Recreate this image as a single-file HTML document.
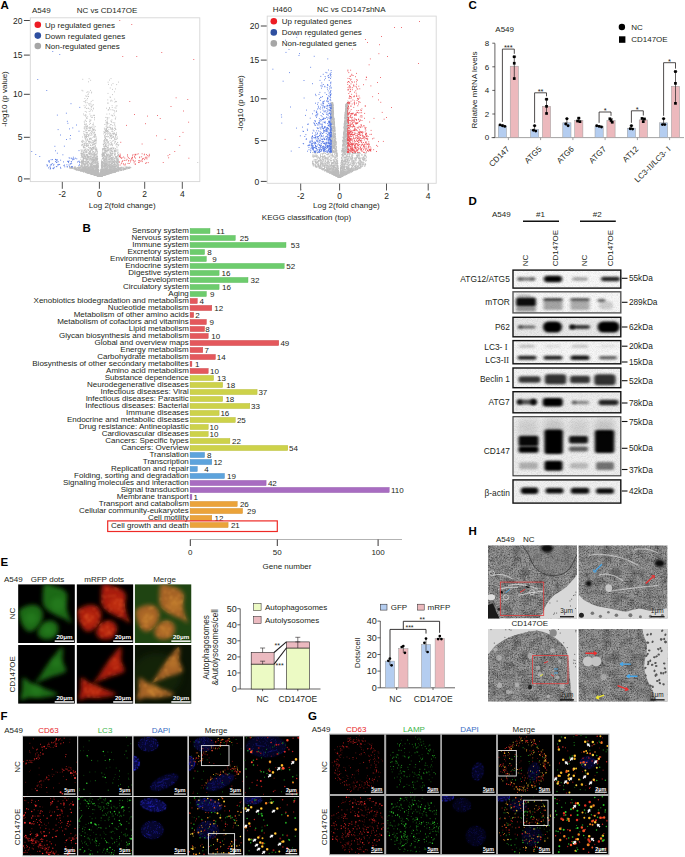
<!DOCTYPE html>
<html><head><meta charset="utf-8"><style>
html,body{margin:0;padding:0;background:#fff;}
#fig{position:relative;width:685px;height:857px;overflow:hidden;background:#fff;}
svg{display:block;}
text{font-family:"Liberation Sans", sans-serif;}
</style></head><body><div id="fig">
<svg width="685" height="857" viewBox="0 0 685 857" font-size="8" fill="#231f20">
<defs>
<filter id="b05" x="-30%" y="-30%" width="160%" height="160%"><feGaussianBlur stdDeviation="0.6"/></filter>
<filter id="b1" x="-20%" y="-20%" width="140%" height="140%"><feGaussianBlur stdDeviation="1"/></filter>
<filter id="bc" x="-30%" y="-30%" width="160%" height="160%"><feGaussianBlur stdDeviation="1.9"/></filter>
<filter id="b2" x="-30%" y="-30%" width="160%" height="160%"><feGaussianBlur stdDeviation="2"/></filter>
<filter id="b3" x="-30%" y="-30%" width="160%" height="160%"><feGaussianBlur stdDeviation="3"/></filter>
<filter id="bh" x="-30%" y="-100%" width="160%" height="300%"><feGaussianBlur stdDeviation="1.6 1.1"/></filter>
<filter id="tx" x="0" y="0" width="100%" height="100%"><feTurbulence type="fractalNoise" baseFrequency="0.75" numOctaves="2" seed="11"/><feColorMatrix type="matrix" values="0 0 0 0 0  0 0 0 0 0  0 0 0 0 0  3.2 0 0 0 -1.45"/><feComposite in2="SourceGraphic" operator="in"/></filter>
<filter id="txw" x="0" y="0" width="100%" height="100%"><feTurbulence type="fractalNoise" baseFrequency="0.7" numOctaves="2" seed="23"/><feColorMatrix type="matrix" values="0 0 0 0 1  0 0 0 0 1  0 0 0 0 1  3.0 0 0 0 -1.55"/><feComposite in2="SourceGraphic" operator="in"/></filter>
<filter id="txl" x="0" y="0" width="100%" height="100%"><feTurbulence type="fractalNoise" baseFrequency="0.12" numOctaves="3" seed="4"/><feColorMatrix type="matrix" values="0 0 0 0 0  0 0 0 0 0  0 0 0 0 0  2.4 0 0 0 -1.0"/><feComposite in2="SourceGraphic" operator="in"/></filter>
<filter id="em" x="0" y="0" width="100%" height="100%"><feTurbulence type="fractalNoise" baseFrequency="0.9" numOctaves="2" seed="3"/><feColorMatrix type="matrix" values="0 0 0 0 0  0 0 0 0 0  0 0 0 0 0  0 0 0 -1.6 1.05"/><feComposite in2="SourceGraphic" operator="in"/></filter>
<filter id="em2" x="0" y="0" width="100%" height="100%"><feTurbulence type="fractalNoise" baseFrequency="0.35" numOctaves="3" seed="8"/><feColorMatrix type="matrix" values="0 0 0 0 0  0 0 0 0 0  0 0 0 0 0  0 0 0 -2.2 1.25"/><feComposite in2="SourceGraphic" operator="in"/></filter>
<filter id="bn" x="0" y="0" width="100%" height="100%"><feTurbulence type="fractalNoise" baseFrequency="1.2" numOctaves="1" seed="5"/><feColorMatrix type="matrix" values="0 0 0 0 0  0 0 0 0 0  0 0 0 0 0  0 0 0 -0.9 0.55"/><feComposite in2="SourceGraphic" operator="in"/></filter>
</defs>
<rect x="30.3" y="17.8" width="169.5" height="163.8" fill="none" stroke="#d6d6d6" stroke-width="0.9"/>
<path d="M23.9 20.5L29.8 20.5" stroke="#444" stroke-width="1.0" fill="none"/>
<text x="22.4" y="23.6" font-size="8.5" text-anchor="end">20</text>
<path d="M23.9 55.1L29.8 55.1" stroke="#444" stroke-width="1.0" fill="none"/>
<text x="22.4" y="58.2" font-size="8.5" text-anchor="end">15</text>
<path d="M23.9 94.3L29.8 94.3" stroke="#444" stroke-width="1.0" fill="none"/>
<text x="22.4" y="97.4" font-size="8.5" text-anchor="end">10</text>
<path d="M23.9 137.3L29.8 137.3" stroke="#444" stroke-width="1.0" fill="none"/>
<text x="22.4" y="140.4" font-size="8.5" text-anchor="end">5</text>
<path d="M23.9 178.9L29.8 178.9" stroke="#444" stroke-width="1.0" fill="none"/>
<text x="22.4" y="182" font-size="8.5" text-anchor="end">0</text>
<path d="M62.3 181.9L62.3 188.8" stroke="#555" stroke-width="1.0" fill="none"/>
<text x="62.3" y="197" font-size="8.5" text-anchor="middle">-2</text>
<path d="M99.4 181.9L99.4 188.8" stroke="#555" stroke-width="1.0" fill="none"/>
<text x="99.4" y="197" font-size="8.5" text-anchor="middle">0</text>
<path d="M144.7 181.9L144.7 188.8" stroke="#555" stroke-width="1.0" fill="none"/>
<text x="144.7" y="197" font-size="8.5" text-anchor="middle">2</text>
<path d="M182.3 181.9L182.3 188.8" stroke="#555" stroke-width="1.0" fill="none"/>
<text x="182.3" y="197" font-size="8.5" text-anchor="middle">4</text>
<text x="32" y="13">A549</text>
<text x="76.8" y="13">NC vs CD147OE</text>
<text x="7" y="99" text-anchor="middle" transform="rotate(-90 7 99)">-log10 (p value)</text>
<text x="122.2" y="208.4" text-anchor="middle">Log 2(fold change)</text>
<path d="M101.9 168h0M98.6 176h0M95.7 171.6h0M125 169h0M69.9 167.9h0M96.2 174.1h0M81.2 162.5h0M90.2 159.2h0M86.9 160.1h0M118.8 162.3h0M94.3 173.3h0M120 170.7h0M96.1 173.4h0M110.9 120.9h0M106.4 172.6h0M100.9 175.6h0M81 165.6h0M110 172.1h0M84.2 169h0M103.9 163.3h0M88.1 154.1h0M107.6 171h0M106.1 168.4h0M97.6 174.1h0M103.2 173.1h0M91.7 172.4h0M82.4 164.2h0M81.7 141.7h0M107.2 172h0M100.6 175.9h0M96.6 168.2h0M103.1 173.9h0M103.4 174.4h0M103.1 170.1h0M91.3 149.2h0M86.5 170.5h0M93.4 171.4h0M95.5 174.2h0M84.3 147.5h0M84.3 170.4h0M94.1 165.6h0M115.9 129.5h0M101.6 175.5h0M127.8 167.7h0M96.7 174.3h0M90.5 173.2h0M115.6 150.2h0M115.6 150.1h0M88.6 135.2h0M107.6 173.8h0M113.5 169.2h0M90.9 130.4h0M96.2 172.5h0M107.8 152h0M102.7 175.4h0M111.1 147.8h0M98 163.9h0M85.3 170.7h0M87.4 169.9h0M98.8 175.5h0M84 164.5h0M86.6 160.4h0M84.3 166.3h0M108.5 171.7h0M105.7 138.5h0M101.8 175.3h0M93.5 167h0M105.1 137.9h0M94.5 174.8h0M88.2 96.5h0M102.6 169h0M110.6 169.2h0M93.3 169.9h0M93.6 153.9h0M90.6 173.6h0M97.8 175.3h0M111.9 169.6h0M100.6 174.9h0M95.5 175.2h0M95.3 175h0M99.2 175.3h0M102.4 171.2h0M92.6 117.3h0M105.8 172.6h0M84.3 164.6h0M92.5 171.7h0M115 107.8h0M98.5 172.7h0M72.4 167.7h0M102.2 175.7h0M102.5 156.4h0M95 171.2h0M101.3 172.8h0M106.4 172.7h0M95.3 161.2h0M92.8 173.3h0M111.6 154.8h0M102.4 159h0M104.5 148.1h0M98.8 176.1h0M98.3 171.1h0M87.7 157.1h0M95.7 175.3h0M96.7 175.3h0M106 144.7h0M86.3 167.1h0M107.2 154.8h0M96.6 159h0M78.9 167h0M98.9 175.9h0M92.2 157.4h0M103.6 165.8h0M98.3 175.7h0M77.2 169.8h0M92.3 159.5h0M85.6 172h0M105.1 174.9h0M111.5 164.8h0M101.6 160h0M107 174.3h0M92.5 170.7h0M103 158.1h0M106.7 143.8h0M80.8 170.8h0M85.9 115.6h0M113.3 148.1h0M97.5 175.6h0M107.6 174h0M104.1 153h0M102.6 173.5h0M104 174h0M102.6 167.2h0M109.4 166.2h0M106.7 163h0M98.7 175.6h0M100.8 172.7h0M105.9 164.2h0M100.7 175.9h0M113.4 170.2h0M90.3 156.1h0M117.9 170.1h0M86.5 171.5h0M116 108.1h0M106.4 122.1h0M84.5 154.8h0M101.4 163h0M84.8 153.8h0M111.2 100.2h0M86.5 169.8h0M101.4 162.4h0M98.8 176h0M105.9 174.6h0M103.3 174.2h0M100.5 176.2h0M100.7 172h0M105.8 164.5h0M93.4 161.1h0M95.9 156.7h0M109.7 137.9h0M96 173.8h0M88.5 168.3h0M86.5 171.1h0M93.6 174.7h0M110.8 166.7h0M115.6 129.3h0M91.3 163.3h0M105.6 165.5h0M112.7 172.4h0M89.3 171.7h0M100.4 176.2h0M112.3 172.8h0M90.8 165.2h0M116.8 165h0M95.8 174.1h0M106.8 168.2h0M104 174.1h0M92.5 169.7h0M113.3 161.1h0M101.4 171.7h0M95 163.1h0M109.5 80.1h0M86.3 144.6h0M94.2 170.6h0M105.6 164.4h0M97.3 174.1h0M83.7 172h0M96.8 174.7h0M83.1 170.7h0M100.8 175.8h0M75.8 168.2h0M75.7 168.6h0M114.6 151.1h0M82.5 168.3h0M98.7 172.8h0M88.9 167.6h0M100.5 176.2h0M101.4 175.5h0M98.5 174.9h0M103.1 173.5h0M90.8 169h0M84.2 171.8h0M124.9 167.1h0M120.6 168.8h0M83.9 169.3h0M110.6 167.7h0M94.3 173.5h0M82.7 170.4h0M97.3 160.2h0M118.2 168.1h0M87.2 143.5h0M97 173.1h0M103.5 173.6h0M86 145.1h0M115.2 168.3h0M105.1 170.2h0M112.5 166.4h0M90.2 138h0M110.3 150.8h0M97.3 167.8h0M102.5 174.9h0M95.7 175.2h0M102.2 164.3h0M102.7 150.4h0M91.2 101.4h0M89.5 172.6h0M72.4 167.9h0M120.3 170.2h0M93.3 160.2h0M101.2 174.7h0M105.2 138.1h0M114.7 169.7h0M113.2 110.2h0M120 168.9h0M129.1 167.9h0M110.8 171.5h0M105.8 153.1h0M114.9 166.9h0M94.5 174.2h0M92.1 169h0M108.6 167.4h0M85.8 167.7h0M126.8 167.3h0M100.6 173.7h0M115.9 161.8h0M102.6 155.5h0M98.8 174.1h0M75.7 169.3h0M85.3 169.9h0M103.4 173.2h0M112.5 89.4h0M110.7 153.3h0M109.8 171.2h0M116.5 134.1h0M105.5 145.2h0M78.9 169.8h0M124.1 168.4h0M101.4 163.6h0M86.3 154.6h0M116.6 168.1h0M99.3 176.3h0M99.1 175.1h0M97.8 167.2h0M97.3 175.3h0M111.5 148.7h0M83.7 152.5h0M101 174.4h0M86.2 135.4h0M92.1 159.5h0M82.3 162.4h0M100.9 171.5h0M102.2 175.7h0M112.3 160.8h0M100.8 176h0M102.8 174.7h0M87.2 172.4h0M91.3 170.7h0M97.3 164h0M88.2 108.1h0M94.4 174.3h0M116.9 151.4h0M106 171.9h0M90.2 158.9h0M111.9 155.7h0M107.8 99.9h0M97.6 172.9h0M104.8 153.5h0M103.9 171.4h0M106.1 139.7h0M93.2 174.6h0M94 166.8h0M88.3 157h0M80.9 162.4h0M105.3 173.9h0M107.3 174h0M116 157.8h0M88.2 159.1h0M84.8 155.3h0M101.5 165.3h0M113.6 168.1h0M95.8 169.4h0M96.1 174.7h0M81.8 164.3h0M129.5 167.5h0M90 127.7h0M83.2 160.3h0M100.8 171.9h0M117.2 159.7h0M104.4 173.2h0M90.6 90.4h0M87.8 159.4h0M93.5 173.8h0M110.9 170.6h0M96 172.3h0M109.1 166.9h0M116.6 159.3h0M104.2 173.2h0M85.6 136.3h0M85.5 169.3h0M98.8 175.8h0M94.3 143.8h0M104.6 175h0M85.2 138.4h0M115.1 165.9h0M101.1 174.4h0M102.3 175.1h0M86.8 136.4h0M91.3 173h0M108.3 145.3h0M110.6 97.3h0M102.8 174.8h0M81.9 165.1h0M109.7 166.8h0M96.4 172.7h0M82.7 170.6h0M115.9 139.1h0M103.9 144.1h0M89.9 169.2h0M99.1 175.5h0M117.8 159.7h0M86.5 166.6h0M99 174.7h0M90.4 158.4h0M92.6 162.5h0M100.3 176.2h0M108.9 133.9h0M96.4 167.5h0M100.5 175h0M97.7 175.3h0M111.9 171.8h0M79.7 168.8h0M96.4 175h0M106.5 130.7h0M99.3 176.3h0M92.8 173.1h0M121.6 170h0M110.5 173.4h0M80.9 167.2h0M110.2 150.9h0M107.8 162.3h0M102.2 154.5h0M90.7 170.2h0M82.2 166.1h0M98.8 170.8h0M104.9 175h0M95.5 175.1h0M101.5 175.7h0M98.8 176h0M98 161.5h0M104.3 174.9h0M75.1 168.7h0M105.3 161.4h0M91.9 161.7h0M103.3 169.9h0M104.7 150.2h0M98.5 169.9h0M85.7 158.1h0M88.2 162.9h0M124.8 169.5h0M100.9 176h0M117.6 144.7h0M103.3 155.7h0M109.4 159.4h0M97.4 175.7h0M103.6 175.1h0M87.6 170.5h0M89.5 168.6h0M102.6 173.4h0M90.2 138.6h0M91.3 173.6h0M82.7 142.2h0M79.4 169.4h0M104.5 172.4h0M82.8 171.1h0M107.2 171.2h0M92.2 168.9h0M97.9 175.5h0M103.7 141.9h0M95.4 145.8h0M102.8 156.1h0M112.8 167.3h0M116.4 171.4h0M94.4 174.7h0M98.3 172.8h0M82 154.2h0M78.9 168h0M98.4 172.7h0M109.9 134.3h0M112.4 171.8h0M96.3 171.2h0M116.4 165.6h0M111.4 142.1h0M97.1 175.5h0M114.7 163.6h0M97.8 175.7h0M92.3 173.9h0M82.9 153h0M116 168.3h0M94.1 174.7h0M97.6 175.3h0M103.5 175.3h0M94.4 173.8h0M115.7 161h0M82.6 151h0M118.4 160.1h0M103.4 144.5h0M87.9 91.7h0M102.1 174.6h0M99.2 176.1h0M111.2 129.5h0M92 167.3h0M102.9 148.6h0M90.1 169.9h0M92.4 173.2h0M126.3 168.5h0M101.4 175.2h0M113.7 171.1h0M114.7 160.5h0M112.9 165.3h0M108.7 165.7h0M96.1 174.6h0M111.7 172.6h0M96.4 173h0M95 163.2h0M83.3 169.2h0M119.5 169.1h0M88.9 104h0M82.3 153.4h0M118.9 167.5h0M98.2 175.5h0M90.2 120.6h0M91.4 171.1h0M108.3 172h0M105.8 173.3h0M93.5 168.5h0M115.9 171.5h0M91.3 173.8h0M112 151.3h0M101.6 175.8h0M112.8 157.3h0M85.8 170.2h0M89.9 119.8h0M103.5 153.2h0M115.7 142h0M83.1 156.3h0M97.3 173h0M88.3 130.8h0M99.3 176.3h0M96.6 167.9h0M93.4 172.8h0M110.1 138.1h0M95.9 167.5h0M97.9 164.4h0M80.6 169.8h0M100.4 175.4h0M102.3 174.1h0M96.7 175.6h0M92.8 171.1h0M87.7 172h0M93 160h0M95 168.5h0M92.4 147.7h0M88.5 171.9h0M96.8 171.8h0M104.5 172.4h0M129.6 167h0M105.9 169.1h0M89.3 169.3h0M103.7 169.4h0M91.5 173.7h0M89.9 172.6h0M107.9 161.7h0M106.6 172.1h0M106.3 168.7h0M85.4 171.1h0M104.3 165.1h0M98.9 175.7h0M96.2 166.7h0M105.3 152.3h0M108.6 173.4h0M114.8 171.9h0M95.6 173.2h0M101 176.1h0M109 159.6h0M96.2 175.4h0M99.2 175.8h0M95 152.5h0M93.1 155.1h0M92.6 151h0M81.2 161.5h0M98.8 175.9h0M103.6 175h0M111.8 169.4h0M105.6 157.3h0M87.7 172.9h0M104.3 174.9h0M98.3 171.6h0M101.9 175.6h0M121 167.3h0M94.7 173.9h0M103.1 174.4h0M89.8 173.6h0M102.1 174.4h0M102.2 175.7h0M112.6 165.6h0M89.5 171.2h0M100.4 175.8h0M108.7 170.5h0M91.8 169.9h0M103.5 175.1h0M92.6 145.4h0M104.1 169.8h0M107.7 172.4h0M101.3 171.5h0M109.3 127.2h0M81.6 171.2h0M84.2 143.6h0M100.4 175.8h0M100.4 175.4h0M96.6 173.4h0M113.8 157.4h0M105.4 173h0M111.5 170.5h0M107.7 158.8h0M96.8 166.4h0M107.8 127.7h0M96.2 167.9h0M87.2 126.8h0M97.8 171.5h0M106.7 172.1h0M88.9 135.7h0M104.3 149.1h0M89.8 121.6h0M90.5 127.3h0M97.2 163h0M98.7 176.1h0M98.4 174.3h0M88.4 141.5h0M109.3 164.2h0M96.8 174.3h0M101.6 175.7h0M92.3 172.9h0M93 157.4h0M98.5 176.1h0M100.3 176.3h0M106.9 169.2h0M106.7 161.4h0M100.4 176.3h0M97.9 165.3h0M80.5 167.8h0M92.7 169.7h0M99 175.7h0M110.6 169.7h0M105.9 172.8h0M80.3 171h0M95.2 154.4h0M105.4 170.3h0M89 134.9h0M85.7 151.2h0M91.5 173.5h0M83.4 170.3h0M108.9 159.4h0M114.7 138.3h0M106.3 174.4h0M112.1 172h0M93.1 173.9h0M106.1 174.6h0M93.5 172.6h0M114.4 133.1h0M104.7 171h0M93.3 159.8h0M96.5 171.9h0M105.4 158.7h0M84.9 107.7h0M112.4 141.1h0M90.5 172.9h0M109.5 166.3h0M96 149.5h0M116.6 101.6h0M98.7 175h0M95 172.5h0M91 160.9h0M101.7 165.5h0M106.1 169.7h0M112.9 170.7h0M111.6 167.6h0M95.8 159.8h0M88.4 173.1h0M115.5 136.9h0M81.8 169.2h0M109.6 107.6h0M101.8 162.5h0M88 167.2h0M110.1 169h0M106 159.7h0M106.8 165.4h0M117.7 163.7h0M86.6 130.3h0M93.5 170.9h0M105.2 171.6h0M101.2 176h0M111.8 163.1h0M94.1 173.3h0M103.9 174.8h0M79.7 167.3h0M108.2 110.3h0M94.8 170.2h0M102.7 154.3h0M103.4 175.4h0M92.7 173.8h0M92.3 174.3h0M96.3 171.1h0M105.4 146h0M90.9 169.2h0M98.9 176.1h0M104.8 173.1h0M93.6 172.1h0M93.3 159.4h0M96.3 175h0M97.6 175.6h0M113.5 136.4h0M81 149.9h0M114.9 168h0M117.8 162.1h0M106.2 165.5h0M89.7 163.8h0M93.5 148h0M94.5 166.7h0M87.5 172.5h0M101.4 175h0M84.5 166.7h0M102.1 174.9h0M113.7 166.4h0M93.2 173.7h0M115.4 158.1h0M109.3 171.5h0M98.8 175.5h0M104.4 171.5h0M126.4 167.4h0M92.6 147.9h0M109 155h0M91.6 170.6h0M108.5 172.1h0M92.7 171.2h0M113.7 137.1h0M75.1 169h0M118 170.7h0M103.3 175.2h0M90.2 153.6h0M93.2 170.6h0M101.7 174.4h0M99.1 176.2h0M97.4 175.5h0M102.2 175.5h0M103.5 173.9h0M96.6 173.8h0M87.5 169.5h0M91.7 173.9h0M102 167.2h0M106.2 172.2h0M101 175.2h0M117.7 158.3h0M94 161.9h0M99.3 176.4h0M103.3 174.3h0M86.9 148.9h0M105.7 164.8h0M88.5 171.4h0M112.8 153.5h0M83.1 157.5h0M104.6 163.5h0M93.9 165.8h0M79.9 167.4h0M112.1 166.6h0M98.1 174.1h0M104.7 174.1h0M107.6 154.9h0M104.4 159.9h0M99.1 176.2h0M102.5 169.4h0M102.1 174.7h0M103.8 160.6h0M105.7 135h0M114 161h0M84.5 170.8h0M87.8 170.4h0M106.4 170.6h0M108 162.6h0M87.6 161.1h0M89 168.7h0M96.7 160.2h0M96.7 166.7h0M89.8 141.4h0M98.6 175.5h0M95.9 163.4h0M101.6 168.9h0M102.7 174.5h0M88.7 150.7h0M88.2 172.1h0M106.3 169.9h0M93.7 168.7h0M98 175.2h0M79.1 167.8h0M112.1 161.5h0M90.2 151.1h0M104.4 162.5h0M97.7 172.7h0M82.5 156.8h0M87.6 98.5h0M94.1 159.3h0M96 150.2h0M110.7 148.9h0M83.4 146.1h0M83.6 146.9h0M117.2 161.2h0M84.6 168.5h0M114.7 130.5h0M102.8 167.6h0M108.7 136.6h0M101 170.5h0M88.1 165.5h0M104.9 169.6h0M101.1 170.9h0M106.8 173.7h0M105.5 169.5h0M97.6 175.8h0M97.6 172.9h0M84.9 156.6h0M110.5 173h0M94.5 117.9h0M107 163.9h0M112.9 167.7h0M118.6 166.8h0M103.3 148.4h0M102.1 156.5h0M97 152.9h0M115.5 168.5h0M89.1 128.2h0M112.5 171.8h0M85.2 111.5h0M108.1 149.7h0M97.1 161.7h0M103.3 173.3h0M90.5 116h0M105.4 150.6h0M120.4 167.7h0M114.8 172.1h0M114.1 153.1h0M107.5 150.9h0M84.1 169.6h0M106.5 171h0M112.3 170.7h0M100.4 176.3h0M106.6 151.2h0M95.4 141.1h0M87 118.4h0M118 150h0M109.2 161.8h0M93 173.9h0M104.8 137.1h0M104.4 132.6h0M85.4 157.8h0M86 137.6h0M105.7 174.1h0M101.6 171h0M107.1 136.7h0M109.3 113.9h0M93.9 148.8h0M102.4 174h0M93.5 108.2h0M104.9 174.2h0M112.1 105.7h0M111.5 148.4h0M94.9 174.8h0M102.4 175.4h0M84.8 167.8h0M105.8 117.4h0M95.4 174.9h0M87.6 164.2h0M82 153.4h0M82.9 154.7h0M85.5 171.6h0M114.3 159.7h0M96.4 166.2h0M75.8 168.8h0M113 83.6h0M92.7 163.7h0M100.6 173.9h0M84.2 127.1h0M104.7 154.5h0M97.8 163.6h0M97.4 175.7h0M86.4 169.5h0M105.6 159.2h0M87.5 172.6h0M97.9 174.2h0M112.2 133.5h0M126.3 167h0M91.8 170.3h0M96.3 139.1h0M97 153.5h0M99 172.7h0M108 174h0M98.1 175.7h0M100.5 175h0M95.4 140.1h0M94.4 173.5h0M88.9 147.2h0M84.4 158.1h0M112.1 101h0M83 144.3h0M96.6 173.6h0M129.1 168.1h0M99.1 175.8h0M88.1 166.2h0M81.2 154.1h0M97.2 155.1h0M94.6 170.6h0M95.8 173.3h0M101.1 174.9h0M103.6 173.9h0M91.3 169.4h0M106.5 163.2h0M103.4 163.6h0M101.9 169.5h0M89.8 128.8h0M71.2 167.6h0M88.8 172.3h0M96 166.9h0M94.8 160.3h0M104.1 171.6h0M83.7 158.4h0M81.4 161h0M114.9 164.7h0M98.8 175.1h0M101.1 175.6h0M111.2 173.3h0M90.5 166h0M93.5 160.6h0M92.5 157.6h0M98.9 175.2h0M101.8 173.1h0M98.6 175.5h0M98.3 172.2h0M104.1 165h0M103.7 174.9h0M91.6 173.4h0M98.1 174.6h0M114.6 171.8h0M102 175.6h0M100.5 176.2h0M87.7 169.2h0M103.4 170.6h0M98.7 175.4h0M118.7 170.8h0M93.8 174.2h0M111.6 150.6h0M90.9 164.4h0M90.7 173.7h0M106.7 174.1h0M108 173.5h0M89.9 139.2h0M97.3 156.8h0M95.4 157.9h0M74.9 168.7h0M99.1 176.2h0M92.8 144.2h0M93.3 170.3h0M79.4 167.8h0M97.9 170.5h0M115.2 126.1h0M93.8 170.8h0M114.7 143.3h0M91 172.7h0M93.5 151.5h0M83.7 161.5h0M104.2 155.4h0M92.1 171.1h0M92.3 130h0M98 171.6h0M109.5 171.5h0M84.7 123h0M105 163.9h0M84.8 164.7h0M105.6 120.7h0M107.2 165.9h0M93.2 148.3h0M97.3 175.5h0M97 149.2h0M76.8 169.8h0M111.2 144.6h0M101.8 174.2h0M96.1 174.5h0M111.7 158.8h0M109.4 161.9h0M118.3 161.5h0M97.2 175.4h0M115.9 159h0M83.2 159.4h0M101.6 171.1h0M98.2 175h0M92.9 173.7h0M96.1 175.4h0M93.2 172.8h0M100.6 175.7h0M98.1 176h0M91.3 154.3h0M129.3 168.1h0M90.5 145.5h0M112.2 172.1h0M105 168.6h0M106 149.9h0M87.4 165.6h0M96.6 168.6h0M103.8 173.8h0M101.3 176h0M89.7 172.5h0M105.7 137h0M108.4 84.4h0M106.7 169.8h0M100.8 176h0M92.6 167.6h0M97.6 175.4h0M108.7 165.5h0M98.6 175.8h0M113.5 161.9h0M114.2 170.7h0M115.8 150.8h0M102.9 174.6h0M97.9 166.1h0M91 158.1h0M84 154.8h0M81.3 170h0M104.5 174.8h0M123.9 168.8h0M106.6 129.7h0M107.7 123.2h0M97.9 174.1h0M108.9 161.4h0M81.3 170h0M85.7 107h0M99.2 175.5h0M99.2 176.3h0M85.8 124.9h0M112.7 170.4h0M101 175.4h0M112.6 151.5h0M97.1 158.9h0M93.3 148h0M104.1 160h0M102.9 175.5h0M94.8 140.6h0M97.6 168.9h0M99 176.3h0M85.4 167.9h0M92.2 170.9h0M113.5 170.2h0M111.1 172.7h0M103.8 174.6h0M72.5 167.3h0M94.7 172.5h0M87.4 162.2h0M104.3 175.2h0M83.4 147.3h0M116.1 162.3h0M102.6 167.4h0M103.6 173.3h0M97.3 152.8h0M76.3 168.4h0M86.7 154.8h0M74.8 168.9h0M84.4 137.1h0M89.3 130.6h0M98.6 171.3h0M95 171.4h0M102.1 167.6h0M94.3 136.8h0M86.8 172h0M93.9 136.6h0M82.9 155.3h0M114.9 167.1h0M102.9 166.6h0M88.6 162.6h0M89.7 171.7h0M113 167.4h0M93.8 173.1h0M109.6 171h0M101.6 173.8h0M98.3 172.1h0M93.8 171.5h0M86.9 162.7h0M104.5 160.1h0M96.3 173.8h0M117.8 161.3h0M105.4 173.6h0M95.5 175.2h0M89.9 148.6h0M108.6 156.2h0M109.3 165.5h0M94.3 172.1h0M89.3 172.9h0M97.2 168.4h0M95.3 161.8h0M97.3 171.3h0M91.7 173.8h0M91.2 143.2h0M94.6 155.5h0M95.5 134.7h0M91.1 172.9h0M98.5 174.9h0M115.8 117.1h0M108.6 171.2h0M111.1 158.4h0M88 140.3h0M104.3 164.3h0M95.4 162.5h0M93.3 173.6h0M81.2 168.9h0M89.9 154.3h0M107.2 163.7h0M112.2 159h0M98.3 173.6h0M106.5 154.5h0M102.9 174.8h0M107.9 166.9h0M110.6 170.1h0M115.5 156.4h0M108.6 142.6h0M114.4 133.8h0M110.4 136.5h0M101 175.9h0M105.1 152.2h0M85.1 152.4h0M105.1 174.9h0M103.7 172.2h0M85.2 155.2h0M107.6 171.7h0M106 153.3h0M105.5 163.7h0M115.9 166.1h0M115.5 134.6h0M106.4 171.2h0M104.7 161.4h0M93.5 170.9h0M99.2 176.2h0M85.8 114.6h0M105.8 131.4h0M91.4 168.1h0M88.6 161.5h0M92.9 172.6h0M97.7 171.9h0M92.8 132.3h0M81.8 169.2h0M98.2 174.5h0M92.9 152.3h0M129 168.3h0M89.5 138.6h0M91.9 106.6h0M93.1 155.8h0M98.8 175h0M87.5 170.2h0M101.1 169.4h0M95.3 175.1h0M93.1 160.9h0M88.4 161.4h0M109.7 172.2h0M92.4 173.8h0M97.7 175.8h0M93.2 129.6h0M83 171.4h0M94.8 167h0M84.9 98.5h0M99.2 176.1h0M92.5 173.4h0M104.3 171.1h0M103.1 174.2h0M93.1 169.6h0M106.4 173.7h0M85.4 171.7h0M98.4 175.8h0M103 174.7h0M102.9 175.6h0M118.1 152.1h0M101 175.9h0M96.2 149.9h0M107.4 174.3h0M110.3 165.8h0M103.2 171.3h0M97.4 171.4h0M101.3 174.3h0M106.6 173.2h0M91 169.5h0M95.6 158.2h0M94.2 166.7h0M115.8 171.6h0M117 170.6h0M85.8 142.8h0M101.5 171.1h0M110.6 171.3h0M104.9 172.1h0M94.5 153.8h0M95 173.7h0M82.6 144.4h0M101 175h0M97.7 169.1h0M107.6 173.7h0M94.7 173.6h0M113.9 113.8h0M83.7 169.6h0M84.6 168.7h0M93.7 174.5h0M84.3 168.6h0M113.1 168.9h0M97.9 174.3h0M106.4 159h0M98.7 176.2h0M112.9 163h0M96.3 172.2h0M88.3 145.1h0M107.2 140.7h0M96 175.3h0M91 171.4h0M108.8 169.2h0M96.9 169.7h0M112.2 172.5h0M114.5 160.8h0M102.5 175.7h0M127 168.8h0M103.5 166.4h0M91.4 148.2h0M112.1 162.5h0M101.4 175.5h0M112.1 157.4h0M102.6 163.2h0M88.5 171.4h0M85.1 151.5h0M116.9 169.6h0M91.9 173.2h0M91.9 153.4h0M88.2 168.8h0M96.1 158.5h0M87.3 156.7h0M94.6 159.7h0M88.9 156.6h0M105.6 142.8h0M103 174.1h0M97.5 165.1h0M115.3 170.4h0M93.7 154.1h0M87.7 158.1h0M90.9 169.5h0M106.2 128.8h0M106.2 146.3h0M101.8 174.2h0M111.7 169.2h0M102.6 174.9h0M111.5 163.5h0M90.3 171.6h0M97.8 172.6h0M105.5 168.7h0M107 141.5h0M83.3 160.9h0M92.4 173.3h0M110.4 155.3h0M94.4 174.8h0M109.7 158.4h0M87.7 163.4h0M100.8 176.2h0M87.4 139h0M88.4 172.3h0M87 168.6h0M92.4 128.9h0M103.6 154h0M97.7 174.4h0M99.2 174.7h0M107.6 174h0M100.5 174.2h0M114 166.3h0M87 126.5h0M110.2 171.6h0M113.9 161.6h0M100.5 176h0M86.6 112.1h0M111.6 135.7h0M95.7 165.7h0M83.3 158.3h0M85.1 165h0M96.8 175.3h0M108.6 173.4h0M97.1 164.7h0M110.2 164.9h0M80.8 159.3h0M90.5 170.9h0M103.9 171.4h0M74.2 167.1h0M82.8 171.3h0M92.8 152h0M97.9 173.3h0M108.7 171.9h0M119.3 167.9h0M97.5 174.5h0M78.3 168.8h0M98.4 175h0M83.3 162.8h0M88.8 161h0M121.7 170.1h0M91.8 158.3h0M98.9 174.7h0M92.6 154.8h0M101.2 168.8h0M105.4 170.5h0M92.3 170h0M110.7 170.1h0M114.9 171.7h0M106.5 161h0M114.2 171.4h0M96.4 169.4h0M94.7 158.6h0M108.3 131.4h0M95.8 174.8h0M84.1 167.3h0M106.3 174.6h0M108.4 172.8h0M113 168.9h0M97.2 175.1h0M108.3 109.5h0M93.1 140.6h0M107.7 170.1h0M94.8 157.7h0M86.6 163.7h0M94.7 173.9h0M107.1 119.8h0M108.2 170.8h0M105.5 174.8h0M100.3 176.3h0M106.8 164.6h0M101.1 176h0M93 174.2h0M104.7 148h0M103 171.9h0M114 133.2h0M110.6 170.2h0M113 129.4h0M116.2 165.8h0M98.1 173.2h0M94.8 174.4h0M82.8 79.3h0M98 175.5h0M99 176.2h0M101.3 175h0M93.2 161.5h0M102.2 167.4h0M69.9 168.1h0M96 137.6h0M89.5 143.2h0M129.9 167.5h0M113.1 168.5h0M111.9 164.8h0M74.6 168.3h0M116.3 157.5h0M109.4 171.7h0M118 167.6h0M76.6 169.5h0M87.4 140.1h0M81.5 165.4h0M95.2 126.6h0M118.2 156h0M75.3 167.1h0M84.6 145.6h0M107.2 173.9h0M91.3 170h0M115.7 171.1h0M100.5 176.2h0M103.3 175.3h0M76.3 169.4h0M98.6 175.8h0M102 175.8h0M107.4 173.9h0M81.8 151.2h0M96.7 175.6h0M105.8 129h0M111.6 144.4h0M105.1 160.7h0M111.2 171.8h0M99 173.2h0M107.9 173.5h0M111.9 163.3h0M94.9 157.4h0M105.8 173.9h0M102.8 174.4h0M104 156.1h0M104.7 171.6h0M96.2 173h0M102.9 167.7h0M106.4 168h0M99 172.9h0M111.9 119.9h0M91.8 158.2h0M91.3 171.2h0M104.9 160h0M108.7 141.5h0M88.2 169.6h0M98.6 176.2h0M96.3 157h0M97 174.5h0M103 168.8h0M96.8 175.4h0M116.9 162.1h0M85.4 161.3h0M115.4 172.1h0M110.6 170.3h0M98.5 175.5h0M87.3 171.9h0M102.6 167.5h0M98.7 174.4h0M92.5 147.4h0M94.6 173h0M98.4 170.5h0M108.2 170.9h0M96.5 170.8h0M113.8 137.2h0M89.8 158.5h0M86.3 143.7h0M97.5 174.7h0M98.7 170h0M107.5 154.9h0M96.6 172.3h0M109.9 165.5h0M114.3 158.5h0M84.5 156.5h0M98 175.9h0M114.2 151.9h0M91.3 117.4h0M91.5 173.3h0M72.4 168.5h0M105.8 170h0M114.6 170.8h0M93.3 174.2h0M109.4 172.7h0M121.8 170h0M98.1 175.4h0M96.7 167h0M113.4 168.8h0M81.4 154h0M96.5 169.7h0M105.6 174.7h0M92.9 165.6h0M114 170.3h0M91.9 172h0M101.9 165.3h0M110.2 170.5h0M86.5 159.5h0M97.8 174.2h0M107.5 130.8h0M101.7 163.1h0M107 172.7h0M93.7 174.7h0M83.6 169.1h0M122.8 167.5h0M74.9 167.7h0M107.2 148.1h0M98.3 174.7h0M130.1 167.1h0M87.2 132.5h0M98.9 176.2h0M106.6 158.1h0M86.4 169h0M112.5 129.1h0M99 176.2h0M115.9 171.7h0M87.5 156.2h0M96.2 175.2h0M81.7 170h0M92.8 131h0M87.4 171h0M85.5 164.3h0M98.8 175.6h0M98.6 171.6h0M113.3 140.6h0M84.3 170.4h0M86.4 166.2h0M110.8 172.7h0M106.1 129.6h0M90.5 164.1h0M83.2 158.7h0M86.7 152.5h0M97.2 167.6h0M89.8 168.9h0M106.5 173.3h0M110.9 165h0M100.5 175.4h0M98.5 176h0M115.8 135.6h0M95.6 171.8h0M101.5 174.4h0M128.3 168.4h0M107.4 117.9h0M88.5 168.5h0M86.6 172.3h0M94.5 148h0M119 167.7h0M109.1 166.4h0M92.7 173.2h0M107.1 168.6h0M93.6 165.6h0M108 161.1h0M107.8 127.5h0M93.2 133.3h0M107.2 168.3h0M104.1 161h0M114.5 91.8h0M97.6 173.8h0M105.5 169.8h0M114.6 150.2h0M87.2 139.7h0M98.8 176.1h0M88.4 161.5h0M106.4 140.4h0M101.1 173.6h0M91.2 172.2h0M106 173.7h0M103.6 157.8h0M92.5 172.4h0M101.5 172.3h0M100.4 176.1h0M90.4 173.4h0M90.6 173.6h0M96.1 170.6h0M102.1 171.9h0M102.9 173h0M101.8 174.9h0M113.3 133.4h0M95.2 160.5h0M108.5 171.8h0M90 151.6h0M103.7 175.1h0M97.5 172.7h0M107.8 148.1h0M102 174.7h0M88.3 165.9h0M109.7 162.7h0M101.9 175.8h0M88.9 158.3h0M84.5 163.7h0M97.1 169.2h0M96.5 175.2h0M99.2 175.6h0M91.6 131.7h0M78.3 169.8h0M113.5 164.7h0M82.9 157.3h0M118.5 168.3h0M115.7 136.1h0M101.5 162.9h0M108.4 147h0M99 175.7h0M96 171.9h0M115.6 166.5h0M114.7 163.7h0M86.8 155.3h0M83.9 171.6h0M115.3 170.4h0M91.6 165.9h0M92 150h0M89.1 147.7h0M91 172.4h0M74.4 168.6h0M105.9 174.5h0M87.4 146.1h0M91.3 107.2h0M83.3 169.6h0M117.7 169.2h0M114.3 171.5h0M99.2 176.3h0M93.5 168.7h0M103.1 153.8h0M100.6 175.1h0M102.8 171.9h0M120.1 169.4h0M108.9 145h0M88.8 141.5h0M89.4 153.5h0M91.9 159.6h0M97.5 175.6h0M89.1 171.2h0M90.5 171.9h0M101.6 175.8h0M97.7 175.6h0M94.2 173.1h0M95 165.7h0M101.4 173h0M94.9 134h0M96.1 168.6h0M106.9 131.4h0M115.1 164.9h0M86.4 172.7h0M98.7 175.4h0M111.8 131.3h0M86 168.7h0M85.2 169.8h0M92 169.3h0M83.8 167.8h0M103.5 144.8h0M84.9 168.1h0M121.8 169h0M83.5 153.9h0M91.2 173.6h0M109 173.7h0M104.3 172.8h0M97.6 175.2h0M84.2 143.5h0M117 150h0M86 172.1h0M94.3 174.2h0M95.6 173h0M85.2 166.7h0M100.6 173.2h0M87.3 171.7h0M97.3 169h0M88.3 169.5h0M94 160.2h0M93.5 160.1h0M101.6 173.7h0M105.6 130.6h0M116.9 161.9h0M112.5 154h0M86.8 132.4h0M97.9 173.5h0M112.5 161.1h0M104.6 143.5h0M100.7 173h0M101.3 165h0M86.8 170.8h0M103.7 174.3h0M96.2 174.7h0M89.9 160h0M92.4 172.8h0M104.9 163.3h0M125.6 169h0M102.7 174.5h0M93.9 172h0M94.9 163.7h0M104.2 166.7h0M115.9 156.9h0M83.9 133.4h0M97.9 175.6h0M86 172.3h0M123.5 169.4h0M86.9 100h0M78.5 167h0M111 78.6h0M101.3 175.8h0M90.8 173.5h0M101.7 170.5h0M96.5 159.8h0M104.1 172.6h0M102.5 149.5h0M102 164h0M98.7 176.2h0M91 170.2h0M108.8 154h0M107.3 172h0M91.6 109.3h0M87.3 161.4h0M94.8 174.9h0M104.5 173.7h0M111.3 171.9h0M102.6 175.6h0M84.2 158.9h0M91.3 163.4h0M89.3 105.2h0M104.4 141.4h0M102.7 172.2h0M96.2 138.9h0M111.5 164h0M93.6 157.6h0M96.2 174.7h0M101.9 174.8h0M99.1 175.5h0M102.2 162.7h0M106.1 174.2h0M107 122.4h0M94.1 132.8h0M103.5 154.1h0M116.3 162.5h0M96.8 174.5h0M94.6 174.2h0M85.1 170.7h0M125.5 169h0M98.2 171.1h0M116.6 168.3h0M108.2 168.6h0M104.4 175h0M123.4 168.3h0M100.9 174.8h0M93.4 163.6h0M101.8 172.9h0M106.5 129.2h0M97.6 159.9h0M112.2 171.3h0M98.6 174.2h0M101.5 174.6h0M113.4 170.4h0M100.9 172.6h0M98.4 165.1h0M104 131.5h0M101.5 173.9h0M117.1 165.6h0M83.9 171.1h0M95.9 175.3h0M90.5 147.5h0M90.4 168.7h0M74.9 169.2h0M103.7 174.6h0M84.1 134.9h0M93.9 144.3h0M95.7 175.2h0M102.8 165h0M84.8 146h0M84.5 169.8h0M92 171h0M95.8 173.3h0M109.7 173.6h0M103.5 159.3h0M84.8 141.9h0M86.7 170.8h0M113.5 162.2h0M115.2 168.3h0M92.8 168.3h0M90.9 173.6h0M101.3 174.4h0M93.9 171.7h0M92.4 162.1h0M103.9 140.5h0M100.6 175.1h0M103.3 148.9h0M82.5 137h0M101.5 172.6h0M121.1 170.2h0M90.2 173.6h0M93 160.9h0M89.4 171.5h0M100.9 169.8h0M90.9 173h0M110.8 135.7h0M80.8 169.1h0M90.3 158.4h0M86.7 155.1h0M97.6 175.3h0M95.2 130.6h0M86.2 154.3h0M86.5 172.1h0M86.4 166.6h0M82 170.1h0M114.9 171.8h0M111.6 167.3h0M115.6 170h0M104.4 172.7h0M93.3 169.6h0M108.1 165.4h0M115.5 169.1h0M109.5 170.5h0M104.1 174.7h0M81.8 156h0M101.2 175.8h0M110 144.4h0M101 175.8h0M89.9 168.6h0M102.7 158.6h0M82 90.3h0M95.1 172.9h0M111.1 160.1h0M112.1 157.8h0M85.4 158.1h0M102.3 158.6h0M83.3 167.1h0M104.9 175h0M95.4 170h0M98 167.5h0M101.5 175.9h0M93.6 174.6h0M102.1 175.6h0M93.6 160.4h0M93.4 104.8h0M98.2 175.8h0M92.6 171h0M101 175.7h0M81.9 161h0M108.4 170.6h0M103.9 163.7h0M97.5 172.2h0M100.7 176.1h0M88 166h0M81.2 166.6h0M97 169.1h0M84 152.6h0M95.8 170.8h0M95.7 173h0M81.1 170.4h0M114 171.9h0M117.2 168.9h0M104.7 172.4h0M98.8 175.8h0M110.4 173.2h0M104.1 145.9h0M96.7 174.9h0M105.4 138.7h0M97.6 175.7h0M95.1 171.6h0M88 171h0M101.7 175.8h0M95 160.1h0M114.8 154.7h0M98.7 174.2h0M98.2 163.9h0M93.9 173.1h0M86 164.4h0M97 173h0M99.3 176.3h0M103.8 146.6h0M106.3 159.5h0M107 123.5h0M92.5 161.3h0M90.4 170.7h0M84.8 129h0M104.7 173.5h0M86.5 121.4h0M101.5 175.4h0M93 160.2h0M85.2 137h0M115.4 153.9h0M114.8 164.1h0M103.3 173.6h0M115.9 164.4h0M91 170.5h0M101.3 175.1h0M90.9 152.4h0M102 175.8h0M99.1 175.8h0M96.5 169.4h0M105.1 166.7h0M98.7 170.7h0M92.1 166.6h0M70.9 168.2h0M114.8 112h0M86.7 134.8h0M89.3 172.4h0M101.8 175.4h0M106 122.8h0M101.9 173.6h0M99 176h0M113.5 159.4h0M107.7 118.9h0M88 145.3h0M97 175.5h0M93 165h0M107.2 171.9h0M86 172.2h0M75.5 167.1h0M107.1 172h0M87.8 134.6h0M104.6 170h0M87.1 170.1h0M84.8 150.4h0M91.4 167.5h0M78.7 170.6h0M82.6 170.6h0M96.4 169.9h0M120 168.9h0M113.5 134.3h0M98.8 173.9h0M102.8 174.7h0M93.6 158.3h0M101.2 169.7h0M92.7 140.7h0M100.7 171.8h0M98.6 175.6h0M114.2 153.8h0M87.7 172.1h0M98.9 174h0M97.4 159.3h0M94.7 144.7h0M91 167.8h0M91.8 149.3h0M96.5 169.3h0M97.7 164.9h0M105.3 173.6h0M98.7 176.1h0M103.3 174.1h0M101.8 165.1h0M104.8 172.8h0M93.9 149.3h0M102.1 170h0M90.7 150.7h0M87.8 155.8h0M97.5 175.4h0M103.1 170.3h0M94.5 173.8h0M97.6 175.6h0M104.4 135.6h0M83.8 167.7h0M96.8 164.9h0M105 148.7h0M113.3 172.6h0M80.1 167h0M99.1 175.9h0M93.9 173.3h0M97.2 175.4h0M119 168.7h0M96.8 175.1h0M95.9 174.5h0M100.9 171.6h0M109.1 171.3h0M112.9 172h0M86.3 117.3h0M93.9 165.3h0M98.3 174.6h0M106.5 174.3h0M86.6 172.6h0M90.3 167h0M101.4 175.7h0M125.8 168.9h0M109.4 172.8h0M106.9 125.7h0M84 165.5h0M116 137.7h0M110.1 159h0M104.3 164.5h0M103.4 169.7h0M112.9 162.5h0M113.1 156.3h0M96.3 157.9h0M108 143.8h0M104.8 174.3h0M95.7 149.1h0M111.4 165.7h0M107.5 130.4h0M88.8 149.6h0M116.7 84.6h0M90.6 123.5h0M84.2 169h0M93 171.1h0M92 173.7h0M123.6 169.7h0M96.2 159.5h0M98.1 175.6h0M92.3 171.2h0M96.4 175.2h0M102.3 175h0M115.3 118.9h0M85 170.1h0M96.7 170.5h0M86 145.5h0M103.3 173.6h0M87.1 126h0M92.5 169h0M106.4 169.1h0M109.1 172.5h0M106.5 165.3h0M107 139.8h0M97.9 174.8h0M87.4 128.9h0M107.8 166.8h0M104.9 173.7h0M77.9 167.5h0M97.7 158.9h0M95.2 171.6h0M98.7 169.8h0M114.9 164.4h0M94.8 134.6h0M81.5 153.7h0M104.8 174.2h0M107.9 155.7h0M107.9 136.8h0M104.5 167h0M89.9 154.2h0M74.6 167.4h0M102.2 173.8h0M82 169h0M96.6 159.9h0M108 170.2h0M98.5 167h0M85.4 166.2h0M104 170.9h0M109.2 173.7h0M100.5 175.3h0M93.4 130.3h0M87.6 145.3h0M99 176.2h0M106.1 171.4h0M95.6 159h0M94.8 139.7h0M85.3 120.1h0M101.2 173.4h0M110.1 172.9h0M107.8 174.3h0M89.9 114h0M103.9 172.7h0M99 176.2h0M110.8 172.5h0M104.6 174.9h0M104.2 173.5h0M110.1 163h0M94 172.6h0M89.8 170.8h0M85 101.8h0M95.9 169.4h0M114.1 167h0M110.4 166.3h0M103.7 153.3h0M87.1 156.2h0M91.4 138.9h0M118.7 170.7h0M97 159.6h0M82.3 162.6h0M106.8 174h0M104.1 152h0M101.3 170.9h0M92.7 173.8h0M107.8 172.9h0M85.6 159.8h0M82.7 167.3h0M111.4 138.1h0M89.3 173.6h0M96.9 172.4h0M98.6 175.5h0M99 175.4h0M104.4 166.5h0M96.3 164.8h0M96.2 172.8h0M95.5 173.5h0M83 141.8h0M85.2 152.7h0M112.3 158.4h0M106.8 171.4h0M82.9 154.3h0M102.1 175.5h0M95.8 170.5h0M103.7 171h0M87 156.3h0M88.1 167.4h0M104.3 171.3h0M82.9 90.9h0M97.4 175.6h0M87.8 169.9h0M85 147.5h0M102.1 175.6h0M94.4 174.6h0M95.5 134.8h0M109.4 156.8h0M101.3 165.9h0M101.6 161h0M76.7 170h0M85.9 124.2h0M96 162.8h0M114.8 166.8h0M98.9 173.8h0M94 129h0M86 143.5h0M107 153.4h0M93.9 115.2h0M98.8 174.1h0M108 131.2h0M97.5 158.4h0M101.4 172.8h0M91.5 160h0M112.3 127.8h0M101.1 169.8h0M95.3 147.2h0M96.4 158.7h0M112.2 168.4h0M82.2 156.5h0M112.4 153h0M98.7 175.9h0M90.4 169.3h0M110.3 153.1h0M91.7 92.1h0M90.9 155h0M109.7 173.4h0M95.7 167.6h0M96.9 171h0M101.4 169.6h0M104.1 174.6h0M83.3 167.6h0M73.6 167.9h0M74.4 168.1h0M117.4 137h0M84.1 150.7h0M100.5 175.6h0M103.9 172.8h0M86.1 172.7h0M87.9 156h0M100.5 175.6h0M114.6 169.2h0M98.6 175.8h0M105 156.3h0M102.6 171.5h0M96.2 168.5h0M87.5 167.1h0M103.9 175h0M87.7 125.9h0M114.9 151.6h0M88.6 94h0M127.7 167.3h0M98.7 176.1h0M114.5 162.1h0M86.7 128.4h0M110.1 168.3h0M85.9 136.7h0M88.5 167.6h0M114.7 110.7h0M97.9 173.3h0M99.1 174.2h0M104.9 139.8h0M118.4 155.8h0M111.7 171.7h0M105.2 165.4h0M93.8 168.9h0M100.5 175.9h0M96.1 155.2h0M72.2 167.7h0M101.9 170.1h0M108.3 173h0M96.2 173.5h0M102.1 175.3h0M101.6 175.9h0M112.7 166.7h0M98.9 176.1h0M111.5 148.5h0M88.7 169h0M94.2 173.7h0M118.3 166.6h0M83.3 171.5h0M92.9 172.4h0M116.2 168.8h0M101.6 175.3h0M98.1 175.3h0M118.2 168.1h0M93.9 174.2h0M92.7 159.1h0M109.3 169.3h0M126.5 167.8h0M106.8 170.8h0M110.7 158.3h0M108.8 154.4h0M86.5 169.4h0M83.1 162.3h0M80.4 167.2h0M85.3 163.5h0M120.2 170.2h0M90.2 156.3h0M88.9 157.6h0M103.9 174.1h0M107.7 160.2h0M100.4 175.4h0M101.6 166.6h0M111.1 170.7h0M94.9 170.5h0M101.3 173.3h0M117.5 160.4h0M98.1 175.6h0M100.5 175.7h0M105.4 165.7h0M97.7 158.5h0M116.2 170.9h0M108.9 163.5h0M89.2 173.1h0M95.8 154.7h0M94.3 141.5h0M100.8 175.6h0M102.8 175.5h0M104.3 156.8h0M94.1 166.7h0M98.7 176.1h0M95.6 173.7h0M98.3 175.9h0M91.6 133.7h0M90.7 110.9h0M90.7 173.3h0M105.7 144.8h0M108 159.8h0M125.9 169h0M114.9 128.4h0M86.8 157.8h0M92.8 171.4h0M89.6 167.5h0M83.5 114h0M110.9 161.5h0M108 174.1h0M84.2 169.5h0M104.4 172.5h0M118.7 162h0M105.1 173.1h0M98.9 175.3h0M87.4 166.4h0M109.9 167.6h0M104.7 174.3h0M106.8 172h0M91.8 165.2h0M94.5 174h0M118.5 169.2h0M94.6 174.8h0M104.9 173h0M89.2 171.9h0M95.7 169.2h0M117.2 164.6h0M113.7 158.1h0M92 150.1h0M101.1 170.7h0M85.5 172.4h0M104.1 170.6h0M90.4 173h0M103.4 169.5h0M107 156.5h0M101.2 172h0M85 164.2h0M90.9 172.3h0M105 167.4h0M86.6 166.7h0M89.7 169.9h0M92.8 168.7h0M88.9 171.6h0M97.3 173.7h0M95.8 165.8h0M103.9 169.6h0M90.9 173.1h0M100.4 176.3h0M93.8 173.8h0M93.3 170.8h0M83.2 155.9h0M92.3 162.6h0M97 167.4h0M86.8 118.3h0M83.7 168.7h0M111.6 162.9h0M93.3 174.5h0M116.5 162.3h0M100.9 172h0M95.8 173.1h0M105.8 151.3h0M102.9 175.1h0M105.8 132.8h0M82.2 162.6h0M114.7 169h0M106.5 154.6h0M116.7 171.2h0M97.3 175.4h0M102.3 175.6h0M87.6 159.4h0M95.9 148.3h0M71.1 168.2h0M128.9 167.9h0M108 149.9h0M103.5 173.7h0M91.5 166.3h0M89.6 151.7h0M115.3 170.6h0M100.8 175.5h0M114.7 124.1h0M113.1 148.8h0M96.4 171.6h0M106 163.3h0M94.8 162.6h0M94.4 153.3h0M115.8 144.9h0M86.4 172.4h0M128.3 168.1h0M121.9 167h0M120.3 168.2h0M101.9 170h0M96.6 173.5h0M111.2 151.3h0M113.3 170.6h0M104 165.8h0M99 176.1h0M93.6 170.2h0M85 149.6h0M95.2 151.1h0M100.6 174.2h0M108.4 173.9h0M93.2 170.3h0M101.6 173.8h0M85.5 156.7h0M107.6 173.4h0M83.7 161.3h0M109.9 171.7h0M114.9 169.5h0M102.7 162.8h0M113.8 165.3h0M84.2 121.8h0M128.6 167.2h0M91.6 171.5h0M98.8 175.5h0M82.1 167.5h0M84.7 161.8h0M107.3 166.5h0M85.3 156.5h0M107 173.6h0M90.1 156.9h0M91.7 172.1h0M95.6 173.5h0M100.4 176.1h0M100.6 176.2h0M93.8 174.1h0M97.8 174.9h0M85.3 172h0M85.7 168.3h0M109.8 150h0M92.7 149.4h0M115.5 88.9h0M109.9 164.3h0M107.8 157.6h0M93.6 172.8h0M92.5 172.1h0M80.8 167.7h0M105.8 174.7h0M103.7 174.2h0M115.3 118.8h0M86.1 136h0M103.9 172.2h0M105.3 164.3h0M107.7 103.1h0M89.1 103.6h0M90.6 153.1h0M107.4 134.8h0M98.7 176h0M111.2 171.6h0M114.7 155.2h0M101.9 171.7h0M109.6 152h0M112.2 161.6h0M102.4 170.1h0M106.5 171.6h0M109.6 166.8h0M113.2 166.4h0M96.5 174.6h0M92.4 164.6h0M88.6 167.7h0M92 132h0M86.8 167.6h0M108.3 157.5h0M110.1 109.7h0M96.2 170.6h0M104.6 170.9h0M92.9 142.7h0M106 174.1h0M94.5 166h0M102.4 175.7h0M91.9 115.7h0M117.4 169.9h0M101.9 173.6h0M120.8 169.1h0M89.2 111.5h0M98.8 176h0M86.1 126.3h0M124.5 168.5h0M90.5 170.3h0M93.9 115.5h0M110.9 173.2h0M106.4 173.4h0M101.6 166.6h0M89.8 154.3h0M92.3 158h0M98.7 175.8h0M109.8 170.8h0M115.6 171.5h0M91.3 142.2h0M104.6 171.2h0M114.9 166.9h0M113.1 133.3h0M113 171.2h0M90.2 170.2h0M98.3 175h0M101.9 175.6h0M83.6 161.6h0M102.7 174.9h0M115.6 154h0M93.2 174.1h0M96.1 174.7h0M103.8 166.5h0M101.5 175.4h0M82.7 169.2h0M93.8 173.5h0M102.2 175.6h0M112.2 172.1h0M97.9 175.1h0M104.2 171.4h0M95.4 167.4h0M97.4 174.8h0M77.1 169.8h0M95.9 170.6h0M98.6 176.1h0M94.4 161.9h0M83.2 155.9h0M86 132.7h0M104.9 136.6h0M107.5 140h0M99 176.2h0M106.1 168h0M86.7 171.5h0M111.1 168.8h0M110.7 158.3h0M94.8 159.4h0M102.4 174.6h0M81.3 170.2h0M96.7 164.8h0M94 171.7h0M96.9 172.9h0M82.7 166.4h0M109.8 172.7h0M95.4 173.9h0M81.7 164h0M101.7 175.9h0M81.1 153.7h0M96.4 175.4h0M82.9 160.4h0M97.3 159.4h0M76 169.3h0M84.3 171.3h0M101.5 174.5h0M110 156.7h0M87.7 166.9h0M96.4 174.4h0M92.7 154.2h0M84.5 135.9h0M88 172.6h0M92.2 170.8h0M111.9 122.4h0M109.4 167.3h0M86.7 145.4h0M93.8 169.7h0M102.7 173.2h0M78.9 167.8h0M107 168.7h0M107.3 166.3h0M106 151.3h0M103 153.4h0M106.2 174.5h0M98.1 175.8h0M80.3 170.8h0M81.2 171.2h0M104.8 166.8h0M107.3 173.9h0M93.7 174.2h0M94.4 173.5h0M91.3 154.9h0M113.6 148.8h0M87.6 149.8h0M116.6 161h0M85.1 167.6h0M92.7 174.2h0M110.5 135.2h0M88.4 172.4h0M103.2 175.2h0M91.8 164.9h0M105.6 174.6h0M83.9 161.9h0M98.8 170.3h0M112.2 135.1h0M112.2 171.2h0M98.9 175.4h0M81.3 150.9h0M84 168.2h0M110 97.1h0M105.2 168.5h0M82.5 161.4h0M99.2 176.1h0M100.9 174.3h0M97 175.4h0M90.4 167.9h0M92.3 164.7h0M87.9 173.1h0M105.1 173.5h0M108.9 170.5h0M113.8 162.9h0M91.3 168.1h0M106.3 164h0M77 167.6h0M74.5 167.1h0M101.6 170.4h0M106 168.4h0M104.9 148.3h0M94.7 160.5h0M86.7 150.4h0M91 173.7h0M111 171.9h0M106.7 131.3h0M96.6 167.7h0M93.3 108.9h0M83.6 152.2h0M106.4 169.6h0M102.1 172.1h0M115.2 134.1h0M98.2 176h0M87.2 154.4h0M109.6 173.4h0M97.1 174.1h0M102.8 168.1h0M71.6 167.5h0M106.1 174h0M122.9 169.9h0M70.1 167.4h0M97.3 173.9h0M106.7 172.2h0M96.9 170h0M112 136.5h0M100.4 176.1h0M103.1 169.6h0M104.3 174.2h0M95.8 175.2h0M102.1 175.2h0M86.7 169.7h0M101.9 168.2h0M70.8 167.3h0M93.9 156.8h0M93.2 159.4h0M102.8 171.3h0M102.8 171.6h0M95.5 170.7h0M118.3 170.6h0M116.1 163.2h0M96.4 174.7h0M102 175.5h0M84.3 170.6h0M101 172.4h0M101.1 173.4h0M95.8 171.6h0M95.9 171.7h0M114.8 122.8h0M94 168.2h0M105.7 173h0M112.5 153.4h0M94.1 141.6h0M116.7 156.6h0M118.2 159.9h0M111.3 115.2h0M96.6 172.2h0M93.2 147.5h0M105.7 172.2h0M93.5 171.1h0M89.8 157.1h0M96 136.4h0M102.5 173.7h0M103.4 173.8h0M98 175.9h0M108.4 173.3h0M90.1 173.4h0M98.8 176.2h0M114.4 162.3h0M95.4 172.4h0M112 153.5h0M103 172.8h0M115.6 161.6h0M98.8 176.1h0M87.4 172.8h0M98.7 174.4h0M85.5 100.7h0M95.3 159.7h0M104.2 174.6h0M90.4 164.2h0M88.3 157.8h0M87.3 172.9h0M75.6 169.7h0M95.1 174.5h0M94 174.6h0M118.7 170.2h0M94.6 174.7h0M94 172.5h0M82.6 167h0M106.2 148.1h0M94.1 167.5h0M86.6 141h0M108.1 165h0M127.2 168.8h0M104 171h0M85.3 162.4h0M102.3 172.5h0M101.9 175.8h0M97.6 175.5h0M98.6 173.6h0M109.8 156.6h0M87.5 172.2h0M104.2 132.4h0M80.2 169.5h0M97.8 175.7h0M93.9 126h0M104.6 170.9h0M108.2 161.6h0M93.1 172.3h0M83.7 171.7h0M105.7 171.7h0M120.1 170h0M116.4 170.5h0M83.7 151.1h0M107.3 174.4h0M92.8 174.2h0M106.9 160.1h0M98.3 173h0M77.5 168.1h0M84 154.3h0M104 172.9h0M118.4 171h0M101 176.1h0M101.2 175.9h0M109.6 155.3h0M91.8 173h0M77.3 169.3h0M115.9 171.4h0M87.9 143.9h0M108.9 170h0M105 173.3h0M101.7 161.6h0M95.7 172.8h0M90 165.3h0M90.8 103.2h0M90.3 166.4h0M109.3 172.7h0M108.4 171.7h0M85.7 102.7h0M101.1 175.8h0M120.4 168.1h0M104.5 174.4h0M97.5 166.9h0M100.8 171.8h0M91.8 156.6h0M85.4 116.1h0M110.5 166.4h0M101.4 173.5h0M117.4 155.6h0M100.6 176h0M97.8 174.4h0M93.3 171.4h0M108.5 150.3h0M110.6 160.8h0M97.5 169.7h0M100.4 176.3h0M99.2 176.2h0M97.1 166.2h0M98.9 175.2h0M102.1 175.7h0M118.2 170.7h0M117.7 159.3h0M100.5 175.6h0M94 146.3h0M99.1 176.3h0M111.4 169.2h0M105.3 150.5h0M99.2 176.3h0M92.9 168.3h0M81.7 156.8h0M109.6 169.6h0M117.6 168h0M90.2 148.2h0M105.1 165.8h0M100.7 174.1h0M118.8 170.9h0M91.5 172.8h0M109.9 158h0M96 159.6h0M83.4 158.3h0M111 169.9h0M89.8 167.4h0M87.7 164.4h0M96.7 168.9h0M94.5 174.8h0M94.3 115.4h0M93.5 142.9h0M121.5 168h0M97.4 173.8h0M98.5 176.1h0M110.1 172.5h0M91.4 172.7h0M98.5 174.4h0M103.4 174.4h0M95.7 169.8h0M81.2 166.4h0M105.8 166h0M116.8 158.4h0M88.5 172.1h0M86.5 108.5h0M92.7 166.8h0M118.9 169.7h0M77.2 169.8h0M98.2 175.7h0M113.7 172.5h0M108.4 158.8h0M82.4 163.4h0M85.9 134.6h0M103.6 164.9h0M110.7 124.5h0M89.1 78.7h0M98.3 175h0M102.9 169.5h0M102.4 164.7h0M110 169.5h0M97 175.7h0M95 154.6h0M94.4 167.1h0M107.5 169.3h0M114.8 167.8h0M102.8 158.1h0M116.5 169.7h0M112 165.2h0M78.5 170.2h0M117 159.6h0M102.7 170.6h0M98.3 165.9h0M115.5 166.8h0M93 147.9h0M114.7 99.1h0M93 174.4h0M95.1 172.5h0M125.8 168.7h0M90.7 173.2h0M91.8 153.4h0M112.7 169.3h0M85.2 120.8h0M104 168.6h0M108.7 162.8h0M100.7 176.1h0M112.8 144.1h0M87.1 163.1h0M107 171.1h0M93.9 173.9h0M97.3 174.5h0M83.9 131.7h0M106.9 172.7h0M101.2 171.7h0M88.8 173.4h0M111.4 157.5h0M83.3 168.2h0M111.4 166.3h0M118.3 160.1h0M87.8 164.1h0M105.3 173.7h0M119.9 169h0M105.8 163.1h0M117 147.7h0M109.4 173.3h0M102.1 161.5h0M94.6 174.1h0M87.7 171.2h0M96.4 163.9h0M112.5 171.4h0M110.3 173.4h0M92.8 168h0M97.1 158.7h0M95.4 174.6h0M82.1 161.6h0M99 175h0M105 148.8h0M89.8 172.4h0M92.8 174.5h0M104.3 128.2h0M89.5 153.5h0M107.4 155.6h0M106.1 150.8h0M104.8 164.9h0M101.5 173.9h0M98.8 175.5h0M86.4 151.7h0M101.4 175.9h0M95.5 170.2h0M109.2 171.8h0M115 168.8h0M108.1 82.2h0M110.2 164.5h0M94.2 153.2h0M102.4 172.1h0M98.5 173.2h0M102.5 170h0M110.7 158.9h0M97.6 173.9h0M95 174.3h0M102.9 155.2h0M83.2 171.7h0M130.4 167.7h0M106.7 155h0M91.1 166.6h0M110 133.7h0M104.6 142.2h0M116.7 170.9h0M101.7 175.9h0M95.2 130.1h0M105.3 158.9h0M83.1 170.4h0M108.8 172.3h0M86.7 96.3h0M93.2 168.3h0M105.5 173.9h0M86.6 137.6h0M115.9 171.1h0M98.7 175.7h0M97.6 174.9h0M103 174.4h0M87.8 171.1h0M106.3 157.6h0M94.1 137.5h0M100.5 176.1h0M101.4 170.4h0M95.8 175h0M120.1 168.4h0M95.2 175.2h0M101.1 176.1h0M87.5 158.9h0M99.1 176h0M109.3 172.3h0M86.2 158.2h0M101 173.1h0M122.9 168.4h0M113.9 166.7h0M90.1 142h0M101.8 175.8h0M87.8 172.3h0M91.4 174.1h0M101.8 175.8h0M105 168.5h0M116.6 144.3h0M128.9 167.8h0M98.1 175.2h0M91.6 127.4h0M99 176.2h0M86 167.1h0M87.9 173.1h0M85.6 158.3h0M88.8 143h0M81 165.5h0M97.9 175.9h0M91.3 135h0M99 176.1h0M105.5 156.4h0M96 173.6h0M82.1 171h0M102.9 175.4h0M115.2 156h0M101.9 175.3h0M108.5 170h0M94.3 166.1h0M90.3 128.8h0M92.6 170.2h0M94.2 171.2h0M92.3 161h0M103.4 174.6h0M117.5 169.6h0M98.7 173.4h0M104.9 165.2h0M84.6 155.7h0M111.9 172.5h0M82.5 165.3h0M83.9 169.6h0M105.9 156h0M111.2 155.4h0M101.3 175h0M99.2 176.2h0M103.4 175.2h0M82.2 168.3h0M119.2 169.5h0M110.2 156.2h0M101.7 175h0M95 168.9h0M104.1 175.1h0M98.8 175.6h0M103 172.5h0M102.4 175.1h0M110.6 101h0M83.3 168.8h0M97.6 170.7h0M96.2 174.9h0M104.6 171.2h0M117.2 160.2h0M110.5 156.2h0M110.7 128.8h0M87.2 168.8h0M98.9 176.2h0M92 173.6h0M98.9 176.2h0M83.1 169.6h0M104.4 163.3h0M71.7 167.9h0M97.2 151.4h0M98 167.5h0M102.4 166.4h0M112.8 172.7h0M91.1 149.9h0M107.8 170.1h0M93.2 173h0M97.5 173.9h0M103 173.6h0M95.6 175.1h0M97 165.9h0M103.1 174.1h0M95.4 166.1h0M103.9 175h0M114.1 169.4h0M105.3 165h0M98 175.1h0M91.2 148.6h0M103.5 174.6h0M115.1 152h0M118.5 168.3h0M94.5 117.4h0M117.4 167.8h0M112.4 172h0M112.1 109.8h0M99.2 175.8h0M105.4 149.1h0M110.1 127.4h0M90.1 171.4h0M97.6 175.8h0M81.7 170.2h0M105 171.9h0M93.7 173.4h0M107 164.6h0M107.5 167.7h0M109.1 164.6h0M116.7 169.9h0M91.8 170.8h0M101.3 175.9h0M106.7 157.3h0M104.7 171.9h0M115 167.6h0M91.8 173.5h0M83.4 170.6h0M110.2 172.3h0M116.2 135.2h0M116.3 111.4h0M100.6 176.1h0M75.8 169.1h0M100.8 172.2h0M95.6 173h0M106.2 133.4h0M97.9 172.4h0M117.8 142.4h0M104 156h0M112.6 94.6h0M98.5 170h0M107.4 147.3h0M102.1 155.4h0M106.4 139.4h0M97.7 175.3h0M91.5 173.9h0M96.4 174.7h0M121.3 167.5h0M101.6 175.9h0M95.9 172.9h0M96.7 165.2h0M115.8 139.6h0M101.2 175.8h0M112.3 170.8h0M94.5 174.8h0M96.9 167h0M112.6 170h0M107.5 164.8h0M100.9 172.7h0M84.1 171.8h0M114 172.4h0M103.8 158.6h0M93.4 173.6h0M102 161.7h0M93.4 165.6h0M95.6 140.3h0M88.2 156.8h0M99.2 176.3h0M97.6 172h0M102 175.1h0M105.2 174.2h0M95.8 143.6h0M112.3 155.2h0M114.3 168.3h0M107.2 173.9h0M78 169.9h0M99 174.9h0M102.9 148.7h0M108 174.1h0M88.6 130.6h0M103.6 158.2h0M117.4 170.8h0M92.1 173.3h0M88.6 168.9h0M101.9 163.4h0M103.5 155.4h0M96.3 171.6h0M92.6 144.3h0M123.4 168.8h0M97.3 175h0M88.8 170.5h0M98.8 174.1h0M98.6 172.3h0M110.3 173.4h0M105.2 172h0M109.9 169.9h0M83.7 158.8h0M93.7 166h0M98.4 174.8h0M88.9 170.6h0M85.6 168.6h0M107.4 174.2h0M107.5 124.1h0M112.3 145.7h0M84.7 158.4h0M106.3 157.7h0M108.2 165.1h0M116.7 170.3h0M103.3 174.5h0M105.2 130.3h0M101.7 175.8h0M90.3 152h0M100.6 176.1h0M106.9 163.6h0M103.1 175.3h0M98.9 175.6h0M114.1 171.1h0M117.5 158.1h0M117.3 169.5h0M103.2 161h0M91.4 164.7h0M106.3 136.5h0M107.3 170.5h0M100.8 176.2h0M105.2 172.2h0M113.3 171.8h0M101.5 175.6h0M104.8 124.5h0M114.3 161.2h0M91.2 145.8h0M126 167.6h0M93.4 169.7h0M99.2 176.3h0M103.5 154.4h0M98.6 175.6h0M105.6 170.1h0M100.9 171h0M102.5 173.6h0M103.7 174.5h0M100.6 176.1h0M111.2 171.3h0M85.2 167h0M100.4 176h0M113.6 167h0M103 170.9h0M110.4 170.6h0M99.1 176.2h0M86.4 169.7h0M96.8 171.5h0M97.3 159.1h0M98.2 173.1h0M118.6 155.2h0M107.3 150.3h0M130.9 167.7h0M105 165.2h0M78.3 168.3h0M109.9 168.5h0M97.3 173.9h0M117.9 163.2h0M98 175.2h0M112.4 171.8h0M91.6 164.8h0M101.2 175.1h0M105.7 143h0M106.7 163.1h0M114.5 166.4h0M88.4 135.2h0M101.2 173.4h0M90.9 174h0M97.4 175.3h0M92.8 167.1h0M101.4 175.9h0M116.6 143.6h0M69.5 167.7h0M96.1 172.1h0M84.5 124.6h0M88.7 153.7h0M97.1 167.3h0M107.2 174h0M81.9 161.6h0M100.3 176.3h0M86.2 172.6h0M116.8 160.9h0M84.1 105.7h0M101.7 174.2h0M98.4 175.6h0M93.3 123.1h0M111.9 163.3h0M100.5 176.3h0M123.2 169.5h0M92.5 169.5h0M102.9 175.6h0M98.1 175.4h0M103.2 175h0M97 175h0M90.3 167.6h0M76.1 168.7h0M103 171.7h0M103.4 153.1h0M98.3 166.3h0M92.2 173.6h0M87.7 169.4h0M91.6 163h0M81.3 152h0M112.8 171.6h0M104 167.8h0M106.3 166h0M112.4 115.4h0M81.3 155.3h0M87.3 134h0M103.2 171.7h0M106.3 146.4h0M106.2 169.4h0M91.2 159.9h0M103.9 157.7h0M93.4 156.1h0M89.8 162.4h0M108.9 129.5h0M96.6 175.5h0M78.5 170.2h0M117.9 152.6h0M104.3 152.1h0M95.2 149h0M122.9 169.7h0M118.5 165.2h0M93.4 169.5h0M98.4 176h0M97.6 173.2h0M105 159.8h0M102 167.4h0M101.3 175.8h0M91.5 169.8h0M96 173.6h0M124.3 169.4h0M88.9 150h0M93.5 159.9h0M98.2 175.8h0M95.7 174.3h0M114.6 170.1h0M108.9 170.4h0M115.9 170.5h0M101.2 175.5h0M88.3 96.6h0M71.5 168.1h0M101.2 176.1h0M95.7 174.6h0M125.2 169.1h0M82.9 162.9h0M83.9 169.3h0M96 164.4h0M92.9 100.4h0M96.8 174.8h0M99 174h0M94.3 132.1h0M98.2 176h0M87.6 168.5h0M112.7 149.9h0M101.3 175.2h0M113.5 161.3h0M89.1 159.5h0M83 169.4h0M88.4 164.6h0M104.9 152.3h0M97.1 173.5h0M90 168.3h0M112.1 170.9h0M112.5 171.3h0M109.9 135.5h0M102.6 175.7h0M85.8 161.6h0M98.1 166.5h0M94.7 174h0M107.3 172.4h0M102.1 154.6h0M84 131.4h0M106.7 128.3h0M94.3 143.3h0M94.5 175h0M107 127.1h0M105.8 130.9h0M96.8 175.3h0M90 170.1h0M116.1 106.1h0M114.9 102.2h0M114.8 128.1h0M103.5 153.7h0M82.7 167.6h0M100.5 175.9h0M105.8 148.5h0M103.3 174.5h0M107.5 132h0M90.8 169.8h0M118.4 154.3h0M107.8 172.9h0M88.4 172.3h0M108.8 154.7h0M106.1 155.9h0M87.7 116.8h0M113.9 148.3h0M118.2 164.3h0M114.6 115.3h0M89.7 141.7h0M107.9 150.2h0M117.2 167.2h0M100.5 176.3h0M94.2 168h0M99.1 176.1h0M113.4 172.5h0M92 171.1h0M86.5 168.7h0M106.2 173.7h0M103 174.3h0M88.1 127.7h0M108.4 173.4h0M78.9 169.2h0M111.6 170.6h0M93.8 162h0M109.9 161.5h0M114.2 170.5h0M110.9 171.3h0M98.7 176.2h0M114.4 138.9h0M106.6 170.7h0M108 127h0M102.6 165.6h0M109.2 148.6h0M81.4 169.5h0M96.8 154.3h0M100.4 176.2h0M76.6 168.4h0M86.6 159.4h0M109.3 161h0M108.3 133h0M87.7 136.5h0M96.1 174.5h0M87.4 157h0M105.8 171.4h0M102.2 154.6h0M95.6 174h0M91.5 173.5h0M70.3 167.3h0M96.1 175h0M88.6 173.2h0M79.6 170.5h0M106.1 171.1h0M104.5 174h0M109.5 168.8h0M97.5 175.5h0M106.1 124.7h0M82.5 169.4h0M101.9 175.6h0M114.9 163.9h0M87.8 168.3h0M118.7 165.5h0M93 170.6h0M106 174.7h0M95.6 174.4h0M96.3 172.8h0M91.3 139.8h0M87.8 162.3h0M117 170.2h0M112.5 159h0M101.9 171.4h0M100.4 175.9h0M90.2 166.6h0M115.7 166.2h0M114.3 165.7h0M112.5 128.6h0M95.8 170.1h0M105.5 161.8h0M98.7 173.7h0M85 169.7h0M95.1 173.7h0M96 140.4h0M101.6 166.9h0M114.8 166.8h0M85.5 169h0M114.2 171.8h0M84.7 166h0M98.8 176.2h0M99 175.7h0M106.3 165.6h0M118.6 169.5h0M104.7 173.2h0M87 166.6h0M89.4 170.3h0M111.1 159.8h0M87.6 169.6h0M100.9 170.3h0M81.5 153.4h0M114.2 172h0M97.4 172.2h0M103 174.8h0M97.9 175.9h0M113 164.9h0M98.7 175.4h0M118.8 144.6h0M90.3 144.8h0M117 171.4h0M90.8 166h0M97.3 175.8h0M109.8 169.2h0M81.9 145h0M103.4 170.4h0M103.3 175.2h0M94 127.7h0M102.6 175.5h0M111.2 166h0M79 168.5h0M105 174.3h0M91.2 173.9h0M111.7 166.8h0M105 132.7h0M85.8 126.2h0M87.9 172.1h0M79 168.3h0M87.6 170.3h0M100.6 175.7h0M100.3 176.3h0M89.8 163.5h0M86.3 128.1h0M104.3 172.4h0M98.5 176.1h0M81 153.2h0M103.8 174.2h0M112.2 168.9h0M99 175.1h0M97.9 172.8h0M105.2 173.5h0M106.6 165.5h0M95.3 173.4h0M97.9 175.8h0M122 168.3h0M111.9 160.3h0M118.2 167.5h0M109.4 169.2h0M96.3 172.9h0M81.6 161.3h0M107.4 142.2h0M111.1 172.5h0M100.9 176h0M89.6 127.1h0M109.9 149.4h0M103.9 173.7h0M106.5 156.2h0M75.1 167.4h0M114.6 164.3h0M85.3 149.7h0M115 164.9h0M93.6 129.6h0M109.4 173.6h0M96 172.4h0M84.2 128.5h0M93.4 174.3h0M105.9 164.8h0M104.8 172.8h0M96.1 174.4h0M88.8 172.8h0M86.9 151.2h0M106.4 168.1h0M107.3 156.1h0M84.9 161.4h0M93 167h0M102.9 155.4h0M100.4 175.9h0M96.9 168.2h0M100.6 174.2h0M114 172.3h0M94.5 166.6h0M95.6 167.1h0M84 101.5h0M111.3 168.7h0M93.1 174.6h0M91.4 165.2h0M100.6 174.7h0M90.5 173.3h0M109.4 159.5h0M98.1 175.2h0M89.1 156.2h0M90.7 128.2h0M112.4 163.7h0M113.7 170.5h0M108.9 123.6h0M113 172.6h0M113.9 164.5h0M92.7 164.2h0M82.1 144.7h0M108.4 148h0M74.1 168.5h0M111.3 121.5h0M102.6 162.6h0M94.9 171.7h0M105.6 145.2h0M96.9 174.3h0M88.2 108.5h0M89.4 172.3h0M85.8 95.9h0M91 120.1h0M98 169.7h0M112.3 147.8h0M101.5 175.5h0M85.3 167.3h0M81.3 155.5h0M107.1 173.9h0M101.7 175.5h0M84.2 164.2h0M83.8 166.7h0M100.7 175.9h0M88.9 153h0M87.2 102.7h0M97.8 173.4h0M96.9 171.4h0M97.8 175.1h0M104.1 149.8h0M102.3 151.8h0M94.3 171.8h0M97.7 175.8h0M117 165.5h0M117.6 169.7h0M103 175.1h0M94.1 173.2h0M96.1 175.2h0M107.1 170.5h0M113.2 169.9h0M118.7 158h0M85.8 156.3h0M96 174.2h0M107.5 122.6h0M109.9 172.6h0M97.2 173.2h0M104.3 154.8h0M99.2 176.2h0M90.2 171.5h0M104.2 169.4h0M86.3 172.4h0M102 171.4h0M115.5 141.4h0M77.2 170.1h0M94.3 165.1h0M85.3 139h0M94.6 169.8h0M97.4 156.4h0M101.3 176h0M114.4 170.7h0M104.3 174.9h0M95.7 158.3h0M88.2 150.1h0M97.1 166.2h0M115.6 171.3h0M108.2 164.3h0M81.2 170.5h0M116.4 132.8h0M101.9 175.7h0M115.9 171.2h0M102.5 164.9h0M83.5 163.6h0M105 174.7h0M113.3 122.7h0M94.3 172.6h0M123.3 169.9h0M116.6 110.8h0M116.6 166.3h0M111.8 159.3h0M104 174.6h0M95.9 175.3h0M97.7 170.7h0M101.6 170.4h0M92.4 173.3h0M88.6 156.8h0M93.6 174.5h0M96 173.4h0M84.1 167.4h0M98.4 176.1h0M102.7 174.4h0M105.1 173.1h0M85.4 169.2h0M105.3 146.5h0M84.6 165.4h0M115.5 172h0M93.8 174.3h0M110.7 173h0M94.8 172.4h0M90.7 80.3h0M110.3 133.4h0M83.3 163.3h0M89.1 92.2h0M101.7 175.5h0M85.9 139h0M85.4 170.4h0M110.4 171.1h0M92.7 158.9h0M116.8 158.5h0M109.6 173.6h0M90.4 142.2h0M83.9 157.4h0M93.6 144.7h0M101.4 171.2h0M97.2 157.4h0M110.3 155.8h0M94.8 146.9h0M88.7 169.5h0M97.1 175.3h0M76.7 169.3h0M106.1 160.2h0M101.1 173.2h0M99.1 176.1h0M101.4 175.7h0M105.7 134.4h0M86 129.2h0M112.2 167.8h0M114.7 125h0M94.9 174.8h0M96 154.4h0M80.3 170.7h0M124.5 169.6h0M98.9 176.1h0M107.4 167.2h0M91.2 133.7h0M101 175.8h0M117.7 166.5h0M93.5 171.9h0M92.3 128.2h0M115.5 156.9h0M91 149.1h0M98.9 175.9h0M102.2 153.6h0M70.9 168.2h0M103.3 170.9h0M112.6 131.1h0M100.5 174.9h0M105.4 167.8h0M116.5 157.4h0M106.9 166.7h0M116.6 156.7h0M100.6 173.8h0M96.4 162h0M86.9 169.7h0M88.6 169.2h0M103.2 144.2h0M87.2 171.7h0M111.7 157.6h0M104.4 139.8h0M103.8 162.8h0M102.5 175.6h0M88.8 168.9h0M106.7 173.3h0M98.9 174.7h0M96.7 172.6h0M118.7 164.3h0M98.2 174.2h0M104.4 173.1h0M86.6 132.9h0M102.6 152.7h0M115.3 151.6h0M89.8 153.3h0M93.9 157.1h0M101.5 173.3h0M126.6 167.9h0M103.4 172.6h0M97.6 174.9h0M96.3 173.3h0M92.8 167h0M102 175.8h0M117.3 163h0M101.2 172h0M107 117.7h0M91.9 160h0M115.4 101.4h0M91 172.3h0M91.7 163.4h0M100.9 171.8h0M106.1 160.8h0M95.2 153.1h0M86.2 141.9h0M100.8 176.1h0M123.5 169.8h0M101.1 170h0M105.3 162.5h0M86.6 162.9h0M104.7 172.7h0M89.1 171.8h0M89.1 173.5h0M93.9 174.6h0M120 169.4h0M102 171.5h0M87.7 171.8h0M109.7 173h0M95.4 146.1h0M92.1 126.3h0M82.7 161.3h0M118.2 154.3h0M103.4 169.1h0M96.5 165.8h0M103.3 149.8h0M100.9 175.7h0M89.9 151.4h0M103.8 175.3h0M107.4 121.2h0M82.5 170.2h0M103.7 144.6h0M77.5 167.9h0M93.4 160.9h0M87.7 171.5h0M88.5 171.4h0M116.2 169.3h0M106.8 172.3h0M105.9 171.4h0M110.5 170h0M96.6 173h0M101.5 175.1h0M105.8 170.3h0M91.6 173h0M93 169.4h0M105.5 169.8h0M89.2 141.8h0M95 166h0M103.1 174.7h0M82.1 170h0M106.4 167.2h0M92.3 173.5h0M87.9 162.5h0M98.5 175.1h0M98.7 176.1h0M95 155.8h0M85.5 130.8h0M86 127.6h0M105.9 170.7h0M114.6 158.4h0M109 170.6h0M109 173.7h0M101.7 172.9h0M104.8 158.1h0M94.4 154.6h0M107.7 170.3h0M94.3 174.5h0M94.5 119.8h0M101.5 176h0M87.3 155.4h0M99.2 176.3h0M103.1 175.1h0M98.8 174.7h0M110.1 164.8h0M107.3 170.9h0M86.2 172.6h0M113.7 172.5h0M102.7 170.5h0M96.5 174.4h0M118.2 162.1h0M92 163.1h0M92.8 174h0M98.8 175.7h0M90.2 161.1h0M111.5 171.6h0M110.2 164.2h0M93.1 170.6h0M115.4 171.9h0M83.5 159.8h0M84.4 127h0M105 174.4h0M103.2 175.4h0M103.2 170.7h0M114.5 154.4h0M95.9 149.6h0M99 173.2h0M112.5 145.1h0M81.9 145.6h0M94.7 175h0M93.1 171h0M117 105.8h0M112.5 171.3h0M91.1 162.7h0M104.1 174.8h0M125.8 167h0M102.2 175.7h0M107.1 142.6h0M110 167.5h0M92.8 169.9h0M102.2 169.6h0M103 166.1h0M85.3 167.5h0M127.7 167.2h0M97.3 175.5h0M99.2 176.3h0M95.3 151.8h0M102.1 165.3h0M97.1 166h0M105.6 165.6h0M116.4 134.4h0M110.5 148.4h0M110.1 173.2h0M96.4 174.7h0M117.4 156.2h0M109.2 163.2h0M97.9 174.4h0M103.4 162.6h0M106.5 173.1h0M102.8 174.7h0M112.9 166.8h0M89.7 139.7h0M100.7 176.1h0M93.9 173.3h0M90.5 132.8h0M109.8 132.4h0M95.3 167.9h0M107.1 174.3h0M84 157.8h0M97.8 168.3h0M92.3 105.2h0M101.4 174.9h0M84.4 134.6h0M100.8 176.1h0M98.4 175.7h0M79.6 170.5h0M96.3 174.5h0M105.8 173.9h0M106.1 126.7h0M99.1 176.2h0M82.2 142.1h0M97.7 175.4h0M104 174.3h0M100.6 175.4h0M96.6 160.2h0M108.7 169.5h0M96.3 158.5h0M117.5 170.7h0M90.5 151.1h0M110.2 88h0M97.2 174.4h0M105.9 163.4h0M102.7 162.9h0M89.2 171.3h0M110.7 172.8h0M90.4 166.1h0M98.5 176h0M111 149.6h0M92.2 137.7h0M87.7 169.5h0M81.6 166.6h0M86.5 158.4h0M96.9 174h0M104 173.2h0M95.2 172.8h0M108.2 155.9h0M106.9 114.1h0M94.1 129.6h0M101 174.4h0M87.5 157.1h0M90.1 166.8h0M116.7 139.2h0M116.9 163.7h0M100.9 175.8h0M110.8 171.2h0M94.8 155.3h0M110.8 142.7h0M95.6 174.5h0M117.5 153.7h0M101.4 175h0M98 174.5h0M109 172.4h0M107.6 147.6h0M93.3 142h0M112.9 165.9h0M90.8 159.2h0M90 163.7h0M106.6 131.4h0M92.2 171.8h0M98.4 176h0M98.4 173.6h0M86.4 161.3h0M104.1 148.3h0M95.8 174.3h0M88.6 147.2h0M101.2 176h0M101.2 175.9h0M91.4 170.2h0M100.6 175.7h0M101.9 175.8h0M104.5 161.3h0M97.4 173.3h0M96.9 162.5h0M107.1 167.1h0M102.4 161.5h0M116.9 146.3h0M83.4 168.9h0M102.6 174.3h0M86.4 136.2h0M109.1 143.6h0M104.4 129.2h0M111.1 154h0M108.2 103.1h0M97.7 162.5h0M88.2 156.7h0M111.2 124.6h0M96.8 175.7h0M89.1 173.2h0M111.8 153.7h0M89.8 170.4h0M104.7 166.3h0M105.1 159.4h0M100.8 175.2h0M82.1 160.1h0M89.3 152.8h0M103 162.3h0M104.4 146.4h0M106.9 174.4h0M89.4 160.1h0M105.3 173.9h0M97.2 174.1h0M98.9 176.2h0M109 117.8h0M91.8 173.1h0M84.7 168.4h0M93.6 173h0M95.7 175.2h0M109.9 171.4h0M107.8 164.7h0M105.4 174.1h0M107.1 145.8h0M93.1 152.1h0M94.6 141h0M86.2 171.2h0M115.7 168.8h0M98.5 175.3h0M107.6 169.1h0M103.3 170.6h0M95.2 171.8h0M84.8 150.6h0M128 168.5h0M97.3 167.4h0M101.4 171.5h0M98.7 175.4h0M92.8 168.7h0M93.8 166.9h0M91.4 149h0M71.2 167h0M113.7 171.9h0M96.1 170.4h0M90.7 138.8h0M93.3 173.3h0M92.9 142.4h0M91.6 170.3h0M79.4 169.7h0M87.9 170.7h0M118.7 169.2h0M117.9 163.1h0M95.5 174.2h0M105.2 172h0M100.7 176h0M97.9 174.2h0M100.3 176.1h0M86 171.4h0M91.3 156.1h0M98.8 173.5h0M97.7 167.6h0M111.4 172.1h0M90.3 157h0M79.9 170.3h0M96.4 150.8h0M111.2 170.5h0M100.8 173.4h0M112.2 107.5h0M90 164h0M106.7 169.7h0M98.4 171.5h0M108 150.8h0M96.9 175.5h0M117.3 164.7h0M69.4 167.4h0M91.2 170h0M106.5 151.8h0M108.6 170.2h0M96.9 173.8h0M98.3 174.9h0M92.6 167.2h0M111.7 143.5h0M114.4 139.8h0M112.6 171.6h0M112.9 131.7h0M99.2 176.3h0M100.8 176.2h0M111.6 135h0M93.5 174.5h0M81.1 167.9h0M88.8 152.8h0M118.5 145.6h0M99.2 176h0M98.5 175.9h0M98.1 169.5h0M102.5 175.6h0M89.9 172.3h0M115.2 171.7h0M111.6 138.3h0M88 172.8h0M96 165.4h0M76.7 169.3h0M102.3 175.2h0M105.3 171.3h0M121.9 168h0M76.3 169.8h0M96.2 150.1h0M81.3 169.3h0M97.2 161.3h0M111.6 159.1h0M83 157h0M101.5 173.9h0M102.6 175.4h0M94.1 136.7h0M104.4 158.9h0M85.7 171h0M88.1 171.7h0M98.3 168.2h0M110.8 154.4h0M117.4 170.9h0M90 172.9h0M103.3 175h0M98.3 175.3h0M111.6 172.7h0M95.3 158h0M84.2 115.3h0M106.6 164.9h0M111 167.5h0M83.2 146.2h0M104.7 175h0M97.2 174.3h0M96.3 142.1h0M101.9 162.3h0M86.4 124h0M98.2 175.8h0M110.9 152.9h0M121.4 170.2h0M91.5 166.3h0M85.3 161.8h0M91 104.8h0M98.8 174.6h0M85.8 140.1h0M88.6 145.3h0M112.3 159.6h0M91.5 174.2h0M105.9 170.7h0M103 153.4h0M104.6 175.1h0M101.6 173h0M92.9 134.9h0M104.3 156.2h0M108 93.4h0M90.2 172.7h0M109.9 161.8h0M95.4 136h0M104.6 153h0M82.1 149.9h0M95.7 166.3h0M97.8 162.7h0M101.8 175h0M93.3 172.8h0M86.6 146.5h0M100.8 176.1h0M94.7 132.6h0M98.8 176.2h0M97.5 175.7h0M103.1 153.9h0M104.4 172.9h0M86.7 172.5h0M103.1 171.2h0M111.3 128.3h0M88.1 167h0M104.6 150.8h0M94.4 135.4h0M86.2 105.2h0M85.6 167.6h0M115.4 148.5h0M98.5 176.1h0M112.8 125.6h0M101.4 175.7h0M87.4 154.8h0M101.6 172.5h0M89.6 124.3h0M106.5 108.2h0M92.6 110.9h0M99.3 176.3h0M96.2 140.7h0M110.4 127.7h0M84 161.3h0M96.2 171.4h0M110 155.6h0M91.4 169.4h0M96.6 166.7h0M115.4 170.8h0M92.5 172.6h0M81.3 163.3h0M112.3 166.1h0M106.1 174.4h0M110.4 162.3h0M114.6 150.6h0M82.5 170h0M101.5 164.3h0M93.8 170.8h0M93.6 170.7h0M99.2 176.2h0M98.8 175.6h0M128.5 168.3h0M97.8 173.7h0M128.4 167.5h0M109.7 156.9h0M96.4 157.1h0M112.3 137.5h0M90 109h0M92 173.7h0M97.4 170.6h0M89.8 166.7h0M105.4 174.1h0M114.5 150.4h0M101.4 175.8h0M78.4 168.2h0M104.6 169.9h0M100.5 176.2h0M112.7 163.3h0M73.4 168.8h0M103.4 174.8h0M80.8 168.9h0M106.2 164.5h0M116.9 149.9h0M110.2 156.9h0M100.6 173.8h0M90.3 166.9h0M102.5 166.7h0M104.4 167.9h0M100.8 175.8h0M81.9 141.1h0M88.6 170.5h0M115.6 128.3h0M110.7 168.2h0M96.8 159h0M94.7 175.1h0M107.2 155.5h0M106.1 172.6h0M109.9 171.5h0M95.6 174h0M95.1 174.9h0M117.4 142.7h0M118.5 82.1h0M104.6 165.8h0M115 170.9h0M98.7 172h0M99 176.1h0M102.4 173.9h0M111.6 138.7h0M83.5 163.6h0M96.1 162.1h0M95.9 143.8h0M106.2 168.5h0M81.6 169.5h0M97 156.4h0M91.6 173h0M95.6 172.8h0M112 151.9h0M92.1 173.6h0M83.5 141h0M124.3 168.6h0M107.2 169.9h0M109.5 108.3h0M78.9 168.7h0M97.7 175.2h0M89.8 130.8h0M98.2 163.3h0M95.7 161.4h0M100.5 175.9h0M112.2 171.2h0M96.1 155.2h0M114 151.1h0M106.9 168.5h0M96 171.8h0M94 162.2h0M104.5 165.1h0M90.5 169.9h0M104.4 170.9h0M94.7 171.5h0M97.9 163h0M90.8 135.3h0M93.1 154.6h0M83.3 147.2h0M82.7 140.3h0M101.5 165.3h0M114.1 171.8h0M96.6 167.8h0M102.2 175.5h0M117.2 166h0M96.1 149.4h0M100.6 175.6h0M110.8 168h0M105.2 166.2h0M83.7 164.2h0M93.1 173.5h0M97 151.5h0M101.1 176.1h0M100.6 176.1h0M97.3 175.2h0M97 150.7h0M100.6 172.3h0M81.1 170.8h0M102.4 175.7h0M97.6 175.8h0M119 168.4h0M85.8 170.7h0M105 164.5h0M100.5 175.4h0M95.6 143.1h0M97.7 169.6h0M91.5 92.9h0M99 174.7h0M106.2 146.7h0M103.3 174.9h0M111.5 172.9h0M109.6 172.1h0M103.6 157.6h0M86.5 168h0M97.4 173.7h0M97 172.5h0M112.9 116h0M100.5 176.2h0M94.1 160.5h0M103.2 174.4h0M91.1 106.3h0M103.3 172.3h0M87.8 94.8h0M91.6 171.8h0M93.3 172.6h0M98.1 175.5h0M98.5 176.1h0M105.4 174.2h0M117.3 138.6h0M105.4 166.7h0M86.8 152.6h0M103.5 173.6h0M98.9 175.9h0M81.2 161.6h0M100.7 176.3h0M98.3 172.7h0M88.7 136.9h0M117.7 169.4h0M87 151.9h0M101.1 175.9h0M112.8 172.4h0M104.1 173.1h0M101.7 170.7h0M109.1 160h0M96.5 148h0M96.9 173.9h0M89.4 133.9h0M91.4 163.4h0M107.3 173.6h0M95.1 170.4h0M86.4 163.3h0M98.5 173.9h0M100.9 174.9h0M106.1 173.9h0M84 148.9h0M85.1 166h0M101.7 175.5h0M100.6 173.8h0M105.7 140.9h0M98.1 175.7h0M83.4 171.2h0M92.2 167.9h0M74.5 168.6h0M92.3 173.8h0M98.8 175.7h0M101.2 175.8h0M87.5 170.6h0M111.7 150.7h0M111.3 161.2h0M108.5 170.9h0M109.9 125.8h0M121.6 170.4h0M88.9 157h0M81.1 157.6h0M119.5 168.4h0M103.8 133.9h0M109.3 169.4h0M99.3 176.2h0M100.6 173.7h0M100.6 174.6h0M80.1 168.9h0M108.7 149.8h0M115.1 166.2h0M107.5 173.3h0M113.6 170.6h0M113.9 148h0M113.5 162.4h0M86 163.2h0M110.8 145.2h0M90.2 169.8h0M101.9 174.7h0M93.1 124.8h0M98.3 174.3h0M88.5 141.6h0M100.8 173.1h0M112 172.2h0M101 176.1h0M101.3 174.3h0M94.3 171.2h0M120.2 169.9h0M104.4 140.1h0M101.2 176h0M101.7 167.4h0M91.5 169.1h0M111.5 85h0M97.6 171.4h0M93 124.5h0M106.9 163.1h0M117.4 169.5h0M97.2 174.3h0M86 165.1h0M100.9 176.1h0M100.4 176.2h0M81.4 163h0M107.2 162h0M89.9 171.4h0M109.5 172.4h0M105.8 163.6h0M117.5 163.4h0M94.5 156.4h0M106.6 158.5h0M106.5 165.4h0M115.9 170.1h0M97.9 175h0M97.8 165.8h0M86.9 92.4h0M98.6 172.3h0M98.8 170.3h0M92.9 171.7h0M118.1 168.1h0M102.7 175.6h0M97.1 168.9h0M83.4 152.8h0M101 175.7h0M102.5 155.4h0M107.7 133.2h0M98.5 175.5h0M89.9 170.8h0M110.7 172.3h0M110.1 140.6h0M101.9 175.8h0M101.8 173h0M101.3 175.7h0M88.5 81.8h0M116.6 168.9h0M83.2 160.1h0M108.7 166.8h0M98.3 175.6h0M93.5 172h0M114.7 162.6h0M93.7 160.7h0M93.4 172h0M104.3 155.4h0M97 175.2h0M117.7 161.3h0M93.4 147.3h0M101.2 172.3h0M103.5 160.9h0M83 169.1h0M105.8 174.2h0M89.9 121.9h0M95.2 169.6h0M110.2 153h0M93.5 162.9h0M109.8 161.5h0M128.9 168.2h0M97.3 170.6h0M123.7 167.3h0M94.9 174.4h0M83.2 171.4h0M94.1 173.9h0M86.3 170h0M85.6 149h0M99 176.1h0M106.8 150.1h0M114.4 142h0M95 174.9h0M85 169.4h0M84.4 144.6h0M110.4 152.9h0M107.8 171.3h0M90.4 173.8h0M105.6 150.7h0M102.5 164.6h0M99.1 176.2h0M197.8 162.5h0" stroke="#bcbcbc" stroke-width="1.0" stroke-linecap="round" fill="none"/>
<path d="M71.6 161.9h0M71.2 161.6h0M73.8 158.3h0M79.1 161.2h0M72.2 158.8h0M55.4 159.6h0M50.3 165.1h0M49.4 160.9h0M71.9 166.5h0M58.2 161.7h0M54.2 167.3h0M57.4 164.9h0M63.9 165.6h0M56.7 159.7h0M48.4 167.9h0M53.9 164.3h0M68.6 162.6h0M78.9 161.4h0M50.4 168.5h0M67.1 166.7h0M72.7 159.9h0M55.4 159.4h0M79.7 162.5h0M51.7 164.8h0M56.7 160.7h0M51.2 164.6h0M60.7 160.2h0M60.4 167.3h0M47.4 165.7h0M59.7 164.5h0M71.7 163.6h0M64.8 166.8h0M47.1 165.9h0M70.1 164h0M79 165.5h0M50.6 167.2h0M53.9 168.1h0M52.6 159.6h0M57.6 159.9h0M77.4 162h0M73.2 159.4h0M68.4 161.7h0M67.3 166.9h0M68.3 161.5h0M76.8 158.8h0M63.5 161.9h0M56.3 166.6h0M52.2 163.5h0M56.9 166.6h0M71.5 158.2h0M51.1 159.7h0M58.9 164.4h0M69.9 158.2h0M75.6 158.2h0M67.6 161.3h0M47 164.7h0M48.8 160.8h0M56.4 162.5h0M48.8 161.7h0M53.3 168.7h0M57 162.1h0M66.9 164.8h0M60.8 168.3h0M53 168.3h0M79.4 164.3h0M69.1 160.9h0M49.5 162.1h0M74.1 159.2h0M50.2 169h0M69.1 157.8h0M71.4 166.9h0M69.4 166.3h0M53.7 165.2h0M70.4 163.8h0M55.6 161.6h0M58.5 164.9h0M49.8 166.9h0M72.5 166.8h0M64.5 165.1h0M69 165h0M67.3 121.3h0M79 150.6h0M67.9 123.3h0M55.4 150.8h0M60.5 135h0M54.9 146.3h0M66.3 113.2h0M79.8 107.4h0M57.3 153.2h0M69.5 128.9h0M58.1 129.6h0M79 131.2h0M66.4 139.5h0M71 103.7h0M70.1 138.8h0M72.8 127.9h0M70.6 135.5h0M57.3 115.1h0M62.9 154.8h0M64.3 146.2h0M73.3 157.2h0M76.5 125h0M52.8 51.5h0M59.8 54.5h0M37.8 79.5h0M46.8 90.5h0M31.8 151.5h0M35.8 154.5h0M39.8 156.5h0" stroke="#4d72e3" stroke-width="1.0" stroke-linecap="round" fill="none"/>
<path d="M122 157.6h0M131.4 158.2h0M128 163.4h0M129.2 158.5h0M149.3 155.6h0M134.4 156.2h0M142.2 159.5h0M120.2 156.2h0M123.3 163.7h0M128.3 157.4h0M132 160.1h0M123.7 157h0M141.7 156.8h0M146.6 162.8h0M144.2 154.9h0M133.6 160.3h0M149.3 154.3h0M148.2 162.6h0M141.9 160.7h0M119.9 156.9h0M146.4 154.6h0M135.6 158.1h0M121.7 158.4h0M127.6 156.1h0M121.3 163.6h0M127 159.3h0M128.4 160.9h0M134.1 162.8h0M135.4 164.1h0M132.2 158.1h0M135.1 164.2h0M135 154.4h0M130.4 161.9h0M144.5 154.2h0M143.7 158.4h0M125.5 164h0M138.4 162.4h0M139.2 162.4h0M132.6 157.5h0M138.8 160.6h0M137 154.3h0M142.4 158.7h0M120.1 165h0M125 165.1h0M139.8 157h0M120.2 155.2h0M133 154.7h0M124.8 158.1h0M147.8 155.5h0M127.5 154.8h0M128.8 160.7h0M134.1 161.4h0M146.1 158.1h0M121.8 162.1h0M142.1 153.8h0M120.7 157.6h0M145.5 163.3h0M135.6 154.4h0M138.2 153.8h0M140.7 161.1h0M145.2 158h0M122.4 161.3h0M119.4 156.2h0M119.4 156.2h0M123.9 164.7h0M139.5 157.7h0M135.3 161h0M130.6 160.2h0M147 157.2h0M145.9 157.2h0M129.2 163.5h0M134.6 157.1h0M119.5 162h0M139.6 160.8h0M148.9 156.8h0M142.2 161.6h0M144.7 159.6h0M122.9 160.7h0M124.7 160.4h0M147 158.9h0M134.4 114.5h0M145.5 123.7h0M179.8 145.4h0M135.7 155.1h0M168.7 157.8h0M188.9 158.2h0M183.4 111h0M176.1 97.8h0M147.4 116.1h0M163.2 162.5h0M160.2 118.5h0M142.1 144h0M126.1 160.4h0M131.8 159h0M120.8 142.3h0M157.6 115.5h0M129.8 101.5h0M183 132.4h0M126.6 125.4h0M120.1 154.1h0M165.1 139.4h0M188.7 122.2h0M171 106.5h0M156.6 135.8h0M168 155.7h0M132.5 155.9h0M119.8 20.5h0M131.8 24.5h0M161.8 52.5h0M193.8 59.5h0M187.8 99.5h0M136.8 56.5h0M122.8 56.5h0M179.8 136.5h0M169.8 154.5h0M174.8 151.5h0" stroke="#eb4a50" stroke-width="1.0" stroke-linecap="round" fill="none"/>
<rect x="267.2" y="16.1" width="169" height="167.2" fill="none" stroke="#d6d6d6" stroke-width="0.9"/>
<path d="M260.8 26L266.7 26" stroke="#444" stroke-width="1.0" fill="none"/>
<text x="259.3" y="29.1" font-size="8.5" text-anchor="end">20</text>
<path d="M260.8 60.1L266.7 60.1" stroke="#444" stroke-width="1.0" fill="none"/>
<text x="259.3" y="63.2" font-size="8.5" text-anchor="end">15</text>
<path d="M260.8 98.8L266.7 98.8" stroke="#444" stroke-width="1.0" fill="none"/>
<text x="259.3" y="101.9" font-size="8.5" text-anchor="end">10</text>
<path d="M260.8 140.6L266.7 140.6" stroke="#444" stroke-width="1.0" fill="none"/>
<text x="259.3" y="143.7" font-size="8.5" text-anchor="end">5</text>
<path d="M260.8 181.4L266.7 181.4" stroke="#444" stroke-width="1.0" fill="none"/>
<text x="259.3" y="184.5" font-size="8.5" text-anchor="end">0</text>
<path d="M300.7 183.6L300.7 190.5" stroke="#555" stroke-width="1.0" fill="none"/>
<text x="300.7" y="198.7" font-size="8.5" text-anchor="middle">-2</text>
<path d="M339.6 183.6L339.6 190.5" stroke="#555" stroke-width="1.0" fill="none"/>
<text x="339.6" y="198.7" font-size="8.5" text-anchor="middle">0</text>
<path d="M386.5 183.6L386.5 190.5" stroke="#555" stroke-width="1.0" fill="none"/>
<text x="386.5" y="198.7" font-size="8.5" text-anchor="middle">2</text>
<path d="M428.2 183.6L428.2 190.5" stroke="#555" stroke-width="1.0" fill="none"/>
<text x="428.2" y="198.7" font-size="8.5" text-anchor="middle">4</text>
<text x="272.8" y="11.7">H460</text>
<text x="317" y="11.7">NC vs CD147shNA</text>
<text x="243.2" y="103" text-anchor="middle" transform="rotate(-90 243.2 103)">-log10 (p value)</text>
<text x="346.4" y="208.4" text-anchor="middle">Log 2(fold change)</text>
<path d="M340.3 175.9h0M340.7 176.7h0M326.5 164.1h0M346 124.5h0M316.1 167.1h0M342.8 155.9h0M345.1 141.6h0M334.2 143.8h0M336.2 175.3h0M335.5 134.7h0M332.7 105.1h0M356 165.1h0M346.7 148.1h0M358.2 152.8h0M335.4 140.8h0M334.1 118.6h0M332.8 123.3h0M351.4 171.1h0M363.4 159.9h0M334.4 167h0M346 134.6h0M347.6 123.4h0M335.2 145.7h0M334.9 128.4h0M345 174.3h0M338.9 175.7h0M346.4 112.3h0M338.7 176.7h0M348.3 162.9h0M315.6 161.2h0M364.1 158.8h0M336.1 175.2h0M341.1 166.2h0M353.7 167.7h0M334 120.4h0M334.3 171.2h0M346.8 146.5h0M336.3 173.4h0M340.2 174.1h0M332.3 122.1h0M347.7 126.9h0M344.3 167.2h0M332.7 168.9h0M344.8 122.8h0M345.1 136.5h0M332.9 144.1h0M345.3 172.4h0M346.9 103.5h0M340.9 173.8h0M352.9 161.6h0M342.2 175.2h0M344.2 126.3h0M332 141.5h0M340.9 176.1h0M332.5 108.2h0M333.9 156.1h0M338.8 177.2h0M355.7 169.2h0M337 163.4h0M325.9 170.3h0M315.7 163.2h0M331.8 136.7h0M347.9 117.3h0M339.1 177.3h0M322.3 163.7h0M340.2 177h0M346.1 135.9h0M348.5 169.8h0M344.2 148.4h0M329.3 169.3h0M347.5 102.9h0M332.7 111.5h0M342 174.1h0M328.1 172.3h0M349.3 169.8h0M352.6 169.2h0M347.4 109.3h0M354.8 153.5h0M330.9 149.4h0M323.3 168.7h0M345.4 170.1h0M350 170.4h0M359.9 160.2h0M322.7 168.4h0M332.5 152.2h0M344.9 174.1h0M330.8 171.4h0M357.5 155.3h0M334 118.6h0M360.2 163h0M332.6 106.1h0M343.3 140h0M323.1 162.9h0M345.5 113.5h0M342 173.6h0M341.5 166.5h0M355.6 169.2h0M339.1 177.2h0M337 161h0M364.8 166h0M355.2 162.7h0M334.6 167h0M338.2 176.8h0M351.5 168.4h0M335.5 151.9h0M347.6 146.6h0M345.8 105h0M347.5 171h0M355.6 166.1h0M343.4 137.5h0M333.1 144.8h0M336.9 150.7h0M332.9 108.6h0M336.8 152.1h0M344.5 121.5h0M333.5 119.9h0M346.5 166.9h0M346.1 120.9h0M340.5 172.4h0M348.1 171.4h0M331 165.9h0M365.5 155.5h0M324.6 165.3h0M337.2 170.2h0M339 176.9h0M346.9 171h0M345.2 125.9h0M324 163.6h0M315.8 156.6h0M337.7 176.7h0M345.8 135.7h0M334 162.9h0M331.9 134.2h0M347.9 163.8h0M332.9 115.1h0M319.1 165.5h0M332 117.5h0M365.5 163.7h0M355.1 159.1h0M342.3 170.3h0M346.8 157h0M343 173.7h0M345.9 174.6h0M345.3 151.2h0M348.5 172.1h0M320.4 155.4h0M335 170.7h0M331.9 116.1h0M340.4 171.5h0M343.1 164.7h0M334.3 123.2h0M338.6 176.1h0M341.2 174.9h0M347.8 159h0M349 171.6h0M342.7 145.4h0M345.9 164.7h0M361.5 154.8h0M341.6 166.9h0M338.3 174.8h0M333.9 127h0M337.8 176.2h0M340.1 176.8h0M337.6 163.6h0M347.2 138.3h0M349.6 172.3h0M334.4 145.4h0M315.7 166h0M319.5 159h0M340.8 176h0M346.7 151.5h0M331.8 163.6h0M333.5 171.2h0M341.8 174.3h0M336.5 170.7h0M335.5 170.8h0M346.5 171h0M345.4 174.8h0M342.4 162.3h0M319.1 166.2h0M330.9 105.4h0M318.8 163.2h0M336 142.4h0M333.9 148.1h0M345.7 106.9h0M315.4 162.5h0M320.6 156.3h0M338.2 173.5h0M345.2 120.9h0M312.4 156.1h0M347.6 106.3h0M332.8 117.9h0M343.5 134.4h0M352.8 170.6h0M346.4 110.6h0M332.6 172.1h0M334.4 140.4h0M347.7 142.6h0M335.8 138.8h0M347.7 110h0M332.9 103h0M351.4 168.6h0M347.1 105.8h0M340.9 176.2h0M344.6 135.9h0M359 167.2h0M344.9 122.8h0M322.2 169.4h0M348.8 170.7h0M349.9 168.5h0M338.5 172.1h0M331.3 103.8h0M347.8 105.3h0M340.2 172.3h0M339.9 177.2h0M332.5 103.2h0M346.3 126.6h0M332.5 103.1h0M314.2 156.7h0M333.4 172.4h0M334.4 173h0M346.9 120.8h0M340.4 171.6h0M332.7 134.7h0M322.1 158.5h0M345.6 123.1h0M352.2 156.1h0M332.9 118.4h0M322.7 163h0M365 158.4h0M322.1 162.2h0M338.7 174.9h0M361.2 166.8h0M334.7 137.1h0M337.1 175.8h0M328.2 168h0M332.9 124.4h0M333 120.8h0M327.5 165.3h0M334.2 123h0M334.5 147.3h0M332.1 173.7h0M332.7 122.4h0M345.7 136.7h0M334.4 129.3h0M347.2 143.3h0M325.6 161.1h0M347 108.7h0M330.9 132.6h0M345.7 163.2h0M345.4 139.5h0M338.2 170.5h0M345.6 120.6h0M341.2 176.1h0M348.4 173h0M335.7 172.9h0M345.9 105.2h0M363.2 157.6h0M333 120.3h0M340 174.2h0M338.7 176h0M337.7 161.1h0M317 156.7h0M337.5 166.5h0M331.4 138.5h0M332.5 117.2h0M332.9 141.5h0M347.8 153.9h0M333.3 174.1h0M334.1 143.3h0M341.7 167.6h0M347.9 144.2h0M333.6 173.3h0M337.8 168.6h0M331 141.7h0M327.1 170.5h0M338.3 176.2h0M347.7 144h0M347.5 103.3h0M344 138.3h0M335.2 164.9h0M334 123.8h0M344.6 125.9h0M349.1 170.3h0M342 176.2h0M345.8 117.5h0M359.1 154.4h0M345.6 110.8h0M331.8 108.2h0M334.6 134.3h0M345.9 119.1h0M342.7 174.2h0M346.4 126.1h0M346.2 141.8h0M335.1 149.4h0M344.5 131.6h0M335.8 170.2h0M340.4 172.8h0M332.1 113.2h0M336.3 163.8h0M347.3 160.3h0M345.1 160.8h0M331.7 102.8h0M343.9 140.6h0M333.7 172.5h0M339.9 177.3h0M340.9 176.7h0M330.9 137.6h0M352 162.5h0M342.9 171.9h0M346.8 120.2h0M347.4 107.1h0M335.1 170.6h0M347.3 167.2h0M335.7 173.7h0M340.9 170.8h0M343.9 169.1h0M342.9 162.5h0M340.1 176.6h0M340.4 176.7h0M342.8 151.2h0M352.5 163.6h0M340.7 174.4h0M361.6 163.1h0M332.7 138.3h0M327.4 171.8h0M341.3 167.4h0M332.6 114.4h0M322.8 163.7h0M326.5 170.9h0M323.1 160.1h0M335.5 149.5h0M333 105.3h0M342.2 172.2h0M341.3 176h0M341.8 158h0M343.7 173.6h0M332.9 107.4h0M324.9 170.9h0M344.5 144h0M344 146.4h0M341.2 173.4h0M333.3 134.7h0M347.1 162.3h0M343.5 150.8h0M336.6 165.3h0M334.5 124.4h0M334.5 123.8h0M314.2 165.9h0M342.2 169.4h0M338.8 176.9h0M347 109.7h0M330.9 172.8h0M345.9 128.6h0M333.6 134.3h0M332.6 138.9h0M343.7 133.6h0M363.8 156.8h0M333.5 136.5h0M352.2 168.3h0M347.6 118.9h0M343.4 174.2h0M346.4 172.9h0M320.9 167.4h0M323.1 168.5h0M332 172.1h0M347.3 132h0M362.8 162h0M338 174.8h0M330.9 129.8h0M331.4 133.1h0M347.3 111.4h0M361.5 164.8h0M346.7 116.6h0M335 151.9h0M342.3 175.7h0M331.6 122.4h0M337.7 171.2h0M342.1 175.8h0M334.8 161.7h0M338 176.9h0M331.9 121.8h0M337.3 156.3h0M346.6 168.7h0M340.2 171.3h0M332.9 111h0M348.1 159.7h0M335.8 144.8h0M342.5 171.8h0M318.3 161.7h0M331.4 172.6h0M338.5 174.9h0M360.1 159.2h0M345.4 174.8h0M331.6 108.1h0M333.5 167.1h0M347.6 109.1h0M345.8 172.2h0M347.2 151h0M336.1 174.2h0M332.5 115.4h0M345.1 123.7h0M346.1 131.2h0M336 143.3h0M336.3 156.4h0M346.7 108.8h0M351.9 166.1h0M333.5 143.2h0M331.4 106.2h0M331.7 116.5h0M320.7 168.5h0M347.3 172.4h0M345 167.1h0M333.5 133.6h0M323.3 159.6h0M336.7 172.1h0M332.3 112.4h0M313.4 163.3h0M342.3 168.5h0M337.9 174.1h0M329.8 164.6h0M347 116.6h0M345.8 113.5h0M346.4 112.3h0M331.2 116.5h0M332.7 122.3h0M337.3 163.6h0M343.9 127.7h0M347.2 103.8h0M347.1 125.2h0M345.3 134h0M336.2 175.8h0M344.6 122.5h0M346.4 150.8h0M333.7 127h0M333 136.3h0M343.8 144.6h0M339.7 177.3h0M352.3 170.5h0M336.6 168.6h0M336.6 168.4h0M332.1 107.5h0M327.3 163.1h0M332 149.8h0M341 176.8h0M332.2 110h0M337.6 171.4h0M356.4 167.5h0M341.4 171.5h0M329.8 173.1h0M332.6 168.1h0M322.5 158.1h0M344.2 124.3h0M345.5 128.5h0M347.3 169h0M334.2 146.9h0M349.9 159.3h0M345.1 124.7h0M336.9 153.9h0M333 136.3h0M344.6 145.2h0M337.9 163.3h0M347 115h0M337.7 172h0M340.7 165.4h0M336.2 150.8h0M346.4 131.5h0M346.9 140.4h0M333.2 108.9h0M351.4 158.7h0M326.5 165h0M315 155h0M315.7 164.8h0M340.6 175h0M343.7 132.6h0M342.7 175.9h0M360.4 162.4h0M333.3 169.1h0M331 139.4h0M332.5 104.7h0M336.6 171.9h0M334.3 120.8h0M335.7 172.7h0M342.6 156.2h0M339 177.3h0M361.6 162.1h0M337.5 176h0M338 172.8h0M350.2 171.4h0M333 147.9h0M332.8 102.9h0M334.7 169.9h0M337.6 173.1h0M331.6 158.2h0M344.4 128.6h0M343.7 175.5h0M327.6 171h0M347 104.3h0M332.9 131.2h0M343.7 151.3h0M327.8 171.3h0M347.9 164.4h0M324.5 168.4h0M332 144h0M332.2 155.7h0M354.6 166.5h0M362.9 162.8h0M353.7 165.1h0M353.2 170.2h0M342.7 154.4h0M341.3 175.9h0M342.4 149h0M313.1 165.7h0M341.6 173.2h0M331.7 108.1h0M354.3 152.9h0M351.6 165.6h0M346.3 128.8h0M345.6 111.6h0M332.2 117.8h0M347.6 144.1h0M342.4 145.8h0M346.9 149.5h0M322.9 169.6h0M334.1 130.9h0M346.3 173.2h0M326.9 168h0M347.7 136.4h0M331.3 151.2h0M320.5 162.5h0M335 167.4h0M344.9 147.5h0M341.5 171.4h0M339.9 176.8h0M344.9 137.1h0M356.5 155.5h0M344.6 121.8h0M344.6 164.6h0M347.8 113h0M343.8 133.8h0M332.7 138.6h0M347 127h0M332.9 169h0M335.9 175.8h0M334.8 174.5h0M323.7 168.7h0M327.5 170.6h0M340.7 170.2h0M333.8 126.9h0M334.7 127.2h0M347.1 105.7h0M331.3 115.3h0M334.9 173h0M345 172.4h0M344.7 164.3h0M331.6 120h0M334 138.5h0M331.4 124.9h0M345 127.4h0M336.7 160.3h0M331.6 104.6h0M348.1 172.9h0M330 171.8h0M336.3 168h0M333.8 159.7h0M343.5 134.7h0M328.5 171.5h0M328.5 167.1h0M334.6 175.2h0M340.5 174.7h0M332.3 149.5h0M346.5 125.9h0M332.3 149.9h0M347.9 157.8h0M335.3 157.2h0M343.8 174.5h0M340.1 176.7h0M342.2 150.6h0M350.2 170.9h0M345.5 171.6h0M333 122.5h0M334.1 139.8h0M333.1 174.7h0M344 174.2h0M343.7 169.7h0M347.1 142.3h0M346.4 155.6h0M339 176.7h0M335.8 141.5h0M347.4 173.2h0M345.3 111.3h0M345.8 131.6h0M331.2 117.1h0M345.1 124.5h0M341.1 162.8h0M354.5 163.5h0M347 118.7h0M343.2 136.4h0M339.8 176.9h0M347.2 148.8h0M355 166.2h0M337.7 169.5h0M333.5 174.7h0M360.7 167.9h0M340.6 175.8h0M330.9 161h0M332.1 112.7h0M320.6 155.2h0M345.7 151.3h0M339.9 177.1h0M344.9 137.8h0M349.4 168h0M333.4 156.1h0M332 137.8h0M342.3 175.8h0M314.1 159.4h0M344.9 140.3h0M341.8 175.2h0M349.3 166.1h0M325 156h0M337.8 176.6h0M334.1 151.2h0M344.2 123.7h0M330.3 170.9h0M331.7 146.4h0M343 164.3h0M341.5 176.4h0M355.7 169.9h0M341.5 176.3h0M333.3 166.8h0M345.5 123.9h0M333.6 132.4h0M334.9 172.1h0M332.2 105.4h0M336.4 170.7h0M347.8 126.9h0M337.2 162.6h0M327.2 167.7h0M337.6 175.3h0M331.8 124.7h0M346.9 151.3h0M344.7 171.2h0M347.8 133.1h0M340 177.1h0M333 105.5h0M341.4 164.5h0M343.3 144.7h0M333.6 165.4h0M335 174.6h0M347.1 173.3h0M342.9 175.7h0M340.3 176.9h0M347.8 139h0M340.8 176.2h0M341.7 160.2h0M335.2 134.4h0M343.8 155.7h0M341 176.4h0M338.9 176.7h0M334.7 124.9h0M339.8 177.3h0M341.5 174h0M346.4 107.9h0M335.2 141.5h0M320.5 164.4h0M359.1 167.2h0M342.1 155.3h0M328.8 171.1h0M340.8 170.8h0M345.8 120.8h0M343.4 148.6h0M334 173.4h0M341.3 160.7h0M319.8 166.9h0M346.5 113.9h0M366.3 157.4h0M343.9 133.8h0M346.7 123.5h0M331.8 117.5h0M327 162.3h0M342 160h0M335.3 173.8h0M343.5 151.9h0M346.2 120.6h0M320.6 156.6h0M336.5 167.2h0M344.6 130.8h0M347.8 122.6h0M357.9 157.5h0M331.9 169.6h0M337.3 169.6h0M333.1 106.2h0M342 150.8h0M331.8 172.6h0M340.7 176.8h0M333.1 110.2h0M346.7 111.3h0M349.2 172.5h0M335.8 141.3h0M338.6 173.3h0M331.2 116.7h0M329.7 171h0M343.1 156.9h0M334.1 172.4h0M334.3 121.7h0M312.7 161.5h0M327 163h0M344.7 138.8h0M316.1 162.2h0M322.9 156h0M312.6 163.3h0M336.9 154.2h0M342.4 160.2h0M332.5 135.8h0M343.6 151.4h0M331.2 154.9h0M338.9 175.3h0M340.9 176.8h0M345.3 160.8h0M318.6 157.3h0M333.7 150.7h0M333.8 163.1h0M325.9 157.7h0M334.5 122.5h0M334.6 140.1h0M333.4 134.7h0M337 170.4h0M333.8 152.2h0M327.6 171h0M340.9 174h0M331.5 108.1h0M346.3 174h0M333.1 132.9h0M314.5 152.7h0M355.6 168h0M335 138.6h0M335.7 175.3h0M335.3 175.2h0M333.7 166.6h0M313.7 155.7h0M331.7 126.1h0M331.4 119.6h0M357.2 155.9h0M358.9 156h0M336.5 169.1h0M345.2 117.1h0M338.2 172.2h0M333.5 134.3h0M342.6 163.1h0M337.6 171.1h0M331.4 168.7h0M340.7 170h0M342.1 174.6h0M343.8 138.4h0M334.7 137.4h0M346.3 151.1h0M346.3 120h0M333.4 111.1h0M333.3 117.4h0M337.4 174h0M336.1 175.6h0M335.7 175.1h0M347.2 122.6h0M327.5 165.9h0M332.8 105.7h0M344.3 136.4h0M331.9 132.8h0M338.1 175.9h0M346.4 171.7h0M345 139.1h0M345.2 112.6h0M315.4 161.7h0M341.9 171h0M340.5 168.6h0M343.3 148.4h0M344.5 123.3h0M347.6 171.7h0M344.3 126.2h0M333.5 146.5h0M333.9 166.7h0M330.2 171.9h0M334.7 128.8h0M332.4 115.1h0M331.3 142h0M347.4 149.6h0M319.5 166.6h0M342.7 166h0M341.1 172.7h0M337.8 175.5h0M352.4 154.8h0M333.1 124h0M332.7 123.6h0M334.4 126.2h0M340.1 172.5h0M343.5 135.9h0M331.3 122.3h0M343.3 175.8h0M351.3 157.1h0M331.4 124.1h0M347 159.5h0M339.8 177.2h0M339.1 177.1h0M334 174.2h0M338.8 177.2h0M342.2 174.9h0M325.5 161.9h0M329.2 159.4h0M329.9 153.3h0M346.4 144.4h0M328 171h0M342.5 166.9h0M332.1 112.4h0M344.1 168.7h0M338.6 177.2h0M365.9 156.1h0M343.2 170.8h0M342.7 159.8h0M333 103.9h0M345.9 106.7h0M343.1 142h0M346.2 104.1h0M342.7 149.7h0M345.6 174.4h0M346.2 152.5h0M345.2 115.6h0M334.8 173h0M347.5 138.8h0M336.9 164.3h0M332.6 150.2h0M344.1 129.2h0M346.7 123.2h0M338.8 176.8h0M344.7 174.4h0M347.1 136.3h0M345.8 174.4h0M333 129.7h0M332.1 151.9h0M355.4 168.1h0M346.8 128.5h0M355.1 157.6h0M344.3 145.1h0M338.3 176.7h0M346 119.3h0M346.7 106.8h0M332.6 124.4h0M341.1 175.7h0M345.5 157.2h0M334.9 174.5h0M331.4 106.9h0M340.1 175.6h0M347.7 119.4h0M317.1 166.6h0M335.2 145h0M359.9 164h0M314.9 164.2h0M365.3 153h0M347 137.9h0M347.4 113.6h0M337.2 172.5h0M351.9 169.8h0M345 161.4h0M338.1 171.1h0M324.9 167.5h0M344.3 127.5h0M332.3 119.8h0M331.6 114.1h0M352.7 153.5h0M336.5 163.7h0M345.1 147h0M339.8 176.3h0M342.8 144.4h0M335.8 174.5h0M334.8 141.6h0M338.7 176.7h0M331.1 105.3h0M331.9 172.3h0M335.9 153.3h0M318.4 164.9h0M346.7 173.5h0M350.4 170.5h0M321 164.9h0M352.8 164.7h0M343.7 142.2h0M347.5 106h0M346.1 130h0M344.2 144.8h0M347.8 168.4h0M333.5 110h0M344.4 150.7h0M347.7 138h0M324 158.4h0M346.9 135.4h0M338.3 168.4h0M344.1 132.8h0M336.8 161.6h0M345.4 131.9h0M344.8 153.6h0M336.7 175.5h0M331.3 146.2h0M345.4 146.8h0M322.1 156.8h0M345.6 172.7h0M329.8 166h0M334.9 141.1h0M344.9 128.2h0M345.3 144.6h0M332.6 117.3h0M351.3 159.5h0M338.7 176.7h0M335.2 164.7h0M342.8 154.9h0M333.8 128.2h0M356 166.8h0M332.5 102.8h0M342.5 172.4h0M334.2 119.6h0M343.9 167.7h0M333.1 119.1h0M343.5 139.2h0M331.1 139.6h0M347.1 159.5h0M338.6 175.2h0M345.8 126.5h0M334.2 126.1h0M336.2 146.5h0M344.9 143.7h0M331.7 120.7h0M331 117.9h0M340.6 175.8h0M341 176.7h0M333.4 172.1h0M333.2 173.8h0M333.1 136.2h0M352.1 155.9h0M330.9 108.9h0M332.6 105.3h0M345.2 123.1h0M318 165.6h0M345 142.3h0M333.7 162.2h0M317.4 162.7h0M342.5 174.4h0M347.2 111.4h0M338.1 173.7h0M340 175.2h0M331.9 139.5h0M334.1 173.5h0M341.8 175.8h0M344.5 174.3h0M333.9 142.3h0M331.4 107.5h0M335.3 173.2h0M332.2 149.5h0M333.2 115.8h0M338.3 176.1h0M334.1 141.7h0M333.6 169.5h0M331.6 167.7h0M332.6 154.1h0M340.8 174.3h0M334.1 165.2h0M332.6 155.4h0M332.5 122.9h0M333 124.8h0M334.8 126.4h0M345.6 149.4h0M340.6 169.2h0M332.7 119.5h0M335 130h0M345.6 159.6h0M328.2 159.4h0M332 117.7h0M336 142.8h0M343.2 150.2h0M331.8 120.9h0M330.9 171.5h0M336.4 147.2h0M345.5 111.5h0M365.3 164.9h0M343.2 171.3h0M331.1 172.9h0M343.5 175.6h0M327.2 170h0M342.8 149.2h0M345.4 148.8h0M347.3 165.9h0M347.4 110.5h0M355.9 170h0M336.4 152.3h0M314.9 152.6h0M332.3 173.4h0M334 175.1h0M352.9 167h0M338.7 175.9h0M345.7 147.1h0M341.6 168.3h0M341.7 174.4h0M332 170.1h0M334.1 126.9h0M331.1 151.6h0M332.6 166.2h0M345.7 129h0M343.3 143.7h0M329.4 168.5h0M332.9 156h0M328.6 168.3h0M353.8 164.3h0M329.6 156.4h0M340.2 176.7h0M328 158.2h0M357.3 155h0M345.9 174.5h0M332.2 174.3h0M344.9 115.2h0M333.7 152.5h0M342.9 173h0M322 165.2h0M336.1 149.9h0M355.1 160.8h0M347.4 119.5h0M341.3 173.6h0M338 176.3h0M335.8 149.3h0M331.5 160.5h0M333.6 133.9h0M331.7 140.6h0M345.6 121h0M312.4 161.2h0M313.6 165.8h0M326.9 158.1h0M365 165h0M350.9 162.6h0M351.3 167.9h0M343.5 173.9h0M344.4 132.9h0M341.5 175.4h0M334.6 152.3h0M366.3 152.9h0M334.3 128.2h0M359.4 153.8h0M321.3 162.7h0M333.1 130.4h0M337.5 169.9h0M344.2 148h0M342.8 166.6h0M331.5 103.9h0M343.7 131.1h0M334.7 150.8h0M331.5 120.9h0M324.5 162.2h0M323 164h0M341 171.9h0M346.3 111.5h0M345.5 160.3h0M331.6 105.2h0M332.3 122h0M346.6 139.3h0M345.6 108.5h0M355.4 152.7h0M346.5 174h0M350.1 164.8h0M346.5 134.6h0M347.8 147.6h0M347.2 169.3h0M333 111.5h0M344.4 134.2h0M345.7 111.8h0M343.7 139.2h0M326 166.9h0M322.6 154.2h0M342.8 170.8h0M329.5 162.9h0M331.6 163.4h0M335.1 141.1h0M332.4 145.6h0M344.6 148.8h0M347 146.9h0M345.7 106.6h0M335.4 175.6h0M344.1 141.3h0M331.4 110.7h0M337.6 174.3h0M352.7 169.8h0M334.1 148.4h0M333.5 118.1h0M333.6 151h0M347.8 121.9h0M338.5 176.2h0M333.1 163.4h0M345.4 135.3h0M347.7 171.7h0M333.1 108.3h0M348.9 153.4h0M351.1 163.8h0M359.8 164.3h0M346.5 118.8h0M333.5 146h0M316.3 155.2h0M343.3 155.9h0M333.3 145.2h0M332.3 105.4h0M324.6 168.7h0M345.9 158.4h0M335.5 169.7h0M345.9 158.1h0M352.5 168.8h0M333.4 168h0M347.1 119.3h0M345.2 113.4h0M314.5 155.9h0M337.2 159.1h0M334.2 174.8h0M333.4 128.4h0M340.5 177h0M332.4 110.5h0M339.7 177.3h0M337.5 158.2h0M340.9 172.3h0M334.7 167.8h0M342.8 173.6h0M335.8 146.2h0M338.5 176.5h0M356.6 169.6h0M339.8 177.3h0M325.2 159.8h0M343.9 171.7h0M334.7 173.8h0M332 116.2h0M347.9 114.1h0M323.6 169h0M346.2 109.2h0M324.5 164.8h0M328 162.5h0M347.3 118.2h0M334 126.2h0M332.8 170.4h0M322.4 165.1h0M342.5 175.6h0M332.6 144h0M343 137.8h0M322.5 156.2h0M344.3 160.1h0M336.8 175.5h0M339 177.3h0M337.4 173.9h0M333.5 112.1h0M333.4 115.9h0M352.6 157.1h0M322.1 153.5h0M347.2 146.7h0M336.9 152.3h0M358.5 166h0M346.6 133.1h0M336.2 169.1h0M321.2 160.4h0M341.4 157.7h0M346.7 111.5h0M345.8 136.5h0M326.9 169.7h0M340.8 168.2h0M326.1 169.6h0M330.6 152.9h0M328.5 153.9h0M336.4 174.5h0M333.8 147.5h0M331.7 108.1h0M348.6 165.2h0M331.3 138.1h0M352.4 171.1h0M335.3 161.7h0M343.5 172.7h0M352.9 170.2h0M341 176.7h0M347 139.4h0M327.8 165.6h0M345.8 150.7h0M346.1 133.5h0M343.1 154.1h0M334.3 135.6h0M333.2 174.3h0M340.5 174.6h0M351.7 170.7h0M329.9 160h0M335.9 173h0M335 175.1h0M347.4 103.1h0M338.5 176.1h0M332.8 146.9h0M332.6 102.6h0M332.6 118.6h0M345.9 109.3h0M333.2 113h0M338.2 172.4h0M333.2 116.1h0M341.4 176.3h0M334.3 146.1h0M345.7 128h0M343.9 175h0M340.3 176.4h0M331.4 136.8h0M324.3 168.8h0M327.7 154.4h0M335 130.8h0M338.6 174h0M315 159.8h0M346.9 138.6h0M357.6 152.9h0M333 122.9h0M347 173.6h0M343.9 132.8h0M330 152.6h0M347.3 135.9h0M348.3 171.5h0M346.4 140.7h0M349 152.9h0M360.3 161.2h0M358.1 157.1h0M343.8 171.2h0M357.2 156.4h0M333.9 129.9h0M340.6 169.7h0M345.9 144.1h0M331.3 165.1h0M320.4 165.5h0M337.3 171.2h0M334.5 135.6h0M334.3 170h0M334.7 173.3h0M328.5 161.5h0M345.4 129.8h0M347.7 115.7h0M356 162.2h0M346.4 105.4h0M315.2 165.3h0M342.1 172.9h0M335.9 151.3h0M338.9 177.3h0M343.9 137.5h0M333.2 128.7h0M332.2 104.2h0M332.8 104.7h0M362.6 159h0M339.9 175.9h0M328.2 170.6h0M346 130.7h0M342.2 160.4h0M337.8 176.6h0M338.5 176.1h0M366.1 160.3h0M332.1 150.7h0M316.3 167.2h0M340.2 176.8h0M332.9 106.8h0M346.1 131.6h0M332.6 123.3h0M338.9 176.9h0M315.7 166.2h0M339 176.6h0M333.7 162.8h0M333.6 171.1h0M336 170.2h0M337.3 170.4h0M347.6 170.2h0M347.2 149.1h0M330.4 166.6h0M344.7 126.5h0M333.8 123.4h0M338.2 171.4h0M344.3 154.6h0M344.6 161h0M342.2 166.4h0M330.9 171.1h0M342.7 174.5h0M334.3 123.1h0M350.9 168.4h0M337.5 172.3h0M334.3 147.9h0M342.9 151.9h0M316 160h0M359.1 156.1h0M341.2 171.4h0M344.2 146.1h0M355.1 158.3h0M333.3 141.2h0M342.6 174.1h0M341.2 174.6h0M349 169h0M346.2 146.9h0M345.4 172.5h0M347.5 123.1h0M323.5 160.9h0M337.1 168.7h0M357 168.9h0M323.9 165.7h0M332.1 112.5h0M337.3 174.6h0M359.9 165.2h0M344.1 157.9h0M337 171.6h0M336.6 175.8h0M352.7 158.4h0M337.2 176.4h0M331.7 117.8h0M349.4 155.3h0M321.6 163.5h0M345.9 121.6h0M337.3 175.2h0M343 149.8h0M346.6 128.6h0M327.7 168.9h0M345.1 150.6h0M335.2 144h0M329.8 173.2h0M332.4 116.7h0M344.9 132h0M330.1 173.3h0M346.3 105.2h0M333.9 121.3h0M332.2 121.6h0M334.4 130.5h0M350.8 172h0M333 128.4h0M325.9 158.5h0M364.8 166.3h0M341.4 176.2h0M355 168h0M325.1 157.8h0M346.7 120.4h0M343.6 175.4h0M333.8 124.2h0M340.1 173.5h0M344.9 124.2h0M338.7 173.8h0M338.5 175.8h0M346 139h0M324.8 166.4h0M333.6 160h0M354.6 153h0M335.4 173.8h0M338.2 176.4h0M359 158.7h0M344.4 173h0M334.8 163.6h0M338.2 171.5h0M344.5 154.5h0M344.9 159.9h0M347.1 148.8h0M345.5 166.3h0M358.3 158.8h0M366.2 160.6h0M344.2 173.3h0M344 142.6h0M342.2 175h0M344.6 121.8h0M342.6 154.2h0M342.5 174.6h0M334.5 126.9h0M332.8 129.6h0M337.2 165.1h0M331.3 172.8h0M344.9 125.8h0M346.2 174.2h0M343.9 171.3h0M336.5 173h0M344.7 171.7h0M333.4 174.8h0M336.4 173h0M330.6 152.9h0M331.2 173.8h0M332.8 172.6h0M333.8 174h0M326.2 162.6h0M339.9 177.2h0M356.3 165.1h0M335.1 167.7h0M344.6 169.5h0M335 129.2h0M337.7 161h0M334 147.2h0M346.1 167.6h0M328.2 168.8h0M332 115.8h0M330.1 157.1h0M334.3 143.5h0M347.4 117.4h0M359.5 160h0M322.6 166.9h0M338.7 176.6h0M331.2 141.7h0M328.4 166.2h0M359.4 165.1h0M347.9 103.4h0M360.8 158.4h0M334.5 136.6h0M346.9 166.4h0M332.4 111.7h0M337.5 160.8h0M332.4 173.8h0M320.7 166.6h0M340.7 174.4h0M340.6 173.7h0M335 166.5h0M330.8 158.3h0M338.9 177.2h0M335.9 174.8h0M346.2 113.4h0M333 111.3h0M328.2 162.7h0M330.2 173.2h0M327 171.8h0M340.4 172.7h0M335.2 142.7h0M338.8 177.1h0M349.2 157.3h0M335.1 130.7h0M338.1 172.9h0M349.3 156.6h0M359.8 152.9h0M336.6 174.1h0M313.3 164.5h0M333.2 107.7h0M329.7 162.2h0M333.3 112.3h0M335.7 175.1h0M343.5 141.8h0M335.9 159.6h0M337.5 176.3h0M332.8 113.8h0M363.8 163.1h0M346.1 172.7h0M332 156h0M360.3 163.5h0M338.4 176.5h0M340.4 176.7h0M321.7 167.3h0M364.3 158.9h0M340.3 173.7h0M345.1 149.3h0M347.5 159.6h0M331.8 112.3h0M356.9 168.7h0M346.2 106.5h0M338.8 176.4h0M332 137.4h0M344.2 150h0M340.3 176.2h0M332.4 171.3h0M336.9 172.2h0M331.1 162h0M346.9 143.2h0M325.4 157.9h0M341.1 176.4h0M329.2 170.9h0M343.9 171.9h0M332.5 155h0M332.6 126.9h0M332.7 107.3h0M343.6 152.4h0M331.8 139.6h0M344.1 131.7h0M334.6 124.6h0M344.8 126h0M346.6 128.3h0M338.5 174.9h0M334.7 140.4h0M339.9 176.3h0M342.4 173.3h0M365.7 164.6h0M332.7 107.6h0M346.6 152.6h0M346.9 138.9h0M345.1 142.8h0M339.9 176.9h0M342.5 144.9h0M342.2 164.5h0M331.6 113.5h0M332.1 108.4h0M334.7 173.9h0M324.9 170.2h0M340.9 176.7h0M313 164.3h0M333.8 160.3h0M347.2 156h0M321 166.2h0M347.6 112.7h0M341.9 151.7h0M352.8 160.5h0M336 175h0M331.1 155.7h0M338.7 176.9h0M332 112.1h0M343.7 172h0M328.9 154.8h0M331.9 124.4h0M347.5 102.9h0M344.9 152.2h0M345.4 163.7h0M333.4 131.2h0M331.1 165.3h0M346.8 157h0M341.8 165.1h0M338.4 176.4h0M331.4 116.8h0M334.4 145.3h0M353.8 163.7h0M345.9 116.3h0M328.3 171.2h0M330.6 169.1h0M348.4 171.8h0M353.8 162.8h0M332.5 110.7h0M335.8 173.1h0M346.3 172.3h0M347.1 107.5h0M360.4 160.4h0M333.7 137.7h0M331.6 133.8h0M362.7 166.5h0M342.5 164.9h0M342.2 163.1h0M347.6 161.1h0M346.4 161.7h0M346.3 137.9h0M345.5 118h0M351.3 158.4h0M331.7 164.8h0M340.5 174.9h0M349.2 153.2h0M335.2 138.3h0M333.1 117.3h0M340.6 176.5h0M330.9 107.5h0M342.2 173.4h0M337.3 175.4h0M346.4 147.8h0M318.4 157h0M358.5 155.5h0M332.3 113.9h0M333.5 114.6h0M331 135.1h0M332.7 124.1h0M343.6 167.9h0M344.7 152.1h0M346.3 109.7h0M334.5 129.8h0M344 128.3h0M345.6 109.2h0M345.9 135h0M350.9 171.3h0M362.7 154.9h0M335.5 157.6h0M337.5 165.4h0M346 155.2h0M332.4 103.2h0M364 163h0M345.8 126.5h0M336.1 175.5h0M332.4 146.4h0M342.1 175.9h0M332.5 122.3h0M335 148.8h0M332.9 142.3h0M347 118.6h0M344.5 167h0M335.2 139h0M332.1 130.4h0M344.7 173.5h0M352.7 165.7h0M335.9 168.3h0M357.2 153.2h0M338.8 176.9h0M327.2 169.3h0M337.1 173.1h0M331.8 122.7h0M337.2 170.5h0M345 116h0M344.5 129.5h0M354.3 158.3h0M317.6 162h0M339.8 176.2h0M326.4 167h0M341.8 157.1h0M337.3 175.4h0M345.6 140.5h0M338.4 170.1h0M347.4 143.3h0M334.1 147.5h0M334.1 174h0M331.1 108.7h0M344.5 139.2h0M315.4 153.2h0M331.2 168.6h0M342.5 149.1h0M346 131.5h0M338.1 166.1h0M366.1 156.4h0M329.8 170h0M357.1 169h0M331.3 125.9h0M323 164.6h0M334.7 139.6h0M346.9 156.5h0M325.3 161.1h0M353.5 162h0M338.9 177.2h0M345.9 109.5h0M336.6 173.5h0M341 173.8h0M338.5 176h0M345.6 120.8h0M344.6 137.8h0M338 172.6h0M341.2 176.1h0M332.2 113.4h0M340.6 167.9h0M347.7 110.7h0M334.1 137.4h0M336.7 155.2h0M317 162h0M344.6 167.5h0M346.2 152.1h0M337.5 169.9h0M341.6 176.3h0M347.8 127.6h0M332.4 170.6h0M325.9 157.8h0M348.2 167.3h0M345.9 118h0M335.4 169.2h0M346.3 147.9h0M345.9 173.4h0M332.4 117.7h0M334.3 172.7h0M331.4 150.4h0M345.5 141.9h0M346.5 141.5h0M332.5 110.3h0M343.2 165.3h0M347.3 117.2h0M331.7 115.1h0M359.4 157.3h0M330.1 171.3h0M345.4 111.9h0M316.1 167.1h0M336.7 150.4h0M345.4 173.3h0M331.2 141.9h0M336.3 155h0M329.3 169.4h0M347.4 172h0M330.2 168.7h0M346.5 174h0M332.4 169.4h0M334.4 133.4h0M328.3 171.4h0M344.8 157.7h0M333 171.5h0M332.5 174.2h0M334 142.6h0M358.6 153.2h0M331.4 103.5h0M339.9 177h0M340.9 171.9h0M351.3 169.4h0M344.7 165.6h0M329.7 156.1h0M342.2 162.5h0M343.7 168.4h0M347.3 130.1h0M331.1 151h0M349.3 162.8h0M323.2 164.2h0M338.7 176.1h0M344.8 128.4h0M345.6 111.9h0M355.8 159.1h0M344.5 134.1h0M333 152.3h0M350.8 159.7h0M340.3 176.3h0M338.1 175.9h0M331.8 107.8h0M337.6 176.5h0M331 114.4h0M331.7 135.7h0M315.9 162.3h0M343.9 137.3h0M328.8 169.1h0M340.3 176.2h0M344 150.5h0M342.2 175.8h0M335.5 155.7h0M344.3 170.7h0M329.3 167h0M332.2 139.3h0M320.1 160.7h0M345.4 130.5h0M344.5 125.3h0M332.5 104.8h0M330.2 168.5h0M339.8 176.4h0M333.5 134h0M345.6 172.9h0M357 169.2h0M332.2 160h0M336.5 173.9h0M340.3 173.3h0M362.9 157.3h0M346 123.1h0M344.2 146.9h0M346.3 173.5h0M343.1 166.4h0M349 168.8h0M332.1 154.1h0M335.5 153h0M329 169.4h0M331 114.3h0M333.4 111.3h0M355.3 167.9h0M346.8 134.9h0M332.2 163.1h0M337.9 171.5h0M340.9 175.7h0M335.5 142.7h0M358.2 154.5h0M342.7 150h0M347.1 123.4h0M354.1 161.6h0M331.4 115h0M324.4 156.8h0M334.2 130h0M333.7 121.2h0M331.5 172.5h0M335.3 165.6h0M341.5 174.5h0M346.2 172.7h0M338.6 174h0M332.3 105h0M335.4 163.2h0M331.2 142h0M342.8 175.6h0M331.8 126.6h0M346.2 127.5h0M337.2 175.4h0M346.2 118.9h0M359.5 167.4h0M333.1 173.8h0M331.4 173h0M340.8 170.6h0M333.6 130.9h0M349.6 164.5h0M340.7 167.9h0M347 111.7h0M336.5 175.5h0M350 158.6h0M335.1 134h0M342 172.9h0M344.4 132.1h0M344.2 175h0M331 114.9h0M332.7 148.6h0M339.8 177h0M336.9 173.7h0M335.7 163.6h0M326.1 158.9h0M322.9 165.8h0M345.2 159.5h0M324.4 166.3h0M349.8 171.2h0M358.9 168.5h0M333.2 112.3h0M344.7 123.5h0M341.8 158.5h0M338.7 172.8h0M347.4 114.2h0M332.9 140.5h0M335 133.5h0M347.7 102.8h0M332.6 117.1h0M345.5 169.8h0M346.8 143.5h0M356.8 153.9h0M321.2 167.2h0M355.7 160.8h0M334.1 151.4h0M348.1 161.3h0M333.2 127.9h0M339 177.3h0M331.5 133.1h0M345.4 115.9h0M346.8 134h0M331.7 125.6h0M346.9 106.9h0M332.1 131.6h0M347.1 173.2h0M345.9 110.2h0M341.8 174.5h0M334.1 144.2h0M341.3 176.4h0M345.4 154.5h0M347.4 134.6h0M345 174.5h0M356.2 163.4h0M324.7 167.2h0M334.2 148.6h0M319.8 157.5h0M334.4 125.2h0M341.5 170.8h0M363 159.9h0M329.7 163h0M353.9 170.3h0M343.2 167.2h0M350.1 172.8h0M330.8 154.9h0M317.9 162.9h0M340.7 176.6h0M333.4 135.8h0M346.7 148.4h0M341.5 168.7h0M345 114h0M334.7 136h0M335 147.7h0M335.9 174h0M338.5 176.6h0M342 176.2h0M341.7 175.9h0M324.3 156.5h0M337.6 163.6h0M337.8 175.3h0M340.4 176.6h0M334.8 173h0M332.3 174.1h0M347.7 126.7h0M331.3 111.6h0M332.2 127.1h0M361.5 162.2h0M331.5 162.9h0M314.9 156.6h0M346.3 129.7h0M333 110.9h0M347 170.2h0M320.3 168.5h0M346.1 114h0M334.3 139.7h0M338.6 175.4h0M350.7 158.3h0M344.7 152.1h0M321.8 168.5h0M342.8 167.4h0M341.3 168.8h0M333.4 109.1h0M331.8 148.6h0M356 165.3h0M315.4 159.7h0M338.5 176.8h0M337.4 167.2h0M344.8 167.9h0M338.3 174.5h0M343.6 132.8h0M347.7 107.7h0M342 175.6h0M331.1 128.5h0M333.6 120.4h0M329.6 167.1h0M352.2 158.8h0M338.8 176.7h0M346.8 133.8h0M338.6 177h0M338.5 172h0M336.8 172.9h0M331.2 111.7h0M331.9 151.1h0M349.2 173.2h0M338.2 171.1h0M332.9 142.9h0M326.9 165.5h0M333.3 112.2h0M347.3 172.5h0M331.2 114h0M347.7 104.1h0M343.3 143.6h0M343.3 161.7h0M344.7 123.6h0M333.5 112.5h0M342.2 173h0M320.6 159h0M344.2 150.3h0M334.9 170.2h0M346.1 118.5h0M332.9 105.8h0M344.3 123.1h0M332.9 130.6h0M332.2 154.2h0M326.2 157.8h0M325.4 164.7h0M334.6 157.9h0M338 175.6h0M334.9 127.7h0M346.3 173.5h0M347 170h0M341.7 173.6h0M342.1 149h0M346.2 123.3h0M345.6 139.7h0M347.7 124.5h0M346.7 142.7h0M336.6 174h0M345.8 104.6h0M340.9 173.7h0M346.5 108.2h0M346.5 159h0M342.8 147h0M343 163.4h0M331.8 105.6h0M342.3 167.3h0M347.6 111.2h0M332.4 113.1h0M333.7 162.4h0M336.6 175.3h0M318.5 164.7h0M346.3 130.5h0M338.3 173.4h0M344.5 174.4h0M335.5 171h0M341 173.7h0M346.8 149.5h0M320.1 164.9h0M344.3 130.9h0M346.6 164.1h0M347.2 146.7h0M343.3 171.4h0M346.9 109.3h0M338.3 171h0M332.3 151.2h0M328.4 160.7h0M342.2 170.4h0M336.8 175.5h0M342.9 148.1h0M346.5 134h0M345.6 108.4h0M334.2 174.9h0M324 153h0M363.6 162.2h0M337.4 176.3h0M359.9 158.6h0M344.7 141.2h0M347.2 133h0M343.8 164.1h0M346.3 105.1h0M345.8 154.3h0M322.2 159.5h0M342.6 166.5h0M331.2 136.6h0M347.4 168.2h0M346.5 140.4h0M343.9 127.6h0M352.9 157.8h0M341.9 174.8h0M342.7 170h0M332.7 126.9h0M332 106.6h0M345.8 129.3h0M337.2 174.9h0M333.6 170.8h0M338.2 172.4h0M341.9 161.7h0M348.6 171h0M341.3 176.5h0M331.9 113.8h0M317.1 159.1h0M340.6 170.1h0M345.3 126.6h0M355.9 168.3h0M321.3 161.4h0M344.5 174.3h0M347 172.5h0M333.3 169.2h0M332.6 112.3h0M331.6 170.4h0M346 118.1h0M341.4 173.7h0M344.8 169.4h0M331.6 103.9h0M332.9 117.5h0M346.2 139.1h0M318 164.9h0M322.7 157h0M331.7 131.7h0M336.5 150.7h0M340 177.2h0M337.2 166.6h0M343.2 142.8h0M332.4 106.9h0M336.8 155.6h0M338.4 173.7h0M336.1 151.2h0M348 169h0M334.5 127.1h0M340.7 168.5h0M359.8 163.6h0M331.9 171.8h0M340.3 175.8h0M334.1 124.3h0M340.3 176.5h0M333.7 133.2h0M338.8 177.2h0M347.8 115.5h0M344 144.2h0M328.3 169.3h0M332.9 133.2h0M335.9 149.1h0M318.5 160.4h0M360.7 166.4h0M333.2 168.1h0M332.6 174.2h0M333.2 139.9h0M344.7 132.6h0M341.5 160.7h0M347.5 150.9h0M340.9 173.8h0M333.5 114.3h0M331.3 147.3h0M334.7 174.6h0M335.8 139.1h0M349.8 160.6h0M328.9 165.2h0M325.3 170.6h0M345.3 112.7h0M325.7 163.4h0M365.4 164.4h0M344 172.8h0M326.2 167.4h0M328 171.2h0M327.4 161h0M350.8 171.4h0M338.7 176.8h0M341.3 173.3h0M335.4 136.7h0M342.5 176.1h0M332.5 115.7h0M336.2 160h0M341 175.7h0M331.2 140.8h0M341.2 174.2h0M340.2 172.6h0M334 167.2h0M338.1 167.2h0M346 104.7h0M331.2 126h0M344.5 121.7h0M332.2 122.6h0M346.5 126.3h0M336.4 148.1h0M334.2 145.6h0M357.5 169.2h0M348.2 166.7h0M348.3 172.8h0M334.4 146.7h0M357.2 169.6h0M358.1 167.2h0M327.1 171h0M335.9 159.6h0M333.4 112.7h0M332 108.7h0M338.2 170.9h0M353.5 165.3h0M358.9 163.7h0M334.6 174.9h0M334.7 172.7h0M342.1 161.9h0M346.2 109.9h0M334.8 154.5h0M343.4 161.1h0M313.4 163.4h0M345.5 129.9h0M353.9 168.4h0M335.6 144.5h0M332.2 118.1h0M333.5 143.3h0M353.5 161.2h0M342.5 150.9h0M324.9 159.9h0M351.2 170.9h0M347.7 144h0M337.5 174.8h0M340.2 176.2h0M353.5 169h0M345 119.9h0M344 168.9h0M340.9 175h0M352.6 166.4h0M333.7 116.6h0M331.8 167.4h0M331.7 104.5h0M347.7 116.5h0M338.2 174.5h0M327.5 163.9h0M334.9 127.8h0M331.7 104.9h0M335.7 171.7h0M337.8 176.1h0M331.3 164.8h0M341 163.4h0M316 162h0M334.5 131.3h0M346.8 114.5h0M347.3 107.6h0M353.2 170h0M363.7 159.1h0M338.6 172.7h0M364.9 164.6h0M334.1 123.8h0M339.8 176.7h0M335.1 172.3h0M334.2 171.5h0M332.3 109.1h0M332.7 116.6h0M335.1 144.7h0M344.6 151.7h0M313.8 161.1h0M348.7 169.1h0M337 174.5h0M348.3 166.2h0M324 166.5h0M322.8 154h0M332.2 172.8h0M325.6 157h0M331.4 133h0M335.2 175.6h0M333.1 151.4h0M344.4 166.7h0M345.3 134.5h0M332.2 130.5h0M358.9 158.3h0M321.3 168.9h0M342.8 146.6h0M341.9 175.2h0M337.5 175h0M346.3 113.2h0M334.9 148.4h0M341.1 173.4h0M362.1 163.8h0M343.8 161.7h0M331.1 147.8h0M340.6 173.3h0M338.5 176.9h0M338.8 176.8h0M318.5 166.1h0M336.7 173.5h0M347.8 118.6h0M337.6 169.8h0M331.1 131.7h0M344.9 126.1h0M337.4 165.6h0M347.4 109h0M339 177h0M345.9 161.3h0M334.2 129.2h0M331.9 171.2h0M332 125.9h0M319.4 160.6h0M340.3 175.8h0M362 165.4h0M348 160.9h0M319.3 167.6h0M340.9 176.2h0M333.2 124h0M337.7 174.1h0M343.1 137.5h0M337.7 175.5h0M338.3 175.1h0M344.7 141.1h0M342.1 174.6h0M337.7 166.9h0M333.4 151.5h0M357 167.3h0M339.1 177.3h0M336.4 170.3h0M343.1 174.1h0M341.8 173.4h0M318.7 166.8h0M334.4 174.5h0M333.7 119.6h0M336 174.9h0M347.8 137.6h0M333.6 174h0M345.3 144.4h0M345.3 129.9h0M340.1 176h0M345.1 162.3h0M338.4 176.9h0M336.9 171.1h0M333.7 147.3h0M334.4 145.1h0M345.9 106.5h0M332.4 103.6h0M346.9 112.8h0M355.3 153.6h0M333.5 127.4h0M359.9 168.3h0M338 176.2h0M357.7 168.1h0M344.6 157.8h0M315.2 161.8h0M345.9 169.6h0M334.3 148.9h0M331.9 139.7h0M344.6 151.6h0M340.5 175.1h0M335.4 136.9h0M330.9 130.5h0M344 151.1h0M345 149.3h0M349.2 154.3h0M346 161.2h0M322.9 170.2h0M333.5 161.2h0M347.8 118.4h0M364.9 158.2h0M354.1 170.1h0M344.8 139.4h0M357.5 162.8h0M331.2 147.1h0M331.4 136.2h0M343.5 174.4h0M346.2 114.9h0M348.6 170.8h0M334.2 141.1h0M331.3 102.6h0M328.3 172.1h0M340.7 166.9h0M345.3 153.9h0M340.9 176h0M338.2 175.9h0M344.6 157.4h0M343.5 149.6h0M340.1 175.3h0M320.7 164.2h0M328.3 171h0M353.5 153.1h0M355.1 159.2h0M331.7 107.7h0M346.9 144.8h0M337.5 176.6h0M340.3 174.9h0M345.4 110.1h0M361 157.7h0M327.7 169.6h0M336 174.8h0M347.1 143.8h0M331.4 141.2h0M333.9 136.4h0M341.8 172.4h0M348.8 170.9h0M323.2 157.5h0M346.1 173.5h0M343.3 155.6h0M345.9 114.9h0M339.9 175.3h0M315 164.4h0M331.3 140.2h0M332.5 145.5h0M340.9 168.9h0M314.2 161h0M336.6 175.2h0M346.8 126.3h0M339.9 177.3h0M331.2 136.3h0M333.1 114h0M325.3 163.6h0M344 164.3h0M347.3 109.3h0M325.8 161h0M315.4 156h0M335.9 174.3h0M332.7 109h0M348 162.5h0M356.7 167h0M347.2 125.8h0M332.1 141.8h0M333.1 166.8h0M334.7 129.3h0M347.3 105.6h0M348.4 168.8h0M344.8 117.5h0M346.8 114h0M328.1 163.4h0M337.3 175.5h0M327.3 166.8h0M348.2 160h0M331.5 108.4h0M357.3 156h0M351.6 161.3h0M358.9 162.5h0M320.7 159.5h0M337 173.2h0M336.7 157.8h0M335.6 136.9h0M332 164h0M347 133.9h0M346.5 123.1h0M329.7 165h0M341.4 174.9h0M345.7 123.8h0M316.7 156.7h0M346.3 130.8h0M332.8 165.6h0M320.2 159.6h0M345.9 147.8h0M346.6 124h0M345.8 154.2h0M332.7 151.5h0M327.7 171.6h0M334.4 172.1h0M332.7 110.2h0M336.9 172.7h0M345.1 114.7h0M331.9 166h0M330.4 172.7h0M333.7 165.8h0M344.7 151.8h0M359.6 158.6h0M333 173.6h0M322.4 157.2h0M339.9 177.2h0M345.4 112.8h0M345.4 111.1h0M332.6 115.2h0M344.8 143.2h0M337.5 162.3h0M345.9 105.9h0M345.4 123.7h0M340.6 175.4h0M328.2 167.4h0M344.8 160.3h0M327.2 158.6h0M346.7 173.2h0M338 176.2h0M338 176.8h0M360.6 166.5h0M336.7 174.7h0M346.2 173.9h0M337 171.1h0M331.3 118.2h0M343.2 150.6h0M365.7 161.2h0M328.9 171.2h0M333.2 135.6h0M338.5 170.6h0M362.6 164.6h0M340.6 172.7h0M331.1 114.7h0M330 172.7h0M317.1 163.9h0M363.5 159.1h0M332.2 111.2h0M343.2 170.2h0M337.7 176.3h0M332.5 107.5h0M332.9 104.4h0M323.6 169.7h0M344.9 144.9h0M337.9 174.5h0M345.8 122.5h0M348.4 162.9h0M336.5 174.2h0M337.9 165.9h0M323.1 166.2h0M340.9 176.7h0M334.1 165.2h0M347.9 155.9h0M333 148.5h0M334.7 165.1h0M339.1 177.3h0M316.7 163.4h0M331.5 142.5h0M366 159h0M331.8 135.6h0M343.6 144h0M334.9 174.7h0M340 177.1h0M338.7 176.1h0M330.8 169.8h0M331.7 147.3h0M340.1 176.6h0M347.7 173.7h0M339 176.8h0M332.2 141.3h0M327.4 159.8h0M346.9 138.7h0M333.8 126.5h0M333 107.3h0M334.2 159.7h0M326.9 159.7h0M341.1 176.5h0M345.8 145.5h0M331 110.5h0M333.1 124.3h0M360.5 161.4h0M329 171.6h0M341.4 176.2h0M331.7 117.1h0M327.6 165.1h0M331.6 172.2h0M332.4 111.1h0M344.4 139.8h0M331.9 106.5h0M332.5 135.7h0M362.5 159h0M335 168.7h0M355.3 167.2h0M347.5 130.7h0M345.3 135.3h0M316 165.4h0M326.6 171h0M345 124.7h0M347.3 135.4h0M327.8 169.6h0M337.2 170.4h0M332 136.4h0M336.2 170.6h0M335.7 142.1h0M346.6 117.6h0M345 163.7h0M340 175.6h0M349.7 154.3h0M349.2 170.2h0M344.5 133.9h0M347.3 153.7h0M346.1 106.6h0M344.2 169.1h0M332.9 104.8h0M344.9 163.7h0M346.3 113.8h0M346.8 105.4h0M333.5 147.4h0M340.8 176.7h0M334 131.5h0M345.7 123h0M336.2 146.2h0M343.9 133.6h0M341.2 162.7h0M320.4 154.9h0M342.9 141.1h0M342.9 174.7h0M340 175.2h0M346 109.7h0M344.2 166.9h0M340.6 174.5h0M314.2 152.8h0M328.4 156.9h0M345.8 105.6h0M350.7 169.7h0M342.8 170.2h0M346.5 118.1h0M334.5 136.8h0M333.9 137.2h0M331.7 110.4h0M328.8 166.2h0M342.1 170.5h0M358.5 158.4h0M331.5 108.8h0M360.2 164.4h0M357.1 156.9h0M336 173.8h0M331.6 103.3h0M350.1 170.1h0M345.3 128.8h0M341.4 174.3h0M346.6 114.1h0M337 175.8h0M343.6 174h0M331.2 169h0M326.8 171.9h0M335.3 151h0M341.1 168.5h0M328.6 153.6h0M340.3 175.8h0M322.4 161.6h0M316 162.1h0M345 156.7h0M321.2 164h0M331.9 108.6h0M345.2 140.6h0M360.8 166.9h0M331.1 128.7h0M333.6 115.2h0M349.5 161h0M331.1 127h0M353.2 153.2h0M334.3 160.9h0M331.5 105.8h0M330.9 116.6h0M317.2 155.9h0M340.5 174.9h0M322.4 159.9h0M335.5 171.2h0M346.3 162.1h0M332.4 141.9h0M345 141.8h0M323.8 161.1h0M335.2 170.7h0M347.5 103.3h0M344.4 173.2h0M345.7 174h0M337.8 169.9h0M359.4 155.8h0M346.6 117.5h0M338.4 175.4h0M346.6 168h0M345.3 134.1h0M333.4 171.7h0M348.6 170.8h0M341.6 172.3h0M340.5 168.1h0M346.1 119.2h0M332.3 162.6h0M332.7 141h0M344.9 143.4h0M346.5 122.9h0M331.8 147.5h0M337.7 163.5h0M341.8 164.2h0M333.1 147.2h0M334.8 154.9h0M342.3 168.6h0M340.6 173.6h0M340.3 177.1h0M356.5 158.5h0M332.4 119.2h0M333.5 168.7h0M347.6 112.1h0M338.9 175.8h0M346.9 119.7h0M346 136.4h0M337.8 173.7h0M332.8 110.2h0M340.7 176.4h0M333.1 169h0M335.6 170h0M332.8 119h0M343.6 140.7h0M341.3 176.5h0M345.6 141.3h0M334.3 135.9h0M332.3 172.7h0M331.4 129.2h0M317.1 162.2h0M342 173.1h0M343.2 174.5h0M332.3 146.3h0M336.1 144.6h0M330.3 172.1h0M340.2 176.1h0M343 163.6h0M349 171.5h0M343.3 143.5h0M327.4 161.7h0M349.4 170.5h0M342.8 140.8h0M347.5 152h0M336.3 147.4h0M353.6 162.7h0M346.9 108.8h0M336.1 142h0M341 172.9h0M355.8 169.8h0M324.6 158.1h0M351.6 172.1h0M343.2 140.9h0M348.8 167.4h0M347.9 123.5h0M346.3 143.9h0M345.5 107.9h0M353 162.2h0M334.9 147.9h0M318.6 163.9h0M364.8 153.1h0M345.3 130.6h0M341.4 161.2h0M353.8 160.4h0M363 159.4h0M346.8 104h0M316.4 166.6h0M346.1 107.1h0M333.5 136.9h0M347 173.8h0M331.7 116.2h0M334.2 127.6h0M344.8 136.3h0M349.8 172.6h0M363.7 160.3h0M332.8 119.3h0M342.5 151.1h0M335.8 171.3h0M342.2 158.2h0M325.2 170.6h0M348.3 163h0M331.9 171.9h0M352.5 159.2h0M352.6 163.6h0M334.4 122.1h0M331.5 106.9h0M334.1 174.2h0M347.3 110.1h0M333.9 117.7h0M332.3 102.6h0M335.2 174.9h0M331.8 144.6h0M356.2 157.5h0M320.7 164h0M327.1 171.9h0M334.7 175.1h0M331.1 121.2h0M332 173.6h0M337.7 176.7h0M350.4 157.7h0M331.6 126h0M345.1 112.6h0M335.7 162.5h0M332.7 157h0M341.7 154.6h0M327.9 154.2h0M335.7 142.2h0M345.5 171.9h0M336.8 176.2h0M347.1 107.7h0M324.5 167.6h0M344.9 172.7h0M318.2 166h0M342.5 175h0M345.7 137.4h0M334.7 137.6h0M333.6 112.1h0M350.2 170.1h0M343.2 174.1h0M342.4 173.4h0M312.8 156h0M345.2 132.1h0M342.7 171h0M338.4 174h0M334 119.2h0M346.7 173.2h0M347.1 140.8h0M338 173.6h0M347.9 127.5h0M347 167.9h0M318.3 160.5h0M331.1 158h0M336.7 170.4h0M347.9 123.6h0M347.1 107.4h0M318.7 165.5h0M345.5 130.6h0M341.1 173.9h0M347.8 147.8h0M347.1 121.3h0M345.5 109.6h0M345.2 136.8h0M348.7 167.4h0M327.4 170.9h0M338.1 176.6h0M336.1 151.6h0M326.4 165.7h0M352.6 157.3h0M332.8 172.2h0M346.1 114.7h0M333.4 124.3h0M336.6 159.9h0M338.9 175.8h0M340 177.2h0M333.5 117.1h0M344.2 124.3h0M334.8 173.2h0M332 106.6h0M347.3 138.8h0M345.7 174.5h0M329.7 172.6h0M332.4 107.8h0M347.2 120.1h0M332.5 119.5h0M347.9 105.8h0M338.9 177.2h0M337.6 172.5h0M346.7 137.9h0M334.8 171.1h0M338.7 175.7h0M331.8 118.1h0M341.7 171.8h0M337.2 164.8h0M350.9 154.1h0M337.7 176.3h0M330.9 125.3h0M332.6 106.3h0M330.7 168.8h0M342.9 153.2h0M324.5 170.9h0M332.2 128.1h0M348.8 165.6h0M339.7 177h0M332.7 170.1h0M330.8 159.9h0M340.1 177h0M335.5 175.6h0M351.2 169.4h0M345 161.8h0M343.6 143.4h0M350.5 171.7h0M332 110.6h0M340.4 176.2h0M346.1 106.3h0M337 169.1h0M340 175.9h0M336.3 175.4h0M355.5 166.1h0M344.8 118.2h0M338.4 172.8h0M323.2 165.4h0M340.1 174.6h0M326.8 170.3h0M327.4 169.2h0M335.6 138h0M336 144.4h0M344.5 128.1h0M346.3 166.2h0M344.3 174h0M344.5 140.8h0M337.1 174.3h0M333.7 156.9h0M332.3 150.2h0M336.4 173.8h0M345.3 123.3h0M351.2 169h0M332.8 106.1h0M334.6 169h0M364.8 159.9h0M352.7 161.8h0M343.9 134.2h0M358.1 168.8h0M346.4 111.8h0M332.3 102.8h0M333.8 122.3h0M330.6 165.7h0M325.5 170.5h0M333.3 124.4h0M348 172.5h0M345.2 169.5h0M351.8 155.7h0M332.9 118.3h0M335.8 162.7h0M333.8 172h0M339.8 176.3h0M339.8 177.2h0M344 141.1h0M344.5 174.7h0M346.9 121.5h0M334.5 161.8h0M328.4 161.4h0M345.6 115h0M331.3 139.6h0M345.6 145.7h0M336.2 174.9h0M347.7 134.8h0M337.1 154.1h0M333.1 117.6h0M361.9 155.2h0M334.6 172.3h0M340.8 165.4h0M350.2 168.6h0M347.3 119.7h0M332.6 163.2h0M364.6 160.1h0M337 175.3h0M343.6 161.9h0M313.8 156.5h0M346.6 147.2h0M332.1 172.5h0M331.9 173.7h0M344.3 153.6h0M319 161.1h0M346.2 135.1h0M331.6 107.5h0M346.5 136.3h0M364.7 158.7h0M351 164.9h0M335.5 141.8h0M346.2 134.9h0M341.5 175.6h0M345.9 153.9h0M363.2 159.4h0M342 152.2h0M344.4 175h0M334.6 174.2h0M332.9 121.2h0M343 141.9h0M344.9 174.9h0M345.5 161.2h0M320.4 160.4h0M347.2 159.3h0M332.7 116.2h0M343.6 173.6h0M333.2 114.4h0M338.8 177.2h0M333.3 170.8h0M340.7 171.4h0M333.8 132h0M342.7 174.3h0M324.2 169.9h0M344.5 152.4h0M341.3 175.4h0M344 173.7h0M332.1 109h0M337.8 171h0M345.1 162.4h0M331.9 114.6h0M346 111.4h0M341.2 164.9h0M337.3 175.9h0M316.8 156.4h0M341 176.3h0M344.7 152.9h0M347.5 168.9h0M325.4 170.3h0M340.6 171h0M347.6 173.7h0M325 153.4h0M344.4 164.5h0M326.9 171.1h0M347.7 147.3h0M345.1 172.5h0M338.3 175.1h0M332.8 168.1h0M347.8 134.8h0M344.8 151.9h0M338.4 174.8h0M325.4 153.4h0M344.8 131.9h0M345.2 134.1h0M358 168.2h0M342.4 165.9h0M347.2 132h0M342.2 176.1h0M346.2 127.5h0M347.9 108.4h0M334.6 156.9h0M331 115.7h0M348.6 165.3h0M345.5 129h0M345.4 136.7h0M320.5 167.9h0M338.3 174.8h0M344.2 154.7h0M345.1 114.3h0M345.4 111.1h0M349.2 160.5h0M342.8 140.2h0M338.9 175.1h0M340.7 175.4h0M342.7 170.6h0M344.3 130.2h0M344.4 144.6h0M345.1 120.7h0M340.3 175.4h0M351.1 171.1h0M331.2 165h0M348.1 171.6h0M333.2 139.1h0M336.2 149.9h0M346.8 111.6h0M345.8 110.7h0M329.4 172h0M352.1 165.7h0M345.2 174.2h0M333.9 167.1h0M354.2 169.1h0M343.5 145h0M351.5 156.8h0M333 126.5h0M333.8 174.8h0M347 167.1h0M336.3 174.6h0M317.4 162h0M348.1 169.1h0M354.5 164.9h0M338.1 176.5h0M345.8 131.8h0M343.8 141.6h0M332.9 110h0M348.7 162.3h0M331.2 151.8h0M332 150.9h0M324.8 167.3h0M342.9 140.5h0M344.7 161.5h0M332.1 149.5h0M339.1 177.2h0M332.7 162.9h0M346.4 111.3h0M334.1 128.3h0M332.5 105.4h0M346.9 161.7h0M334.5 123.7h0M342.3 168.6h0M330.9 134.9h0M347.1 115.6h0M346.1 139h0M352.3 167.1h0M335.7 172.5h0M346.5 144h0M325.3 169.8h0M345.7 125.9h0M342.9 173.1h0M347.1 164h0M361.5 166.8h0M352.8 171.4h0M344.6 120h0M347.5 171.4h0M333.5 128.1h0M340.9 176.6h0M332.9 105h0M344.5 171.5h0M347.1 173.5h0M338 176.1h0M345.9 169.9h0M343.9 158.9h0M336.5 175.5h0M364.8 154.5h0M334.4 135.4h0M332.2 111.4h0M333.4 119.2h0M331.2 107h0M335.9 169.3h0M334.5 174.8h0M342.9 145.5h0M332.1 136h0M331.4 165.5h0M335.5 167.8h0M335.2 134.7h0M337.1 154.9h0M334.4 140.5h0M342.9 153.9h0M354.5 162.2h0M336.6 176.1h0M337.4 171.9h0M321.5 169.2h0M347 148.1h0M345.2 121.1h0M347.4 130.2h0M346 106.7h0M317.8 158.3h0M338.8 174.9h0M341.3 174.1h0M343.4 167.3h0M337.9 176.6h0M347.4 107.4h0M333.4 167.5h0M333.6 141.1h0M345.9 161.9h0M359.1 160.5h0M332.9 113.3h0M347.8 168.1h0M333.1 112.9h0M331.5 105.9h0M342.8 140.4h0M344.7 121.7h0M349.4 172.1h0M334.3 148.7h0M365.8 153.9h0M325.9 170.7h0M340.4 176.9h0M335.8 173.6h0M349.8 169.2h0M345.6 157.5h0M343.6 137.2h0M316.2 152.9h0M358.8 158.1h0M341.9 160.5h0M324.6 165.8h0M344.2 126.2h0M342.1 160.8h0M342.7 174.7h0M347.4 139.2h0M345.9 150.5h0M333 150.4h0M335.6 175.7h0M337.2 169.7h0M344.4 141.4h0M340.6 175.7h0M323.5 153.4h0M331.8 104.9h0M326.3 168.3h0M341.8 175.2h0M318 166.9h0M335.4 167.6h0M357 168.2h0M334.1 171.7h0M343.6 153.8h0M338.3 176.8h0M346.2 139.3h0M324.3 165.8h0M346.5 150.8h0M334.9 131.2h0M332.1 147.3h0M345.4 118.1h0M326.7 170.6h0M338.4 171.8h0M331.6 118.4h0M342.7 155.4h0M341.1 175.5h0M333.9 125.9h0M315.6 166.5h0M335.4 158.2h0M347.7 154.3h0M346.8 116h0M334.7 145.4h0M356 159.7h0M360.5 165.1h0M333.4 137.4h0M335.8 141.8h0M332.8 117.3h0M362.6 164.1h0M335.6 135.9h0M348.9 172.4h0M332.9 152.4h0M342.9 175.1h0M345.8 132.4h0M336.7 168.7h0M338.3 176.7h0M316.1 159.8h0M343.1 151h0M359.3 167.7h0M344.9 137.1h0M346.3 135.9h0M331.6 118.2h0M349.9 156.5h0M351.7 168.5h0M328 162.9h0M334.9 133.1h0M334.2 145.8h0M333.6 127.7h0M358.6 162.5h0M346.3 116.7h0M331.9 172.7h0M333.7 137.8h0M345.1 128.6h0M357.8 166.4h0M347 166.4h0M336 175.9h0M337.1 155.6h0M319.2 168.5h0M343.1 171.3h0M336.1 174.8h0M342.7 175.5h0M337.7 165.7h0M327.7 154.8h0M356.3 163.7h0M342.2 160.8h0M341.4 175.5h0M337.1 175.4h0M350.4 169.5h0M339.8 177h0M333.5 165.6h0M363.4 164.4h0M344.7 117.9h0M360.7 164.8h0M346.3 168.4h0M343.3 148h0M343.9 145.9h0M360.6 164.4h0M344.3 135.5h0M312.7 162.5h0M335 148.8h0M342 175.7h0M345.6 127.4h0M319.7 158.5h0M342.6 174.9h0M344.3 130.1h0M358.2 165.3h0M326.3 170.2h0M333.2 111.2h0M327 152.8h0M336.9 175.4h0M344 166.8h0M346 116.7h0M352.5 171.4h0M344.1 157.5h0M347.7 171.5h0M333 113.6h0M333.7 118.4h0M337.9 175h0M327.1 169.2h0M339.8 177.3h0M343.5 140.9h0M360.7 165.9h0M340.8 174.4h0M319.4 167.6h0M335.3 151.4h0M334.1 146.4h0M342.1 150.4h0M312.5 152.6h0M345.3 133.5h0M340.1 177h0M362.3 162.7h0M335.2 144h0M346.6 121.7h0M318 167.1h0M332.4 140.5h0M337.7 176.1h0M342.5 169.3h0M334.4 141.8h0M336.9 174.6h0M319.2 158.4h0M322.8 169.4h0M335.8 146.8h0M365.5 155.5h0M330.1 169.8h0M334.6 131.3h0M344 135.5h0M347.4 172.8h0M322.7 169.5h0M346.5 147.6h0M361.7 161.3h0M333.7 173.6h0M335.7 140h0M318.4 164.9h0M324.9 163.5h0M333.3 114h0M329 166.2h0M339.8 177.2h0M347.2 128.7h0M343.5 174.9h0M328.2 171.9h0M331.1 111.3h0M348.9 171.2h0M337.3 156h0M337.1 174.5h0M333.9 148.2h0M333.2 145.5h0M348.7 171.5h0M347.1 156.4h0M334.3 175h0M328.6 172.6h0M321.8 162.8h0M344.9 130.8h0M357.6 156.7h0M332 105h0M329.5 169.8h0M345.7 146.2h0M330.9 136.1h0M332.4 104.1h0M347.5 113.6h0M334.1 173.6h0M346.9 113.1h0M331.4 115.2h0M338 175.9h0M352.6 157.8h0M333.7 173.5h0M340.6 169.7h0M346.2 110.6h0M332.1 173.3h0M345.3 153.7h0M347.9 154.3h0M333.9 121.8h0M328.4 157.9h0M357.6 166h0M340 176.5h0M338.5 176h0M317 159.9h0M315.7 165.4h0M336.9 162.8h0M331.8 121.4h0M333.5 113.2h0M347.7 124.4h0M335.3 150.6h0M354.9 169.1h0M329.6 169.2h0M353.5 163.9h0M345.8 139.7h0M346 131.4h0M345.3 142h0M359 161.8h0M334.1 173h0M341.5 172.6h0M350 153.6h0M348 173.5h0M345.9 171.3h0M331.5 105.3h0M330.7 168h0M334.9 160.9h0M362.2 158.2h0M335.5 148.5h0M347.3 127.7h0M340.1 174.7h0M332.5 150.3h0M335.4 140.9h0M345.8 109.2h0M338.3 175.3h0M354.5 170h0M341.6 175.4h0M339.9 176.9h0M345 120.7h0M339.7 177.3h0M358.8 168.2h0M346.7 108.5h0M335.1 133.5h0M328.4 164h0M318.7 161.6h0M336.1 172h0M331.4 115.8h0M343 172.2h0M333.1 165.3h0M334.5 173.4h0M348.7 168.4h0M337.1 154h0M343.6 137.7h0M333.5 151.7h0M346 142.7h0M331.9 116.3h0M325.6 165.7h0M339.1 177.3h0M357.4 166.8h0M344.5 171.6h0M344.7 122.2h0M341 176.6h0M332.1 123.9h0M336.6 153.5h0M345.3 128.7h0M332.2 129.3h0M341.1 167h0M350.4 171.3h0M332.5 174.3h0M337.8 170.4h0M341.8 162.8h0M351.9 154.7h0M350.9 163.4h0M346 135.2h0M347.3 118.4h0M319.4 168.1h0M336.3 175h0M338 174.7h0M360.3 167.4h0M331.7 143.8h0M347.1 160.5h0M344.1 126.2h0M335.2 169.6h0M338.5 175.9h0M345.5 124.6h0M356.6 157.3h0M327.5 169.3h0M344.4 125.5h0M333.1 144.7h0M327.4 170.1h0M346.4 136.3h0M346.4 130.1h0M327.5 157.2h0M320.2 166.2h0M344.5 167.9h0M343.7 152.4h0M345.9 114.5h0M347.3 144.9h0M345 115.8h0M351.8 168.6h0M331.6 128.8h0M343.8 132.2h0M332 104.3h0M341.7 174.8h0M317.1 157.5h0M346.1 152.1h0M332.4 116.5h0M347.1 139.9h0M333.1 130.6h0M336.2 175.9h0M359.4 161.9h0M336.6 149h0M345.4 110h0M353.6 169h0M342.3 173.9h0M348.6 158.4h0M341.9 150.8h0M333.8 146.6h0M332.6 104.7h0M355.4 152.9h0M346.7 125.4h0M323.3 159.4h0M345.1 151.8h0M334.6 142.1h0M345.6 111.8h0M358.9 163.4h0M343.8 173.3h0M340.9 176.3h0M339.7 177.3h0M331.4 116.8h0M327.2 154.5h0M343.2 142.2h0M320.9 153.8h0M346.1 157.3h0M346.6 115.8h0M332.1 143h0M351.4 167.7h0M335.2 132h0M316.5 162.9h0M330.4 160.5h0M355.8 159.1h0M335.9 169.8h0M345.8 126.8h0M343.2 172.5h0M336.2 143.4h0M331.2 112.2h0M336.4 163.2h0M346.6 113.5h0M345.2 129.4h0M332.6 126.9h0M346.5 143.4h0M312.5 163.3h0M334.9 152.7h0M337.1 153.4h0M343.8 141.7h0M344.4 151.2h0M346.4 142.7h0M337.2 155.9h0M325.4 158.6h0M347.5 108.7h0M354.9 153.3h0M316 155h0M346.4 140.8h0M338.3 174.4h0M350.1 169.7h0M331.5 114.8h0M332 150.6h0M343.9 173.7h0M345.2 137.8h0M340.6 176.8h0M341.3 168.2h0M331.6 112.7h0M356.7 160.3h0M331 172h0M334.8 165.5h0M344.6 140.9h0M340.2 174.2h0M339.1 177.3h0M347.3 114.6h0M351.7 160.7h0M344.7 118.6h0M347.9 131.4h0M333.3 173h0M327.9 170.8h0M334.1 171.8h0M340.6 172.3h0M327.7 158.8h0M337.5 169.8h0M313.2 157.4h0M334.2 121.9h0M331 106.9h0M340.3 176.1h0M331.4 145h0M339.9 177.2h0M318.5 165.3h0M331 107.6h0M332.8 165.3h0M340.6 176.9h0M331.8 106.5h0M350 152.6h0M334.8 173.7h0M336 172.3h0M363.4 164.1h0M331.1 141.2h0M321.2 156.5h0M346 121.5h0M364.4 155.9h0M347.8 116.3h0M340.2 171.6h0M358.8 164.2h0M344 151h0M347.2 104.5h0M349.1 156.8h0M345.5 149.4h0M343.7 161.1h0M327.1 166.8h0M337.6 176.6h0M338.2 168.6h0M332.2 107.6h0M325.3 170.3h0M334.1 119.2h0M325.7 165.1h0M321.4 160.4h0M345.6 114h0M340.9 176.4h0M337.8 175.1h0M332 107.2h0M334.8 158.2h0M332.4 115.9h0M332.7 130.6h0M332.1 142.4h0M336 170.2h0M346.5 134.6h0M346 110.2h0M322.1 164.2h0M332.5 145.5h0M347.2 167.8h0M324 168.8h0M346.3 106.6h0M337.9 172.5h0M354.7 168.1h0M347.8 119.4h0M317.4 164.7h0M346 108.6h0M351.8 172h0M331 148.4h0M325.2 170h0M341.5 176.3h0M334.4 161.7h0M342.3 148.5h0M341.3 173.9h0M326.8 154.6h0M348.1 171.3h0M332.3 162.7h0M345.7 128.6h0M339.8 176.9h0M341 173.2h0M338.1 168.2h0M338.7 176.2h0M336 156.7h0M342.8 164.1h0M348.7 156.8h0M344.7 151.8h0M337.6 175.8h0M338.1 174.4h0M340 175.2h0M333 143.4h0M346 147.5h0M335.9 171.1h0M332.7 105.3h0M337.2 165.8h0M343.7 173.6h0M333 118.1h0M331.7 166.8h0M347.8 156.4h0M339.8 177.1h0M353 155.2h0M336.8 172.4h0M336.4 166h0M317.6 153h0M335.1 151.4h0M342 174.3h0M332.7 108h0M327.2 168.2h0M332.4 146.6h0M336.4 171.1h0M336.4 173.4h0M332.7 137.3h0M344.8 116.8h0M320.3 163.7h0M358.3 161.9h0M347.9 118.8h0M332.2 114.3h0M331.5 104.6h0M347.1 120.3h0M347.9 158.6h0M364.6 155.6h0M341.3 161.9h0M332.4 117.7h0M330 167.4h0M345 117.4h0M320.4 157.4h0M360.7 153.3h0M333.2 112.3h0M347.6 137.1h0M333.2 136h0M332.5 133.1h0M346.6 109.8h0M332 174h0M334 130.6h0M359 153.2h0M332.3 112.5h0M317.1 155.4h0M327.9 170.7h0M334.2 142.7h0M345.9 106.1h0M332.3 104h0M341.4 168.9h0M323.1 156.5h0M320.2 161.5h0M344.1 145.6h0M326.6 168.3h0M332.5 155.8h0M333.3 165.4h0M347 171.4h0M332.5 113.9h0M342.1 150.9h0M345.8 116.6h0M332.8 147.8h0M345.7 129.5h0M337.1 176.1h0M341.1 168.2h0M346 118.3h0M333.1 120.1h0M355.7 166.8h0M359.9 168.3h0M331.8 134.5h0M363.8 157.6h0M346.3 103.6h0M343.9 138.5h0M332 130.3h0M339.9 177.2h0M346.8 135.8h0M343.4 172.6h0M343.4 138.5h0M347.6 160.7h0M347.5 164.6h0M352.7 166.1h0M333.7 113.4h0M337.7 167.6h0M339 176.6h0M333.8 124.5h0M331.7 128.2h0M313.1 164.4h0M323.3 156.8h0M332.1 145h0M332.8 111.3h0M333 127.7h0M346.4 103.3h0M345.2 151h0M337.6 171.1h0M337.8 170.2h0M333 108.7h0M360.1 160.2h0M324.1 152.5h0M333.7 165.2h0M347.6 137.5h0M352.9 160.2h0M332.3 103.1h0M362.9 165.6h0M336 175.9h0M332.3 118.1h0M334.6 144.3h0M350.5 164.3h0M332.7 166.6h0M345.2 125.8h0M343.6 145h0M340.4 175.8h0M349 165.4h0M344.7 169.8h0M313 154.6h0M324.4 156h0M347.8 100.9h0M334 125.8h0M345.8 123.5h0M344.4 139h0M344.6 173.1h0M358.2 166.3h0M332.5 128.4h0M336.3 174.8h0M331.3 122.8h0M344.1 165.5h0M336.4 161.3h0M324.5 155.8h0M346.2 114.4h0M331.1 121.7h0M345.7 117.2h0M334.7 153.3h0M340.3 176.8h0M338.5 176.5h0M364 157h0M337.1 175.2h0M331.8 163h0M353.3 153.2h0M344.3 140.7h0M331.6 117.8h0M353.8 163.1h0M342.8 160.5h0M337.3 174.8h0M343.7 166.4h0M342.8 165.9h0M359 163.3h0M344.4 128.8h0M345.1 163.9h0M347.8 125.1h0M347.8 136.2h0M347.8 103.6h0M338.6 177h0M347.1 104h0M334.3 144.3h0M347.8 103.1h0M338.1 176.7h0M346.4 114.1h0M322.5 169.2h0M347.9 108.2h0M334.9 134h0M354.1 160.4h0M333.1 107.2h0M338.1 176.8h0M344 169.3h0M332.8 104.9h0M342 176.3h0M339 177.3h0M353.8 170.4h0M349.8 153.2h0M345.4 116h0M360.6 160.5h0M343.5 145.6h0M301.4 189.5h0" stroke="#bcbcbc" stroke-width="1.0" stroke-linecap="round" fill="none"/>
<path d="M326.5 146.2h0M331 150.1h0M323.7 130.6h0M323.7 143.5h0M331.1 111.9h0M330.1 103.5h0M329.3 113.6h0M329.8 118.8h0M317.2 133h0M319.5 144.7h0M322.5 96.6h0M331.1 128.9h0M330.5 78.5h0M329.2 134.4h0M330.2 148.4h0M329.4 146h0M331.1 87.3h0M323.6 105.9h0M330.1 130.1h0M330.7 110.5h0M330.2 103.1h0M331.1 148.5h0M331 147.8h0M328.8 146.6h0M326.1 127.8h0M330.5 85.8h0M324.5 126.7h0M330.5 132.2h0M324.3 143.6h0M330.3 95.6h0M331.1 140.9h0M300.3 135.8h0M314.9 137.6h0M315.5 146.2h0M330.9 143h0M331 137h0M330.9 114.1h0M330.3 136.1h0M312.6 135.8h0M291.2 151.1h0M318.5 122.6h0M314.3 151h0M324.1 111.9h0M326.9 128.1h0M330.9 151.5h0M320.3 100.4h0M325 92.8h0M326.8 144.1h0M322.8 103.8h0M330.4 99.2h0M318.1 102.7h0M318.1 136.9h0M308.9 147.4h0M329.2 137.9h0M319 151.1h0M329.1 129.9h0M330.1 112.1h0M311.6 144.9h0M331.1 132.5h0M315.9 137.8h0M329.2 105.4h0M324.6 143.2h0M328.6 101.3h0M329.6 147h0M323.5 150.5h0M323.7 103.3h0M322.8 139.4h0M331.1 129.7h0M324.8 146.7h0M329.3 107.3h0M327.6 114.2h0M330.9 108h0M331 149.4h0M330.9 147.5h0M329.8 132.8h0M327.8 101.8h0M328.8 124.9h0M329.1 142.1h0M324.1 111.1h0M320.6 134.8h0M328.1 134.9h0M318.3 136.5h0M322.7 146.5h0M317.5 136.7h0M308.8 145.4h0M315.5 152.4h0M330.3 151.2h0M329.4 148.4h0M331.1 108.7h0M331.1 144h0M330.6 150.8h0M331.1 127.9h0M330 113h0M328.3 140.2h0M331.1 142.1h0M327.6 137.2h0M326.9 72.8h0M316.9 134.5h0M326.2 112.8h0M329.7 96.7h0M330.9 113.5h0M312 143.8h0M326.5 136.3h0M331.1 141.3h0M315.5 137.3h0M315.9 143.5h0M327.2 87.4h0M331 124.4h0M324.1 138.4h0M322.9 133.6h0M315.6 103.2h0M315.6 121.7h0M328 85.2h0M331.1 124.6h0M315.7 125.3h0M325.1 121.4h0M329.5 122.6h0M312.1 148.5h0M331.1 146.6h0M326.2 142.3h0M331 145h0M312.8 148.4h0M331 76.9h0M314 152h0M329.7 86.8h0M329.2 77.3h0M299.1 147.5h0M322.5 141.8h0M310.8 150.9h0M316.6 117.4h0M322.4 149h0M317.7 128.6h0M329.1 151.9h0M324.7 139.3h0M327.8 98.1h0M324.8 107.6h0M327.5 138.1h0M315.5 132.9h0M330.3 125h0M314.2 110.8h0M323.7 149.9h0M330.8 140.9h0M316 139h0M319.5 98.7h0M327.4 147.5h0M330.9 119.9h0M329.3 137.1h0M328.1 132.3h0M323.9 118h0M331.1 128.5h0M329.7 145.1h0M321.1 132.5h0M314.8 151.8h0M322.5 133.5h0M312.6 141.1h0M322.4 126.7h0M320.5 151.6h0M329.4 121.4h0M327.2 101h0M322.4 139.3h0M312.5 138.9h0M312.5 147.6h0M320 121.3h0M324 150.7h0M330.7 136.9h0M312.6 136.4h0M331.1 70.5h0M320.5 148.1h0M330.1 144.8h0M330.2 118.5h0M324 118.5h0M330.1 105.3h0M326.9 148.1h0M317 141.3h0M330.1 92.1h0M330.6 146.4h0M330.7 137h0M330.9 127.4h0M324.4 149.5h0M328.2 90.9h0M329.2 139.5h0M331.1 134.3h0M322.1 86.6h0M330.4 132h0M331 145.1h0M319.3 118.7h0M323.8 149.2h0M311.6 137.2h0M321.5 139.2h0M327.4 128.8h0M311.4 147.2h0M309.9 142.7h0M313.3 145.9h0M330.8 116.4h0M330.7 97.5h0M330.9 105.9h0M324 131.3h0M330.8 108.6h0M329.1 105.8h0M319.7 149.3h0M327.6 146.9h0M329 145.3h0M330.1 134.6h0M326.6 131h0M329.3 133.4h0M330.4 82.8h0M312.3 146.3h0M325.7 151.6h0M325.8 144h0M321.8 150.8h0M315.3 134.9h0M329.2 121h0M320.9 133.7h0M306.3 138.7h0M328.1 125.7h0M313.6 148.3h0M312.7 137h0M307.5 130.3h0M316.3 114.3h0M317.1 115.8h0M329.7 88.9h0M327.6 131.2h0M319.6 135.7h0M326.7 143.7h0M324.1 132h0M317.6 109h0M330.9 135.6h0M319.7 142.3h0M327.5 119.2h0M331.1 130.9h0M315.9 151.2h0M329.1 134h0M328.8 133.3h0M328.6 103.3h0M323.9 138.1h0M313.6 142.9h0M320.2 128.1h0M317.6 137.8h0M320.9 144.1h0M321.4 88.2h0M328.5 125.7h0M323.4 114.4h0M329.9 126.4h0M327.7 106.8h0M320.4 140.3h0M327.6 147.2h0M330.3 124.7h0M314.5 143.9h0M307.4 124.3h0M315.3 151.7h0M312.8 149h0M316.7 148.4h0M329.6 143.8h0M318.4 138.7h0M331 117.5h0M311.2 145.8h0M318.9 152.3h0M325 143.1h0M328.3 150.4h0M307.6 151.2h0M319.4 145.5h0M330.8 117.6h0M323.4 147.9h0M329.1 93.2h0M327.8 127.8h0M328.1 115.6h0M330.1 128h0M327.1 105.3h0M331 123.8h0M329.1 132.1h0M325.5 126.9h0M323 110.1h0M312.8 146.4h0M320.6 119.7h0M317.5 104.3h0M330 122.8h0M316 116h0M313.2 150h0M329.8 110.1h0M323.5 103.8h0M328.3 149h0M331 82.1h0M315.4 143.8h0M330 141.9h0M326.2 129.1h0M327.7 99.6h0M309 149.7h0M315.9 148.2h0M329.2 80.4h0M327.6 145.7h0M325.5 136.9h0M327.6 84.8h0M320 80.4h0M314.9 120.7h0M320.5 107.1h0M330.3 126.6h0M331.1 132.6h0M321.8 82.9h0M325.3 144.2h0M316.7 130.8h0M327.4 123.6h0M331.1 132.6h0M321.8 135.9h0M321.7 149.8h0M320.3 146.5h0M330.6 75.4h0M323.7 101.5h0M329.9 99.9h0M316.4 140.7h0M331.1 105.7h0M317.9 139.2h0M328.6 142h0M324.6 127.7h0M329.6 113.1h0M326.4 142.9h0M327.4 127.6h0M330.1 139.5h0M320.8 146.2h0M316.8 146.4h0M321.1 124.3h0M330 151.3h0M329.5 152.1h0M328 135.9h0M319.3 152h0M331 74.6h0M329.3 116.9h0M330.8 100.7h0M326.6 101h0M330.3 123.1h0M330.8 152h0M326 150.9h0M322.4 142h0M330.8 83.8h0M319.7 123.2h0M317.8 113.9h0M330.8 94.7h0M323.4 135.9h0M325.2 111.2h0M320.1 149.9h0M330.7 136h0M322.9 119.5h0M327.2 136.3h0M320.4 145.6h0M319.3 140.8h0M330.3 146.8h0M330.8 123.4h0M322.8 119.2h0M331.1 151.7h0M328.8 142.9h0M320.2 133.5h0M312.3 136.5h0M325.7 145.5h0M330.9 150.7h0M313.9 147.9h0M310.9 148.3h0M328.6 138h0M314.7 143.1h0M312.9 149.4h0M328.8 122.9h0M324.8 86.3h0M321.4 145.4h0M328.9 121.9h0M328 98.2h0M317.2 127.7h0M330.7 144.2h0M329.6 143.4h0M322.8 101.9h0M320.3 109.1h0M325.7 147.4h0M319.7 147.8h0M314.5 147.5h0M312.4 143.2h0M326.1 106.3h0M314 131h0M318.5 144h0M326.1 130h0M330.8 135.2h0M327 140.1h0M327.1 129.9h0M322.1 124h0M311.3 145.2h0M328.6 128.8h0M331.1 107.1h0M328.7 146.9h0M322.3 126.1h0M320.8 97.2h0M316.9 112.1h0M328.2 145.6h0M315.1 120.9h0M325.9 110.8h0M330.9 108h0M330.8 135h0M331.1 130.6h0M319.5 152.2h0M328.1 139.4h0M325.5 131.2h0M331.1 135.9h0M329.8 121.7h0M326.2 142.3h0M324.7 122.7h0M327 117.5h0M321.8 126.2h0M317.6 133.3h0M329.9 151.4h0M330 104.6h0M330.1 94.8h0M323 148.4h0M315.9 115.6h0M328.4 149.2h0M313.6 149.9h0M317.8 140.6h0M330.6 125.1h0M316.3 148.7h0M327.6 146.6h0M330.8 132.3h0M311.3 143.2h0M330.9 109.2h0M328.8 121.9h0M331.1 129.4h0M326.9 130.3h0M330.9 150.9h0M307.9 145.7h0M331.1 152.4h0M324.8 127.2h0M314.5 123.4h0M323.5 146.6h0M320.9 129.1h0M328.1 147.1h0M328.8 118h0M315.4 145.5h0M324.5 122.4h0M312.5 133.1h0M315.4 145.7h0M329.6 149.1h0M317.1 150.2h0M328.6 77.6h0M325.8 130h0M320.9 97.5h0M330.8 151h0M325.1 144.1h0M330.3 130.6h0M331 150.9h0M330.9 152.2h0M310.1 142.4h0M322.3 108h0M318.7 130.9h0M310 141.4h0M319.5 150.7h0M315.5 94.3h0M330.6 95.8h0M327.4 145.7h0M329.4 138.6h0M303 131.2h0M331.1 143.8h0M315.9 150.9h0M327.4 85h0M319 94.4h0M321 147.4h0M315.7 137.2h0M318.3 106.2h0M330.5 125.6h0M323.5 141.9h0M331.1 88.2h0M328 150.9h0M329 143.3h0M324.3 127.8h0M319.5 140.2h0M322.1 136.6h0M323.7 132.3h0M313.3 147.5h0M325.6 118.4h0M327.8 111.9h0M330.2 135.1h0M331.1 118h0M314.4 151.7h0M331 124.2h0M328.9 121.2h0M318.9 125h0M323 119.4h0M318.3 128.3h0M325.1 76.5h0M330.7 131.4h0M324.4 130.5h0M330.4 139.6h0M324.8 148.9h0M322.1 116.7h0M316 136.4h0M329.3 140.2h0M325.7 147.6h0M331.1 72.4h0M328.6 70h0M304.8 136.5h0M321.7 143.6h0M310.6 152.4h0M327.5 109h0M327.2 145.6h0M329.3 133.1h0M321.1 104.2h0M328.6 113.9h0M318.8 141.9h0M331.1 140.6h0M322 85.2h0M319.4 135.3h0M330.9 90.5h0M329.5 124.2h0M326.4 129.3h0M322.2 124.8h0M312.3 145.5h0M327.8 110.9h0M314.6 151.7h0M325.9 72.4h0M317.6 141.8h0M312.1 141.2h0M316.5 148.7h0M329 109.4h0M329.9 136.6h0M324.4 147.7h0M331.1 147.2h0M327.7 152.3h0M321.2 120.7h0M322 147.4h0M311.8 140.9h0M316.3 111.1h0M327.5 89.2h0M330.4 138.8h0M309 145.1h0M323.2 141.5h0M330.4 127.4h0M323 102.7h0M329.1 110.3h0M331.1 104.4h0M318.6 147.6h0M303.7 143.8h0M331 117h0M330.8 143.2h0M324.3 143.5h0M326.2 133.4h0M316.6 112.3h0M328.3 150.2h0M319.1 108.6h0M330.1 110.5h0M326.4 117.1h0M330.9 142.2h0M330.6 73.9h0M320 127.2h0M324.9 86.9h0M309.8 144.8h0M328.9 125.4h0M317.4 152.3h0M324.3 101h0M329.6 135.5h0M326.3 148.6h0M330.4 121.9h0M323.5 148.7h0M323.5 128.9h0M321.1 141.7h0M330.1 148.9h0M329.8 125.9h0M330.6 120.1h0M305.9 134.6h0M329.8 151.1h0M310.8 150h0M328.3 95.9h0M324.5 79.9h0M330.4 148.3h0M323.4 128.8h0M330.8 148.6h0M320.8 76.4h0M314.7 124.1h0M331.1 134.2h0M327.5 134.4h0M326.4 108.4h0M328.3 128.6h0M325.8 146.9h0M315.3 142.4h0M331.1 136.5h0M328 151.6h0M329.6 122.5h0M330.9 149.8h0M315.7 147h0M321.1 115.5h0M322.7 128.2h0M323.3 84.5h0M325.4 122.9h0M331.1 93.8h0M326.7 131.6h0M323.2 74.3h0M329.2 123.1h0M325.3 149.4h0M326.4 114.3h0M320.1 124h0M329.9 74.1h0M325.4 78.3h0M330.6 150.8h0M324.8 139.5h0M331 151.9h0M331 151.6h0M324.5 150.7h0M326.5 138.4h0M307.3 129.2h0M331 140.6h0M329.9 147.1h0M324.8 148.5h0M328.2 143.8h0M330.5 94.4h0M317.3 149.8h0M320.3 138h0M319.5 150.3h0M330.9 123.1h0M330.3 107.8h0M327.9 76h0M329.7 139.2h0M315.9 147.9h0M316.5 123.5h0M328.4 140.1h0M331.1 143.6h0M327.6 97.9h0M322.6 113.7h0M303.4 131.5h0M321.9 119.7h0M330.5 149h0M327.8 142.8h0M330.5 133h0M315 125.2h0M318.3 151.9h0M323.8 118.3h0M329.3 149.7h0M313.2 130.2h0M327.5 98.5h0M329.2 105.6h0M328 142.1h0M306.2 139.5h0M324.2 151.1h0M331.1 133.7h0M321.9 127.6h0M330.2 92.5h0M318.4 107.2h0M319 149.4h0M330.4 129.3h0M323.8 151.5h0M326.3 139.5h0M330.6 150.5h0M320.1 131.7h0M330.5 135.9h0M329.3 145.5h0M313.8 137.7h0M303.2 143.5h0M320.8 85.8h0M323 128.2h0M312.5 83.7h0M322.1 105.5h0M329.9 143.1h0M326.7 94.5h0M317.7 114.2h0M330.7 91.4h0M328.8 137.9h0M330.2 140.6h0M324.4 139.6h0M317.8 144.9h0M330.6 115.2h0M321.2 151.1h0M317.5 124.9h0M330.9 117.3h0M328.3 143.1h0M326.9 151h0M315.5 142.4h0M314.3 142.1h0M330.3 149.9h0M324.3 107.8h0M330.3 148.5h0M331.1 151.1h0M316.8 146.4h0M322.9 147.6h0M330.4 144.8h0M330.8 118.7h0M309.1 145.5h0M311.7 138.8h0M321.5 149.9h0M320.7 112.2h0M314.9 137.9h0M319.5 122.7h0M316.3 112.3h0M323.3 146.1h0M314.9 135.5h0M321.1 136.4h0M321.5 135.3h0M312.2 144h0M323.8 119.1h0M318.2 123.7h0M331.1 146.4h0M331 126.7h0M328.6 75.4h0M324.7 106.5h0M329.6 137.6h0M327.4 105.4h0M322.8 139.8h0M320.9 149.3h0M330.9 135.1h0M327 152.1h0M330.6 114.4h0M319.9 92.4h0M283.1 81.2h0M299 55.5h0M310.7 67.3h0M304.1 98h0M286 52.4h0M289.4 72.6h0M295.8 44h0M314.2 56.3h0M296.4 128.1h0M304 80.5h0M296.8 37.3h0M310.2 141.1h0M281.8 123.1h0M316 95.6h0M290.4 107h0M322.9 107h0M319.3 120.8h0M281.7 117.1h0M306.5 110.1h0M309.5 36.7h0M281.3 114.8h0M313.8 122.9h0M289 49.5h0M312.4 113.8h0M299.6 53.6h0M323.1 122.1h0M297.7 34.8h0M285.5 40.2h0M305.5 115.4h0M272.9 69.2h0M310.2 118.2h0M327.8 58.9h0M302.6 127.1h0M308.6 124.1h0" stroke="#4d72e3" stroke-width="1.0" stroke-linecap="round" fill="none"/>
<path d="M347.7 128.5h0M349.4 103.8h0M366.2 136.6h0M347.9 117.4h0M348.2 120.4h0M348.3 106.6h0M348.6 139.7h0M349.7 96.4h0M357 123.2h0M360.2 120.3h0M353 126.7h0M348.2 142.4h0M354.9 132.3h0M368.8 143.4h0M356 147.7h0M348.5 122h0M364.2 145.9h0M348 140.6h0M366.5 133.2h0M347.8 138.2h0M348.3 117.9h0M348.9 152.3h0M348.3 137.4h0M350.8 134.7h0M352.4 149.1h0M351.7 113.4h0M355.6 148.2h0M353.2 113.2h0M351 151.7h0M359.7 121.5h0M362.1 134.9h0M355.3 144.3h0M350.2 86.7h0M352.3 89.7h0M355.8 148.9h0M358.3 99.2h0M352.1 119.6h0M360.1 146.7h0M356.1 129.5h0M353.1 144.7h0M361.3 145.7h0M368.1 147.9h0M359.1 121h0M348.5 149.1h0M357.2 123h0M348.7 143.6h0M348.7 122.1h0M351.7 140.1h0M359.7 133h0M355.8 90.8h0M370.9 148h0M373.9 138.2h0M357.3 130.8h0M371 149.4h0M351.9 120.8h0M350.5 91.4h0M359.9 132.9h0M368.6 146.5h0M354.1 119.7h0M354.2 144.1h0M356.7 148.9h0M352.9 100h0M363.5 145.4h0M350.1 144.4h0M350.8 113.7h0M348.1 90.1h0M358.9 140.6h0M361.7 112.7h0M348.3 149.5h0M352.5 123.7h0M361.4 125.2h0M354.9 127.1h0M367.7 138.3h0M350.4 76.2h0M347.9 133.8h0M354.4 145.6h0M347.9 135.1h0M364.9 127.3h0M352.6 152.1h0M348.1 152.1h0M350.6 134.6h0M352 133.2h0M352.8 134.9h0M356.4 119.5h0M348 112.4h0M358.8 86.2h0M356.6 123.5h0M356.6 114.8h0M356.8 151.2h0M354.7 147.6h0M367 135.4h0M348.3 150.8h0M347.8 117.2h0M356.3 113.1h0M353.1 136.1h0M351.5 147.8h0M349.8 143.3h0M355.3 152.3h0M347.8 84.4h0M352 144.4h0M351.2 143.5h0M347.7 149h0M350.8 96.6h0M360 112.7h0M357.3 80.3h0M362.5 135.4h0M359.2 101.8h0M363.5 146.6h0M366.6 143.9h0M351 106.1h0M359.5 138.1h0M348.4 106.6h0M365.6 149h0M367.4 144.1h0M365.6 134.7h0M367.6 150.5h0M357.8 105.8h0M356.6 73.4h0M349.4 120.5h0M348.6 119.3h0M371.1 130.4h0M348.7 102.3h0M354.3 140.4h0M360.2 116.9h0M347.9 152.4h0M348.2 121h0M353.8 134.5h0M355.2 138.3h0M348.6 106.3h0M361.5 132.4h0M349.2 145.6h0M352.8 141.3h0M358.2 149.2h0M353.1 75.5h0M376.6 145.4h0M351.1 139.6h0M347.8 121.1h0M349.8 91.9h0M358.6 136.9h0M347.7 143.2h0M347.9 102.8h0M350.7 144.6h0M352 117.5h0M364.5 136.7h0M358 128.1h0M357.3 138.6h0M366.3 142.1h0M347.8 107.9h0M360.7 127.5h0M351.3 114.9h0M361.3 142.4h0M360.8 150h0M347.7 143.5h0M356.7 143.6h0M364.6 144.7h0M362.8 151.1h0M362 120.5h0M354.5 104.7h0M347.9 149.2h0M352.9 143.5h0M356.8 96.3h0M348.1 136.7h0M348 87.6h0M350.5 136.4h0M354.6 129.8h0M354.4 130.1h0M368.5 151.2h0M350.9 131h0M347.8 132.6h0M357.3 147.2h0M353.5 137.3h0M356 115.5h0M359.8 88.8h0M368.1 136.5h0M348.8 93.5h0M367.8 144.5h0M368.8 147.7h0M351.5 136.6h0M347.9 147.4h0M349.9 132.6h0M348.4 113.5h0M347.7 119.8h0M350.5 80h0M365.5 134.8h0M360.4 137.8h0M356.6 140.8h0M348 89.7h0M352.1 150.3h0M365.8 138.2h0M358 147.4h0M377.7 146.3h0M351.2 109.6h0M348.8 144.8h0M356.6 150.8h0M352.5 120.7h0M354.6 134.3h0M347.7 140.1h0M349 98.2h0M363 148.1h0M349.3 128.1h0M352.5 146.1h0M348.7 143.7h0M348.7 132.3h0M349.8 140.4h0M349 137.4h0M350.7 70.2h0M366.5 133.9h0M351.8 149h0M347.7 142.2h0M356.2 122.8h0M370.9 151h0M348 134.3h0M348.4 122.2h0M356.4 84.2h0M348.2 152.5h0M366.4 138.7h0M347.9 71h0M349.2 136h0M354.1 152.2h0M352.8 139.2h0M363.6 152.4h0M355.5 143.8h0M361.4 150h0M349.7 85.5h0M352.8 143h0M348.5 144.2h0M350.3 148.3h0M353.8 134.8h0M348.5 133.9h0M349.5 132.1h0M360.1 102.4h0M361.9 117.2h0M352.2 145.1h0M351.1 151.7h0M356.8 135.6h0M349.2 136.4h0M365.7 133.8h0M358 145.3h0M350.7 117.1h0M351.1 124h0M353.2 149.4h0M349.7 95.8h0M359.4 139.3h0M348 78.4h0M361.1 126h0M356 86.3h0M353.9 143.7h0M376.6 151.5h0M359 142.2h0M351 132h0M366 134h0M347.8 140.6h0M378.5 141.6h0M359.8 133.2h0M352.9 144.6h0M359 126.3h0M352.8 147.4h0M364.3 139.9h0M351.2 126.6h0M357.1 133.6h0M358.7 119h0M350.7 126.8h0M351.6 148.9h0M366.8 136.4h0M352.2 117.2h0M366 127.6h0M347.8 121.1h0M348.2 136.2h0M353.2 122.4h0M353.9 86.3h0M352 144.6h0M347.9 115.2h0M348.8 89.3h0M365.2 131.9h0M363.4 142.5h0M350.2 129.9h0M351.1 133.1h0M357.6 98.8h0M350.4 120.7h0M361.3 149.6h0M361.5 148.7h0M350.3 135.1h0M349.7 145.7h0M354.4 115.4h0M351 83.9h0M354.5 92.2h0M359.4 134.3h0M357.6 144.7h0M360.3 131.4h0M354.8 114.7h0M353.5 130.2h0M351.2 138.5h0M365.4 150.2h0M351 150.4h0M352.2 82.4h0M364.5 118.3h0M349.5 146.7h0M349.2 145.5h0M365.1 128.9h0M356.6 96.1h0M357.9 152.3h0M350.2 132.1h0M348.8 125h0M349.4 134.2h0M350.2 149.1h0M352.3 148.3h0M358.7 134.5h0M354.9 128.5h0M355.8 138h0M361 124.7h0M353.1 124.5h0M373.7 149.7h0M357.7 138.5h0M361.9 108.9h0M350.7 146.7h0M359.2 140.3h0M361.4 110.6h0M348.7 145.3h0M365.9 130.2h0M348.2 120h0M358.7 142.5h0M347.9 70.1h0M349.7 133.8h0M347.7 113.7h0M348.3 102h0M347.7 138.4h0M354.7 142h0M350.1 116.7h0M348.8 149.6h0M349.6 130.6h0M348.4 127.9h0M354.4 101h0M356.6 120h0M372.5 138.8h0M348.2 151.2h0M348 140.6h0M348.1 119.8h0M357.5 136.1h0M362.8 144.5h0M366.2 138.7h0M351.1 151.9h0M356.5 143.8h0M347.9 152.2h0M361.8 140.7h0M361 141.1h0M348 133.2h0M360.1 126.8h0M358.4 104h0M358.5 134.1h0M349.7 144.3h0M348.9 136.8h0M368.8 141.8h0M348 151.9h0M349.7 138.6h0M364.8 148.1h0M352.7 113.7h0M364.2 146.7h0M348.9 132.2h0M349.7 98.1h0M347.8 139.6h0M352.1 104h0M362.3 138.5h0M348.5 117.4h0M354.4 82h0M349.7 87.8h0M350.6 146.9h0M360.7 135.5h0M352.8 149.9h0M348.2 135.3h0M349.2 128.7h0M348.1 146.5h0M357.1 88.9h0M350.1 140.6h0M347.9 129.3h0M350.1 151.1h0M347.7 102.8h0M361.4 138.9h0M362.7 144.1h0M355 146h0M352.9 150.7h0M354.4 130.3h0M353.9 85.1h0M352.6 134.8h0M370.5 150.5h0M361.3 132.3h0M357.8 143.9h0M354 151.6h0M351.6 134.3h0M350.3 122.9h0M348.8 118.3h0M351.1 149.8h0M362.1 126.9h0M359.6 144.6h0M351 146.2h0M348.2 140.4h0M366.6 151.9h0M360.6 147.6h0M347.8 136.1h0M358 149.9h0M365.7 142.5h0M347.8 122.3h0M365.5 128.8h0M355.4 135.8h0M349.2 140.3h0M349.2 139.6h0M358 122.7h0M352.3 150h0M351.7 121.2h0M355.9 146.4h0M362.3 133.3h0M347.7 151.8h0M358.4 101.8h0M357.6 135h0M353.3 125.7h0M348.6 134.9h0M350.1 117.1h0M349.1 86.4h0M349.1 150.6h0M347.8 139.7h0M349.9 139h0M364 125.8h0M352.5 132.6h0M358.7 110.5h0M360.2 119.9h0M360.3 149.1h0M369.6 149.7h0M351.9 149.3h0M363.1 137.2h0M366.1 146.2h0M351.2 131.1h0M348.3 81.6h0M347.8 112.9h0M355.8 123.9h0M347.7 145.7h0M350.8 87.8h0M361 115.5h0M362 131.6h0M349.4 150.8h0M355.6 152.1h0M368.9 150h0M357.9 137.4h0M356.9 110.6h0M350.7 125.1h0M351.1 134.4h0M351.8 118.2h0M350.6 89.6h0M351.2 124.3h0M347.9 131.9h0M351.8 134.6h0M367.7 139.2h0M354.7 146.8h0M360.2 135h0M365.8 141.9h0M348.5 142.4h0M365.9 144.1h0M347.8 131.6h0M349.9 138.6h0M349.7 78.6h0M348.3 139.1h0M351.7 145.9h0M352.1 140.2h0M350.1 111.1h0M351.9 134.6h0M352.8 114.1h0M363.4 138h0M357.4 141.1h0M348.4 127.3h0M358.6 145.7h0M364.8 144.1h0M352.5 152.5h0M370 134.4h0M357.2 135.8h0M352.2 144.6h0M350.9 106.2h0M348.8 72.6h0M348.2 109.6h0M351.7 94.3h0M348.2 145h0M350.1 141h0M383.3 141.4h0M356.6 130.2h0M357.2 127.4h0M359 139.4h0M348.4 125.5h0M356.5 87.2h0M351.4 113.6h0M350.7 139.4h0M353.7 120.8h0M351 101.2h0M352.1 148.2h0M354.5 126.6h0M360.3 140.4h0M352.3 122.7h0M349.3 113.2h0M356.2 123.9h0M355 114.7h0M354.7 103.7h0M351.7 97.2h0M349.6 141.7h0M352.1 150.3h0M353.9 96.7h0M357.1 100.5h0M347.7 145.8h0M348.6 103.6h0M359.2 152.4h0M353.8 126.4h0M361.8 142.7h0M362.1 132.2h0M354.7 130.3h0M348.4 81.5h0M349.4 141.7h0M353.1 126.2h0M361 141.1h0M349.8 133.2h0M349.6 112.5h0M357.5 112.4h0M355 122.7h0M348.4 123.5h0M357.6 141.5h0M353.9 149.8h0M348.4 119.5h0M358.4 99h0M364.8 137.3h0M353.3 150.4h0M358.6 140.8h0M349 108.1h0M347.7 82.4h0M360.3 132.1h0M370 146.6h0M352.7 113.4h0M355.6 151.2h0M365.5 106h0M355.3 147.5h0M348.1 134h0M363.1 132.2h0M351.3 144.1h0M358.8 127.7h0M352 131h0M348.7 144.5h0M354.6 151.2h0M363 136.5h0M354.1 120.7h0M347.9 125.5h0M351.1 79.3h0M354.7 121.2h0M350 124.7h0M347.9 108h0M370.3 150.4h0M347.8 108.6h0M352.3 127.1h0M363.2 135.8h0M355.3 114h0M354.3 118.2h0M350.6 125.7h0M349.9 114h0M349.1 138h0M349 125.5h0M349 123.1h0M353.8 107.4h0M356.2 93.2h0M357.1 150.4h0M362.1 144.8h0M356.7 120.2h0M347.9 114.6h0M355.5 130.1h0M363.7 149.6h0M348.6 114.6h0M348.6 152.1h0M356.8 139.8h0M355.1 148.2h0M349.8 103.6h0M356.7 95.1h0M358.5 132.2h0M359 96h0M351 98.4h0M348.6 130.7h0M360.7 148h0M355.6 119.2h0M347.8 125.9h0M348.5 143.7h0M353.3 138.5h0M348.2 105.1h0M347.7 129.9h0M354.1 96.6h0M350.7 150.2h0M350.5 142.4h0M348.3 118.6h0M351.1 143.1h0M354.6 133.9h0M356.2 137.5h0M355.3 141.6h0M351.9 144h0M357.2 123.4h0M353.5 85.2h0M347.8 130.2h0M354.9 145.6h0M357.8 98.4h0M348.3 140.8h0M355.8 114.3h0M355 128.9h0M349.4 102.4h0M374 118.4h0M358.2 138.5h0M357.3 150.6h0M347.7 151.7h0M359.3 131.8h0M354.3 102.6h0M354.2 103.1h0M348 146.2h0M356.5 103.1h0M355.6 144.9h0M361.9 132.4h0M349.5 138.7h0M348.8 119.8h0M350.8 131.5h0M350.6 115.5h0M347.7 111.6h0M353.1 130.5h0M364.3 152.4h0M350.5 139.3h0M357 149.6h0M347.9 139.2h0M356.5 81.8h0M348.2 130.7h0M351.9 75.3h0M349.2 133.3h0M347.8 102.9h0M359.9 134.9h0M349.6 82.2h0M357.2 112.4h0M353.7 125.3h0M359.8 98h0M361.1 144.8h0M350 76.4h0M370.4 149.4h0M352.8 144.2h0M369.2 144.9h0M348.2 140.7h0M348.3 149h0M348.7 152.5h0M347.8 134.1h0M359.6 129.8h0M358.3 132.3h0M369.1 144.3h0M359 148.8h0M350.1 131.9h0M350.6 96.5h0M349.3 126h0M354.1 150h0M358.7 112.9h0M348 137.6h0M366.5 148.2h0M367.7 139.8h0M351.9 81.5h0M350.6 148.2h0M349.2 137.7h0M352.4 152.5h0M349.2 127.1h0M348 128h0M363.8 125.8h0M357.8 152.4h0M352.9 132.2h0M350.7 138.3h0M362 116h0M349 149.3h0M358.1 145.5h0M366.6 136h0M368.7 145.1h0M347.8 110.5h0M367.6 150.7h0M347.9 132.5h0M367 149.4h0M360.7 138.2h0M354.7 150.8h0M349.8 102.4h0M358.8 148.4h0M370.1 150.9h0M371.6 134.3h0M355.2 147.7h0M354.3 95.9h0M347.8 151.1h0M355.6 76.7h0M361.8 151.2h0M355.8 123.1h0M364.8 147.2h0M354.4 138.9h0M352.9 148.4h0M369.4 149.4h0M369.7 122h0M350 141.1h0M358.2 144.2h0M359.2 137h0M354.7 140.7h0M364.1 138.1h0M348 151.4h0M355.7 133.7h0M360.5 140.6h0M369.8 150.4h0M360.6 110h0M358.4 119.5h0M384.1 119.2h0M359.7 132.6h0M372.7 96.7h0M352.3 49.2h0M382.2 112.4h0M366 79.7h0M369.1 64.8h0M351.8 74.3h0M363.5 84.7h0M366.4 77.5h0M378.9 53.7h0M352.7 87.7h0M357.8 89h0M380.8 102.3h0M364.7 113.4h0M366.3 77.1h0M370.3 58.9h0M379.4 44.7h0M356.8 79.6h0M365.1 106h0M378.4 99.9h0M370.9 85.9h0M419.4 21.5h0M394.4 27.5h0M401.4 27.5h0M418.4 63.5h0M381.4 36.5h0M387.4 56.5h0M378.4 93.5h0M391.4 107.5h0M365.4 39.5h0M367.4 42.5h0M380.4 77.5h0M377.4 82.5h0M386.4 117.5h0" stroke="#eb4a50" stroke-width="1.0" stroke-linecap="round" fill="none"/>
<circle cx="37.8" cy="24.7" r="3.3" fill="#ed1c24"/>
<text x="45.1" y="27.6">Up regulated genes</text>
<circle cx="37.8" cy="35.6" r="3.3" fill="#2e4fa0"/>
<text x="45.1" y="38.5">Down regulated genes</text>
<circle cx="37.8" cy="46.0" r="3.3" fill="#a6a6a6"/>
<text x="45.1" y="48.9">Non-regulated genes</text>
<circle cx="273.8" cy="21.2" r="3.3" fill="#ed1c24"/>
<text x="281.8" y="24.1">Up regulated genes</text>
<circle cx="273.8" cy="32.4" r="3.3" fill="#2e4fa0"/>
<text x="281.8" y="35.3">Down regulated genes</text>
<circle cx="273.8" cy="43.4" r="3.3" fill="#a6a6a6"/>
<text x="281.8" y="46.3">Non-regulated genes</text>
<text x="306.5" y="220.3" text-anchor="middle">KEGG classification (top)</text>
<text x="0.6" y="8.9" font-size="11.5" fill="#000" font-weight="bold">A</text>
<rect x="190.1" y="228.4" width="19.9" height="5.2" fill="#6dcc6d" stroke="#5cb85c" stroke-width="0.4"/>
<text x="188.8" y="233.1" text-anchor="end">Sensory system</text>
<text x="216.3" y="233.8">11</text>
<rect x="190.1" y="235.4" width="45.2" height="5.2" fill="#6dcc6d" stroke="#5cb85c" stroke-width="0.4"/>
<text x="188.8" y="240.1" text-anchor="end">Nervous system</text>
<text x="239.8" y="240.8">25</text>
<rect x="190.1" y="242.4" width="95.9" height="5.2" fill="#6dcc6d" stroke="#5cb85c" stroke-width="0.4"/>
<text x="188.8" y="247.1" text-anchor="end">Immune system</text>
<text x="290.8" y="247.8">53</text>
<rect x="190.1" y="249.4" width="14.5" height="5.2" fill="#6dcc6d" stroke="#5cb85c" stroke-width="0.4"/>
<text x="188.8" y="254.1" text-anchor="end">Excretory system</text>
<text x="207.3" y="254.8">8</text>
<rect x="190.1" y="256.4" width="16.3" height="5.2" fill="#6dcc6d" stroke="#5cb85c" stroke-width="0.4"/>
<text x="188.8" y="261.1" text-anchor="end">Environmental system</text>
<text x="212.2" y="261.8">9</text>
<rect x="190.1" y="263.4" width="94.1" height="5.2" fill="#6dcc6d" stroke="#5cb85c" stroke-width="0.4"/>
<text x="188.8" y="268.1" text-anchor="end">Endocrine system</text>
<text x="286.3" y="268.8">52</text>
<rect x="190.1" y="270.4" width="29" height="5.2" fill="#6dcc6d" stroke="#5cb85c" stroke-width="0.4"/>
<text x="188.8" y="275.1" text-anchor="end">Digestive system</text>
<text x="221.6" y="275.8">16</text>
<rect x="190.1" y="277.4" width="57.9" height="5.2" fill="#6dcc6d" stroke="#5cb85c" stroke-width="0.4"/>
<text x="188.8" y="282.1" text-anchor="end">Development</text>
<text x="250.5" y="282.8">32</text>
<rect x="190.1" y="284.4" width="29" height="5.2" fill="#6dcc6d" stroke="#5cb85c" stroke-width="0.4"/>
<text x="188.8" y="289.1" text-anchor="end">Circulatory system</text>
<text x="222.1" y="289.8">16</text>
<rect x="190.1" y="291.4" width="16.3" height="5.2" fill="#6dcc6d" stroke="#5cb85c" stroke-width="0.4"/>
<text x="188.8" y="296.1" text-anchor="end">Aging</text>
<text x="209.9" y="296.8">9</text>
<rect x="190.1" y="298.4" width="7.2" height="5.2" fill="#e4585c" stroke="#c94448" stroke-width="0.4"/>
<text x="188.8" y="303.1" text-anchor="end">Xenobiotics biodegradation and metabolism</text>
<text x="199.4" y="303.8">4</text>
<rect x="190.1" y="305.4" width="21.7" height="5.2" fill="#e4585c" stroke="#c94448" stroke-width="0.4"/>
<text x="188.8" y="310.1" text-anchor="end">Nucleotide metabolism</text>
<text x="214.3" y="310.8">12</text>
<rect x="190.1" y="312.4" width="3.6" height="5.2" fill="#e4585c" stroke="#c94448" stroke-width="0.4"/>
<text x="188.8" y="317.1" text-anchor="end">Metabolism of other amino acids</text>
<text x="195.3" y="317.8">2</text>
<rect x="190.1" y="319.4" width="16.3" height="5.2" fill="#e4585c" stroke="#c94448" stroke-width="0.4"/>
<text x="188.8" y="324.1" text-anchor="end">Metabolism of cofactors and vitamins</text>
<text x="209.6" y="324.8">9</text>
<rect x="190.1" y="326.4" width="14.5" height="5.2" fill="#e4585c" stroke="#c94448" stroke-width="0.4"/>
<text x="188.8" y="331.1" text-anchor="end">Lipid metabolism</text>
<text x="205.3" y="331.8">8</text>
<rect x="190.1" y="333.4" width="18.1" height="5.2" fill="#e4585c" stroke="#c94448" stroke-width="0.4"/>
<text x="188.8" y="338.1" text-anchor="end">Glycan biosynthesis and metabolism</text>
<text x="211.2" y="338.8">10</text>
<rect x="190.1" y="340.4" width="88.7" height="5.2" fill="#e4585c" stroke="#c94448" stroke-width="0.4"/>
<text x="188.8" y="345.1" text-anchor="end">Global and overview maps</text>
<text x="280.4" y="345.8">49</text>
<rect x="190.1" y="347.4" width="12.7" height="5.2" fill="#e4585c" stroke="#c94448" stroke-width="0.4"/>
<text x="188.8" y="352.1" text-anchor="end">Energy metabolism</text>
<text x="204.6" y="352.8">7</text>
<rect x="190.1" y="354.4" width="25.3" height="5.2" fill="#e4585c" stroke="#c94448" stroke-width="0.4"/>
<text x="188.8" y="359.1" text-anchor="end">Carbohydrate metabolism</text>
<text x="216.7" y="359.8">14</text>
<rect x="190.1" y="361.4" width="1.8" height="5.2" fill="#e4585c" stroke="#c94448" stroke-width="0.4"/>
<text x="188.8" y="366.1" text-anchor="end">Biosynthesis of other secondary metabolites</text>
<text x="194.9" y="366.8">1</text>
<rect x="190.1" y="368.4" width="18.1" height="5.2" fill="#e4585c" stroke="#c94448" stroke-width="0.4"/>
<text x="188.8" y="373.1" text-anchor="end">Amino acid metabolism</text>
<text x="210" y="373.8">10</text>
<rect x="190.1" y="375.4" width="23.5" height="5.2" fill="#cdd24a" stroke="#b5ba38" stroke-width="0.4"/>
<text x="188.8" y="380.1" text-anchor="end">Substance dependence</text>
<text x="217.1" y="380.8">13</text>
<rect x="190.1" y="382.4" width="32.6" height="5.2" fill="#cdd24a" stroke="#b5ba38" stroke-width="0.4"/>
<text x="188.8" y="387.1" text-anchor="end">Neurodegenerative diseases</text>
<text x="226.2" y="387.8">18</text>
<rect x="190.1" y="389.4" width="67" height="5.2" fill="#cdd24a" stroke="#b5ba38" stroke-width="0.4"/>
<text x="188.8" y="394.1" text-anchor="end">Infectious diseases: Viral</text>
<text x="258.4" y="394.8">37</text>
<rect x="190.1" y="396.4" width="32.6" height="5.2" fill="#cdd24a" stroke="#b5ba38" stroke-width="0.4"/>
<text x="188.8" y="401.1" text-anchor="end">Infectious diseases: Parasitic</text>
<text x="225.4" y="401.8">18</text>
<rect x="190.1" y="403.4" width="59.7" height="5.2" fill="#cdd24a" stroke="#b5ba38" stroke-width="0.4"/>
<text x="188.8" y="408.1" text-anchor="end">Infectious diseases: Bacterial</text>
<text x="251.1" y="408.8">33</text>
<rect x="190.1" y="410.4" width="29" height="5.2" fill="#cdd24a" stroke="#b5ba38" stroke-width="0.4"/>
<text x="188.8" y="415.1" text-anchor="end">Immune diseases</text>
<text x="220.4" y="415.8">16</text>
<rect x="190.1" y="417.4" width="45.2" height="5.2" fill="#cdd24a" stroke="#b5ba38" stroke-width="0.4"/>
<text x="188.8" y="422.1" text-anchor="end">Endocrine and metabolic diseases</text>
<text x="236.9" y="422.8">25</text>
<rect x="190.1" y="424.4" width="18.1" height="5.2" fill="#cdd24a" stroke="#b5ba38" stroke-width="0.4"/>
<text x="188.8" y="429.1" text-anchor="end">Drug resistance: Antineoplastic</text>
<text x="209.6" y="429.8">10</text>
<rect x="190.1" y="431.4" width="18.1" height="5.2" fill="#cdd24a" stroke="#b5ba38" stroke-width="0.4"/>
<text x="188.8" y="436.1" text-anchor="end">Cardiovascular diseases</text>
<text x="209.6" y="436.8">10</text>
<rect x="190.1" y="438.4" width="39.8" height="5.2" fill="#cdd24a" stroke="#b5ba38" stroke-width="0.4"/>
<text x="188.8" y="443.1" text-anchor="end">Cancers: Specific types</text>
<text x="232" y="443.8">22</text>
<rect x="190.1" y="445.4" width="97.7" height="5.2" fill="#cdd24a" stroke="#b5ba38" stroke-width="0.4"/>
<text x="188.8" y="450.1" text-anchor="end">Cancers: Overview</text>
<text x="289.1" y="450.8">54</text>
<rect x="190.1" y="452.4" width="14.5" height="5.2" fill="#5da3dc" stroke="#4a8cc4" stroke-width="0.4"/>
<text x="188.8" y="457.1" text-anchor="end">Translation</text>
<text x="206.9" y="457.8">8</text>
<rect x="190.1" y="459.4" width="21.7" height="5.2" fill="#5da3dc" stroke="#4a8cc4" stroke-width="0.4"/>
<text x="188.8" y="464.1" text-anchor="end">Transcription</text>
<text x="213.4" y="464.8">12</text>
<rect x="190.1" y="466.4" width="7.2" height="5.2" fill="#5da3dc" stroke="#4a8cc4" stroke-width="0.4"/>
<text x="188.8" y="471.1" text-anchor="end">Replication and repair</text>
<text x="204.2" y="471.8">4</text>
<rect x="190.1" y="473.4" width="34.4" height="5.2" fill="#5da3dc" stroke="#4a8cc4" stroke-width="0.4"/>
<text x="188.8" y="478.1" text-anchor="end">Folding, sorting and degradation</text>
<text x="227" y="478.8">19</text>
<rect x="190.1" y="480.4" width="76" height="5.2" fill="#a86cc1" stroke="#9258aa" stroke-width="0.4"/>
<text x="188.8" y="485.1" text-anchor="end">Signaling molecules and interaction</text>
<text x="267.9" y="485.8">42</text>
<rect x="190.1" y="487.4" width="199.1" height="5.2" fill="#a86cc1" stroke="#9258aa" stroke-width="0.4"/>
<text x="188.8" y="492.1" text-anchor="end">Signal transduction</text>
<text x="391" y="492.8">110</text>
<rect x="190.1" y="494.4" width="1.8" height="5.2" fill="#a86cc1" stroke="#9258aa" stroke-width="0.4"/>
<text x="188.8" y="499.1" text-anchor="end">Membrane transport</text>
<text x="193.5" y="499.8">1</text>
<rect x="190.1" y="501.4" width="47.1" height="5.2" fill="#eba33a" stroke="#d08c28" stroke-width="0.4"/>
<text x="188.8" y="506.1" text-anchor="end">Transport and catabolism</text>
<text x="239.9" y="506.8">26</text>
<rect x="190.1" y="508.4" width="52.5" height="5.2" fill="#eba33a" stroke="#d08c28" stroke-width="0.4"/>
<text x="188.8" y="513.1" text-anchor="end">Cellular community-eukaryotes</text>
<text x="247" y="513.8">29</text>
<rect x="190.1" y="515.4" width="21.7" height="5.2" fill="#eba33a" stroke="#d08c28" stroke-width="0.4"/>
<text x="188.8" y="520.1" text-anchor="end">Cell motility</text>
<text x="214.6" y="520.8">12</text>
<rect x="190.1" y="522.4" width="38" height="5.2" fill="#eba33a" stroke="#d08c28" stroke-width="0.4"/>
<text x="188.8" y="528.3" text-anchor="end">Cell growth and death</text>
<text x="230.9" y="527.8">21</text>
<path d="M190.1 539.5L402 539.5" stroke="#a0a0a0" stroke-width="0.8" fill="none"/>
<path d="M190.3 539.5L190.3 546" stroke="#231f20" stroke-width="0.9" fill="none"/>
<text x="190.3" y="555.2" text-anchor="middle">0</text>
<path d="M277.3 539.5L277.3 546" stroke="#231f20" stroke-width="0.9" fill="none"/>
<text x="277.3" y="555.2" text-anchor="middle">50</text>
<path d="M378.1 539.5L378.1 546" stroke="#231f20" stroke-width="0.9" fill="none"/>
<text x="378.1" y="555.2" text-anchor="middle">100</text>
<text x="287" y="568.5" text-anchor="middle">Gene number</text>
<rect x="107.7" y="520.9" width="169.6" height="10.6" fill="none" stroke="#ee2a26" stroke-width="1.2"/>
<text x="82.4" y="231.8" font-size="11.5" fill="#000" font-weight="bold">B</text>
<text x="468.6" y="9.1" font-size="11.5" fill="#000" font-weight="bold">C</text>
<path d="M494.9 137.6L494.9 43.4" stroke="#231f20" stroke-width="0.7" fill="none"/>
<path d="M491.3 137.6L684 137.6" stroke="#8c8c8c" stroke-width="0.8" fill="none"/>
<path d="M492.3 137.6L494.9 137.6" stroke="#231f20" stroke-width="0.7" fill="none"/>
<text x="489.3" y="140.4" text-anchor="end">0</text>
<path d="M492.3 114L494.9 114" stroke="#231f20" stroke-width="0.7" fill="none"/>
<text x="489.3" y="116.8" text-anchor="end">2</text>
<path d="M492.3 90.4L494.9 90.4" stroke="#231f20" stroke-width="0.7" fill="none"/>
<text x="489.3" y="93.2" text-anchor="end">4</text>
<path d="M492.3 66.8L494.9 66.8" stroke="#231f20" stroke-width="0.7" fill="none"/>
<text x="489.3" y="69.6" text-anchor="end">6</text>
<path d="M492.3 43.2L494.9 43.2" stroke="#231f20" stroke-width="0.7" fill="none"/>
<text x="489.3" y="46" text-anchor="end">8</text>
<text x="477.2" y="90" text-anchor="middle" transform="rotate(-90 477.2 90)">Relative mRNA levels</text>
<text x="495.3" y="31.5">A549</text>
<rect x="498.3" y="125.8" width="8.2" height="11.8" fill="#b4cdf0" stroke="#9a9a9a" stroke-width="0.5"/>
<path d="M502.4 124.9L502.4 126.4" stroke="#231f20" stroke-width="0.7" fill="none"/>
<path d="M500.6 124.9L504.2 124.9" stroke="#231f20" stroke-width="0.7" fill="none"/>
<circle cx="500" cy="124.9" r="1.45" fill="#000"/>
<circle cx="502.4" cy="125.8" r="1.45" fill="#000"/>
<circle cx="504.8" cy="126.4" r="1.45" fill="#000"/>
<rect x="510.2" y="66.2" width="8.2" height="71.4" fill="#ecb9bd" stroke="#9a9a9a" stroke-width="0.5"/>
<path d="M514.3 56.8L514.3 78.6" stroke="#231f20" stroke-width="0.7" fill="none"/>
<path d="M512.5 56.8L516.1 56.8" stroke="#231f20" stroke-width="0.7" fill="none"/>
<rect x="512.9" y="55.4" width="2.7" height="2.7" fill="#000" stroke="none" stroke-width="1"/>
<rect x="512.9" y="61.9" width="2.7" height="2.7" fill="#000" stroke="none" stroke-width="1"/>
<rect x="512.9" y="77.2" width="2.7" height="2.7" fill="#000" stroke="none" stroke-width="1"/>
<path d="M508.4 137.6L508.4 140.1" stroke="#8c8c8c" stroke-width="0.8" fill="none"/>
<path d="M502.4 121.9L502.4 49.1L514.3 49.1L514.3 53.8" stroke="#231f20" stroke-width="0.8" fill="none"/>
<text x="508.3" y="50" font-size="7.5" text-anchor="middle">***</text>
<text x="509.9" y="149.6" text-anchor="end" transform="rotate(-45 509.9 149.6)">CD147</text>
<rect x="530.5" y="129.3" width="8.2" height="8.3" fill="#b4cdf0" stroke="#9a9a9a" stroke-width="0.5"/>
<path d="M534.6 125.8L534.6 131.1" stroke="#231f20" stroke-width="0.7" fill="none"/>
<path d="M532.8 125.8L536.4 125.8" stroke="#231f20" stroke-width="0.7" fill="none"/>
<circle cx="534.6" cy="125.8" r="1.45" fill="#000"/>
<circle cx="533.4" cy="130.3" r="1.45" fill="#000"/>
<circle cx="535.8" cy="131.1" r="1.45" fill="#000"/>
<rect x="542.4" y="106.3" width="8.2" height="31.3" fill="#ecb9bd" stroke="#9a9a9a" stroke-width="0.5"/>
<path d="M546.5 99.2L546.5 113.4" stroke="#231f20" stroke-width="0.7" fill="none"/>
<path d="M544.7 99.2L548.3 99.2" stroke="#231f20" stroke-width="0.7" fill="none"/>
<rect x="545.2" y="97.9" width="2.7" height="2.7" fill="#000" stroke="none" stroke-width="1"/>
<rect x="545.2" y="105" width="2.7" height="2.7" fill="#000" stroke="none" stroke-width="1"/>
<rect x="545.2" y="112.1" width="2.7" height="2.7" fill="#000" stroke="none" stroke-width="1"/>
<path d="M540.6 137.6L540.6 140.1" stroke="#8c8c8c" stroke-width="0.8" fill="none"/>
<path d="M534.6 122.8L534.6 92.8L546.5 92.8L546.5 96.3" stroke="#231f20" stroke-width="0.8" fill="none"/>
<text x="540.6" y="93.7" font-size="7.5" text-anchor="middle">**</text>
<text x="542.1" y="149.6" text-anchor="end" transform="rotate(-45 542.1 149.6)">ATG5</text>
<rect x="562.8" y="122.8" width="8.2" height="14.8" fill="#b4cdf0" stroke="#9a9a9a" stroke-width="0.5"/>
<path d="M566.9 118.7L566.9 125.8" stroke="#231f20" stroke-width="0.7" fill="none"/>
<path d="M565.1 118.7L568.7 118.7" stroke="#231f20" stroke-width="0.7" fill="none"/>
<circle cx="566.9" cy="118.7" r="1.45" fill="#000"/>
<circle cx="565.7" cy="124" r="1.45" fill="#000"/>
<circle cx="568.1" cy="125.8" r="1.45" fill="#000"/>
<rect x="574.7" y="120.5" width="8.2" height="17.1" fill="#ecb9bd" stroke="#9a9a9a" stroke-width="0.5"/>
<path d="M578.8 118.1L578.8 121.7" stroke="#231f20" stroke-width="0.7" fill="none"/>
<path d="M577 118.1L580.6 118.1" stroke="#231f20" stroke-width="0.7" fill="none"/>
<rect x="577.4" y="116.8" width="2.7" height="2.7" fill="#000" stroke="none" stroke-width="1"/>
<rect x="576.2" y="119.7" width="2.7" height="2.7" fill="#000" stroke="none" stroke-width="1"/>
<rect x="578.6" y="120.3" width="2.7" height="2.7" fill="#000" stroke="none" stroke-width="1"/>
<path d="M572.9 137.6L572.9 140.1" stroke="#8c8c8c" stroke-width="0.8" fill="none"/>
<text x="574.4" y="149.6" text-anchor="end" transform="rotate(-45 574.4 149.6)">ATG6</text>
<rect x="595" y="126.4" width="8.2" height="11.2" fill="#b4cdf0" stroke="#9a9a9a" stroke-width="0.5"/>
<path d="M599.1 125.8L599.1 127" stroke="#231f20" stroke-width="0.7" fill="none"/>
<path d="M597.3 125.8L600.9 125.8" stroke="#231f20" stroke-width="0.7" fill="none"/>
<circle cx="596.7" cy="125.8" r="1.45" fill="#000"/>
<circle cx="599.1" cy="126.4" r="1.45" fill="#000"/>
<circle cx="601.5" cy="127" r="1.45" fill="#000"/>
<rect x="606.9" y="120.5" width="8.2" height="17.1" fill="#ecb9bd" stroke="#9a9a9a" stroke-width="0.5"/>
<path d="M611 118.7L611 122.3" stroke="#231f20" stroke-width="0.7" fill="none"/>
<path d="M609.2 118.7L612.8 118.7" stroke="#231f20" stroke-width="0.7" fill="none"/>
<rect x="608.5" y="117.4" width="2.7" height="2.7" fill="#000" stroke="none" stroke-width="1"/>
<rect x="609.7" y="119.1" width="2.7" height="2.7" fill="#000" stroke="none" stroke-width="1"/>
<rect x="610.9" y="120.9" width="2.7" height="2.7" fill="#000" stroke="none" stroke-width="1"/>
<path d="M605.1 137.6L605.1 140.1" stroke="#8c8c8c" stroke-width="0.8" fill="none"/>
<path d="M599.1 122.8L599.1 112L611 112L611 115.8" stroke="#231f20" stroke-width="0.8" fill="none"/>
<text x="605.1" y="112.9" font-size="7.5" text-anchor="middle">*</text>
<text x="606.6" y="149.6" text-anchor="end" transform="rotate(-45 606.6 149.6)">ATG7</text>
<rect x="627.3" y="128.2" width="8.2" height="9.4" fill="#b4cdf0" stroke="#9a9a9a" stroke-width="0.5"/>
<path d="M631.4 125.8L631.4 129.1" stroke="#231f20" stroke-width="0.7" fill="none"/>
<path d="M629.6 125.8L633.2 125.8" stroke="#231f20" stroke-width="0.7" fill="none"/>
<circle cx="631.4" cy="125.8" r="1.45" fill="#000"/>
<circle cx="630.2" cy="128.8" r="1.45" fill="#000"/>
<circle cx="632.6" cy="129.1" r="1.45" fill="#000"/>
<rect x="639.2" y="119.9" width="8.2" height="17.7" fill="#ecb9bd" stroke="#9a9a9a" stroke-width="0.5"/>
<path d="M643.3 118.5L643.3 121.7" stroke="#231f20" stroke-width="0.7" fill="none"/>
<path d="M641.5 118.5L645.1 118.5" stroke="#231f20" stroke-width="0.7" fill="none"/>
<rect x="640.7" y="117.1" width="2.7" height="2.7" fill="#000" stroke="none" stroke-width="1"/>
<rect x="643.1" y="117.6" width="2.7" height="2.7" fill="#000" stroke="none" stroke-width="1"/>
<rect x="641.9" y="120.3" width="2.7" height="2.7" fill="#000" stroke="none" stroke-width="1"/>
<path d="M637.4 137.6L637.4 140.1" stroke="#8c8c8c" stroke-width="0.8" fill="none"/>
<path d="M631.4 122.8L631.4 110.8L643.3 110.8L643.3 115.5" stroke="#231f20" stroke-width="0.8" fill="none"/>
<text x="637.3" y="111.7" font-size="7.5" text-anchor="middle">*</text>
<text x="638.9" y="149.6" text-anchor="end" transform="rotate(-45 638.9 149.6)">AT12</text>
<rect x="659.5" y="122.8" width="8.2" height="14.8" fill="#b4cdf0" stroke="#9a9a9a" stroke-width="0.5"/>
<path d="M663.6 118.7L663.6 124.6" stroke="#231f20" stroke-width="0.7" fill="none"/>
<path d="M661.8 118.7L665.4 118.7" stroke="#231f20" stroke-width="0.7" fill="none"/>
<circle cx="663.6" cy="118.7" r="1.45" fill="#000"/>
<circle cx="662.4" cy="124.6" r="1.45" fill="#000"/>
<circle cx="664.8" cy="124.6" r="1.45" fill="#000"/>
<rect x="671.4" y="86.3" width="8.2" height="51.3" fill="#ecb9bd" stroke="#9a9a9a" stroke-width="0.5"/>
<path d="M675.5 71.5L675.5 103.4" stroke="#231f20" stroke-width="0.7" fill="none"/>
<path d="M673.7 71.5L677.3 71.5" stroke="#231f20" stroke-width="0.7" fill="none"/>
<rect x="674.1" y="70.2" width="2.7" height="2.7" fill="#000" stroke="none" stroke-width="1"/>
<rect x="674.1" y="82" width="2.7" height="2.7" fill="#000" stroke="none" stroke-width="1"/>
<rect x="674.1" y="102" width="2.7" height="2.7" fill="#000" stroke="none" stroke-width="1"/>
<path d="M669.6 137.6L669.6 140.1" stroke="#8c8c8c" stroke-width="0.8" fill="none"/>
<path d="M663.6 115.8L663.6 62.7L675.5 62.7L675.5 68.6" stroke="#231f20" stroke-width="0.8" fill="none"/>
<text x="669.5" y="63.6" font-size="7.5" text-anchor="middle">*</text>
<text x="671.1" y="149.6" text-anchor="end" transform="rotate(-45 671.1 149.6)">LC3-<tspan font-family="Liberation Serif">II</tspan>/LC3- <tspan font-family="Liberation Serif">I</tspan></text>
<circle cx="621.9" cy="27" r="3.2" fill="#000"/>
<rect x="619" y="36.3" width="6.4" height="6.5" fill="#000" stroke="none" stroke-width="1"/>
<text x="631.2" y="29.9">NC</text>
<text x="631.2" y="42.4">CD147OE</text>
<text x="468.5" y="204.6" font-size="11.5" fill="#000" font-weight="bold">D</text>
<text x="492" y="217">A549</text>
<text x="540.5" y="217" text-anchor="middle">#1</text>
<text x="597.3" y="217" text-anchor="middle">#2</text>
<path d="M523 221.3L559 221.3" stroke="#111" stroke-width="1.5" fill="none"/>
<path d="M580 221.3L615.8 221.3" stroke="#111" stroke-width="1.5" fill="none"/>
<text x="528.2" y="266.3" transform="rotate(-90 528.2 266.3)">NC</text>
<text x="557.8" y="266.3" transform="rotate(-90 557.8 266.3)">CD147OE</text>
<text x="587.4" y="266.3" transform="rotate(-90 587.4 266.3)">NC</text>
<text x="613" y="266.3" transform="rotate(-90 613 266.3)">CD147OE</text>
<rect x="513" y="270.1" width="107.8" height="18" fill="#f8f8f8" stroke="#111" stroke-width="1.4"/>
<rect x="513.7" y="270.8" width="106.4" height="16.6" fill="#000" opacity="0.22" filter="url(#bn)"/>
<path d="M621.8 278.3L627.5 278.3" stroke="#111" stroke-width="1.1" fill="none"/>
<text x="628.9" y="281.4" font-size="8.3">55kDa</text>
<text x="509.8" y="282" font-size="8.4" text-anchor="end">ATG12/ATG5</text>
<rect x="513" y="291.8" width="107.8" height="21.1" fill="#f7f7f7" stroke="#555" stroke-width="1.4"/>
<rect x="513.7" y="292.5" width="106.4" height="19.7" fill="#000" opacity="0.22" filter="url(#bn)"/>
<path d="M621.8 302.3L627.5 302.3" stroke="#111" stroke-width="1.1" fill="none"/>
<text x="628.9" y="305.4" font-size="8.3">289kDa</text>
<text x="509.8" y="304.6" font-size="8.4" text-anchor="end">mTOR</text>
<rect x="513" y="317.3" width="107.8" height="19.5" fill="#e9e9e9" stroke="#111" stroke-width="1.4"/>
<rect x="513.7" y="318" width="106.4" height="18.1" fill="#000" opacity="0.22" filter="url(#bn)"/>
<path d="M621.8 327L627.5 327" stroke="#111" stroke-width="1.1" fill="none"/>
<text x="628.9" y="330.1" font-size="8.3">62kDa</text>
<text x="509.8" y="329.8" font-size="8.4" text-anchor="end">P62</text>
<rect x="513" y="340.6" width="107.8" height="23.2" fill="#f7f7f7" stroke="#111" stroke-width="1.4"/>
<rect x="513.7" y="341.3" width="106.4" height="21.8" fill="#000" opacity="0.22" filter="url(#bn)"/>
<path d="M621.8 346.2L627.5 346.2" stroke="#111" stroke-width="1.1" fill="none"/>
<text x="628.9" y="349.3" font-size="8.3">20kDa</text>
<path d="M621.8 362L627.5 362" stroke="#111" stroke-width="1.1" fill="none"/>
<text x="628.9" y="365.1" font-size="8.3">15kDa</text>
<rect x="513" y="368" width="107.8" height="19.7" fill="#f3f3f3" stroke="#111" stroke-width="1.4"/>
<rect x="513.7" y="368.7" width="106.4" height="18.3" fill="#000" opacity="0.22" filter="url(#bn)"/>
<path d="M621.8 380.7L627.5 380.7" stroke="#111" stroke-width="1.1" fill="none"/>
<text x="628.9" y="383.8" font-size="8.3">52kDa</text>
<text x="509.8" y="381.9" font-size="8.4" text-anchor="end">Beclin 1</text>
<rect x="513" y="391.7" width="107.8" height="21.1" fill="#ededed" stroke="#111" stroke-width="1.4"/>
<rect x="513.7" y="392.4" width="106.4" height="19.7" fill="#000" opacity="0.22" filter="url(#bn)"/>
<path d="M621.8 403L627.5 403" stroke="#111" stroke-width="1.1" fill="none"/>
<text x="628.9" y="406.1" font-size="8.3">78kDa</text>
<text x="509.8" y="405.4" font-size="8.4" text-anchor="end">ATG7</text>
<rect x="513" y="416.7" width="107.8" height="59.1" fill="#eeeeee" stroke="#333" stroke-width="1.1"/>
<rect x="513.7" y="417.4" width="106.4" height="57.7" fill="#000" opacity="0.22" filter="url(#bn)"/>
<path d="M621.8 421.5L627.5 421.5" stroke="#111" stroke-width="1.1" fill="none"/>
<text x="628.9" y="424.6" font-size="8.3">75kDa</text>
<path d="M621.8 448.3L627.5 448.3" stroke="#111" stroke-width="1.1" fill="none"/>
<text x="628.9" y="451.4" font-size="8.3">50kDa</text>
<path d="M621.8 469.5L627.5 469.5" stroke="#111" stroke-width="1.1" fill="none"/>
<text x="628.9" y="472.6" font-size="8.3">37kDa</text>
<text x="509.8" y="453.5" font-size="8.4" text-anchor="end">CD147</text>
<rect x="513" y="479.9" width="107.8" height="23.2" fill="#f1f1f1" stroke="#111" stroke-width="1.4"/>
<rect x="513.7" y="480.6" width="106.4" height="21.8" fill="#000" opacity="0.22" filter="url(#bn)"/>
<path d="M621.8 491L627.5 491" stroke="#111" stroke-width="1.1" fill="none"/>
<text x="628.9" y="494.1" font-size="8.3">42kDa</text>
<text x="509.8" y="496" font-size="8.4" text-anchor="end">β-actin</text>
<text x="507.5" y="349.8" font-size="8.4" text-anchor="end">LC3- <tspan font-family="Liberation Serif">I</tspan></text>
<text x="509" y="362.6" font-size="8.4" text-anchor="end">LC3-<tspan font-family="Liberation Serif">II</tspan></text>
<g>
<rect x="517.5" y="277.2" width="17" height="3.5" rx="1.8" fill="#222" opacity="0.55" filter="url(#bh)"/>
<rect x="517.5" y="277.2" width="5" height="3.5" rx="1.8" fill="#222" opacity="0.4" filter="url(#bh)"/>
<rect x="530.5" y="277.2" width="5" height="3.5" rx="1.8" fill="#222" opacity="0.45" filter="url(#bh)"/>
<rect x="544.5" y="276.2" width="17" height="5.5" rx="2.8" fill="#000" opacity="1" filter="url(#bh)"/>
<rect x="543.5" y="275.5" width="19" height="7" rx="3.5" fill="#000" opacity="0.4" filter="url(#bh)"/>
<rect x="572" y="277.2" width="16" height="3.5" rx="1.8" fill="#222" opacity="0.38" filter="url(#bh)"/>
<rect x="601" y="276.8" width="19" height="4.5" rx="2.2" fill="#000" opacity="0.85" filter="url(#bh)"/>
<rect x="516" y="297.5" width="20" height="9" rx="2" fill="#000" opacity="0.95" filter="url(#bh)"/>
<rect x="516" y="306.5" width="20" height="5" rx="1.5" fill="#444" opacity="0.55" filter="url(#bh)"/>
<rect x="517" y="294.7" width="14" height="1.6" rx="0.8" fill="#000" opacity="0.35" filter="url(#bh)"/>
<rect x="543.5" y="298.3" width="19" height="3" rx="1" fill="#000" opacity="0.8" filter="url(#bh)"/>
<rect x="543.5" y="301" width="19" height="9" rx="1.5" fill="#555" opacity="0.5" filter="url(#bh)"/>
<rect x="570.5" y="298.3" width="19" height="3" rx="1" fill="#000" opacity="0.7" filter="url(#bh)"/>
<rect x="570.5" y="301" width="19" height="9" rx="1.5" fill="#555" opacity="0.45" filter="url(#bh)"/>
<rect x="597.5" y="299" width="8" height="3" rx="1.5" fill="#000" opacity="0.6" filter="url(#bh)"/>
<rect x="599" y="301.5" width="14" height="8" rx="4" fill="#666" opacity="0.28" filter="url(#bh)"/>
<rect x="518.5" y="325.5" width="17" height="3" rx="1.5" fill="#000" opacity="0.55" filter="url(#bh)"/>
<rect x="518" y="325" width="4" height="4" rx="2" fill="#000" opacity="0.5" filter="url(#bh)"/>
<rect x="543" y="321.5" width="19" height="11" rx="5.5" fill="#000" opacity="1" filter="url(#bh)"/>
<rect x="570" y="325" width="20" height="4" rx="2" fill="#000" opacity="0.75" filter="url(#bh)"/>
<rect x="569.5" y="324.5" width="5" height="5" rx="2.5" fill="#000" opacity="0.9" filter="url(#bh)"/>
<rect x="597.5" y="321.5" width="22" height="11" rx="5.5" fill="#000" opacity="1" filter="url(#bh)"/>
<rect x="519" y="344.8" width="16" height="3" rx="1.5" fill="#444" opacity="0.3" filter="url(#bh)"/>
<rect x="545" y="344.8" width="16" height="3" rx="1.5" fill="#444" opacity="0.12" filter="url(#bh)"/>
<rect x="572" y="344.8" width="16" height="3" rx="1.5" fill="#444" opacity="0.28" filter="url(#bh)"/>
<rect x="600" y="344.8" width="16" height="3" rx="1.5" fill="#444" opacity="0.1" filter="url(#bh)"/>
<rect x="517.5" y="355.8" width="19" height="4" rx="2" fill="#000" opacity="0.85" filter="url(#bh)"/>
<rect x="543.5" y="355.8" width="19" height="4" rx="2" fill="#000" opacity="0.85" filter="url(#bh)"/>
<rect x="570.5" y="355.6" width="19" height="4.5" rx="2.2" fill="#000" opacity="0.9" filter="url(#bh)"/>
<rect x="599" y="356.1" width="18" height="3.5" rx="1.8" fill="#000" opacity="0.6" filter="url(#bh)"/>
<rect x="518.5" y="376.2" width="22" height="6.5" rx="2.5" fill="#2a2a2a" opacity="0.95" filter="url(#bh)"/>
<rect x="544.8" y="374.3" width="21.5" height="10" rx="3" fill="#2a2a2a" opacity="0.97" filter="url(#bh)"/>
<rect x="570" y="375.8" width="20" height="7.5" rx="2.5" fill="#2a2a2a" opacity="0.95" filter="url(#bh)"/>
<rect x="594.2" y="374.3" width="21.5" height="11" rx="3.5" fill="#2a2a2a" opacity="0.97" filter="url(#bh)"/>
<rect x="517.5" y="399.5" width="19" height="5" rx="2.5" fill="#000" opacity="0.65" filter="url(#bh)"/>
<rect x="517" y="399.2" width="5" height="5.5" rx="2.8" fill="#000" opacity="0.85" filter="url(#bh)"/>
<rect x="530.5" y="398.8" width="6" height="6.5" rx="3.2" fill="#000" opacity="0.95" filter="url(#bh)"/>
<rect x="542.7" y="398.1" width="20" height="8.5" rx="3" fill="#000" opacity="1" filter="url(#bh)"/>
<rect x="572" y="400.8" width="17" height="3.5" rx="1.8" fill="#000" opacity="0.4" filter="url(#bh)"/>
<rect x="572" y="400.5" width="4" height="4" rx="2" fill="#000" opacity="0.4" filter="url(#bh)"/>
<rect x="598.5" y="399.8" width="20" height="5.5" rx="2.8" fill="#000" opacity="0.85" filter="url(#bh)"/>
<rect x="518" y="419" width="20" height="18" rx="3" fill="#666" opacity="0.22" filter="url(#b3)"/>
<rect x="543.5" y="419" width="20" height="18" rx="3" fill="#666" opacity="0.28" filter="url(#b3)"/>
<rect x="569" y="419" width="20" height="18" rx="3" fill="#666" opacity="0.2" filter="url(#b3)"/>
<rect x="594.5" y="419" width="20" height="18" rx="3" fill="#666" opacity="0.28" filter="url(#b3)"/>
<rect x="518.5" y="435.8" width="20" height="10.5" rx="2" fill="#000" opacity="0.97" filter="url(#bh)"/>
<rect x="518.5" y="446.2" width="20" height="6.5" rx="2" fill="#000" opacity="1" filter="url(#bh)"/>
<rect x="544.4" y="429.4" width="18.5" height="24.5" rx="2.5" fill="#000" opacity="1" filter="url(#bh)"/>
<rect x="569" y="436.1" width="19" height="7.5" rx="2" fill="#000" opacity="0.92" filter="url(#bh)"/>
<rect x="569" y="446.5" width="19" height="5" rx="2" fill="#000" opacity="0.6" filter="url(#bh)"/>
<rect x="594.8" y="430" width="19.5" height="23" rx="2.5" fill="#000" opacity="0.98" filter="url(#bh)"/>
<rect x="519" y="462.3" width="19" height="7" rx="2" fill="#555" opacity="0.4" filter="url(#bh)"/>
<rect x="544.5" y="460.8" width="18" height="10" rx="2.5" fill="#000" opacity="1" filter="url(#bh)"/>
<rect x="570" y="462.8" width="18" height="6" rx="2" fill="#555" opacity="0.33" filter="url(#bh)"/>
<rect x="596" y="462" width="18" height="8" rx="2" fill="#222" opacity="0.6" filter="url(#bh)"/>
<rect x="520.8" y="487.6" width="17.5" height="6.5" rx="3" fill="#000" opacity="0.97" filter="url(#bh)"/>
<rect x="545.5" y="487.9" width="18" height="5.5" rx="2.5" fill="#000" opacity="0.95" filter="url(#bh)"/>
<rect x="570.8" y="487.8" width="18.5" height="6" rx="2.5" fill="#000" opacity="0.95" filter="url(#bh)"/>
<rect x="596" y="488.2" width="18" height="5.5" rx="2.5" fill="#000" opacity="0.95" filter="url(#bh)"/>
</g>
<text x="0.5" y="565.8" font-size="11.5" fill="#000" font-weight="bold">E</text>
<text x="4" y="581.6">A549</text>
<text x="47.5" y="581.6" text-anchor="middle">GFP dots</text>
<text x="104.2" y="581.6" text-anchor="middle">mRFP dots</text>
<text x="164.5" y="581.6" text-anchor="middle">Merge</text>
<text x="15.2" y="613.5" text-anchor="middle" transform="rotate(-90 15.2 613.5)">NC</text>
<text x="15.2" y="674.3" text-anchor="middle" transform="rotate(-90 15.2 674.3)">CD147OE</text>
<svg x="18.1" y="584.2" width="56.8" height="58.8" overflow="hidden">
<rect x="0" y="0" width="56.8" height="58.8" fill="#000" stroke="none" stroke-width="1"/>
<path d="M26.3 0.3C28 -1.4 31.8 0.7 34.8 1.5C37.8 2.3 41.7 3.3 44.1 4.9C46.5 6.5 48.5 8.2 49.2 10.9C49.9 13.6 48.1 17.6 48.3 21C48.5 24.4 49.5 28.2 50.4 31.2C51.2 34.2 54 38.2 53.4 38.8C52.8 39.4 49.1 35.9 46.6 34.6C44.1 33.3 40.9 32.5 38.2 31.2C35.5 29.9 32.6 28.6 30.5 26.9C28.4 25.2 26.4 23.5 25.4 21C24.4 18.5 24.5 15.1 24.6 11.7C24.8 8.2 24.6 2 26.3 0.3Z" fill="#1f6a19" filter="url(#bc)"/>
<path d="M0.9 26.9C1.5 24.5 3.8 23.8 6 22.7C8.2 21.6 11.9 20.6 14.4 20.6C16.9 20.6 19.5 21.4 21.2 22.7C22.9 24 24.2 26.3 24.6 28.6C25 30.9 24.7 33.9 23.8 36.3C22.9 38.7 21.4 41.2 19.5 43C17.6 44.8 14.8 47 12.7 47.3C10.6 47.6 8.5 46.4 6.8 44.7C5.1 43 3.6 40.1 2.6 37.1C1.6 34.1 0.3 29.3 0.9 26.9Z" fill="#1f6a19" filter="url(#bc)"/>
<path d="M20.4 44.7C21.2 43 22.8 40.2 24.6 38.8C26.4 37.4 29.3 36.4 31.4 36.3C33.5 36.2 35.8 36.9 37.3 38C38.8 39.1 40 41 40.3 43C40.6 45 39.9 48 39 49.8C38.1 51.6 36.6 53.1 34.8 54C33 54.9 30.1 55.4 28 55.3C25.9 55.2 23.5 54.2 22.1 53.2C20.7 52.2 19.8 50.4 19.5 49C19.2 47.6 19.5 46.4 20.4 44.7Z" fill="#1f6a19" filter="url(#bc)"/>
<circle cx="40" cy="20" r="7" fill="#2e8e26" opacity="0.4" filter="url(#b2)"/>
<circle cx="13" cy="34" r="6" fill="#2e8e26" opacity="0.4" filter="url(#b2)"/>
<circle cx="30" cy="46" r="5" fill="#2e8e26" opacity="0.4" filter="url(#b2)"/>
<text x="54.5" y="54.8" font-size="6.2" text-anchor="end" fill="#fff" font-weight="bold">20μm</text>
<rect x="36.6" y="56.2" width="19.3" height="1.5" fill="#fff" stroke="none" stroke-width="1"/>
</svg>
<svg x="76.6" y="584.2" width="56.8" height="58.8" overflow="hidden">
<rect x="0" y="0" width="56.8" height="58.8" fill="#000" stroke="none" stroke-width="1"/>
<path d="M26.3 0.3C28 -1.4 31.8 0.7 34.8 1.5C37.8 2.3 41.7 3.3 44.1 4.9C46.5 6.5 48.5 8.2 49.2 10.9C49.9 13.6 48.1 17.6 48.3 21C48.5 24.4 49.5 28.2 50.4 31.2C51.2 34.2 54 38.2 53.4 38.8C52.8 39.4 49.1 35.9 46.6 34.6C44.1 33.3 40.9 32.5 38.2 31.2C35.5 29.9 32.6 28.6 30.5 26.9C28.4 25.2 26.4 23.5 25.4 21C24.4 18.5 24.5 15.1 24.6 11.7C24.8 8.2 24.6 2 26.3 0.3Z" fill="#a81f0c" filter="url(#bc)"/>
<path d="M0.9 26.9C1.5 24.5 3.8 23.8 6 22.7C8.2 21.6 11.9 20.6 14.4 20.6C16.9 20.6 19.5 21.4 21.2 22.7C22.9 24 24.2 26.3 24.6 28.6C25 30.9 24.7 33.9 23.8 36.3C22.9 38.7 21.4 41.2 19.5 43C17.6 44.8 14.8 47 12.7 47.3C10.6 47.6 8.5 46.4 6.8 44.7C5.1 43 3.6 40.1 2.6 37.1C1.6 34.1 0.3 29.3 0.9 26.9Z" fill="#a81f0c" filter="url(#bc)"/>
<path d="M20.4 44.7C21.2 43 22.8 40.2 24.6 38.8C26.4 37.4 29.3 36.4 31.4 36.3C33.5 36.2 35.8 36.9 37.3 38C38.8 39.1 40 41 40.3 43C40.6 45 39.9 48 39 49.8C38.1 51.6 36.6 53.1 34.8 54C33 54.9 30.1 55.4 28 55.3C25.9 55.2 23.5 54.2 22.1 53.2C20.7 52.2 19.8 50.4 19.5 49C19.2 47.6 19.5 46.4 20.4 44.7Z" fill="#a81f0c" filter="url(#bc)"/>
<circle cx="40" cy="20" r="7" fill="#dc4418" opacity="0.4" filter="url(#b2)"/>
<circle cx="13" cy="34" r="6" fill="#dc4418" opacity="0.4" filter="url(#b2)"/>
<circle cx="30" cy="46" r="5" fill="#dc4418" opacity="0.4" filter="url(#b2)"/>
<clipPath id="ec01"><path d="M26.3 0.3C28 -1.4 31.8 0.7 34.8 1.5C37.8 2.3 41.7 3.3 44.1 4.9C46.5 6.5 48.5 8.2 49.2 10.9C49.9 13.6 48.1 17.6 48.3 21C48.5 24.4 49.5 28.2 50.4 31.2C51.2 34.2 54 38.2 53.4 38.8C52.8 39.4 49.1 35.9 46.6 34.6C44.1 33.3 40.9 32.5 38.2 31.2C35.5 29.9 32.6 28.6 30.5 26.9C28.4 25.2 26.4 23.5 25.4 21C24.4 18.5 24.5 15.1 24.6 11.7C24.8 8.2 24.6 2 26.3 0.3Z"/><path d="M0.9 26.9C1.5 24.5 3.8 23.8 6 22.7C8.2 21.6 11.9 20.6 14.4 20.6C16.9 20.6 19.5 21.4 21.2 22.7C22.9 24 24.2 26.3 24.6 28.6C25 30.9 24.7 33.9 23.8 36.3C22.9 38.7 21.4 41.2 19.5 43C17.6 44.8 14.8 47 12.7 47.3C10.6 47.6 8.5 46.4 6.8 44.7C5.1 43 3.6 40.1 2.6 37.1C1.6 34.1 0.3 29.3 0.9 26.9Z"/><path d="M20.4 44.7C21.2 43 22.8 40.2 24.6 38.8C26.4 37.4 29.3 36.4 31.4 36.3C33.5 36.2 35.8 36.9 37.3 38C38.8 39.1 40 41 40.3 43C40.6 45 39.9 48 39 49.8C38.1 51.6 36.6 53.1 34.8 54C33 54.9 30.1 55.4 28 55.3C25.9 55.2 23.5 54.2 22.1 53.2C20.7 52.2 19.8 50.4 19.5 49C19.2 47.6 19.5 46.4 20.4 44.7Z"/></clipPath>
<g opacity="0.5" clip-path="url(#ec01)">
<path d="M51.3 46.7h0M6.9 16.8h0M44 15.7h0M24.3 41.6h0M45.2 54h0M8.2 32.3h0M38.5 3.7h0M16.7 1.5h0M2.9 27.5h0M21.5 21.7h0M49.3 26h0M52.9 44.3h0M22.4 31.6h0M25.2 52.3h0M20.8 38.1h0M8.9 9.3h0M32.7 21.3h0M8 40.1h0M46.1 36.8h0M9.8 50.8h0M21.7 21.3h0M37 54.3h0M34.2 56h0M10.6 30.7h0M44 21.5h0M31 38.1h0M47.4 20.9h0M22.4 2.5h0M47.9 45.3h0M11.4 37.2h0M41 45.8h0M38 11.2h0M29.6 33.2h0M12.9 50.6h0M45.2 16.9h0M9.8 33.9h0M20.3 29h0M7.6 39.4h0M17.4 24.5h0M43.9 43.1h0M15.9 32.8h0M42.6 25.1h0M25 17.6h0M32.1 12.1h0M40.8 37.6h0M4.4 15.5h0M23.1 39.7h0M19.1 41.6h0M44.4 30.9h0M3.3 10.1h0M18.4 17.2h0M51.5 35.5h0M23.9 45h0M3.4 19h0M41.7 32.8h0M19.1 42h0M32.6 27.7h0M8.4 8.5h0M34.2 24.9h0M25.6 17.7h0M45.5 27.4h0M14 13.9h0M48.8 23.5h0M12.3 13.9h0M36.6 45.2h0M13.5 35.8h0M2.6 8.7h0M23.3 38.2h0M10.5 33.5h0M25.7 45.8h0M28.4 12.7h0M6.2 53.8h0M49.5 45.5h0M19.1 14.4h0M28.6 23.7h0M46.6 54h0M6.4 15h0M41.2 46.1h0M35 11.5h0M31.2 33.3h0M6 27.3h0M16.2 18.1h0M32 49h0M6.9 50.9h0M44 31.3h0M34.2 49.2h0M40.5 5.1h0M10.6 12.3h0M4.9 37.1h0M30.5 5.3h0M51.7 51.5h0M25.5 11.9h0M32.8 47.3h0M33.4 34.9h0M9.7 48.5h0M46.3 44.6h0M44 42h0M48.7 20.5h0M53.1 54.1h0M2.9 24.9h0M46 26.9h0M9.8 30.7h0M4.4 14.2h0M29.6 50.4h0M40.5 15.7h0M38.4 18.7h0M30.9 42.6h0M24.3 38.5h0M43.5 19.6h0M14.1 4h0" stroke="#f06a30" stroke-width="2.0" stroke-linecap="round" fill="none" filter="url(#b1)"/>
</g>
<text x="54.5" y="54.8" font-size="6.2" text-anchor="end" fill="#fff" font-weight="bold">20μm</text>
<rect x="36.6" y="56.2" width="19.3" height="1.5" fill="#fff" stroke="none" stroke-width="1"/>
</svg>
<svg x="134.7" y="584.2" width="56.8" height="58.8" overflow="hidden">
<rect x="0" y="0" width="56.8" height="58.8" fill="#1f4412" stroke="none" stroke-width="1"/>
<path d="M26.3 0.3C28 -1.4 31.8 0.7 34.8 1.5C37.8 2.3 41.7 3.3 44.1 4.9C46.5 6.5 48.5 8.2 49.2 10.9C49.9 13.6 48.1 17.6 48.3 21C48.5 24.4 49.5 28.2 50.4 31.2C51.2 34.2 54 38.2 53.4 38.8C52.8 39.4 49.1 35.9 46.6 34.6C44.1 33.3 40.9 32.5 38.2 31.2C35.5 29.9 32.6 28.6 30.5 26.9C28.4 25.2 26.4 23.5 25.4 21C24.4 18.5 24.5 15.1 24.6 11.7C24.8 8.2 24.6 2 26.3 0.3Z" fill="#a66428" filter="url(#bc)"/>
<path d="M0.9 26.9C1.5 24.5 3.8 23.8 6 22.7C8.2 21.6 11.9 20.6 14.4 20.6C16.9 20.6 19.5 21.4 21.2 22.7C22.9 24 24.2 26.3 24.6 28.6C25 30.9 24.7 33.9 23.8 36.3C22.9 38.7 21.4 41.2 19.5 43C17.6 44.8 14.8 47 12.7 47.3C10.6 47.6 8.5 46.4 6.8 44.7C5.1 43 3.6 40.1 2.6 37.1C1.6 34.1 0.3 29.3 0.9 26.9Z" fill="#a66428" filter="url(#bc)"/>
<path d="M20.4 44.7C21.2 43 22.8 40.2 24.6 38.8C26.4 37.4 29.3 36.4 31.4 36.3C33.5 36.2 35.8 36.9 37.3 38C38.8 39.1 40 41 40.3 43C40.6 45 39.9 48 39 49.8C38.1 51.6 36.6 53.1 34.8 54C33 54.9 30.1 55.4 28 55.3C25.9 55.2 23.5 54.2 22.1 53.2C20.7 52.2 19.8 50.4 19.5 49C19.2 47.6 19.5 46.4 20.4 44.7Z" fill="#a66428" filter="url(#bc)"/>
<circle cx="40" cy="20" r="7" fill="#d08c30" opacity="0.4" filter="url(#b2)"/>
<circle cx="13" cy="34" r="6" fill="#d08c30" opacity="0.4" filter="url(#b2)"/>
<circle cx="30" cy="46" r="5" fill="#d08c30" opacity="0.4" filter="url(#b2)"/>
<clipPath id="ec02"><path d="M26.3 0.3C28 -1.4 31.8 0.7 34.8 1.5C37.8 2.3 41.7 3.3 44.1 4.9C46.5 6.5 48.5 8.2 49.2 10.9C49.9 13.6 48.1 17.6 48.3 21C48.5 24.4 49.5 28.2 50.4 31.2C51.2 34.2 54 38.2 53.4 38.8C52.8 39.4 49.1 35.9 46.6 34.6C44.1 33.3 40.9 32.5 38.2 31.2C35.5 29.9 32.6 28.6 30.5 26.9C28.4 25.2 26.4 23.5 25.4 21C24.4 18.5 24.5 15.1 24.6 11.7C24.8 8.2 24.6 2 26.3 0.3Z"/><path d="M0.9 26.9C1.5 24.5 3.8 23.8 6 22.7C8.2 21.6 11.9 20.6 14.4 20.6C16.9 20.6 19.5 21.4 21.2 22.7C22.9 24 24.2 26.3 24.6 28.6C25 30.9 24.7 33.9 23.8 36.3C22.9 38.7 21.4 41.2 19.5 43C17.6 44.8 14.8 47 12.7 47.3C10.6 47.6 8.5 46.4 6.8 44.7C5.1 43 3.6 40.1 2.6 37.1C1.6 34.1 0.3 29.3 0.9 26.9Z"/><path d="M20.4 44.7C21.2 43 22.8 40.2 24.6 38.8C26.4 37.4 29.3 36.4 31.4 36.3C33.5 36.2 35.8 36.9 37.3 38C38.8 39.1 40 41 40.3 43C40.6 45 39.9 48 39 49.8C38.1 51.6 36.6 53.1 34.8 54C33 54.9 30.1 55.4 28 55.3C25.9 55.2 23.5 54.2 22.1 53.2C20.7 52.2 19.8 50.4 19.5 49C19.2 47.6 19.5 46.4 20.4 44.7Z"/></clipPath>
<g opacity="0.5" clip-path="url(#ec02)">
<path d="M48 11.4h0M4 11.2h0M33 38.4h0M11.8 55.7h0M16.5 51.4h0M33 48.7h0M43.6 30.3h0M44.6 1.9h0M22.9 17.2h0M11.8 3.3h0M25.8 23.7h0M31.1 14.4h0M44.9 18.2h0M53.8 34.2h0M10.2 33.8h0M9.9 50.2h0M39 37.9h0M31.6 28.2h0M24.3 55.9h0M32 36.1h0M34.3 28.9h0M44.7 42.8h0M15.1 54.6h0M47 16.5h0M49.1 54.5h0M36.1 13.9h0M46.1 24.7h0M17.3 45.5h0M22.1 9.1h0M7.7 19.6h0M39.8 17h0M41.4 19.5h0M2.2 11.8h0M38.2 26.8h0M32 21.9h0M11.2 5.1h0M25.3 25.7h0M18.6 7.1h0M6.8 42.8h0M49.1 52h0M7.8 13h0M4.6 21.6h0M36.4 51.6h0M12 31.3h0M11.1 18.6h0M20.9 21h0M28.9 25.9h0M26.3 42.9h0M16.5 5.8h0M25.6 36.4h0M48.1 16.7h0M4.3 43.6h0M42.3 2.2h0M15.9 33.7h0M47.2 18.6h0M4.3 46.3h0M34.7 44.8h0M41.9 13.7h0M44.2 11.1h0M11.7 37.1h0M51.7 28.6h0M38.6 5.8h0M17.8 23.6h0M12.7 12.1h0M15.7 7.1h0M25.8 14.8h0M5.1 11.9h0M6.4 15.6h0M36.2 36.1h0M53.4 33.5h0M50.1 6.3h0M34.9 23.6h0M29.2 37.2h0M17.8 32.2h0M11.2 38.3h0M36.7 12.3h0M24.2 1.1h0M7.4 17.6h0M50.2 33.9h0M34.6 8.9h0M52.5 47.4h0M35.7 13.9h0M24.7 30.9h0M30.4 7.8h0M11.5 41.7h0M33 51.7h0M53.5 22.1h0M51.2 31.2h0M18.6 19h0M10 17.5h0M41.5 2.5h0M15.9 45.5h0M9.6 41.2h0M51.3 12.8h0M8.4 36.8h0M39.5 38.1h0M37.9 19.4h0M45.3 50.5h0M17.5 18h0M20.8 42.8h0M12.4 42h0M49.8 14.3h0M42.4 52.1h0M23.7 50.9h0M2.5 19.7h0M26.6 26h0M14.9 24.4h0M11 54.3h0M16.7 23.8h0M28.6 44.4h0" stroke="#e8a040" stroke-width="2.0" stroke-linecap="round" fill="none" filter="url(#b1)"/>
</g>
<text x="54.5" y="54.8" font-size="6.2" text-anchor="end" fill="#fff" font-weight="bold">20μm</text>
<rect x="36.6" y="56.2" width="19.3" height="1.5" fill="#fff" stroke="none" stroke-width="1"/>
</svg>
<svg x="18.1" y="645" width="56.8" height="58.8" overflow="hidden">
<rect x="0" y="0" width="56.8" height="58.8" fill="#000" stroke="none" stroke-width="1"/>
<path d="M43.7 2.1C44.8 1.8 44.8 4 44.9 6.3C45 8.6 44 12.3 44.5 15.6C45 18.9 48.4 23.5 47.9 25.8C47.4 28.1 44 28.2 41.5 29.2C39 30.2 35.9 30.7 33.1 31.7C30.3 32.7 27.4 34 24.6 35.1C21.8 36.2 16.7 38.9 16.1 38.5C15.5 38.1 19.5 35 21.2 32.6C22.9 30.2 24.5 26.9 26.3 24.1C28.1 21.3 30.2 18.3 32.2 15.6C34.2 12.9 36.3 10.2 38.2 8C40.1 5.8 42.6 2.4 43.7 2.1Z" fill="#1f6a19" filter="url(#bc)"/>
<path d="M5.1 32.6C6.1 32.5 8.4 34.9 10.2 36C12 37.1 13.7 38.2 16.1 39.3C18.5 40.4 21.8 41.6 24.6 42.7C27.4 43.8 30.6 45 33.1 46.1C35.6 47.2 39.8 48.6 39.8 49.5C39.8 50.4 36.3 50.6 33.1 51.2C29.9 51.8 24.3 52.6 20.4 52.9C16.4 53.2 12.4 52.5 9.4 52.9C6.4 53.2 3.5 56.3 2.6 55C1.7 53.7 3.6 48.3 3.9 45.3C4.2 42.3 4.1 38.9 4.3 36.8C4.5 34.7 4.1 32.7 5.1 32.6Z" fill="#1f6a19" filter="url(#bc)"/>
<circle cx="38" cy="18" r="5" fill="#2e8e26" opacity="0.35" filter="url(#b2)"/>
<circle cx="18" cy="45" r="6" fill="#2e8e26" opacity="0.35" filter="url(#b2)"/>
<text x="54.5" y="54.8" font-size="6.2" text-anchor="end" fill="#fff" font-weight="bold">20μm</text>
<rect x="36.6" y="56.2" width="19.3" height="1.5" fill="#fff" stroke="none" stroke-width="1"/>
</svg>
<svg x="76.6" y="645" width="56.8" height="58.8" overflow="hidden">
<rect x="0" y="0" width="56.8" height="58.8" fill="#000" stroke="none" stroke-width="1"/>
<path d="M43.7 2.1C44.8 1.8 44.8 4 44.9 6.3C45 8.6 44 12.3 44.5 15.6C45 18.9 48.4 23.5 47.9 25.8C47.4 28.1 44 28.2 41.5 29.2C39 30.2 35.9 30.7 33.1 31.7C30.3 32.7 27.4 34 24.6 35.1C21.8 36.2 16.7 38.9 16.1 38.5C15.5 38.1 19.5 35 21.2 32.6C22.9 30.2 24.5 26.9 26.3 24.1C28.1 21.3 30.2 18.3 32.2 15.6C34.2 12.9 36.3 10.2 38.2 8C40.1 5.8 42.6 2.4 43.7 2.1Z" fill="#a81f0c" filter="url(#bc)"/>
<path d="M5.1 32.6C6.1 32.5 8.4 34.9 10.2 36C12 37.1 13.7 38.2 16.1 39.3C18.5 40.4 21.8 41.6 24.6 42.7C27.4 43.8 30.6 45 33.1 46.1C35.6 47.2 39.8 48.6 39.8 49.5C39.8 50.4 36.3 50.6 33.1 51.2C29.9 51.8 24.3 52.6 20.4 52.9C16.4 53.2 12.4 52.5 9.4 52.9C6.4 53.2 3.5 56.3 2.6 55C1.7 53.7 3.6 48.3 3.9 45.3C4.2 42.3 4.1 38.9 4.3 36.8C4.5 34.7 4.1 32.7 5.1 32.6Z" fill="#a81f0c" filter="url(#bc)"/>
<circle cx="38" cy="18" r="5" fill="#dc4418" opacity="0.35" filter="url(#b2)"/>
<circle cx="18" cy="45" r="6" fill="#dc4418" opacity="0.35" filter="url(#b2)"/>
<clipPath id="ec11"><path d="M43.7 2.1C44.8 1.8 44.8 4 44.9 6.3C45 8.6 44 12.3 44.5 15.6C45 18.9 48.4 23.5 47.9 25.8C47.4 28.1 44 28.2 41.5 29.2C39 30.2 35.9 30.7 33.1 31.7C30.3 32.7 27.4 34 24.6 35.1C21.8 36.2 16.7 38.9 16.1 38.5C15.5 38.1 19.5 35 21.2 32.6C22.9 30.2 24.5 26.9 26.3 24.1C28.1 21.3 30.2 18.3 32.2 15.6C34.2 12.9 36.3 10.2 38.2 8C40.1 5.8 42.6 2.4 43.7 2.1Z"/><path d="M5.1 32.6C6.1 32.5 8.4 34.9 10.2 36C12 37.1 13.7 38.2 16.1 39.3C18.5 40.4 21.8 41.6 24.6 42.7C27.4 43.8 30.6 45 33.1 46.1C35.6 47.2 39.8 48.6 39.8 49.5C39.8 50.4 36.3 50.6 33.1 51.2C29.9 51.8 24.3 52.6 20.4 52.9C16.4 53.2 12.4 52.5 9.4 52.9C6.4 53.2 3.5 56.3 2.6 55C1.7 53.7 3.6 48.3 3.9 45.3C4.2 42.3 4.1 38.9 4.3 36.8C4.5 34.7 4.1 32.7 5.1 32.6Z"/></clipPath>
<g opacity="0.5" clip-path="url(#ec11)">
<path d="M17.5 52.4h0M52.6 47.3h0M46.5 10h0M20.7 9.7h0M46.7 1.2h0M15 55.9h0M43.2 49.4h0M21.5 3.8h0M49.4 15.5h0M21 47.5h0M52.1 16h0M23.6 39.3h0M17.7 1.1h0M23.4 38.7h0M15.2 20h0M45.7 19.2h0M22.3 6.1h0M36.2 39.1h0M28.6 55.8h0M38 14.6h0M23.5 44.8h0M30.6 44.2h0M21.4 2.5h0M18.5 26.4h0M48.4 55.3h0M24.5 55.4h0M28.8 4.4h0M13.7 35.2h0M12.5 54.3h0M40.8 22.4h0M16.5 17.4h0M31.2 6.5h0M37.7 29.7h0M7.5 29.3h0M3 15.3h0M3.7 12.7h0M40.2 31.8h0M23.8 12.6h0M14.1 39.3h0M7.6 23.3h0M35 42.6h0M52.3 51.5h0M28.3 1.4h0M51.1 37.5h0M21.3 20.7h0M22 53.2h0M16.4 47.4h0M14.4 2.8h0M42.1 2.7h0M11.5 50.9h0M32.7 54.5h0M9.6 3.7h0M11.8 46.9h0M53 4.6h0M15 11.7h0M45.5 51.8h0M11.6 12h0M16.5 34.5h0M53.1 42.6h0M26.9 42.2h0M8.5 37.2h0M32.9 28.5h0M44.7 34.7h0M11.3 28.3h0M49.8 32h0M6.8 10.8h0M35 40.9h0M9.1 47.1h0M53.5 31.7h0M21.1 54.2h0M25.7 16.3h0M19 4.8h0M17.1 15.2h0M15.4 36.4h0M38 23.4h0M50 36.5h0M51.6 12.2h0M52 6h0M42.4 33.8h0M3.9 28.2h0M18.9 27h0M9.4 43.6h0M19.1 34h0M3.2 39.1h0M2.1 12.1h0M4.1 5.1h0M28.6 34.1h0M14.2 14.9h0M13.6 34.3h0M10.6 13.2h0M51.1 49.5h0M8.7 44.5h0M39.2 54h0M29.5 10.8h0M12.3 51.2h0M7.2 23.7h0M3.9 34h0M20.8 24.9h0M7.8 28.8h0M11 32.4h0M4.8 16.6h0M27.1 42.6h0M49.7 35.5h0M17.3 24.5h0M17.3 13.8h0M10.2 19.3h0M13.9 44.5h0M3.6 23.2h0M11.5 7.2h0M2.7 7.3h0" stroke="#f06a30" stroke-width="2.0" stroke-linecap="round" fill="none" filter="url(#b1)"/>
</g>
<text x="54.5" y="54.8" font-size="6.2" text-anchor="end" fill="#fff" font-weight="bold">20μm</text>
<rect x="36.6" y="56.2" width="19.3" height="1.5" fill="#fff" stroke="none" stroke-width="1"/>
</svg>
<svg x="134.7" y="645" width="56.8" height="58.8" overflow="hidden">
<rect x="0" y="0" width="56.8" height="58.8" fill="#0b1405" stroke="none" stroke-width="1"/>
<ellipse cx="22" cy="30" rx="25" ry="22" fill="#1a3010" opacity="0.5" filter="url(#b3)"/>
<path d="M43.7 2.1C44.8 1.8 44.8 4 44.9 6.3C45 8.6 44 12.3 44.5 15.6C45 18.9 48.4 23.5 47.9 25.8C47.4 28.1 44 28.2 41.5 29.2C39 30.2 35.9 30.7 33.1 31.7C30.3 32.7 27.4 34 24.6 35.1C21.8 36.2 16.7 38.9 16.1 38.5C15.5 38.1 19.5 35 21.2 32.6C22.9 30.2 24.5 26.9 26.3 24.1C28.1 21.3 30.2 18.3 32.2 15.6C34.2 12.9 36.3 10.2 38.2 8C40.1 5.8 42.6 2.4 43.7 2.1Z" fill="#a66428" filter="url(#bc)"/>
<path d="M5.1 32.6C6.1 32.5 8.4 34.9 10.2 36C12 37.1 13.7 38.2 16.1 39.3C18.5 40.4 21.8 41.6 24.6 42.7C27.4 43.8 30.6 45 33.1 46.1C35.6 47.2 39.8 48.6 39.8 49.5C39.8 50.4 36.3 50.6 33.1 51.2C29.9 51.8 24.3 52.6 20.4 52.9C16.4 53.2 12.4 52.5 9.4 52.9C6.4 53.2 3.5 56.3 2.6 55C1.7 53.7 3.6 48.3 3.9 45.3C4.2 42.3 4.1 38.9 4.3 36.8C4.5 34.7 4.1 32.7 5.1 32.6Z" fill="#a66428" filter="url(#bc)"/>
<circle cx="38" cy="18" r="5" fill="#d08c30" opacity="0.35" filter="url(#b2)"/>
<circle cx="18" cy="45" r="6" fill="#d08c30" opacity="0.35" filter="url(#b2)"/>
<clipPath id="ec12"><path d="M43.7 2.1C44.8 1.8 44.8 4 44.9 6.3C45 8.6 44 12.3 44.5 15.6C45 18.9 48.4 23.5 47.9 25.8C47.4 28.1 44 28.2 41.5 29.2C39 30.2 35.9 30.7 33.1 31.7C30.3 32.7 27.4 34 24.6 35.1C21.8 36.2 16.7 38.9 16.1 38.5C15.5 38.1 19.5 35 21.2 32.6C22.9 30.2 24.5 26.9 26.3 24.1C28.1 21.3 30.2 18.3 32.2 15.6C34.2 12.9 36.3 10.2 38.2 8C40.1 5.8 42.6 2.4 43.7 2.1Z"/><path d="M5.1 32.6C6.1 32.5 8.4 34.9 10.2 36C12 37.1 13.7 38.2 16.1 39.3C18.5 40.4 21.8 41.6 24.6 42.7C27.4 43.8 30.6 45 33.1 46.1C35.6 47.2 39.8 48.6 39.8 49.5C39.8 50.4 36.3 50.6 33.1 51.2C29.9 51.8 24.3 52.6 20.4 52.9C16.4 53.2 12.4 52.5 9.4 52.9C6.4 53.2 3.5 56.3 2.6 55C1.7 53.7 3.6 48.3 3.9 45.3C4.2 42.3 4.1 38.9 4.3 36.8C4.5 34.7 4.1 32.7 5.1 32.6Z"/></clipPath>
<g opacity="0.5" clip-path="url(#ec12)">
<path d="M7.8 4.4h0M52.7 14.3h0M46.8 41.9h0M45.8 47.9h0M15.8 46.7h0M32.1 3.9h0M48 48.8h0M16.9 31.9h0M11 39.9h0M18.9 5.9h0M42.1 33.5h0M28.7 36h0M25.6 52h0M38.9 12.7h0M37.9 2.7h0M34.9 49.9h0M31 19.9h0M38.4 13.5h0M18.7 21.2h0M23.1 13.5h0M44.5 5.6h0M45.3 18.8h0M45.2 24.4h0M40.1 5.4h0M41.9 50.3h0M15.5 31.4h0M24.9 13.3h0M46.1 25.5h0M39.7 41.3h0M46.5 30.4h0M25.4 41.8h0M43.7 4.8h0M44.2 12.1h0M44 1.1h0M46.5 1.8h0M4 15.7h0M3 40.8h0M20.6 36.7h0M23 3.3h0M23.2 40.2h0M45.1 52.8h0M17.5 19.5h0M30.8 3.8h0M40.9 54.5h0M43.4 3.9h0M10.2 40.7h0M12.9 54.8h0M47.8 6.2h0M27.6 6.9h0M26.7 1.7h0M18.4 49h0M4.5 25h0M23.8 8.7h0M27.8 40.8h0M21.3 33.1h0M39.7 38.9h0M12.6 34.3h0M23.5 46.3h0M27 13.8h0M4.5 40.5h0M9.8 19.7h0M45.9 1.4h0M14.4 33.3h0M26.4 46.8h0M47.2 39.7h0M19.3 50.2h0M6.1 18.7h0M19.9 34h0M3.2 49.4h0M34.6 12.5h0M36.3 6.8h0M23.3 10.4h0M24.4 4.2h0M19.2 38.1h0M6.6 3.2h0M31 24.4h0M53.2 31.6h0M17.5 48.2h0M8.9 30.8h0M31.3 25.8h0M25 24.6h0M32.5 17.5h0M24 6.4h0M16.9 45.5h0M23.3 8.1h0M20.9 44.1h0M26.6 50.1h0M39.5 54.4h0M41.8 42h0M45.9 12.7h0M21.9 37.2h0M49.5 34.3h0M29 31.9h0M27.5 4.6h0M20.4 12.7h0M50.4 53.3h0M26.5 11.4h0M30.6 46.1h0M34.9 31.5h0M51.2 21.1h0M43.5 48.6h0M13.8 46h0M32.7 29.2h0M24.2 22.5h0M50.5 2.7h0M22.8 3.2h0M33.3 54.9h0M21.9 34h0M41.8 2.5h0M53.7 42.1h0" stroke="#e8a040" stroke-width="2.0" stroke-linecap="round" fill="none" filter="url(#b1)"/>
</g>
<text x="54.5" y="54.8" font-size="6.2" text-anchor="end" fill="#fff" font-weight="bold">20μm</text>
<rect x="36.6" y="56.2" width="19.3" height="1.5" fill="#fff" stroke="none" stroke-width="1"/>
</svg>
<path d="M240.2 689L240.2 608.7" stroke="#231f20" stroke-width="0.7" fill="none"/>
<path d="M240.2 689L320.5 689" stroke="#231f20" stroke-width="0.7" fill="none"/>
<path d="M237.3 689L240.2 689" stroke="#231f20" stroke-width="0.7" fill="none"/>
<text x="236.8" y="692.2" font-size="9" text-anchor="end">0</text>
<path d="M237.3 672.9L240.2 672.9" stroke="#231f20" stroke-width="0.7" fill="none"/>
<text x="236.8" y="676.1" font-size="9" text-anchor="end">10</text>
<path d="M237.3 656.9L240.2 656.9" stroke="#231f20" stroke-width="0.7" fill="none"/>
<text x="236.8" y="660.1" font-size="9" text-anchor="end">20</text>
<path d="M237.3 640.8L240.2 640.8" stroke="#231f20" stroke-width="0.7" fill="none"/>
<text x="236.8" y="644" font-size="9" text-anchor="end">30</text>
<path d="M237.3 624.8L240.2 624.8" stroke="#231f20" stroke-width="0.7" fill="none"/>
<text x="236.8" y="628" font-size="9" text-anchor="end">40</text>
<path d="M237.3 608.7L240.2 608.7" stroke="#231f20" stroke-width="0.7" fill="none"/>
<text x="236.8" y="611.9" font-size="9" text-anchor="end">50</text>
<rect x="251.2" y="664.1" width="22.9" height="24.9" fill="#ecfac4" stroke="#231f20" stroke-width="0.6"/>
<rect x="251.2" y="652.5" width="22.9" height="11.6" fill="#ebbac0" stroke="#231f20" stroke-width="0.6"/>
<path d="M262.6 664.1L262.6 661.2" stroke="#231f20" stroke-width="0.6" fill="none"/>
<path d="M260.1 661.2L265.1 661.2" stroke="#231f20" stroke-width="0.6" fill="none"/>
<path d="M262.6 652.5L262.6 648" stroke="#231f20" stroke-width="0.6" fill="none"/>
<path d="M260.1 648L265.1 648" stroke="#231f20" stroke-width="0.6" fill="none"/>
<path d="M262.6 689L262.6 691.2" stroke="#231f20" stroke-width="0.7" fill="none"/>
<rect x="286.4" y="648" width="22.9" height="41" fill="#ecfac4" stroke="#231f20" stroke-width="0.6"/>
<rect x="286.4" y="641.9" width="22.9" height="6.1" fill="#ebbac0" stroke="#231f20" stroke-width="0.6"/>
<path d="M297.8 648L297.8 641.9" stroke="#231f20" stroke-width="0.6" fill="none"/>
<path d="M295.3 641.9L300.3 641.9" stroke="#231f20" stroke-width="0.6" fill="none"/>
<path d="M297.8 641.9L297.8 637.3" stroke="#231f20" stroke-width="0.6" fill="none"/>
<path d="M295.3 637.3L300.3 637.3" stroke="#231f20" stroke-width="0.6" fill="none"/>
<path d="M297.8 689L297.8 691.2" stroke="#231f20" stroke-width="0.7" fill="none"/>
<path d="M274.1 652.5L286.4 641.9" stroke="#231f20" stroke-width="1.1" fill="none"/>
<path d="M274.1 664.1L286.4 648" stroke="#231f20" stroke-width="1.1" fill="none"/>
<text x="274.5" y="648.2" font-size="7">**</text>
<text x="275.5" y="667.5" font-size="7">***</text>
<rect x="253.7" y="603.5" width="7.4" height="7.1" fill="#ecfac4" stroke="#231f20" stroke-width="0.5"/>
<rect x="253.7" y="616.4" width="7.4" height="7.1" fill="#ebbac0" stroke="#231f20" stroke-width="0.5"/>
<text x="265" y="610">Autophagosomes</text>
<text x="265" y="622.9">Autolysosomes</text>
<text x="209.4" y="647.3" font-size="8.3" text-anchor="middle" transform="rotate(-90 209.4 647.3)">Autophagosomes</text>
<text x="218.2" y="647.3" font-size="8.3" text-anchor="middle" transform="rotate(-90 218.2 647.3)">&amp;Autolysosomes/cell</text>
<text x="262.6" y="702.2" font-size="8.5" text-anchor="middle">NC</text>
<text x="297.9" y="702.2" font-size="8.5" text-anchor="middle">CD147OE</text>
<path d="M380.3 687.8L380.3 621" stroke="#231f20" stroke-width="0.7" fill="none"/>
<path d="M380.3 687.8L455 687.8" stroke="#231f20" stroke-width="0.7" fill="none"/>
<path d="M377.4 687.8L380.3 687.8" stroke="#231f20" stroke-width="0.7" fill="none"/>
<text x="376.8" y="691" font-size="9" text-anchor="end">0</text>
<path d="M377.4 671.1L380.3 671.1" stroke="#231f20" stroke-width="0.7" fill="none"/>
<text x="376.8" y="674.3" font-size="9" text-anchor="end">10</text>
<path d="M377.4 654.5L380.3 654.5" stroke="#231f20" stroke-width="0.7" fill="none"/>
<text x="376.8" y="657.7" font-size="9" text-anchor="end">20</text>
<path d="M377.4 637.8L380.3 637.8" stroke="#231f20" stroke-width="0.7" fill="none"/>
<text x="376.8" y="641" font-size="9" text-anchor="end">30</text>
<path d="M377.4 621.1L380.3 621.1" stroke="#231f20" stroke-width="0.7" fill="none"/>
<text x="376.8" y="624.3" font-size="9" text-anchor="end">40</text>
<rect x="385.3" y="661.1" width="9.3" height="26.7" fill="#b4cdf0" stroke="#9a9a9a" stroke-width="0.5"/>
<path d="M389.9 658.6L389.9 665.3" stroke="#231f20" stroke-width="0.6" fill="none"/>
<circle cx="389.9" cy="658.6" r="1.35" fill="#000"/>
<circle cx="388.3" cy="660.8" r="1.35" fill="#000"/>
<circle cx="391.6" cy="665.3" r="1.35" fill="#000"/>
<rect x="398.7" y="648.6" width="9.3" height="39.2" fill="#ecb9bd" stroke="#9a9a9a" stroke-width="0.5"/>
<path d="M403.3 646.1L403.3 652.8" stroke="#231f20" stroke-width="0.6" fill="none"/>
<circle cx="403.3" cy="646.1" r="1.35" fill="#000"/>
<circle cx="401.7" cy="647" r="1.35" fill="#000"/>
<circle cx="404.9" cy="652.8" r="1.35" fill="#000"/>
<rect x="421.4" y="644.5" width="9.3" height="43.3" fill="#b4cdf0" stroke="#9a9a9a" stroke-width="0.5"/>
<path d="M426 638.6L426 652" stroke="#231f20" stroke-width="0.6" fill="none"/>
<circle cx="426" cy="638.6" r="1.35" fill="#000"/>
<circle cx="424.4" cy="642.8" r="1.35" fill="#000"/>
<circle cx="427.6" cy="652" r="1.35" fill="#000"/>
<rect x="435.1" y="638.6" width="9.3" height="49.2" fill="#ecb9bd" stroke="#9a9a9a" stroke-width="0.5"/>
<path d="M439.8 636.1L439.8 639.1" stroke="#231f20" stroke-width="0.6" fill="none"/>
<circle cx="439.8" cy="636.1" r="1.35" fill="#000"/>
<circle cx="438.1" cy="639.1" r="1.35" fill="#000"/>
<circle cx="441.4" cy="639.1" r="1.35" fill="#000"/>
<path d="M396.7 687.8L396.7 690" stroke="#231f20" stroke-width="0.7" fill="none"/>
<path d="M433 687.8L433 690" stroke="#231f20" stroke-width="0.7" fill="none"/>
<path d="M390 658.5L390 629.4L426 629.4L426 633.6" stroke="#231f20" stroke-width="0.9" fill="none"/>
<path d="M403.3 629.4L403.3 621.3L439.6 621.3L439.6 632.8" stroke="#231f20" stroke-width="0.9" fill="none"/>
<text x="409.5" y="630.2" font-size="7" text-anchor="middle">***</text>
<text x="422.2" y="622.3" font-size="7" text-anchor="middle">**</text>
<rect x="380.3" y="604.2" width="6.7" height="5.9" fill="#b4cdf0" stroke="#231f20" stroke-width="0.5"/>
<rect x="417.5" y="604.2" width="6.7" height="5.9" fill="#ecb9bd" stroke="#231f20" stroke-width="0.5"/>
<text x="390.7" y="610">GFP</text>
<text x="427.6" y="610">mRFP</text>
<text x="360.1" y="652.9" text-anchor="middle" transform="rotate(-90 360.1 652.9)">Dots/cell</text>
<text x="395.4" y="702.4" font-size="8.5" text-anchor="middle">NC</text>
<text x="433.2" y="702.4" font-size="8.5" text-anchor="middle">CD147OE</text>
<text x="468.5" y="534.6" font-size="11.5" fill="#000" font-weight="bold">H</text>
<text x="496" y="541.6">A549</text>
<text x="523" y="541.6">NC</text>
<text x="529.8" y="626.4" text-anchor="middle">CD147OE</text>
<svg x="488" y="545.3" width="89" height="73.3" overflow="hidden">
<rect x="0" y="0" width="89" height="73.3" fill="#8e8e8e" stroke="none" stroke-width="1"/>
<rect width="89.0" height="73.3" fill="#000" opacity="0.3" filter="url(#txl)"/>
<rect width="89.0" height="73.3" fill="#000" opacity="0.38" filter="url(#tx)"/>
<rect width="89.0" height="73.3" fill="#fff" opacity="0.3" filter="url(#txw)"/>
<path d="M38 -4C29.8 -1.7 39.5 5.7 41 10C42.5 14.3 44.3 18.8 47 22C49.7 25.2 53.2 27.7 57 29C60.8 30.3 66.2 30.7 70 30C73.8 29.3 77.3 27.5 80 25C82.7 22.5 84.3 19.8 86 15C87.7 10.2 98 -0.8 90 -4C82 -7.2 46.2 -6.3 38 -4Z" fill="#7a7a7a" opacity="0.35"/>
<path d="M38 -4C29.8 -1.7 39.5 5.7 41 10C42.5 14.3 44.3 18.8 47 22C49.7 25.2 53.2 27.7 57 29C60.8 30.3 66.2 30.7 70 30C73.8 29.3 77.3 27.5 80 25C82.7 22.5 84.3 19.8 86 15C87.7 10.2 98 -0.8 90 -4C82 -7.2 46.2 -6.3 38 -4Z" fill="none" stroke="#333" stroke-width="0.9" opacity="0.8"/>
<ellipse cx="59" cy="3" rx="6" ry="4" fill="#111" filter="url(#b1)"/>
<path d="M91 31C90.2 24.2 88.2 31.7 86 33.5C83.8 35.3 80.7 39.7 78 42C75.3 44.3 72.2 45.9 70 47.5C67.8 49.1 66.4 49.5 64.5 51.4C62.6 53.3 60 56.6 58.5 59C57 61.4 56.5 63.5 55.8 66C55.1 68.5 48.6 72.7 54.5 74C60.4 75.3 84.9 81.2 91 74C97.1 66.8 91.8 37.8 91 31Z" fill="#d8d8d8"/>
<path d="M-1 60 L5 58 L8 66 L12 74 L-1 74Z" fill="#1a1a1a"/>
<ellipse cx="3" cy="52" rx="4" ry="3" fill="#e0e0e0"/>
<ellipse cx="40" cy="41" rx="2.2" ry="1.7" fill="#111"/>
<ellipse cx="13.5" cy="47" rx="1.3" ry="1.2" fill="#111"/>
<ellipse cx="11" cy="64" rx="1.5" ry="1.5" fill="#222"/>
<path d="M5 30Q15.0 27 25 34" stroke="#e6e6e6" stroke-width="0.9" fill="none" opacity="0.8"/>
<path d="M20 40Q35.0 37 50 44" stroke="#e6e6e6" stroke-width="0.9" fill="none" opacity="0.8"/>
<path d="M30 50Q42.5 47 55 46" stroke="#e6e6e6" stroke-width="0.9" fill="none" opacity="0.8"/>
<path d="M10 44Q20.0 41 30 42" stroke="#e6e6e6" stroke-width="0.9" fill="none" opacity="0.8"/>
<circle cx="44" cy="47" r="2.5" fill="none" stroke="#ddd" stroke-width="0.7"/>
<circle cx="4" cy="28" r="2.5" fill="none" stroke="#ddd" stroke-width="0.7"/>
<circle cx="18" cy="52" r="2.5" fill="none" stroke="#ddd" stroke-width="0.7"/>
<rect x="12.3" y="36.8" width="43.4" height="33.3" fill="none" stroke="#e03c3c" stroke-width="0.8"/>
<path d="M22 44L17.5 47.5" stroke="#4aa8e8" stroke-width="0.9" fill="none"/>
<path d="M32 47L37 44" stroke="#e83030" stroke-width="0.9" fill="none"/>
<text x="85" y="68.1" font-size="6.5" text-anchor="end">3μm</text>
<rect x="72" y="70.8" width="14" height="1.3" fill="#111" stroke="none" stroke-width="1"/>
<path d="M83.7 53.9h0M87.1 49.6h0M82.4 60.7h0M61.9 57.7h0M82 55.6h0M61.3 52.5h0M68.7 67.8h0M69.1 55.8h0M66.6 67.8h0M85.7 50.2h0M76.2 71.2h0M87.9 46.9h0M87.4 63.2h0M65.8 69h0" stroke="#333" stroke-width="0.9" stroke-linecap="round" fill="none"/>
</svg>
<svg x="578.4" y="545.3" width="89.2" height="73.3" overflow="hidden">
<rect x="0" y="0" width="89.2" height="73.3" fill="#8e8e8e" stroke="none" stroke-width="1"/>
<rect width="89.2" height="73.3" fill="#000" opacity="0.3" filter="url(#txl)"/>
<rect width="89.2" height="73.3" fill="#000" opacity="0.38" filter="url(#tx)"/>
<rect width="89.2" height="73.3" fill="#fff" opacity="0.3" filter="url(#txw)"/>
<path d="M-1 51C0.2 47.7 3.4 53.6 6 55C8.6 56.4 11.6 58.3 14.6 59.5C17.6 60.7 20.9 61.3 24 62C27.1 62.7 29.7 62.9 33.5 63.6C37.3 64.3 43.4 66.1 47 66.3C50.6 66.5 52.3 65 55 64.5C57.7 64 60.4 63.4 63.2 63.6C66 63.8 69.3 65.3 72 65.5C74.7 65.7 76.2 65.3 79.4 65C82.6 64.7 89.1 61.9 91 63.6C92.9 65.3 106.3 73.1 91 75C75.7 76.9 14.3 79 -1 75C-16.3 71 -2.2 54.3 -1 51Z" fill="#d8d8d8"/>
<circle cx="14" cy="68" r="1.8" fill="#777"/>
<circle cx="22" cy="71" r="1.6" fill="#777"/>
<circle cx="38" cy="70" r="1.8" fill="#777"/>
<circle cx="52" cy="70" r="2" fill="#777"/>
<circle cx="62" cy="71.5" r="1.5" fill="#777"/>
<circle cx="72" cy="71" r="1.5" fill="#777"/>
<circle cx="30" cy="67" r="1.3" fill="#777"/>
<circle cx="84" cy="70" r="1.4" fill="#777"/>
<ellipse cx="81.3" cy="18" rx="5" ry="3.6" fill="#111" filter="url(#b1)"/>
<ellipse cx="10.3" cy="38.2" rx="3" ry="3" fill="#111" filter="url(#b1)"/>
<ellipse cx="3" cy="70" rx="2.5" ry="2.5" fill="#222"/>
<ellipse cx="30.3" cy="42.8" rx="3.4" ry="3.8" fill="#cfcfcf" opacity="0.9"/>
<ellipse cx="38" cy="27" rx="6" ry="4" fill="#666" opacity="0.5"/>
<path d="M10 10Q35.0 6 60 20" stroke="#e0e0e0" stroke-width="1.2" fill="none" opacity="0.6"/>
<path d="M30 46Q55.0 42 80 40" stroke="#e0e0e0" stroke-width="1.2" fill="none" opacity="0.6"/>
<path d="M55 5Q67.5 1 80 8" stroke="#e0e0e0" stroke-width="1.2" fill="none" opacity="0.6"/>
<path d="M20 30Q32.5 26 45 36" stroke="#e0e0e0" stroke-width="1.2" fill="none" opacity="0.6"/>
<path d="M23.5 18.9L16.5 25.8" stroke="#46a8ec" stroke-width="1.3" fill="none"/>
<path d="M15.2 24.1L15.6 26.8L18.2 26.4" stroke="#46a8ec" stroke-width="1.0" fill="none"/>
<path d="M67.3 38.2L75.5 30.8" stroke="#ec3030" stroke-width="1.3" fill="none"/>
<path d="M73 30.5L76 30.3L75.7 33.2" stroke="#ec3030" stroke-width="1.0" fill="none"/>
<text x="85.2" y="68.1" font-size="6.5" text-anchor="end">1μm</text>
<rect x="72.2" y="70.8" width="14" height="1.3" fill="#111" stroke="none" stroke-width="1"/>
</svg>
<svg x="488" y="629" width="89" height="72.7" overflow="hidden">
<rect x="0" y="0" width="89" height="72.7" fill="#8e8e8e" stroke="none" stroke-width="1"/>
<rect width="89.0" height="72.7" fill="#000" opacity="0.3" filter="url(#txl)"/>
<rect width="89.0" height="72.7" fill="#000" opacity="0.38" filter="url(#tx)"/>
<rect width="89.0" height="72.7" fill="#fff" opacity="0.3" filter="url(#txw)"/>
<path d="M-1 -1C-16.3 3.2 -2.5 21.5 -1 24.4C0.5 27.3 4.5 18.8 7.8 16.3C11.1 13.8 15 11.3 18.6 9.5C22.2 7.7 25.8 6.6 29.4 5.5C33 4.4 36.6 3.4 40.2 2.8C43.8 2.2 47.4 1.4 51 1.9C54.6 2.4 58.4 3.8 61.8 5.5C65.2 7.2 68.6 9.7 71.3 12.2C74 14.7 76.4 16.7 78 20.3C79.6 23.9 80 28.8 80.7 33.8C81.4 38.8 81.5 45 82 50C82.5 55 82.7 59.5 83.4 63.5C84.1 67.5 84.7 72.2 86 74C87.3 75.8 90.2 86.5 91 74C91.8 61.5 106.3 11.5 91 -1C75.7 -13.5 14.3 -5.2 -1 -1Z" fill="#d8d8d8"/>
<circle cx="65.2" cy="3.9" r="3.6" fill="#8a8a8a"/>
<path d="M13.8 16.6h0M87 31.5h0M75.7 13.8h0M87.5 37.8h0M61.7 1.6h0M79.2 18.6h0M19.9 12.9h0M80.1 32.3h0M16.9 8.2h0M86.7 25.3h0M72.2 4h0M41 2.3h0M27 6.8h0M87.5 34.2h0M23 1.1h0M87.8 2.7h0M6.3 14.1h0M85.8 31h0M6.5 19.1h0M76.5 34h0M3 0.6h0M85.7 34.1h0M87.9 1.4h0M20.4 9h0M17.8 0.7h0M21.2 0.6h0M70.4 0.4h0M48.9 1.8h0" stroke="#555" stroke-width="1.1" stroke-linecap="round" fill="none"/>
<circle cx="22.9" cy="63.3" r="1.8" fill="#bdbdbd" opacity="0.7"/>
<circle cx="71.5" cy="32.2" r="1.6" fill="#bdbdbd" opacity="0.7"/>
<circle cx="28.8" cy="55.9" r="2.4" fill="#bdbdbd" opacity="0.7"/>
<circle cx="20" cy="63" r="2.3" fill="#bdbdbd" opacity="0.7"/>
<circle cx="43.1" cy="59.4" r="1.7" fill="#bdbdbd" opacity="0.7"/>
<circle cx="60.2" cy="67.5" r="1.8" fill="#bdbdbd" opacity="0.7"/>
<circle cx="42.4" cy="27" r="2.9" fill="#bdbdbd" opacity="0.7"/>
<circle cx="64.8" cy="21.6" r="2.2" fill="#bdbdbd" opacity="0.7"/>
<circle cx="7.4" cy="20.6" r="2.1" fill="#bdbdbd" opacity="0.7"/>
<circle cx="73.9" cy="56.9" r="2.6" fill="#bdbdbd" opacity="0.7"/>
<circle cx="11.6" cy="56.3" r="2.6" fill="#bdbdbd" opacity="0.7"/>
<circle cx="50.1" cy="38.8" r="2.3" fill="#bdbdbd" opacity="0.7"/>
<circle cx="52" cy="45.5" r="2.3" fill="#bdbdbd" opacity="0.7"/>
<circle cx="46.7" cy="54.7" r="1.7" fill="#bdbdbd" opacity="0.7"/>
<circle cx="69.3" cy="48.5" r="2" fill="#bdbdbd" opacity="0.7"/>
<circle cx="10.9" cy="28.8" r="2.9" fill="#bdbdbd" opacity="0.7"/>
<ellipse cx="42" cy="58" rx="2" ry="2.5" fill="#222"/>
<rect x="44.5" y="26.6" width="35.5" height="28.1" fill="none" stroke="#e03c3c" stroke-width="0.8"/>
<path d="M56 34L60 32.5" stroke="#e83030" stroke-width="0.9" fill="none"/>
<path d="M66 40L70 40" stroke="#4aa8e8" stroke-width="0.9" fill="none"/>
<path d="M66 44L70 44" stroke="#4aa8e8" stroke-width="0.9" fill="none"/>
<path d="M63 45.5L66 47.5" stroke="#e83030" stroke-width="0.9" fill="none"/>
<path d="M52 47L55 45.5" stroke="#e8e830" stroke-width="0.9" fill="none"/>
<text x="85.5" y="67.7" font-size="6.5" text-anchor="end">2μm</text>
<rect x="72" y="70.2" width="14" height="1.3" fill="#111" stroke="none" stroke-width="1"/>
</svg>
<svg x="578.4" y="629" width="89.2" height="72.7" overflow="hidden">
<rect x="0" y="0" width="89.2" height="72.7" fill="#8e8e8e" stroke="none" stroke-width="1"/>
<rect width="89.2" height="72.7" fill="#000" opacity="0.3" filter="url(#txl)"/>
<rect width="89.2" height="72.7" fill="#000" opacity="0.38" filter="url(#tx)"/>
<rect width="89.2" height="72.7" fill="#fff" opacity="0.3" filter="url(#txw)"/>
<path d="M65.5 -1C61.8 2.1 68.5 11.4 68.6 17.6C68.7 23.9 65.9 31.1 65.9 36.5C65.9 41.9 67.2 46 68.6 50C69.9 54 72.2 56.8 74 60.8C75.8 64.8 76.6 71.8 79.4 74C82.2 76.2 89.1 86.5 91 74C92.9 61.5 95.2 11.5 91 -1C86.8 -13.5 69.2 -4.1 65.5 -1Z" fill="#d8d8d8"/>
<ellipse cx="70.8" cy="21.4" rx="1.3" ry="1.0" fill="#555" transform="rotate(3 70.8 21.4)"/>
<ellipse cx="83.8" cy="1.7" rx="1.3" ry="1.0" fill="#555" transform="rotate(131 83.8 1.7)"/>
<ellipse cx="76.1" cy="41.9" rx="1.3" ry="1.0" fill="#555" transform="rotate(112 76.1 41.9)"/>
<ellipse cx="85.8" cy="10" rx="1.3" ry="1.0" fill="#555" transform="rotate(101 85.8 10)"/>
<ellipse cx="69.9" cy="33" rx="1.3" ry="1.0" fill="#555" transform="rotate(73 69.9 33)"/>
<ellipse cx="86.5" cy="39.3" rx="1.3" ry="1.0" fill="#555" transform="rotate(28 86.5 39.3)"/>
<ellipse cx="77.8" cy="36.9" rx="1.3" ry="1.0" fill="#555" transform="rotate(180 77.8 36.9)"/>
<ellipse cx="75.9" cy="28.2" rx="1.3" ry="1.0" fill="#555" transform="rotate(7 75.9 28.2)"/>
<ellipse cx="72.3" cy="56.8" rx="1.3" ry="1.0" fill="#555" transform="rotate(39 72.3 56.8)"/>
<ellipse cx="69.7" cy="35.1" rx="1.3" ry="1.0" fill="#555" transform="rotate(145 69.7 35.1)"/>
<ellipse cx="67.2" cy="19.1" rx="1.3" ry="1.0" fill="#555" transform="rotate(60 67.2 19.1)"/>
<ellipse cx="83.2" cy="21.9" rx="1.3" ry="1.0" fill="#555" transform="rotate(121 83.2 21.9)"/>
<ellipse cx="80.9" cy="51" rx="1.3" ry="1.0" fill="#555" transform="rotate(103 80.9 51)"/>
<ellipse cx="87.4" cy="13.2" rx="1.3" ry="1.0" fill="#555" transform="rotate(144 87.4 13.2)"/>
<ellipse cx="67.9" cy="26.8" rx="1.3" ry="1.0" fill="#555" transform="rotate(149 67.9 26.8)"/>
<ellipse cx="78.9" cy="52" rx="1.3" ry="1.0" fill="#555" transform="rotate(0 78.9 52)"/>
<ellipse cx="67" cy="38.9" rx="1.3" ry="1.0" fill="#555" transform="rotate(134 67 38.9)"/>
<ellipse cx="74.4" cy="57.8" rx="1.3" ry="1.0" fill="#555" transform="rotate(96 74.4 57.8)"/>
<ellipse cx="77.1" cy="34" rx="1.3" ry="1.0" fill="#555" transform="rotate(161 77.1 34)"/>
<ellipse cx="85.1" cy="55.3" rx="1.3" ry="1.0" fill="#555" transform="rotate(22 85.1 55.3)"/>
<ellipse cx="72.5" cy="5.1" rx="1.3" ry="1.0" fill="#555" transform="rotate(113 72.5 5.1)"/>
<ellipse cx="79.9" cy="20.2" rx="1.3" ry="1.0" fill="#555" transform="rotate(40 79.9 20.2)"/>
<ellipse cx="84.9" cy="44.2" rx="1.3" ry="1.0" fill="#555" transform="rotate(94 84.9 44.2)"/>
<ellipse cx="69.6" cy="13.8" rx="1.3" ry="1.0" fill="#555" transform="rotate(177 69.6 13.8)"/>
<ellipse cx="78.2" cy="27.4" rx="1.3" ry="1.0" fill="#555" transform="rotate(163 78.2 27.4)"/>
<ellipse cx="86.8" cy="12.7" rx="1.3" ry="1.0" fill="#555" transform="rotate(135 86.8 12.7)"/>
<ellipse cx="74.2" cy="12.8" rx="1.3" ry="1.0" fill="#555" transform="rotate(120 74.2 12.8)"/>
<ellipse cx="67.2" cy="46.4" rx="1.3" ry="1.0" fill="#555" transform="rotate(45 67.2 46.4)"/>
<ellipse cx="77.1" cy="46.6" rx="1.3" ry="1.0" fill="#555" transform="rotate(80 77.1 46.6)"/>
<ellipse cx="69.2" cy="25" rx="1.3" ry="1.0" fill="#555" transform="rotate(153 69.2 25)"/>
<ellipse cx="83" cy="10.4" rx="1.3" ry="1.0" fill="#555" transform="rotate(151 83 10.4)"/>
<ellipse cx="80.3" cy="25.5" rx="1.3" ry="1.0" fill="#555" transform="rotate(26 80.3 25.5)"/>
<ellipse cx="71.8" cy="31.8" rx="1.3" ry="1.0" fill="#555" transform="rotate(113 71.8 31.8)"/>
<ellipse cx="82.6" cy="44.1" rx="1.3" ry="1.0" fill="#555" transform="rotate(82 82.6 44.1)"/>
<ellipse cx="85.8" cy="34.4" rx="1.3" ry="1.0" fill="#555" transform="rotate(7 85.8 34.4)"/>
<ellipse cx="82" cy="19.2" rx="1.3" ry="1.0" fill="#555" transform="rotate(98 82 19.2)"/>
<ellipse cx="87" cy="5.7" rx="1.3" ry="1.0" fill="#555" transform="rotate(114 87 5.7)"/>
<ellipse cx="68.4" cy="54.6" rx="1.3" ry="1.0" fill="#555" transform="rotate(169 68.4 54.6)"/>
<ellipse cx="78.1" cy="45.6" rx="1.3" ry="1.0" fill="#555" transform="rotate(55 78.1 45.6)"/>
<ellipse cx="69" cy="13.4" rx="1.3" ry="1.0" fill="#555" transform="rotate(175 69 13.4)"/>
<ellipse cx="73.8" cy="35.8" rx="1.3" ry="1.0" fill="#555" transform="rotate(161 73.8 35.8)"/>
<ellipse cx="87.1" cy="43.2" rx="1.3" ry="1.0" fill="#555" transform="rotate(137 87.1 43.2)"/>
<ellipse cx="81.5" cy="54.1" rx="1.3" ry="1.0" fill="#555" transform="rotate(38 81.5 54.1)"/>
<ellipse cx="82.6" cy="10.4" rx="1.3" ry="1.0" fill="#555" transform="rotate(45 82.6 10.4)"/>
<ellipse cx="69.1" cy="5.6" rx="1.3" ry="1.0" fill="#555" transform="rotate(143 69.1 5.6)"/>
<circle cx="9.5" cy="32.4" r="5" fill="#c8c8c8"/>
<circle cx="17.8" cy="32.4" r="5" fill="#c4c4c4"/>
<ellipse cx="25" cy="48" rx="3" ry="3" fill="#bbb" opacity="0.7"/>
<ellipse cx="30" cy="30" rx="4" ry="3" fill="#666" opacity="0.6"/>
<path d="M7 24.3L17.5 24.3" stroke="#ec3030" stroke-width="1.4" fill="none"/>
<path d="M15.5 22.5L18.5 24.3L15.5 26.1" stroke="#ec3030" stroke-width="1.0" fill="#ec3030"/>
<path d="M52.4 35.1L42.5 35.1" stroke="#46a8ec" stroke-width="1.4" fill="none"/>
<path d="M44.5 33.3L41.5 35.1L44.5 36.9" stroke="#46a8ec" stroke-width="1.0" fill="#46a8ec"/>
<path d="M59.1 47.3L49.2 47.3" stroke="#46a8ec" stroke-width="1.4" fill="none"/>
<path d="M51.2 45.5L48.2 47.3L51.2 49.1" stroke="#46a8ec" stroke-width="1.0" fill="#46a8ec"/>
<path d="M39.2 56.7L49 60.4" stroke="#ec3030" stroke-width="1.4" fill="none"/>
<path d="M47.6 58.2L50 60.8L46.5 61.6" stroke="#ec3030" stroke-width="1.0" fill="#ec3030"/>
<path d="M25.7 66.2L18.6 68.6" stroke="#f0e830" stroke-width="1.4" fill="none"/>
<path d="M19.6 66.4L17.6 68.9L20.8 70" stroke="#f0e830" stroke-width="1.0" fill="#f0e830"/>
<text x="85.2" y="67.5" font-size="6.5" text-anchor="end">1μm</text>
<rect x="72.2" y="70.2" width="14" height="1.3" fill="#111" stroke="none" stroke-width="1"/>
</svg>
<text x="0.5" y="719.9" font-size="11.5" fill="#000" font-weight="bold">F</text>
<text x="4.2" y="733.2">A549</text>
<text x="48.5" y="733.2" text-anchor="middle" fill="#e8262a">CD63</text>
<text x="105" y="733.2" text-anchor="middle" fill="#3cb54a">LC3</text>
<text x="161" y="733.2" text-anchor="middle" fill="#3d6fc5">DAPI</text>
<text x="216" y="733.2" text-anchor="middle">Merge</text>
<text x="19.7" y="767" text-anchor="middle" transform="rotate(-90 19.7 767)">NC</text>
<text x="19.7" y="827" text-anchor="middle" transform="rotate(-90 19.7 827)">CD147OE</text>
<rect x="22" y="735.5" width="278" height="121" fill="#d8d8d8" stroke="none" stroke-width="1"/>
<svg x="23" y="736.2" width="54.3" height="59.8" overflow="hidden">
<rect x="0" y="0" width="54.3" height="59.8" fill="#000" stroke="none" stroke-width="1"/>
<path d="M32.2 6h0M27.8 11.2h0M15.2 23.3h0M15.5 18.5h0M38 7.1h0M34.1 7.4h0M38.9 4h0M24.6 9.9h0M10 24.3h0M22.3 12.5h0" stroke="#781010" stroke-width="1.0" stroke-linecap="round" fill="none"/>
<path d="M28.6 6.7h0" stroke="#dc2828" stroke-width="0.5" stroke-linecap="round" fill="none"/>
<path d="M21.4 10.4h0M13.5 22.4h0M33.2 10.1h0M20 17.9h0M3.2 27.1h0" stroke="#dc2828" stroke-width="1.5" stroke-linecap="round" fill="none"/>
<path d="M33.3 3.6h0M19.6 13.8h0M30.7 6.5h0M25.8 7h0M28.4 6.1h0M31.9 5.5h0M20.4 10.5h0M15 21.5h0M6 26.2h0M12.7 17.8h0" stroke="#c01c1c" stroke-width="1.0" stroke-linecap="round" fill="none"/>
<path d="M14.3 13h0M40.6 6.5h0M4.1 24.2h0M37.8 7.7h0M16.4 21.9h0M13.5 13.7h0M26 8.3h0M11.3 22.5h0M8 24.6h0M8.9 26.4h0M33 7.5h0M0.3 25.4h0M11.7 23.5h0M23.5 12.2h0" stroke="#dc2828" stroke-width="1.0" stroke-linecap="round" fill="none"/>
<path d="M26.1 10.4h0M2.9 27.9h0M7.8 26h0M15.2 19.9h0M41.2 2h0M32.9 4.4h0" stroke="#781010" stroke-width="1.5" stroke-linecap="round" fill="none"/>
<path d="M36 3h0M19.1 11.1h0M33 8h0M33.5 2.5h0" stroke="#9a1414" stroke-width="1.5" stroke-linecap="round" fill="none"/>
<path d="M6.4 24.2h0M24.7 8.6h0M14.1 16.6h0M17.1 19.1h0M35.7 4.3h0M37.3 2.5h0M30.2 11.2h0" stroke="#9a1414" stroke-width="1.0" stroke-linecap="round" fill="none"/>
<path d="M29.6 6.6h0M21.5 10.7h0" stroke="#c01c1c" stroke-width="0.5" stroke-linecap="round" fill="none"/>
<path d="M18.7 10.4h0" stroke="#781010" stroke-width="0.5" stroke-linecap="round" fill="none"/>
<path d="M43 32.4h0M51.6 36.4h0M43.3 30.3h0M23.6 42h0M50.2 34.5h0M15.2 48.8h0M23.9 41.2h0M18.7 44.7h0M52.4 36.3h0M25.7 43.7h0M46 31h0M50.8 38.7h0M26.1 43.4h0M50.7 36.5h0M25 43.4h0" stroke="#9a1414" stroke-width="1.0" stroke-linecap="round" fill="none"/>
<path d="M49.3 37.1h0M23.6 40.9h0M41 34.3h0M16.6 45.6h0M17.3 44.8h0M52.4 35.3h0M47.9 31.7h0M44 33.3h0M14.3 49.8h0M39.3 33.1h0" stroke="#dc2828" stroke-width="1.0" stroke-linecap="round" fill="none"/>
<path d="M50.4 34.9h0M40.5 33.9h0M53.5 37.7h0M39.3 35.7h0M50.5 39.3h0M45.1 34.5h0" stroke="#c01c1c" stroke-width="1.0" stroke-linecap="round" fill="none"/>
<path d="M42.3 33h0M50.8 39.4h0M47.1 34.7h0M39.3 33.6h0M20.8 44.8h0M22.2 43h0M48.2 33.1h0M18.7 49h0" stroke="#781010" stroke-width="1.0" stroke-linecap="round" fill="none"/>
<path d="M48.6 39.8h0M37.1 36.2h0M17.5 48.2h0M29 38h0M39 32.1h0" stroke="#781010" stroke-width="0.5" stroke-linecap="round" fill="none"/>
<path d="M33 35.7h0M18.7 48h0M24.8 41.3h0M26.5 39.7h0M47.3 31.7h0M44.2 32.4h0M51.1 35.1h0" stroke="#9a1414" stroke-width="0.5" stroke-linecap="round" fill="none"/>
<path d="M16.9 50.8h0M34.5 36.1h0M30.9 38.5h0" stroke="#dc2828" stroke-width="0.5" stroke-linecap="round" fill="none"/>
<path d="M13.9 49.6h0" stroke="#c01c1c" stroke-width="0.5" stroke-linecap="round" fill="none"/>
<path d="M23.7 51.3h0M43.3 43.4h0M12.3 52.5h0M17.5 16.5h0M43 18.3h0M42.5 20.5h0M17.5 8.1h0" stroke="#dc2828" stroke-width="1.0" stroke-linecap="round" fill="none"/>
<path d="M25.4 39.2h0M36.2 47.1h0M46.7 6.1h0" stroke="#c01c1c" stroke-width="0.5" stroke-linecap="round" fill="none"/>
<path d="M40.3 40.2h0M12.3 19.8h0M45.4 34.8h0M18.6 51.1h0M52.1 46.4h0M9.6 11h0M6.9 7.1h0M6.4 14.6h0M53.7 26h0M29.6 40.2h0M46.6 34.3h0" stroke="#781010" stroke-width="1.0" stroke-linecap="round" fill="none"/>
<path d="M10.1 12.1h0M29.3 33.1h0" stroke="#c01c1c" stroke-width="1.0" stroke-linecap="round" fill="none"/>
<path d="M7.5 34.1h0M52.4 37.8h0M9 53h0M4.8 58h0M14.9 46.4h0M7.7 16.6h0" stroke="#781010" stroke-width="0.5" stroke-linecap="round" fill="none"/>
<path d="M16.1 38.6h0M6.3 35.5h0M47 3h0" stroke="#9a1414" stroke-width="0.5" stroke-linecap="round" fill="none"/>
<path d="M10.5 2.6h0M31.8 9.6h0M30.5 51.7h0M44 55.8h0" stroke="#9a1414" stroke-width="1.0" stroke-linecap="round" fill="none"/>
<path d="M6.8 16h0M16.1 31.8h0M24 56.1h0M2.7 46.1h0" stroke="#dc2828" stroke-width="0.5" stroke-linecap="round" fill="none"/>
<path d="M37.6 56.1h0M52 41.9h0M47.9 36.9h0" stroke="#f04040" stroke-width="2.0" stroke-linecap="round" fill="none"/>
<path d="M33.3 2.9h0M14 54.4h0M39.3 57.6h0" stroke="#f04040" stroke-width="1.5" stroke-linecap="round" fill="none"/>
<text x="52.1" y="56.2" font-size="5.3" text-anchor="end" fill="#fff" font-weight="bold">5μm</text>
<rect x="40.8" y="57.3" width="11.8" height="1.1" fill="#fff" stroke="none" stroke-width="1"/>
</svg>
<svg x="78.1" y="736.2" width="54.3" height="59.8" overflow="hidden">
<rect x="0" y="0" width="54.3" height="59.8" fill="#000" stroke="none" stroke-width="1"/>
<path d="M34.7 46.8h0M40.5 49.6h0M17.2 44.5h0M5.9 53.4h0" stroke="#1e961e" stroke-width="1.0" stroke-linecap="round" fill="none"/>
<path d="M30.1 54h0M41.4 34.7h0M50.5 50.7h0M5.8 53h0M24.9 40.6h0M48.4 0.9h0M27.1 24.3h0M48 14.8h0M13.6 24.2h0" stroke="#28b028" stroke-width="1.0" stroke-linecap="round" fill="none"/>
<path d="M11 4.6h0M1.5 52.7h0M49 21.8h0M42.4 48.2h0" stroke="#187a18" stroke-width="1.0" stroke-linecap="round" fill="none"/>
<path d="M29.8 15.8h0M52.7 7.5h0M44.3 53.8h0M11.7 35.9h0M50.8 43.2h0M50.3 42h0M49.9 9.5h0" stroke="#28b028" stroke-width="0.5" stroke-linecap="round" fill="none"/>
<path d="M17.1 35.7h0M10.4 14.3h0M35.3 43.1h0M5.3 10.7h0M37.1 38.3h0M40.5 43.3h0M31.9 31h0" stroke="#187a18" stroke-width="0.5" stroke-linecap="round" fill="none"/>
<path d="M23.7 36.6h0M38.1 31.8h0M31.5 24.7h0M19.7 24.7h0M53.5 48.8h0M46.5 18.4h0M33.4 16.1h0M1.3 54.4h0M28.2 31.9h0M41.5 40.2h0" stroke="#126012" stroke-width="1.0" stroke-linecap="round" fill="none"/>
<path d="M9.8 20.8h0M26.7 19.5h0M26.2 38.1h0M50.1 37.6h0M5.7 39.2h0M12.1 57.4h0M2.4 14.5h0M23.8 37h0" stroke="#1e961e" stroke-width="0.5" stroke-linecap="round" fill="none"/>
<path d="M42.9 57.9h0M5.6 14.5h0M28.1 46.5h0M36.2 41.3h0M12.4 44.9h0M35.5 23.5h0" stroke="#126012" stroke-width="0.5" stroke-linecap="round" fill="none"/>
<path d="M25.2 15.2h0M8.7 47h0M9.1 19.6h0M31.6 23.3h0M27.2 41.2h0" stroke="#30d030" stroke-width="1.5" stroke-linecap="round" fill="none"/>
<text x="52.1" y="56.2" font-size="5.3" text-anchor="end" fill="#fff" font-weight="bold">5μm</text>
<rect x="40.8" y="57.3" width="11.8" height="1.1" fill="#fff" stroke="none" stroke-width="1"/>
</svg>
<svg x="133.3" y="736.2" width="54.3" height="59.8" overflow="hidden">
<rect x="0" y="0" width="54.3" height="59.8" fill="#000" stroke="none" stroke-width="1"/>
<ellipse cx="15" cy="8" rx="10" ry="7" transform="rotate(0 15 8)" fill="#16169a" opacity="0.3" filter="url(#b1)"/>
<ellipse cx="15" cy="8" rx="9.7" ry="6.79" transform="rotate(0 15 8)" fill="none" stroke="#2828d0" stroke-width="1.04" opacity="0.36" stroke-dasharray="3 1.5 1 2" filter="url(#b05)"/>
<g opacity="0.48">
<path d="M16.2 5.2h0M10.9 3.1h0M12.3 13.2h0M18 4.8h0M19.9 7.5h0M23.8 10.9h0M24.5 8.9h0M19.8 2.2h0M9.5 6.2h0M5.2 8.4h0M20.3 6.6h0M12.6 13.5h0M13.3 4.7h0M8.9 8.1h0M13.6 1.8h0M12.1 12.1h0M24.1 8.8h0M12.4 6.7h0M10.9 8h0M8.4 10.6h0M22.1 6.7h0M12 6.7h0M20.3 3.5h0M18.9 9.8h0M17.6 10.3h0M19.6 5.5h0M20.5 13.3h0M7.3 11.6h0M13.8 7h0M24.6 9.1h0M22.4 7.8h0M20.1 5.5h0M22.6 3.5h0M11.6 4.6h0M19.3 10.2h0" stroke="#2a2ad0" stroke-width="0.9" stroke-linecap="round" fill="none"/>
</g>
<path d="M11.2 10.5L11.6 11.2M12.4 4.9L15.1 3.3M16.2 9.4L18.6 8M12.2 9.1L12.3 7.2" stroke="#2c2ce8" stroke-width="0.8" opacity="0.4" fill="none" filter="url(#b05)"/>
<ellipse cx="0" cy="27" rx="6" ry="7" transform="rotate(0 0 27)" fill="#16169a" opacity="0.45" filter="url(#b1)"/>
<ellipse cx="0" cy="27" rx="5.82" ry="6.79" transform="rotate(0 0 27)" fill="none" stroke="#3030ff" stroke-width="1.6" opacity="0.54" stroke-dasharray="3 1.5 1 2" filter="url(#b05)"/>
<g opacity="0.72">
<path d="M2.2 32.7h0M2.5 33.2h0M2.3 31h0M-2.6 30.3h0M-2.7 30.8h0M0.1 23.8h0M0.2 28.1h0M1.7 25.5h0M5.9 26.4h0M-2.4 28.6h0M1.2 33.4h0M-3.3 24.7h0M0.2 31.1h0M2 29.1h0M-0.9 24.5h0M5.1 28.7h0M2.9 25.4h0M-2.7 21.3h0M3.9 28.7h0M-2 21.1h0M1.3 22.9h0" stroke="#2a2ad0" stroke-width="0.9" stroke-linecap="round" fill="none"/>
</g>
<path d="M3.5 26.5L3.3 26.7M2.7 24.1L3.2 24.9M1.4 25L4.1 24.9M-2.9 28.7L-1.4 26.7" stroke="#2c2ce8" stroke-width="0.8" opacity="0.6" fill="none" filter="url(#b05)"/>
<ellipse cx="31" cy="46" rx="15" ry="6" transform="rotate(-25 31 46)" fill="#16169a" opacity="0.29" filter="url(#b1)"/>
<ellipse cx="31" cy="46" rx="14.549999999999999" ry="5.82" transform="rotate(-25 31 46)" fill="none" stroke="#2020c0" stroke-width="0.8" opacity="0.34" stroke-dasharray="3 1.5 1 2" filter="url(#b05)"/>
<g opacity="0.46">
<path d="M29 49.3h0M33 42.8h0M30.6 49.4h0M22.3 49h0M33.3 49.2h0M36.1 48.9h0M40.1 37.8h0M36.7 39.3h0M28 50.1h0M22.7 49.9h0M20 49.2h0M30.2 47.7h0M29.3 51h0M30.9 49.1h0M40.1 46.3h0M38.7 40.6h0M20.9 46.8h0M21.6 45.9h0M22.3 52.7h0M40.9 46.6h0M25.1 50.5h0M33.4 50.6h0M38.1 46.9h0M24.7 47.6h0M38.5 48.5h0M25 54h0M19 49.5h0M18.2 51h0M17.4 50.4h0M38.5 45.9h0M34.5 43.3h0M29.6 50.9h0M42.4 40.4h0M26.7 45.8h0M30.2 46.7h0M32.5 47.3h0M21.8 48h0M25.6 45.1h0M22.2 51.1h0M31.8 46.3h0M32.3 41.7h0M35.3 39.5h0M39.5 45.8h0M41.5 41h0M39.4 46.8h0" stroke="#2a2ad0" stroke-width="0.9" stroke-linecap="round" fill="none"/>
</g>
<path d="M29.8 44L36.4 42.1M30.7 42.6L26.9 46.4M23.5 46.7L30.1 45.4M29.7 48L23.2 50.3" stroke="#2c2ce8" stroke-width="0.8" opacity="0.38" fill="none" filter="url(#b05)"/>
<text x="52.1" y="56.2" font-size="5.3" text-anchor="end" fill="#fff" font-weight="bold">5μm</text>
<rect x="40.8" y="57.3" width="11.8" height="1.1" fill="#fff" stroke="none" stroke-width="1"/>
</svg>
<svg x="188.8" y="736.2" width="54.3" height="59.8" overflow="hidden">
<rect x="0" y="0" width="54.3" height="59.8" fill="#000" stroke="none" stroke-width="1"/>
<ellipse cx="15" cy="8" rx="10" ry="7" transform="rotate(0 15 8)" fill="#16169a" opacity="0.3" filter="url(#b1)"/>
<ellipse cx="15" cy="8" rx="9.7" ry="6.79" transform="rotate(0 15 8)" fill="none" stroke="#2828d0" stroke-width="0.8" opacity="0.36" stroke-dasharray="3 1.5 1 2" filter="url(#b05)"/>
<g opacity="0.48">
<path d="M10.6 2.9h0M8.4 10.7h0M10.7 6.1h0M18.7 12.4h0M13.2 12.6h0M17.2 9.1h0M9.6 6.8h0M14.2 5.7h0M15 2.5h0M7.2 5.4h0M15.4 4.8h0M15.7 7.1h0M16.6 4.3h0M14.2 7.6h0M14.7 8.5h0M18.5 4.7h0M9.7 6.2h0M23.3 4.1h0M12.1 9.2h0M6.8 4.1h0M6.9 6h0M15.7 6.9h0M17.3 11.4h0M10.5 9.5h0M12.3 3.9h0M13.7 12.2h0M19.5 2.6h0M22.6 10.4h0M21.3 13h0M12 14.6h0M15.9 3h0M8.8 12.7h0M19.3 5.7h0M14.5 4.8h0M12.9 2.8h0" stroke="#2a2ad0" stroke-width="0.9" stroke-linecap="round" fill="none"/>
</g>
<path d="M11.1 5.6L6.9 4.3M9.1 6.8L8.5 6.5M16.6 8.3L16.7 8.5M9.8 5.1L9.1 5.7" stroke="#2c2ce8" stroke-width="0.8" opacity="0.4" fill="none" filter="url(#b05)"/>
<ellipse cx="0" cy="27" rx="6" ry="7" transform="rotate(0 0 27)" fill="#16169a" opacity="0.38" filter="url(#b1)"/>
<ellipse cx="0" cy="27" rx="5.82" ry="6.79" transform="rotate(0 0 27)" fill="none" stroke="#3030ff" stroke-width="1.28" opacity="0.45" stroke-dasharray="3 1.5 1 2" filter="url(#b05)"/>
<g opacity="0.6">
<path d="M-3.8 26.3h0M-2.9 21h0M-3.9 26.4h0M4.8 30.2h0M-2 32.7h0M-1.4 31.8h0M-2.6 33.3h0M2.1 29.4h0M-2.8 31.2h0M2.4 32.3h0M0.2 27.9h0M-4.6 30h0M3.5 22.8h0M2.2 23.6h0M-0.1 27.2h0M-1.7 23.5h0M0.6 26.7h0M-2.1 31h0M-2.2 24.9h0M-0.8 25.6h0M2.3 25.7h0" stroke="#2a2ad0" stroke-width="0.9" stroke-linecap="round" fill="none"/>
</g>
<path d="M1.3 27.6L-0.9 28.4M-0.6 23.5L0 23.5M-1.6 27.2L-3.5 27.1M-2.6 24.3L-4 23.6" stroke="#2c2ce8" stroke-width="0.8" opacity="0.5" fill="none" filter="url(#b05)"/>
<ellipse cx="31" cy="46" rx="15" ry="6" transform="rotate(-25 31 46)" fill="#16169a" opacity="0.3" filter="url(#b1)"/>
<ellipse cx="31" cy="46" rx="14.549999999999999" ry="5.82" transform="rotate(-25 31 46)" fill="none" stroke="#2020c0" stroke-width="0.72" opacity="0.36" stroke-dasharray="3 1.5 1 2" filter="url(#b05)"/>
<g opacity="0.48">
<path d="M20.2 47.2h0M31.3 42.5h0M31.6 45h0M35.1 39.8h0M24.3 45h0M34 46.9h0M26.6 45.6h0M30.3 46.8h0M33.9 40.7h0M24.6 54h0M25.7 53h0M34 38.9h0M28.7 43.9h0M32.7 50.2h0M40.5 40.7h0M23.6 46.7h0M35 40.5h0M39.7 41.2h0M40.3 40.7h0M44.3 39.5h0M41.8 42.3h0M25 46.5h0M44.1 42.9h0M39.1 38.4h0M40.8 42h0M17.8 52.5h0M28.6 47.6h0M28.1 42.3h0M31.5 51.2h0M36 49.1h0M31.3 46.8h0M31.5 43.9h0M23.6 49.1h0M32.6 47.7h0M22.1 52h0M18.4 52.6h0M25.4 47.7h0M29 45.1h0M31 42.5h0M34.5 48.5h0M24.3 47.8h0M42.3 40.6h0M23.6 53.5h0M34.3 48.2h0M25.2 48.5h0" stroke="#2a2ad0" stroke-width="0.9" stroke-linecap="round" fill="none"/>
</g>
<path d="M27.5 50.8L23.2 51.1M28.9 50L29.4 51.5M23.1 47.3L21.6 47.4M31.5 45.3L31.8 44.8" stroke="#2c2ce8" stroke-width="0.8" opacity="0.4" fill="none" filter="url(#b05)"/>
<path d="M14.9 16.8h0M40.4 2.6h0M13.6 23.9h0M7.5 16.7h0M14 22.5h0" stroke="#e05020" stroke-width="1.0" stroke-linecap="round" fill="none"/>
<path d="M40.1 2.5h0M22.7 11.7h0M22.5 9.9h0M10.2 20.3h0M13.1 12.2h0" stroke="#f0b020" stroke-width="1.0" stroke-linecap="round" fill="none"/>
<path d="M17.3 15.3h0M10 25.4h0M29.4 2.3h0M40.7 5.2h0M26.5 12.5h0M23.3 14.5h0M9.7 19.6h0M3.1 29.4h0" stroke="#f0d040" stroke-width="1.0" stroke-linecap="round" fill="none"/>
<path d="M7.6 21.9h0M38.4 4.5h0" stroke="#c01c1c" stroke-width="1.5" stroke-linecap="round" fill="none"/>
<path d="M1.5 22.1h0M13.4 19.6h0M13.9 18.2h0M6.8 22.9h0M7 25.8h0M16.3 16.8h0M16.2 18.2h0M20.3 21.7h0M15 15.3h0M36.8 4.8h0M29.6 11.6h0" stroke="#781010" stroke-width="1.0" stroke-linecap="round" fill="none"/>
<path d="M32 6.4h0M11.5 24.5h0" stroke="#e05020" stroke-width="1.5" stroke-linecap="round" fill="none"/>
<path d="M31.6 8.4h0M18.4 18.6h0M29.7 4.3h0M24.5 11.9h0" stroke="#c01c1c" stroke-width="1.0" stroke-linecap="round" fill="none"/>
<path d="M23.3 14.3h0M32.7 3.9h0" stroke="#dc2828" stroke-width="1.5" stroke-linecap="round" fill="none"/>
<path d="M13 22.2h0M26.9 5.5h0M4.6 22.2h0M5.3 25.1h0M8.9 16.7h0M43 6.3h0" stroke="#e08020" stroke-width="1.0" stroke-linecap="round" fill="none"/>
<path d="M37.2 5.3h0M28.5 12.6h0M26.1 8.9h0M37.5 8h0M1.4 25.9h0" stroke="#dc2828" stroke-width="1.0" stroke-linecap="round" fill="none"/>
<path d="M19.3 12.9h0M29 3.7h0M31.1 8.2h0" stroke="#9a1414" stroke-width="1.0" stroke-linecap="round" fill="none"/>
<path d="M31.5 10h0M34 3.2h0" stroke="#e08020" stroke-width="1.5" stroke-linecap="round" fill="none"/>
<path d="M26.9 6.2h0M39.1 3.7h0M9.5 22.1h0M39.5 4.2h0" stroke="#781010" stroke-width="1.5" stroke-linecap="round" fill="none"/>
<path d="M13.5 19.1h0" stroke="#9a1414" stroke-width="1.5" stroke-linecap="round" fill="none"/>
<path d="M31.7 38.4h0" stroke="#e05020" stroke-width="1.5" stroke-linecap="round" fill="none"/>
<path d="M39 38.6h0M45.8 30.5h0M22.2 43.1h0M17.2 46.6h0M48.4 31.9h0M24.8 38.3h0" stroke="#f0b020" stroke-width="1.0" stroke-linecap="round" fill="none"/>
<path d="M39.2 32.8h0M16.1 49h0M45.3 32.2h0M36.2 33.9h0M19 45.7h0M50.5 35.3h0M46.8 32.6h0" stroke="#c01c1c" stroke-width="1.0" stroke-linecap="round" fill="none"/>
<path d="M48.3 36.5h0M38.5 30.8h0M34.3 35.5h0M13.2 49.2h0M18.7 43.8h0" stroke="#9a1414" stroke-width="1.0" stroke-linecap="round" fill="none"/>
<path d="M49 34.6h0M49.3 38.1h0M34.5 35.9h0M34.3 35h0" stroke="#f0d040" stroke-width="1.0" stroke-linecap="round" fill="none"/>
<path d="M51.2 35.9h0" stroke="#dc2828" stroke-width="1.5" stroke-linecap="round" fill="none"/>
<path d="M48.1 37.9h0M31.6 35.9h0M21.6 42.9h0M42 33.3h0M46.4 34.6h0M48.2 35.8h0" stroke="#dc2828" stroke-width="1.0" stroke-linecap="round" fill="none"/>
<path d="M49.7 37.7h0" stroke="#e08020" stroke-width="1.5" stroke-linecap="round" fill="none"/>
<path d="M51.2 35.5h0M21.7 43.8h0M30.7 39.1h0M45.1 33.1h0M23.2 42.2h0M48.7 33.3h0M27.3 37.5h0" stroke="#e08020" stroke-width="1.0" stroke-linecap="round" fill="none"/>
<path d="M27.5 42.4h0M37.3 37.9h0M29.1 38h0M44.1 32.2h0M22 40.9h0" stroke="#e05020" stroke-width="1.0" stroke-linecap="round" fill="none"/>
<path d="M21.5 43.6h0M41.4 29.8h0" stroke="#f0d040" stroke-width="0.5" stroke-linecap="round" fill="none"/>
<path d="M49.5 34.5h0" stroke="#781010" stroke-width="0.5" stroke-linecap="round" fill="none"/>
<path d="M20.2 44.1h0" stroke="#c01c1c" stroke-width="0.5" stroke-linecap="round" fill="none"/>
<path d="M47.7 35.6h0" stroke="#c01c1c" stroke-width="1.5" stroke-linecap="round" fill="none"/>
<path d="M17.6 47.1h0" stroke="#f0b020" stroke-width="0.5" stroke-linecap="round" fill="none"/>
<path d="M41.3 28.6h0" stroke="#781010" stroke-width="1.0" stroke-linecap="round" fill="none"/>
<path d="M38.2 6.5h0M48.3 7.2h0M26.6 11.5h0M36.3 37.1h0M43.5 25.2h0M25.1 27.3h0M45.5 56.5h0M14.7 51.7h0M46 35.4h0M46.2 39.5h0" stroke="#9a1414" stroke-width="1.0" stroke-linecap="round" fill="none"/>
<path d="M41.5 5.2h0M35.3 6.4h0M5.3 5.8h0M9 35.1h0M18.6 51.7h0M30.5 12.4h0" stroke="#1e961e" stroke-width="1.0" stroke-linecap="round" fill="none"/>
<path d="M47 42.4h0M33.5 44.5h0" stroke="#dc2828" stroke-width="0.5" stroke-linecap="round" fill="none"/>
<path d="M43.7 8.7h0M2.8 19.6h0M48.5 30h0" stroke="#187a18" stroke-width="0.5" stroke-linecap="round" fill="none"/>
<path d="M22.8 4.2h0M43.1 49.9h0M47.2 30.2h0M14.3 12.5h0" stroke="#c01c1c" stroke-width="1.0" stroke-linecap="round" fill="none"/>
<path d="M5 42h0M43.3 34.7h0M40.3 37.2h0M23.1 29.5h0M33.4 46.5h0" stroke="#28b028" stroke-width="1.0" stroke-linecap="round" fill="none"/>
<path d="M1.7 5.5h0M3.4 29.8h0" stroke="#c01c1c" stroke-width="0.5" stroke-linecap="round" fill="none"/>
<path d="M31.4 4.4h0M11.1 5.8h0M33.7 55.7h0M18.4 23.6h0M8.6 57.2h0M47.3 3.3h0M14.8 35h0" stroke="#187a18" stroke-width="1.0" stroke-linecap="round" fill="none"/>
<path d="M26.4 39.3h0M31.8 18h0M19.4 59h0" stroke="#126012" stroke-width="1.0" stroke-linecap="round" fill="none"/>
<path d="M40.9 52.2h0M28.1 5.1h0M18 56.3h0M8.9 28h0M4.2 57.2h0M53.6 45.1h0" stroke="#781010" stroke-width="1.0" stroke-linecap="round" fill="none"/>
<path d="M40.7 45h0" stroke="#781010" stroke-width="0.5" stroke-linecap="round" fill="none"/>
<path d="M44.8 1.4h0M4.6 55.8h0M30.1 48h0" stroke="#9a1414" stroke-width="0.5" stroke-linecap="round" fill="none"/>
<path d="M52.3 12.5h0" stroke="#126012" stroke-width="0.5" stroke-linecap="round" fill="none"/>
<path d="M6.2 34.8h0M20.5 26.2h0M43.3 32.2h0M6.7 25.6h0" stroke="#dc2828" stroke-width="1.0" stroke-linecap="round" fill="none"/>
<path d="M12.3 51.8h0M5.6 10.4h0" stroke="#1e961e" stroke-width="0.5" stroke-linecap="round" fill="none"/>
<path d="M13.2 43.2h0" stroke="#28b028" stroke-width="0.5" stroke-linecap="round" fill="none"/>
<rect x="12.6" y="9.4" width="27.6" height="20" fill="none" stroke="#e8e8e8" stroke-width="0.9"/>
<text x="52.1" y="56.2" font-size="5.3" text-anchor="end" fill="#fff" font-weight="bold">5μm</text>
<rect x="40.8" y="57.3" width="11.8" height="1.1" fill="#fff" stroke="none" stroke-width="1"/>
</svg>
<svg x="244.2" y="736.2" width="54.8" height="59.8" overflow="hidden">
<rect x="0" y="0" width="54.8" height="59.8" fill="#000" stroke="none" stroke-width="1"/>
<ellipse cx="22" cy="10" rx="20" ry="11" transform="rotate(0 22 10)" fill="#16169a" opacity="0.22" filter="url(#b1)"/>
<ellipse cx="22" cy="10" rx="19.4" ry="10.67" transform="rotate(0 22 10)" fill="none" stroke="#2030c0" stroke-width="0.48" opacity="0.27" stroke-dasharray="3 1.5 1 2" filter="url(#b05)"/>
<g opacity="0.36">
<path d="M3.9 14h0M24.9 11.7h0M26.2 10.9h0M29 2.1h0M19.7 10.1h0M19.6 15.5h0M3.5 9h0M16.3 19.1h0M21.3 16.9h0M27.3 3.3h0M4.7 13.8h0M14.1 2.2h0M29.9 4.8h0M20.8 20.3h0M24.2 9.7h0M26.3 15.5h0M22.2 9.4h0M35.8 8.1h0M38.7 7.8h0M20.1 2.5h0M35.3 7.2h0M26.2 6.8h0M16.6 16h0M31.2 7h0M25.7 1.2h0M12.2 2.8h0M29 17.8h0M32.7 13.7h0M12.8 7.3h0M17.1 16.8h0M21.1 3.6h0M6.2 14.4h0M18.1 13.8h0M13.6 1.2h0M23.6 16.1h0M26.8 20.3h0M23.5 18.7h0M32.1 13.4h0M32.1 11.4h0M24.5 16.4h0M32.6 14h0M12.4 7.4h0M26.9 14.9h0M16.8 15.1h0M11.2 7.4h0M39 15.2h0M18.9 5.2h0M20.2 0.7h0M28 3.3h0M8.9 3.4h0M17.5 2.2h0M31.3 3.8h0M37.7 16.6h0M34.6 7.8h0M12.6 4.3h0M19.6 19.3h0M28.7 13.1h0M14.2 1.7h0M19.4 18.4h0M16.1 6.6h0M27.6 5.6h0M27.9 7.8h0M20.1 18.1h0M23.6 12.6h0M23.6 19.7h0M36.6 5.6h0M8.1 12.9h0M22.6 4.1h0M24.7 15.1h0M7.4 15.3h0M16.4 0.6h0M7.8 12.8h0M12.9 13.7h0M33.6 15.2h0M30.1 8.2h0M8.5 10.6h0M26.5 4.3h0M4 13.6h0M9.2 12.2h0M20.7 7.5h0M35.4 16.8h0M34.3 18.4h0M8.5 17.2h0M22 8.4h0M9.3 8.6h0M31.1 6h0M27.1 14.2h0M5.3 12.3h0M19.5 16.9h0M24.1 1.9h0M4.9 7.3h0M38.6 12.7h0M2.3 9.7h0M21.4 6.7h0M26.3 12.7h0M41 7.8h0M15.1 5.1h0M9.9 2.7h0M40.3 12.8h0M17.6 18.7h0M12.4 8.6h0M39.3 15.3h0M22.9 5.2h0M32.5 5.7h0M31.1 3.7h0M23.3 2.5h0M25.4 0.4h0M18.5 1.3h0M38.5 8.4h0M21.5 1.6h0" stroke="#2a2ad0" stroke-width="0.9" stroke-linecap="round" fill="none"/>
</g>
<path d="M16.5 10.3L12.2 9M24.6 15.3L31.6 14.3M21.9 15.9L18.5 17.1M11.2 8.7L20.4 10.3" stroke="#2c2ce8" stroke-width="0.8" opacity="0.3" fill="none" filter="url(#b05)"/>
<path d="M40.6 15.6h0M16.6 44.9h0M5.4 12.7h0M25.6 34.7h0" stroke="#dc2828" stroke-width="2.0" stroke-linecap="round" fill="none"/>
<path d="M45 31.3h0M43.2 11.2h0M8.2 14.2h0M29.3 55.4h0M48.9 2.1h0M16.6 17.1h0M13.1 44.1h0M25.9 26.7h0M17.3 50.2h0M23.5 1.2h0" stroke="#9a1414" stroke-width="1.5" stroke-linecap="round" fill="none"/>
<path d="M7.9 46.3h0M16.1 34.4h0" stroke="#781010" stroke-width="1.5" stroke-linecap="round" fill="none"/>
<path d="M34.5 8.6h0M12.7 49h0M12.9 15.5h0M12.6 23.1h0M48.4 15.3h0M52.5 42.3h0M40.6 50.2h0" stroke="#c01c1c" stroke-width="1.5" stroke-linecap="round" fill="none"/>
<path d="M52.7 57.1h0M48.1 58h0M32.2 8.5h0M54 1.5h0" stroke="#c01c1c" stroke-width="2.0" stroke-linecap="round" fill="none"/>
<path d="M31.6 31.5h0M15 16h0M30.8 54.2h0M1 56.5h0" stroke="#c01c1c" stroke-width="1.0" stroke-linecap="round" fill="none"/>
<path d="M48.2 25.3h0M26.9 6.4h0M24.3 33.8h0" stroke="#dc2828" stroke-width="1.5" stroke-linecap="round" fill="none"/>
<path d="M44.7 13.4h0M14.5 11.9h0" stroke="#781010" stroke-width="2.0" stroke-linecap="round" fill="none"/>
<path d="M33.2 17.9h0M6.3 1.2h0" stroke="#9a1414" stroke-width="2.0" stroke-linecap="round" fill="none"/>
<path d="M13.5 29h0" stroke="#dc2828" stroke-width="1.0" stroke-linecap="round" fill="none"/>
<path d="M29.9 42h0M37.5 7.1h0M19.4 58.1h0M27.4 20h0" stroke="#9a1414" stroke-width="1.0" stroke-linecap="round" fill="none"/>
<path d="M12.9 4.1h0M40 20.5h0" stroke="#781010" stroke-width="1.0" stroke-linecap="round" fill="none"/>
<path d="M41.2 8.9h0M49.6 26.6h0" stroke="#126012" stroke-width="1.0" stroke-linecap="round" fill="none"/>
<path d="M14.2 15.1h0M17.2 21.7h0M20.2 41h0M25.2 34.1h0M2.5 40.7h0M7.4 1h0M34.5 16.8h0M7.2 14.4h0" stroke="#28b028" stroke-width="1.0" stroke-linecap="round" fill="none"/>
<path d="M21.2 16h0M52.7 39h0M30.3 9.7h0" stroke="#187a18" stroke-width="1.0" stroke-linecap="round" fill="none"/>
<path d="M28.6 10.9h0M37.4 55.6h0M22.3 13.1h0M2.4 1.6h0" stroke="#1e961e" stroke-width="1.0" stroke-linecap="round" fill="none"/>
<path d="M40 43.7h0M5.3 52h0M48.6 45.4h0M37.2 33.6h0M52.6 57.7h0M0.6 24.1h0" stroke="#126012" stroke-width="1.5" stroke-linecap="round" fill="none"/>
<path d="M16.9 35.5h0M45.4 33.5h0M1.8 32.8h0M9.3 28.7h0M3.7 14.5h0M19.5 35.8h0M48.6 40.6h0" stroke="#28b028" stroke-width="1.5" stroke-linecap="round" fill="none"/>
<path d="M52.7 58.4h0M9.2 24h0M38.6 6.9h0" stroke="#1e961e" stroke-width="1.5" stroke-linecap="round" fill="none"/>
<path d="M22.8 37.3h0M25.1 32.9h0" stroke="#187a18" stroke-width="1.5" stroke-linecap="round" fill="none"/>
<path d="M25.8 25.5h0" stroke="#f0a030" stroke-width="2.5" stroke-linecap="round" fill="none"/>
<path d="M7 15.7h0M43.2 4h0" stroke="#ff5030" stroke-width="2.5" stroke-linecap="round" fill="none"/>
<path d="M38.9 32h0" stroke="#ff5030" stroke-width="3.0" stroke-linecap="round" fill="none"/>
<path d="M7.6 26h0" stroke="#ff5030" stroke-width="2.0" stroke-linecap="round" fill="none"/>
<path d="M48.8 46.2h0" stroke="#f08020" stroke-width="2.0" stroke-linecap="round" fill="none"/>
<path d="M47 28L49.2 25.8" stroke="#fff" stroke-width="1.3" fill="none"/>
<path d="M49.4 27.8L50 25L47.2 25.6" stroke="#fff" stroke-width="0.5" fill="#fff"/>
<path d="M33 34L35.2 31.8" stroke="#fff" stroke-width="1.3" fill="none"/>
<path d="M35.4 33.8L36 31L33.2 31.6" stroke="#fff" stroke-width="0.5" fill="#fff"/>
<path d="M24 41L26.2 38.8" stroke="#fff" stroke-width="1.3" fill="none"/>
<path d="M26.4 40.8L27 38L24.2 38.6" stroke="#fff" stroke-width="0.5" fill="#fff"/>
<path d="M51.8 23.2h0M37.8 29.2h0M28.8 36.2h0" stroke="#f0a020" stroke-width="2.6" stroke-linecap="round" fill="none"/>
<path d="M51.8 23.2h0M37.8 29.2h0M28.8 36.2h0" stroke="#f8e040" stroke-width="1.4" stroke-linecap="round" fill="none"/>
<text x="52.6" y="56.2" font-size="5.3" text-anchor="end" fill="#fff" font-weight="bold">2μm</text>
<rect x="41.3" y="57.3" width="11.8" height="1.1" fill="#fff" stroke="none" stroke-width="1"/>
</svg>
<svg x="23" y="797" width="54.3" height="58.6" overflow="hidden">
<rect x="0" y="0" width="54.3" height="58.6" fill="#000" stroke="none" stroke-width="1"/>
<path d="M48 41h0M26.2 32.2h0M15.1 13.7h0M12 24.3h0M42.1 45.7h0M35.8 25.5h0M25.6 26h0M23.1 28.4h0M6 52.6h0M17.3 22.6h0M1.7 0.6h0M51.6 39.2h0M16.7 27.7h0M41.3 10.6h0M15.8 44.7h0M7.3 34.6h0M21.6 27.2h0M37.5 6.5h0M2.3 20.6h0M32.5 56h0M19.1 48.3h0M36.3 30.6h0M25.5 51.9h0M7.4 43.7h0" stroke="#781010" stroke-width="1.0" stroke-linecap="round" fill="none"/>
<path d="M0.9 55.4h0M16.4 23.6h0M10.4 51.9h0M9.4 26.4h0M36.9 20.9h0M30.1 32.2h0M26.9 44.8h0M11.8 41.6h0M11.2 12.7h0M47.8 6.6h0M39.3 14.2h0M38.4 13.9h0M22.8 31.4h0M47.9 36.5h0M42 1.1h0M44.8 19.1h0M23.9 43.7h0" stroke="#781010" stroke-width="1.5" stroke-linecap="round" fill="none"/>
<path d="M48.5 45.9h0M18.7 36.7h0M8.7 36.5h0M16.8 19h0M7.8 58.1h0M30.9 0.9h0M35.7 12.5h0M15.9 27.9h0M1.7 3.3h0M11.4 26.8h0M40 3.7h0M43.8 53.1h0M8.9 31.7h0M12.4 4.7h0M27.7 1.6h0M6.6 43.8h0M9.2 51.2h0M46.2 40.9h0M26.2 36.2h0M8.6 41.3h0M34.2 12.3h0M5.2 5.7h0M3.9 50.4h0M42.1 31.8h0M37.6 26.6h0M12.1 19.1h0M38 12.6h0" stroke="#9a1414" stroke-width="1.0" stroke-linecap="round" fill="none"/>
<path d="M29.6 40.6h0M15 19h0M50.5 54.3h0M27.8 18.7h0M18.6 42h0M28.2 18.4h0M24.1 21.2h0M13.1 39.4h0M8.6 21h0M50 42.2h0M29.8 51.2h0M17.1 16.3h0M37 18.1h0M34 10.1h0M3.7 11.8h0M31.2 56.5h0M16.9 54.2h0M27.8 5.8h0M44.5 26.5h0M24 56h0" stroke="#c01c1c" stroke-width="1.5" stroke-linecap="round" fill="none"/>
<path d="M10.4 24.5h0M49.7 50.9h0M29 6.1h0M17.6 24.8h0M19.9 42.6h0M13.4 22.5h0M6.6 50.8h0M44 42.7h0M3.7 48.4h0M8.3 26.9h0M19.8 51.4h0M35.1 4.2h0M38.9 25.4h0M43.9 28.6h0M46.9 27.8h0M18.2 13.8h0M5.3 12.3h0M1 21.2h0M41.6 37.7h0M33 28.1h0M43 32h0M37.5 23.6h0M14 36.7h0M12.9 37.6h0M4.5 49.6h0M52.9 38.1h0M17.6 14.1h0M10.3 27h0M16.5 27.8h0M1.3 50.9h0M31.4 14.9h0M39.7 33.9h0M1.6 39.7h0" stroke="#dc2828" stroke-width="1.0" stroke-linecap="round" fill="none"/>
<path d="M38.4 30.2h0M28.3 6.9h0M40.9 5.6h0M52.5 53.9h0M33.4 22h0M8.5 5.4h0M45.3 29.5h0M2 55.4h0M17.3 42.5h0M39.2 16.2h0M17.5 22.6h0M46.7 53.3h0M14.5 25.5h0M49.4 4.9h0M19.3 14.6h0M46.3 7.8h0M2.7 53.7h0M4.1 55.4h0M32.6 48h0M31.1 2.4h0M15.6 3.5h0M26.4 35.4h0M5.2 53h0M32.3 39.3h0M27.6 7.9h0M14.7 54.4h0M18.4 25.4h0M51.8 42h0M11.9 7.7h0M41 7.8h0M2 45.3h0M17 9.7h0M20.6 18.7h0M32.9 34.2h0M38.1 6.8h0M17.3 30.9h0" stroke="#c01c1c" stroke-width="1.0" stroke-linecap="round" fill="none"/>
<path d="M53.5 40.9h0M42.7 49.7h0M17.8 34.9h0M47.4 12.3h0M38.7 13.3h0M40.8 8.1h0M34.1 33.5h0M43.7 3.3h0M8.9 3.3h0M13.9 44h0M28.4 46.8h0M47.6 24.2h0M52 31.5h0M24.2 47.7h0" stroke="#9a1414" stroke-width="1.5" stroke-linecap="round" fill="none"/>
<path d="M0.5 48.9h0M23.5 55.3h0M43.3 43.4h0M49.9 41.1h0M8.7 14.6h0M9.8 19.1h0M41 6.7h0M2.4 15.8h0M52.8 46.5h0M45.4 53.2h0M16.8 47.3h0M19 44.4h0M48.3 15.6h0M23.5 38.7h0M34.7 18.4h0" stroke="#dc2828" stroke-width="1.5" stroke-linecap="round" fill="none"/>
<path d="M27 14h0M18.9 28.4h0M33 53.9h0M2.9 3.7h0M45.3 1.8h0M26.6 15.4h0" stroke="#c01c1c" stroke-width="0.5" stroke-linecap="round" fill="none"/>
<path d="M13.9 8h0M46 41.9h0M40.4 19.7h0M34 18.3h0" stroke="#9a1414" stroke-width="0.5" stroke-linecap="round" fill="none"/>
<path d="M19.7 10.1h0M40.1 0.6h0M48.2 6.7h0" stroke="#781010" stroke-width="0.5" stroke-linecap="round" fill="none"/>
<path d="M29.3 15h0" stroke="#dc2828" stroke-width="0.5" stroke-linecap="round" fill="none"/>
<path d="M33.5 54.9h0M21.3 52.9h0M12.3 44.8h0M27.4 57.9h0M3 39.9h0M10.7 48.4h0M15.8 45h0M17.5 50.8h0M10.3 44h0M15.7 49.1h0M22.6 51.3h0M19 50.3h0M6 41.4h0M11.5 46.8h0M24 54h0M20 49.6h0M18 48.8h0" stroke="#781010" stroke-width="1.0" stroke-linecap="round" fill="none"/>
<path d="M18.2 48.7h0M22.2 50.3h0M35.1 57.6h0M4.4 41.5h0M15.8 50.7h0M21.1 51.2h0M3.3 38.8h0M6.4 41.6h0M13.7 45.7h0M9.1 42.3h0M30.1 56h0M5.3 41.3h0M23.7 55h0" stroke="#9a1414" stroke-width="1.0" stroke-linecap="round" fill="none"/>
<path d="M29.1 55.9h0M26.4 50.1h0M3 40.3h0M16.2 48.8h0M28.8 54.2h0M30.2 56.7h0M17.1 48.6h0M15.1 49.4h0M3.1 41.3h0M31.6 57.7h0M12.1 43.9h0" stroke="#c01c1c" stroke-width="1.0" stroke-linecap="round" fill="none"/>
<path d="M2.6 38.6h0M10.1 43.1h0M8.7 43.2h0M8.3 43.2h0" stroke="#dc2828" stroke-width="1.5" stroke-linecap="round" fill="none"/>
<path d="M25.1 50.3h0M12.5 45.1h0M5 42.7h0M3.8 40.4h0M17.2 48.5h0M17.8 46.8h0M8.4 43h0M5.3 43.9h0M19.1 51.2h0M26 55.5h0M30.5 55.1h0M8.7 46.1h0" stroke="#dc2828" stroke-width="1.0" stroke-linecap="round" fill="none"/>
<path d="M16.3 47.7h0M22.2 52.7h0M9.5 44.6h0M9.9 46.5h0M25.1 52.7h0" stroke="#9a1414" stroke-width="1.5" stroke-linecap="round" fill="none"/>
<path d="M21.5 48.3h0" stroke="#781010" stroke-width="1.5" stroke-linecap="round" fill="none"/>
<path d="M12.8 45.7h0M27.3 55.5h0M23.4 51.5h0" stroke="#c01c1c" stroke-width="1.5" stroke-linecap="round" fill="none"/>
<path d="M24.5 54.2h0" stroke="#781010" stroke-width="0.5" stroke-linecap="round" fill="none"/>
<path d="M10.2 41.2h0" stroke="#9a1414" stroke-width="0.5" stroke-linecap="round" fill="none"/>
<path d="M28.4 54.4h0" stroke="#dc2828" stroke-width="0.5" stroke-linecap="round" fill="none"/>
<path d="M33.2 39.6h0M7.4 37.5h0M45.2 24.5h0M0.7 18.8h0M48.3 43.6h0M21 34.8h0M1.3 18h0M29.5 4.5h0M19.6 56.4h0" stroke="#f03030" stroke-width="1.5" stroke-linecap="round" fill="none"/>
<path d="M14.4 38.3h0M21.5 39.1h0M44.8 58.1h0M50.2 7.8h0M12.8 8.8h0M1.9 25.8h0M46.6 56.1h0M25.9 57.6h0M6.9 26.1h0" stroke="#f03030" stroke-width="2.0" stroke-linecap="round" fill="none"/>
<text x="52.1" y="55" font-size="5.3" text-anchor="end" fill="#fff" font-weight="bold">5μm</text>
<rect x="40.8" y="56.1" width="11.8" height="1.1" fill="#fff" stroke="none" stroke-width="1"/>
</svg>
<svg x="78.1" y="797" width="54.3" height="58.6" overflow="hidden">
<rect x="0" y="0" width="54.3" height="58.6" fill="#000" stroke="none" stroke-width="1"/>
<path d="M37.5 17h0M17 8.3h0M27.5 43.7h0M23.1 21h0M29.4 5.9h0M45.7 13h0M51.1 3.7h0M33.4 11h0M27.9 31.2h0M50 48h0M36.4 45.7h0M41.5 15.3h0M2.8 0.6h0M14.8 12.6h0M41 47.8h0M16.5 6.4h0M48.8 48.1h0M50.9 26.2h0M30.1 8.3h0M11.7 4h0M41.8 3.3h0M28.6 18h0M12.8 53.6h0M3.1 38.6h0M25 18.2h0M9.4 4.8h0M47.8 39h0M48.3 45.4h0M41.5 41.3h0M49.4 47h0M24.5 13.8h0M53 19.8h0M10.3 11.4h0M43.1 19.1h0M11.2 57.2h0M38.3 32h0M20.8 30.5h0M20.7 27.8h0M17.5 43.1h0M40.9 15.9h0M6.6 39.4h0M32.5 14.8h0M4.5 31.8h0M35.5 57.6h0" stroke="#28b028" stroke-width="1.0" stroke-linecap="round" fill="none"/>
<path d="M46.8 38.1h0M23.4 1h0M22.9 23.7h0M30.4 23.5h0M40.8 14.3h0M5.1 29.9h0M25.7 5.9h0M21.1 6.6h0M18.9 41h0M16.6 12.8h0M12.1 38.5h0M25.5 12.2h0M19.5 54.9h0M19.1 31.9h0M51.3 22.1h0M51.9 20.8h0M11.8 44.1h0M43.1 11.7h0M26.1 36.2h0M12.4 57.1h0M9.1 41.2h0M15.5 35.6h0M51.5 10.3h0" stroke="#187a18" stroke-width="0.5" stroke-linecap="round" fill="none"/>
<path d="M16.2 44.8h0M4.7 0.5h0M42.2 18.4h0M27.8 37.6h0M1.7 37h0M41.6 6.3h0M7 44.4h0M22.1 38h0M52.8 56h0M43.5 35.3h0M3.3 44.1h0M18 46.7h0M26.5 18.3h0M6.6 45.6h0M48.2 50.4h0M12.3 46h0M6.4 32.9h0M12.8 0.9h0M38.1 11.7h0M17.6 21.1h0M2.1 6.8h0M1 28.6h0M34.1 19.1h0M36.8 10.1h0M7 30.5h0M46.4 13.5h0M27.4 16.7h0M26.9 23.6h0M49.4 4.3h0M35.8 55.8h0M41.2 46.3h0M35.5 19h0M50.9 44.4h0M17.5 41.3h0M14.8 16.6h0M10.1 40.6h0M41.3 41.4h0M4 18.2h0M6.7 2.3h0M27.6 56.2h0M28.1 6.5h0M20 8.8h0M38.7 44.4h0M14.5 2.4h0M4.3 46.2h0M30.7 46h0M18.9 44.3h0M49.5 2.1h0M1.4 22.5h0M51.1 14.7h0M32.1 35.1h0M9.8 48.6h0" stroke="#126012" stroke-width="1.0" stroke-linecap="round" fill="none"/>
<path d="M25.5 34.7h0M17.3 45.6h0M28.5 53.1h0M9.2 37.4h0M5.5 3.5h0M14.4 29.8h0M46.5 57h0M43.3 43.9h0M7 6.6h0M44.5 3.3h0M35.5 34.5h0M11.6 1.2h0M36.6 36.3h0M33 40.1h0M31.4 22.6h0M23.5 11.4h0M21.8 52.9h0M1.3 10.1h0M33.2 7.8h0" stroke="#126012" stroke-width="0.5" stroke-linecap="round" fill="none"/>
<path d="M22.7 10h0M19.7 55h0M49.6 38.1h0M45.7 18.2h0M1.9 24.3h0M41.5 39.5h0M31 55.8h0M47.5 56.4h0M53.7 38.6h0M3.1 13.5h0M10.6 6.9h0M13.4 5h0M36.5 22h0M53.7 53.5h0M2.6 20.6h0M23.9 5.3h0M8.3 4.3h0M31 20.2h0M26.2 41.7h0M34.4 52.5h0M31.3 29.2h0M36.4 53.7h0M27.4 1.9h0M20.1 2.7h0M29.7 15.9h0M7 35.9h0M45.8 10h0M4.5 50.5h0M47.1 37h0M22.8 30.5h0M18.2 48.7h0M11.6 42.1h0M32.9 57.7h0M22.2 12.3h0M14.2 57h0M22.9 31.3h0M33.2 41.1h0M3.3 19.3h0M32.5 15.6h0M25.3 9.9h0M41.6 56.8h0M33.4 35.1h0M34 16.9h0" stroke="#1e961e" stroke-width="1.0" stroke-linecap="round" fill="none"/>
<path d="M29 11.3h0M50.6 10.7h0M10.9 3.1h0M53.3 57h0M26.9 3.8h0M18 37.4h0M45.2 14.7h0M28.3 44.5h0M37 31h0M0.8 30.3h0M34.6 41.8h0M4.7 34.5h0M10.8 52.3h0M30.1 22.1h0M40.6 29.7h0M28.4 7.1h0M8.7 9.1h0M25.4 53.2h0M41.8 8.8h0M39.3 18.2h0M13 33h0M14 21.8h0M33 10.1h0M35.8 9.3h0M48.6 45.1h0M10.4 26.3h0M10.1 41.7h0M14.2 42.8h0M21.6 46.7h0M41.5 52.5h0M44.5 3.6h0M2 21.5h0M25.8 2.7h0M48.7 24.5h0M26.1 51.9h0M52.7 3.4h0M34.6 46.7h0M11.9 6.6h0M53.1 33h0M36.6 45.1h0M20.7 48.6h0M45.7 37.7h0M28.4 52.7h0M5.7 55.3h0M39 10.7h0" stroke="#187a18" stroke-width="1.0" stroke-linecap="round" fill="none"/>
<path d="M42.1 26.4h0M2.4 52.4h0M30.5 6.3h0M12.2 57.2h0M7.2 3.2h0" stroke="#1e961e" stroke-width="1.5" stroke-linecap="round" fill="none"/>
<path d="M8.3 46.9h0M48.3 31.9h0M29.1 54.2h0M18 28h0M1.3 52.4h0M20.9 10.1h0" stroke="#126012" stroke-width="1.5" stroke-linecap="round" fill="none"/>
<path d="M38.7 42.5h0M30.9 14.4h0M41.3 19.7h0M11.3 9.5h0M39.6 32.4h0M18.2 28.6h0M34.4 34.3h0" stroke="#28b028" stroke-width="0.5" stroke-linecap="round" fill="none"/>
<path d="M22 1.1h0M51.7 41.3h0" stroke="#187a18" stroke-width="1.5" stroke-linecap="round" fill="none"/>
<path d="M26.6 11.6h0M11.9 19.6h0M42.6 28.1h0M7.9 27.4h0M39.2 49.2h0M24.3 55.2h0M26.3 10.1h0M23.3 41.2h0M1.6 11.3h0" stroke="#1e961e" stroke-width="0.5" stroke-linecap="round" fill="none"/>
<path d="M18.3 44h0M33.5 55.7h0M0.9 24.1h0M51.7 3.2h0M28.7 45.4h0" stroke="#28b028" stroke-width="1.5" stroke-linecap="round" fill="none"/>
<path d="M41.2 23.6h0M11.3 32.6h0M45.8 52.5h0M43.6 10.7h0M34.1 26.6h0M17.6 27.5h0M51.2 46.7h0M36.4 14.6h0M10.1 6.6h0M16.8 27h0M14.9 6.8h0M29.3 52.2h0M43.3 27.7h0M31.9 50.5h0M6.6 54.1h0" stroke="#30d030" stroke-width="1.5" stroke-linecap="round" fill="none"/>
<path d="M53 41.7h0M32.5 4.1h0M0.5 2.1h0M13 25.7h0M44.6 9.9h0" stroke="#30d030" stroke-width="2.0" stroke-linecap="round" fill="none"/>
<text x="52.1" y="55" font-size="5.3" text-anchor="end" fill="#fff" font-weight="bold">5μm</text>
<rect x="40.8" y="56.1" width="11.8" height="1.1" fill="#fff" stroke="none" stroke-width="1"/>
</svg>
<svg x="133.3" y="797" width="54.3" height="58.6" overflow="hidden">
<rect x="0" y="0" width="54.3" height="58.6" fill="#000" stroke="none" stroke-width="1"/>
<ellipse cx="20" cy="8" rx="13" ry="6" transform="rotate(10 20 8)" fill="#16169a" opacity="0.45" filter="url(#b1)"/>
<ellipse cx="20" cy="8" rx="12.61" ry="5.82" transform="rotate(10 20 8)" fill="none" stroke="#3030e0" stroke-width="1.28" opacity="0.54" stroke-dasharray="3 1.5 1 2" filter="url(#b05)"/>
<g opacity="0.72">
<path d="M17.4 4.6h0M9.3 6.8h0M24.6 12.5h0M23.9 10.2h0M7.6 7.3h0M27.7 8h0M7.9 4.9h0M12.5 11.7h0M30 9.9h0M14.8 12.7h0M9.8 5.6h0M23.9 4.6h0M27.1 13.5h0M18.1 4.1h0M20.1 8.9h0M30.8 9h0M23.3 4.5h0M17.8 8.4h0M25.5 12.1h0M15.7 8.8h0M29.5 10.4h0M17.3 6.2h0M31.9 11.9h0M21.3 11.9h0M15.3 5.9h0M24 10.4h0M21.4 8.9h0M23.2 12.9h0M10.7 6.5h0M14.8 4.5h0M16.9 10.1h0M17.1 9.9h0M19.3 7.2h0M17.5 12.6h0M10.6 5.4h0M12.6 3.4h0M31.9 7.4h0M22.8 7.5h0M24.2 11.5h0" stroke="#2a2ad0" stroke-width="0.9" stroke-linecap="round" fill="none"/>
</g>
<path d="M15.2 9.5L21.1 9.6M18.8 4.4L18.6 3.7M13.1 6.4L17.9 5.7M14.4 10.6L13.2 12.1" stroke="#2c2ce8" stroke-width="0.8" opacity="0.6" fill="none" filter="url(#b05)"/>
<ellipse cx="19" cy="33" rx="11" ry="9" transform="rotate(0 19 33)" fill="#16169a" opacity="0.3" filter="url(#b1)"/>
<ellipse cx="19" cy="33" rx="10.67" ry="8.73" transform="rotate(0 19 33)" fill="none" stroke="#1c1cb0" stroke-width="0.8" opacity="0.36" stroke-dasharray="3 1.5 1 2" filter="url(#b05)"/>
<g opacity="0.48">
<path d="M29.9 32.2h0M26.3 36.4h0M11.5 30.9h0M8.6 34.9h0M26.1 30.5h0M15.1 35h0M22.9 31.4h0M11.5 39.3h0M14.2 31.3h0M13.3 40.5h0M15.9 40.4h0M12.3 30.8h0M15 28.2h0M21.9 24.7h0M24.5 40.5h0M15.5 37.8h0M15.3 35.1h0M22.2 36h0M23.9 34.8h0M23.5 32.3h0M18.3 34.7h0M12 39.5h0M20.9 35.1h0M9.7 37.8h0M12.5 27.4h0M24.2 28.5h0M20.9 35h0M21.7 24.6h0M20 36.2h0M21.6 34.8h0M16.2 25.3h0M15.2 24.6h0M26.6 30.7h0M20.2 33.5h0M17.5 30.8h0M11.2 38.5h0M14.1 30h0M15 29.6h0M21.8 28.3h0M11.1 32h0M24.4 30.3h0M29.1 32h0M24.1 36.4h0M14.5 26.6h0M13 33.8h0M25.7 26.2h0M26.5 29.4h0M19.8 25.7h0M10.2 32h0" stroke="#2a2ad0" stroke-width="0.9" stroke-linecap="round" fill="none"/>
</g>
<path d="M13.3 36.7L17.3 39M17 32.3L17.3 32.4M18.2 38.2L12.7 36.6M22.3 33.6L24.3 36" stroke="#2c2ce8" stroke-width="0.8" opacity="0.4" fill="none" filter="url(#b05)"/>
<text x="52.1" y="55" font-size="5.3" text-anchor="end" fill="#fff" font-weight="bold">5μm</text>
<rect x="40.8" y="56.1" width="11.8" height="1.1" fill="#fff" stroke="none" stroke-width="1"/>
</svg>
<svg x="188.8" y="797" width="54.3" height="58.6" overflow="hidden">
<rect x="0" y="0" width="54.3" height="58.6" fill="#000" stroke="none" stroke-width="1"/>
<ellipse cx="20" cy="8" rx="13" ry="6" transform="rotate(10 20 8)" fill="#16169a" opacity="0.38" filter="url(#b1)"/>
<ellipse cx="20" cy="8" rx="12.61" ry="5.82" transform="rotate(10 20 8)" fill="none" stroke="#3030e0" stroke-width="1.04" opacity="0.45" stroke-dasharray="3 1.5 1 2" filter="url(#b05)"/>
<g opacity="0.6">
<path d="M24.9 6.5h0M11.9 9.2h0M24.8 8h0M30.8 9.2h0M21.9 13.3h0M20.1 13.2h0M28.5 8.2h0M27.2 10h0M20.1 8.2h0M25.7 10.1h0M16.3 7.2h0M22.9 2.9h0M14.9 4.4h0M22.9 6.4h0M29.3 6.1h0M24.4 7.3h0M22.4 13.1h0M15.8 1.8h0M17.9 2.8h0M21 11h0M10.5 6.7h0M11.5 9.5h0M25.1 8.6h0M26.1 6h0M13.1 5h0M26.9 11.8h0M25.1 11.9h0M13.5 8.3h0M19.6 7.1h0M10.4 7.9h0M14 6.2h0M10.7 10.6h0M14.2 8.8h0M19.1 8.1h0M29.6 6.2h0M25.1 9.1h0M14.1 6.3h0M28.5 8.9h0M20.5 4.9h0" stroke="#2a2ad0" stroke-width="0.9" stroke-linecap="round" fill="none"/>
</g>
<path d="M24.3 8.6L23.3 10.2M26.6 8.5L25.4 9.4M22.8 8.1L21.8 6.7M13.7 9.7L9.2 8.9" stroke="#2c2ce8" stroke-width="0.8" opacity="0.5" fill="none" filter="url(#b05)"/>
<ellipse cx="19" cy="33" rx="11" ry="9" transform="rotate(0 19 33)" fill="#16169a" opacity="0.26" filter="url(#b1)"/>
<ellipse cx="19" cy="33" rx="10.67" ry="8.73" transform="rotate(0 19 33)" fill="none" stroke="#1c1cb0" stroke-width="0.72" opacity="0.32" stroke-dasharray="3 1.5 1 2" filter="url(#b05)"/>
<g opacity="0.42">
<path d="M18.7 35.8h0M21.2 39.7h0M11.8 37.8h0M8.7 33h0M24.6 34.1h0M24.3 29.8h0M10.1 32.7h0M24.9 28.9h0M23 37.7h0M16.4 24.3h0M14.1 36.5h0M16.6 28.1h0M21.7 40.4h0M14 39.4h0M14.1 26.9h0M16.6 32h0M24.7 34.5h0M18.6 41h0M12 35.6h0M22.8 36.9h0M18.8 26.2h0M11.7 28.7h0M21.9 32.1h0M13.9 31.1h0M12.3 40h0M27.2 31.8h0M17 39.8h0M21 30.7h0M19.3 35.8h0M27 30.4h0M24.1 36.4h0M8.9 34.6h0M19 33.7h0M18.5 40.7h0M15.9 38.4h0M20.5 28.1h0M14.5 25.3h0M15.5 40.6h0M20.9 27h0M20.1 35.7h0M18.8 24.8h0M24.3 33.6h0M23.8 29.1h0M14.1 25.7h0M20.2 40.1h0M18.5 40.4h0M17.5 27.3h0M23.5 28h0M24.7 38.6h0" stroke="#2a2ad0" stroke-width="0.9" stroke-linecap="round" fill="none"/>
</g>
<path d="M23.6 31.7L22.6 33.9M19.7 30.4L19.3 31M25.3 27.9L25.6 30.3M23.2 37.8L21.1 39.9" stroke="#2c2ce8" stroke-width="0.8" opacity="0.35" fill="none" filter="url(#b05)"/>
<path d="M45 22.6h0M26.5 26.2h0M20.6 5.9h0M31.6 18.1h0M12.3 36.8h0M17.1 3.8h0M19.4 31.6h0" stroke="#1e961e" stroke-width="1.0" stroke-linecap="round" fill="none"/>
<path d="M9 11.8h0M43.3 49.1h0M26.3 4.9h0M21.5 27.2h0M28.7 54.9h0M19.4 37.7h0M49.1 14.5h0M28.6 44.1h0M42.9 44.5h0" stroke="#e08020" stroke-width="1.5" stroke-linecap="round" fill="none"/>
<path d="M17 15.5h0M48 23.5h0M11.7 48.9h0M33 8h0M2.3 26.2h0M28.6 28.9h0" stroke="#e05020" stroke-width="1.0" stroke-linecap="round" fill="none"/>
<path d="M16 40.7h0M38.4 19.8h0M41.7 19h0M3.4 31.2h0M11.2 40.8h0M22.8 15.5h0M24.1 36.4h0M26.9 57.1h0M13 22.6h0M5.1 27.2h0" stroke="#1e961e" stroke-width="1.5" stroke-linecap="round" fill="none"/>
<path d="M4.1 49.9h0M42.7 49.2h0M10.7 56.3h0M4.8 57.1h0M48 49h0M12.4 34.2h0" stroke="#f0b020" stroke-width="1.5" stroke-linecap="round" fill="none"/>
<path d="M51.3 5.4h0M47 42.9h0M5.3 35.2h0M13.2 23.4h0M52.3 45.8h0M29.1 42.2h0" stroke="#781010" stroke-width="1.5" stroke-linecap="round" fill="none"/>
<path d="M19.5 15.7h0M6.3 2.9h0M3.5 48.5h0M26.3 40h0M40.7 14.2h0" stroke="#c01c1c" stroke-width="1.0" stroke-linecap="round" fill="none"/>
<path d="M38.5 27.7h0M10.7 30.6h0M44.8 28.9h0M44.3 30.8h0M31.6 50.3h0M28.6 51.9h0M47.4 21.3h0M13.3 47.4h0M35.2 38.1h0M4.6 57.4h0M44 45.8h0M47.7 52h0" stroke="#9a1414" stroke-width="1.0" stroke-linecap="round" fill="none"/>
<path d="M24.1 41.5h0M6.8 23.9h0M52.3 4.3h0M15 34.7h0M45 26h0M35.9 42.1h0M36 13.9h0M33 23.8h0" stroke="#781010" stroke-width="1.0" stroke-linecap="round" fill="none"/>
<path d="M48.6 52.9h0M36.9 20.8h0M10.1 19.8h0M33.7 44h0M50.5 9.1h0M48.2 28.3h0M14.1 53.8h0" stroke="#28b028" stroke-width="1.0" stroke-linecap="round" fill="none"/>
<path d="M1.5 5.9h0M41.7 55.1h0M21.1 19.9h0M47.4 24.4h0M10.4 10.8h0M36.6 25h0M17.3 52.8h0M5.4 20.6h0M37.9 36.5h0" stroke="#126012" stroke-width="1.0" stroke-linecap="round" fill="none"/>
<path d="M13.9 10.7h0M24.3 36.7h0M35.2 33.1h0M1.3 16.4h0M41.6 46.9h0M32.9 0.7h0M13.4 30.4h0M16.8 24.8h0M27.8 37.6h0M50.5 48.3h0M21.1 38.4h0M6.3 50.8h0" stroke="#e08020" stroke-width="1.0" stroke-linecap="round" fill="none"/>
<path d="M46.5 18.9h0M33.8 1.6h0M36 9.2h0M25.2 23.4h0M25.6 10.7h0" stroke="#e05020" stroke-width="1.5" stroke-linecap="round" fill="none"/>
<path d="M31.5 45.4h0M15.2 57.3h0M40.4 49.5h0M0.6 54.8h0" stroke="#c01c1c" stroke-width="1.5" stroke-linecap="round" fill="none"/>
<path d="M29.4 6h0" stroke="#e05020" stroke-width="0.5" stroke-linecap="round" fill="none"/>
<path d="M48.5 8.4h0M15.8 33.3h0M1 15.9h0" stroke="#9a1414" stroke-width="1.5" stroke-linecap="round" fill="none"/>
<path d="M7.6 21.9h0M3.2 10.9h0M20.8 49.6h0M36.8 29.5h0M40.6 13.6h0M15.8 3.9h0" stroke="#dc2828" stroke-width="1.0" stroke-linecap="round" fill="none"/>
<path d="M53.6 11.1h0M11 0.7h0M13.3 6.2h0" stroke="#187a18" stroke-width="1.0" stroke-linecap="round" fill="none"/>
<path d="M32.9 56h0M49.5 28.6h0M24.7 47.6h0M37.2 37.2h0M27.2 52.5h0M41.1 56.4h0M1.7 37.2h0M5.7 33.1h0M4.4 39.1h0M42.1 21h0M32 49.4h0M50.3 18.2h0" stroke="#f0d040" stroke-width="1.0" stroke-linecap="round" fill="none"/>
<path d="M2.3 51.6h0M12.9 28.7h0M27.8 34.8h0M45.5 56.1h0M20.7 29.8h0M36.8 37h0M2.9 51.6h0M35 47.6h0" stroke="#f0b020" stroke-width="1.0" stroke-linecap="round" fill="none"/>
<path d="M43.5 20.6h0M26.9 24.2h0M26.2 15.5h0" stroke="#187a18" stroke-width="1.5" stroke-linecap="round" fill="none"/>
<path d="M36.7 27h0M22 3.1h0M28.6 51.9h0M39.4 51.6h0" stroke="#dc2828" stroke-width="1.5" stroke-linecap="round" fill="none"/>
<path d="M5.7 1h0M9.2 7.6h0M45.9 23.2h0M21.1 36.6h0" stroke="#28b028" stroke-width="1.5" stroke-linecap="round" fill="none"/>
<path d="M28.2 41.5h0" stroke="#1e961e" stroke-width="0.5" stroke-linecap="round" fill="none"/>
<path d="M44.7 47.3h0M22.2 48.4h0" stroke="#126012" stroke-width="1.5" stroke-linecap="round" fill="none"/>
<path d="M45.7 51.6h0M14.6 50.2h0M51.6 39.6h0M28.6 42.6h0M10.1 3.2h0" stroke="#f0d040" stroke-width="1.5" stroke-linecap="round" fill="none"/>
<path d="M3.3 19.9h0" stroke="#9a1414" stroke-width="0.5" stroke-linecap="round" fill="none"/>
<path d="M51.3 55.1h0" stroke="#781010" stroke-width="0.5" stroke-linecap="round" fill="none"/>
<path d="M31.5 20.7h0M35.3 4.5h0M3.6 36.7h0M4 52.1h0M28.7 16.3h0" stroke="#f0c030" stroke-width="2.0" stroke-linecap="round" fill="none"/>
<path d="M25.1 35.1h0M34.9 55.8h0M29.8 2.7h0M44.4 52.3h0M25.1 26.8h0M18.9 1.4h0M46.4 26h0" stroke="#f0c030" stroke-width="1.5" stroke-linecap="round" fill="none"/>
<path d="M7.3 57.4h0M9.6 35.5h0M40.1 55.9h0" stroke="#f09020" stroke-width="2.0" stroke-linecap="round" fill="none"/>
<path d="M52.2 15.3h0M40.2 19.2h0M24.3 56.3h0M19 20.8h0M31.1 8.8h0" stroke="#f09020" stroke-width="1.5" stroke-linecap="round" fill="none"/>
<rect x="19.6" y="36.6" width="26.2" height="20.4" fill="none" stroke="#e8e8e8" stroke-width="0.9"/>
<text x="52.1" y="55" font-size="5.3" text-anchor="end" fill="#fff" font-weight="bold">5μm</text>
<rect x="40.8" y="56.1" width="11.8" height="1.1" fill="#fff" stroke="none" stroke-width="1"/>
</svg>
<svg x="244.2" y="797" width="54.8" height="58.6" overflow="hidden">
<rect x="0" y="0" width="54.8" height="58.6" fill="#000" stroke="none" stroke-width="1"/>
<ellipse cx="8" cy="3" rx="10" ry="4" transform="rotate(0 8 3)" fill="#16169a" opacity="0.38" filter="url(#b1)"/>
<ellipse cx="8" cy="3" rx="9.7" ry="3.88" transform="rotate(0 8 3)" fill="none" stroke="#3040d0" stroke-width="0.8" opacity="0.45" stroke-dasharray="3 1.5 1 2" filter="url(#b05)"/>
<g opacity="0.6">
<path d="M1.9 1.9h0M13.7 -0.1h0M7.3 4.7h0M6.1 6.4h0M11.6 0.4h0M11.6 5.9h0M11.5 3.5h0M3.2 4.1h0M10.6 4.8h0M16.1 0.8h0M8.4 1.7h0M4.8 4.6h0M15.9 2.9h0M14.6 4.8h0M10.6 3.4h0M8.7 5.9h0M12.5 6.4h0M12.8 0.3h0M4.2 -0.6h0M15.8 2.9h0" stroke="#2a2ad0" stroke-width="0.9" stroke-linecap="round" fill="none"/>
</g>
<path d="M7 2L11.4 1.3M9.2 2.8L4.7 3.7M12.2 0.8L12.3 0.5M13.7 3.2L15.4 4.3" stroke="#2c2ce8" stroke-width="0.8" opacity="0.5" fill="none" filter="url(#b05)"/>
<path d="M35.9 45.9h0M28 55.2h0" stroke="#126012" stroke-width="1.5" stroke-linecap="round" fill="none"/>
<path d="M26.1 5.6h0" stroke="#126012" stroke-width="2.0" stroke-linecap="round" fill="none"/>
<path d="M49.5 3.6h0M44.3 42.4h0" stroke="#28b028" stroke-width="1.0" stroke-linecap="round" fill="none"/>
<path d="M20.1 36.1h0M49.4 15.1h0" stroke="#781010" stroke-width="1.5" stroke-linecap="round" fill="none"/>
<path d="M14.4 17.1h0" stroke="#1e961e" stroke-width="1.0" stroke-linecap="round" fill="none"/>
<path d="M43 38.6h0M36 41.6h0M7.1 42.2h0" stroke="#781010" stroke-width="2.0" stroke-linecap="round" fill="none"/>
<path d="M10.2 22.6h0M38.7 50h0M38.4 2.7h0" stroke="#c01c1c" stroke-width="1.5" stroke-linecap="round" fill="none"/>
<path d="M7.8 42.5h0M45.8 56.9h0" stroke="#187a18" stroke-width="1.5" stroke-linecap="round" fill="none"/>
<path d="M42.9 51.3h0" stroke="#dc2828" stroke-width="2.0" stroke-linecap="round" fill="none"/>
<path d="M29.3 53.3h0" stroke="#9a1414" stroke-width="2.0" stroke-linecap="round" fill="none"/>
<path d="M41.7 15.2h0M5.9 29.2h0M50.4 3.7h0M49.8 5.1h0" stroke="#dc2828" stroke-width="1.5" stroke-linecap="round" fill="none"/>
<path d="M45.1 55.5h0M10.9 33h0M8 5.1h0M15.6 38.9h0" stroke="#9a1414" stroke-width="1.5" stroke-linecap="round" fill="none"/>
<path d="M36.1 10.7h0" stroke="#c01c1c" stroke-width="1.0" stroke-linecap="round" fill="none"/>
<path d="M23.1 28.3h0M45.3 43.1h0M6.5 45.8h0M6.3 42.6h0M4.3 8.4h0" stroke="#28b028" stroke-width="1.5" stroke-linecap="round" fill="none"/>
<path d="M24.1 5.7h0" stroke="#781010" stroke-width="1.0" stroke-linecap="round" fill="none"/>
<path d="M17.8 30.1h0" stroke="#126012" stroke-width="1.0" stroke-linecap="round" fill="none"/>
<path d="M43 7.9h0M20.7 28.9h0M12.5 2.9h0" stroke="#dc2828" stroke-width="1.0" stroke-linecap="round" fill="none"/>
<path d="M14.5 17.1h0" stroke="#1e961e" stroke-width="1.5" stroke-linecap="round" fill="none"/>
<path d="M17.3 16.8h0" stroke="#1e961e" stroke-width="2.0" stroke-linecap="round" fill="none"/>
<path d="M3.3 33.7h0" stroke="#9a1414" stroke-width="1.0" stroke-linecap="round" fill="none"/>
<path d="M27.4 5.8h0M4.9 42.6h0" stroke="#f0d040" stroke-width="2.5" stroke-linecap="round" fill="none"/>
<path d="M43.7 18.7h0" stroke="#f08020" stroke-width="2.0" stroke-linecap="round" fill="none"/>
<path d="M4.5 13.1h0M18.3 41.2h0M37.9 44.8h0" stroke="#f0b020" stroke-width="2.0" stroke-linecap="round" fill="none"/>
<path d="M51.5 32.4h0M1.4 11.6h0" stroke="#f0b020" stroke-width="2.5" stroke-linecap="round" fill="none"/>
<path d="M18.4 46.2h0M21.9 6.2h0" stroke="#f08020" stroke-width="2.5" stroke-linecap="round" fill="none"/>
<path d="M35.1 54.4h0" stroke="#f0d040" stroke-width="2.0" stroke-linecap="round" fill="none"/>
<path d="M1.5 30.1h0" stroke="#f08020" stroke-width="3.0" stroke-linecap="round" fill="none"/>
<path d="M41.4 16.5h0M25.1 56.6h0M6.9 43.5h0M4.9 53.8h0M50.5 1.7h0" stroke="#126012" stroke-width="1.5" stroke-linecap="round" fill="none"/>
<path d="M2.9 21.4h0M45 42.9h0M38.6 38.1h0M17.7 34.1h0M29.2 4.7h0" stroke="#28b028" stroke-width="1.5" stroke-linecap="round" fill="none"/>
<path d="M17.9 18.8h0" stroke="#28b028" stroke-width="2.0" stroke-linecap="round" fill="none"/>
<path d="M11.5 31.2h0M37.6 17.7h0" stroke="#1e961e" stroke-width="1.5" stroke-linecap="round" fill="none"/>
<path d="M10.8 3h0" stroke="#187a18" stroke-width="2.0" stroke-linecap="round" fill="none"/>
<path d="M41.7 25.8h0M51 21h0" stroke="#1e961e" stroke-width="2.0" stroke-linecap="round" fill="none"/>
<path d="M48.2 50.8h0M2.8 57.3h0" stroke="#187a18" stroke-width="1.0" stroke-linecap="round" fill="none"/>
<path d="M26.6 2.3h0M31.4 55.3h0M20.3 46.5h0M51.1 39.2h0M18 33.1h0M19.5 23h0" stroke="#187a18" stroke-width="1.5" stroke-linecap="round" fill="none"/>
<path d="M2.1 11.6h0" stroke="#1e961e" stroke-width="1.0" stroke-linecap="round" fill="none"/>
<path d="M1.8 14.7L4.1 12.8" stroke="#fff" stroke-width="1.3" fill="none"/>
<path d="M4.1 14.7L5 12L2.2 12.4" stroke="#fff" stroke-width="0.5" fill="#fff"/>
<path d="M11.6 15.4L14 13.7" stroke="#fff" stroke-width="1.3" fill="none"/>
<path d="M13.9 15.6L15 13L12.2 13.1" stroke="#fff" stroke-width="0.5" fill="#fff"/>
<path d="M27.6 15.4L30 13.7" stroke="#fff" stroke-width="1.3" fill="none"/>
<path d="M29.9 15.6L31 13L28.2 13.1" stroke="#fff" stroke-width="0.5" fill="#fff"/>
<path d="M-0.4 30.4L2 28.7" stroke="#fff" stroke-width="1.3" fill="none"/>
<path d="M1.9 30.6L3 28L0.2 28.1" stroke="#fff" stroke-width="0.5" fill="#fff"/>
<path d="M8.6 44.4L11 42.7" stroke="#fff" stroke-width="1.3" fill="none"/>
<path d="M10.9 44.6L12 42L9.2 42.1" stroke="#fff" stroke-width="0.5" fill="#fff"/>
<path d="M10.6 49.4L13 47.7" stroke="#fff" stroke-width="1.3" fill="none"/>
<path d="M12.9 49.6L14 47L11.2 47.1" stroke="#fff" stroke-width="0.5" fill="#fff"/>
<path d="M12.6 53.4L15 51.7" stroke="#fff" stroke-width="1.3" fill="none"/>
<path d="M14.9 53.6L16 51L13.2 51.1" stroke="#fff" stroke-width="0.5" fill="#fff"/>
<path d="M17.8 56.7L20.1 54.8" stroke="#fff" stroke-width="1.3" fill="none"/>
<path d="M20.1 56.7L21 54L18.2 54.4" stroke="#fff" stroke-width="0.5" fill="#fff"/>
<path d="M25.6 40.4L28 38.7" stroke="#fff" stroke-width="1.3" fill="none"/>
<path d="M27.9 40.6L29 38L26.2 38.1" stroke="#fff" stroke-width="0.5" fill="#fff"/>
<path d="M33.6 48.4L36 46.7" stroke="#fff" stroke-width="1.3" fill="none"/>
<path d="M35.9 48.6L37 46L34.2 46.1" stroke="#fff" stroke-width="0.5" fill="#fff"/>
<path d="M7 10.3h0M17.1 11.5h0M33.1 11.5h0M5.1 26.5h0M14.1 40.5h0M16.1 45.5h0M18.1 49.5h0M23 52.3h0M31.1 36.5h0M39.1 44.5h0" stroke="#f0a020" stroke-width="2.6" stroke-linecap="round" fill="none"/>
<path d="M7 10.3h0M17.1 11.5h0M33.1 11.5h0M5.1 26.5h0M14.1 40.5h0M16.1 45.5h0M18.1 49.5h0M23 52.3h0M31.1 36.5h0M39.1 44.5h0" stroke="#f8e040" stroke-width="1.4" stroke-linecap="round" fill="none"/>
<text x="52.6" y="55" font-size="5.3" text-anchor="end" fill="#fff" font-weight="bold">2μm</text>
<rect x="41.3" y="56.1" width="11.8" height="1.1" fill="#fff" stroke="none" stroke-width="1"/>
</svg>
<text x="308" y="719.8" font-size="11.5" fill="#000" font-weight="bold">G</text>
<text x="311.7" y="732">A549</text>
<text x="356.3" y="732" text-anchor="middle" fill="#e8262a">CD63</text>
<text x="414" y="732" text-anchor="middle" fill="#3cb54a">LAMP</text>
<text x="469.5" y="732" text-anchor="middle" fill="#3d6fc5">DAPI</text>
<text x="523.9" y="732" text-anchor="middle">Merge</text>
<text x="327" y="767" text-anchor="middle" transform="rotate(-90 327 767)">NC</text>
<text x="327" y="827" text-anchor="middle" transform="rotate(-90 327 827)">CD147OE</text>
<rect x="329" y="733.6" width="280.4" height="121.6" fill="#ababab" stroke="none" stroke-width="1"/>
<svg x="330" y="734.5" width="54.4" height="59.6" overflow="hidden">
<rect x="0" y="0" width="54.4" height="59.6" fill="#000" stroke="none" stroke-width="1"/>
<path d="M16.9 50.8h0M41.6 13h0M49.2 42.2h0M24.1 48.5h0M23.9 53.6h0M30.2 53.1h0M16.7 49.8h0M8.9 31.8h0M8.2 42.8h0M21.4 56.3h0M17.5 55h0M13.5 8.2h0M44 45.1h0M48.7 37.6h0M7.3 18.9h0M35.1 49.7h0M10.3 16.4h0M41.3 20.9h0M44 16.4h0M11.9 15.5h0M42.5 45.9h0M7.6 34.4h0M9.3 44.2h0" stroke="#9a1414" stroke-width="1.0" stroke-linecap="round" fill="none"/>
<path d="M41 48.5h0M23.1 51.6h0M39.6 45h0M10.9 39.1h0M9.8 45.4h0M6.4 31.1h0M18.1 50.5h0M2.2 27.9h0M14.9 47.6h0M30 11.7h0M46.9 32.8h0M31.3 50.5h0M6.4 26.8h0M33.5 53.6h0M43.4 46.7h0M52.4 26.5h0M13.2 12.2h0M28.3 53.6h0M41.4 13.2h0M45.6 42.7h0M3.5 31.3h0M7.2 19.1h0M10.6 48.9h0M7.8 36.5h0M33.3 3.7h0M13.3 8.9h0M7.1 39.8h0M29.5 7.4h0M39.5 51.7h0" stroke="#c01c1c" stroke-width="0.5" stroke-linecap="round" fill="none"/>
<path d="M8 40.7h0M5.6 43.9h0M23.1 6.5h0M42.7 17.6h0M16.3 46.2h0M7.3 24.8h0M35.3 6.5h0M20.2 7.4h0M27.5 9.9h0M6.9 29.7h0M4.8 38.4h0M37.7 50.3h0M46.3 36.6h0M12.7 11.3h0M20.7 57.1h0M18.1 7h0M10.9 20.3h0M41.5 11.3h0M48.7 23.6h0M4.5 26.7h0M20.8 4.7h0M10.7 14.3h0M44.6 44.8h0M23.9 5.2h0M10.8 45.1h0M18.1 3.7h0M45.7 32.8h0" stroke="#c01c1c" stroke-width="1.0" stroke-linecap="round" fill="none"/>
<path d="M13.7 12.2h0M37.6 48.3h0M25.9 7.9h0M7.3 19.2h0M38.9 51h0M29.5 50.5h0M31.1 10h0M16.4 12.3h0M23.1 8.8h0M33 6.8h0M5.6 35.7h0M29 5.8h0M46 30.5h0M46.7 36.2h0M19.5 5.7h0M24.7 8h0M41.4 51.6h0M43.2 38.5h0M14.4 50.5h0M9.2 21.4h0M25.3 51.3h0M9.6 30.6h0M9.5 39.8h0" stroke="#dc2828" stroke-width="1.0" stroke-linecap="round" fill="none"/>
<path d="M40.8 14.5h0M44.4 20.1h0M48.9 18.6h0M12.6 48.1h0M48.7 28.2h0M18.2 7.1h0M9.7 44.2h0M4.8 15.2h0M47.5 46.4h0M31.9 5.8h0M30.3 9.4h0M25.1 52.9h0M5.1 27.1h0M23.6 6.9h0M20.2 52.7h0M29.5 0.8h0M26.4 3.1h0M44.6 23.8h0M19.3 50.3h0M48.3 23h0M46.5 37.3h0M28.1 6.5h0M40.8 14.3h0M28.1 55.4h0M9.9 11.9h0M8.4 29.7h0M20.3 3.1h0M7.2 29.9h0" stroke="#dc2828" stroke-width="0.5" stroke-linecap="round" fill="none"/>
<path d="M44.8 38.8h0M13 42.9h0M46.4 26.8h0M6.8 24.8h0M6.6 33.3h0M34.1 6.3h0M17.8 5.3h0M8.3 31.7h0M8.5 19.4h0M12 18.3h0M51.2 24.8h0M40.9 20.1h0M44.5 15.3h0M50.5 38.2h0M43.6 48.4h0M41.3 11.8h0M41.5 45.6h0M7.4 28.4h0M29.1 1.4h0M8.5 33.5h0" stroke="#781010" stroke-width="0.5" stroke-linecap="round" fill="none"/>
<path d="M48.1 26.8h0M45.5 25.4h0M47.7 21.6h0M4.4 27.8h0M40.4 10.3h0M22 7h0M18.6 9.4h0M44.7 35.3h0M42 9.4h0M23.9 55h0M45 16.4h0M5.9 18h0M44.7 24.2h0M38.1 8.7h0M46.1 37.7h0M29.9 52.7h0M7.6 45.8h0M19.4 55.2h0M6 29.3h0M24.2 7.9h0M45.4 16.1h0M31.3 9.2h0M43.3 52.1h0M32 52.1h0M27 6.8h0" stroke="#9a1414" stroke-width="0.5" stroke-linecap="round" fill="none"/>
<path d="M39.7 44.4h0M7.5 12.3h0M46.4 35h0M39.6 9.7h0M28.2 4.6h0M21.2 7.6h0M43.3 14.1h0M17.7 12.4h0M5.8 38.8h0M19.4 3.8h0M48.1 17.3h0M42.6 44.3h0M9.3 36.9h0M35.3 57.1h0M34 53.6h0M35.3 48.4h0M32.5 6.3h0M26.6 5.1h0M7.6 17.8h0M41.4 13.8h0M44.6 26.9h0M37.1 53.1h0M12.1 12h0M6.7 25.1h0" stroke="#781010" stroke-width="1.0" stroke-linecap="round" fill="none"/>
<path d="M39.2 21.9h0M41.1 30.6h0M13.9 13.3h0M36.4 46.9h0M39.5 27.5h0M26.5 23.7h0" stroke="#9a1414" stroke-width="1.0" stroke-linecap="round" fill="none"/>
<path d="M17 22.5h0M8.5 25.6h0M44.4 28.7h0M37.2 46.4h0" stroke="#781010" stroke-width="1.0" stroke-linecap="round" fill="none"/>
<path d="M10.1 23h0M26.6 52.1h0M23.7 47.5h0M37.6 41.3h0M28.5 36.9h0M18 44h0M19.3 23.9h0M29.6 20.1h0M23.1 7.6h0M25.8 18.4h0M28.6 35.2h0M16.9 40.9h0M13.9 32.9h0" stroke="#dc2828" stroke-width="0.5" stroke-linecap="round" fill="none"/>
<path d="M19.8 50.1h0M26.5 47.6h0M36.6 43.5h0M34.9 10h0M44.4 22.1h0M15.4 33.5h0M40.6 33.2h0M25.2 45.7h0M8.6 30.9h0M30.9 20.6h0M34.2 51.1h0M35.6 19.5h0M26.1 36.6h0M28.4 39.4h0M22.1 48.6h0M30 29h0M46.1 35h0M30 45.8h0M16.1 36.6h0M19.1 31.3h0" stroke="#781010" stroke-width="0.5" stroke-linecap="round" fill="none"/>
<path d="M34.4 48.2h0M24.1 40.3h0M18.9 13.6h0M23 25h0M13.7 23.2h0M34.2 48.2h0M28.7 35.7h0M24.7 43.4h0M15.3 11.9h0" stroke="#9a1414" stroke-width="0.5" stroke-linecap="round" fill="none"/>
<path d="M37 33.5h0M34.2 18h0M17 12.3h0M20.4 33.2h0M14.2 47h0M15.4 35.8h0M27 47.8h0" stroke="#c01c1c" stroke-width="1.0" stroke-linecap="round" fill="none"/>
<path d="M31.6 14.9h0M21.6 42.7h0M39.4 47.6h0M27.2 35.8h0M33.3 15.6h0M43.3 25h0M32 47.2h0M38.7 14.1h0M27.3 46.9h0M31 13.1h0M40.2 24.9h0M17.8 42h0M38.7 20.9h0" stroke="#c01c1c" stroke-width="0.5" stroke-linecap="round" fill="none"/>
<path d="M22.3 40.2h0M37.5 14.3h0M23 23.1h0M39.2 26h0M31.2 19.4h0M30.9 8.9h0M39.6 44.3h0M33.7 27.9h0" stroke="#dc2828" stroke-width="1.0" stroke-linecap="round" fill="none"/>
<text x="52.2" y="56" font-size="5.3" text-anchor="end" fill="#fff" font-weight="bold">5μm</text>
<rect x="40.9" y="57.1" width="11.8" height="1.1" fill="#fff" stroke="none" stroke-width="1"/>
</svg>
<svg x="386.1" y="734.5" width="54.4" height="59.6" overflow="hidden">
<rect x="0" y="0" width="54.4" height="59.6" fill="#000" stroke="none" stroke-width="1"/>
<path d="M35 43.2h0M36.4 51.3h0M10.3 23.2h0M23.8 40.5h0M39.3 28.4h0M28.6 38.2h0M23.2 17.8h0M18.3 18.1h0M9.6 26.9h0M15.6 44h0M46.1 43.2h0M28.9 47.8h0M27.9 38.4h0M36 20.1h0M22.2 23.6h0M42.5 11.5h0" stroke="#187a18" stroke-width="0.5" stroke-linecap="round" fill="none"/>
<path d="M36.6 24.4h0M27.7 42.1h0M14 36.8h0M14.5 42.8h0M27.4 12.4h0M32.3 40h0M19 9.3h0M44.8 47.3h0M37.1 6.8h0M26.2 9.9h0M23.3 9.2h0M38.2 50.8h0M26.5 37.6h0M42.3 19.3h0M34.4 23.6h0M28.9 39.6h0M18.6 37.4h0M37.7 9.4h0M13.8 15.8h0M30.5 17.4h0M44.4 32.4h0" stroke="#126012" stroke-width="1.0" stroke-linecap="round" fill="none"/>
<path d="M25.7 52.9h0M36.2 13.5h0M42.1 32.7h0M36.8 22.7h0M14.2 33.7h0M25.3 21.1h0M47.5 15.8h0M28 32.6h0M26.8 49.9h0M12.3 23.6h0M46.2 32.3h0M29.9 54.2h0M29.7 13.7h0M11.8 21h0" stroke="#126012" stroke-width="0.5" stroke-linecap="round" fill="none"/>
<path d="M36.5 52.8h0M23 50.9h0M29.2 9.8h0M30.4 13.5h0M26.9 47.4h0M34.9 44.3h0M22.2 22.6h0M18.1 41.5h0M35.3 25.2h0M49.2 23.2h0M21.8 32.8h0M40.5 14.1h0M19 22.4h0M15.4 32.9h0M32 43.3h0M12.5 15.7h0M11.9 20.5h0M27.3 50.6h0M31.1 46.7h0M23.4 22.5h0M29.4 11.2h0M40.2 37.5h0" stroke="#187a18" stroke-width="1.0" stroke-linecap="round" fill="none"/>
<path d="M22.2 35h0M30.7 40.7h0M35.9 44.6h0M23.3 41.9h0M40.8 38.8h0M42.8 36.9h0M35.2 41.9h0M17 21.4h0M31.9 40.5h0M34.8 41.8h0M39.7 28.7h0M30.4 13.1h0" stroke="#1e961e" stroke-width="0.5" stroke-linecap="round" fill="none"/>
<path d="M10.6 27.1h0M41.7 18.8h0M48.5 21h0M45.2 30.5h0M42.5 15.9h0M37.9 38.9h0M39 30.8h0M23.8 30h0M45.5 24.6h0M35.4 43.6h0M18.6 37.2h0M29.6 30.1h0M28.9 18.3h0M31.8 12.5h0M33.3 37.6h0M36.7 48.1h0M26.3 47.8h0M18.6 14.1h0M29.2 9.3h0M9.8 26.3h0M33.4 40.5h0M11.4 33.5h0M18.4 21.7h0M38.7 34.8h0" stroke="#1e961e" stroke-width="1.0" stroke-linecap="round" fill="none"/>
<path d="M44 14.8h0M37.5 38.4h0M49.3 39.4h0M33.3 27.1h0M33.8 34.8h0M11 20.2h0M35.6 10.7h0M20.9 42.3h0M10.2 22.7h0M15.6 30.9h0M36.4 24.4h0M31.6 17.6h0M14 45.5h0M11.1 28.6h0M43.7 10.6h0M46.4 21.1h0M12.6 30.6h0M22.5 23.3h0M17.1 36.9h0M15.1 38.6h0" stroke="#28b028" stroke-width="1.0" stroke-linecap="round" fill="none"/>
<path d="M14.3 35.9h0M12.9 39.5h0M33 21.2h0M11.1 42.5h0M41 31h0M29.2 32.7h0M14.2 32.6h0M18 40.8h0M25.1 26.5h0M44.3 15.6h0M43 45.3h0" stroke="#28b028" stroke-width="0.5" stroke-linecap="round" fill="none"/>
<path d="M34 5.2h0M43.2 16.7h0M14.5 9.1h0M11 52.5h0M17.3 52.5h0M14.3 47.3h0" stroke="#1e961e" stroke-width="1.0" stroke-linecap="round" fill="none"/>
<path d="M21.6 5.5h0M13.4 10.3h0M13.3 11.5h0M6.9 17.9h0M7.7 22.7h0M40.8 38.1h0M7.2 32h0M5.9 27.2h0M6.3 23.7h0M27.4 52.8h0M4.7 27.9h0M47.9 38.1h0" stroke="#28b028" stroke-width="1.0" stroke-linecap="round" fill="none"/>
<path d="M40.4 14.2h0M15.3 15.9h0M29.3 2.6h0M28.8 54.6h0M4.5 32h0M9.8 28.7h0M6.1 37.4h0" stroke="#126012" stroke-width="1.0" stroke-linecap="round" fill="none"/>
<path d="M46.2 27h0M20.8 49.9h0M42.9 16.1h0M36.3 55.7h0M47.6 22.9h0M9.8 21.7h0M5.6 34.9h0M34 4.2h0" stroke="#187a18" stroke-width="0.5" stroke-linecap="round" fill="none"/>
<path d="M45.6 35.4h0M16.3 10.9h0M38.2 51.8h0M34.1 51.7h0M47.6 21.8h0M47.2 17.5h0M7.5 34.7h0M26.1 10.1h0" stroke="#126012" stroke-width="0.5" stroke-linecap="round" fill="none"/>
<path d="M47.6 21.4h0M11.6 9.3h0M8.5 43.5h0M34.8 7.6h0M13.4 50.2h0M39.1 11.9h0M31.5 4.7h0M18.6 52h0" stroke="#187a18" stroke-width="1.0" stroke-linecap="round" fill="none"/>
<path d="M32.9 3.6h0M24.5 58.1h0M43.7 40.3h0M35.2 53.4h0M42.9 37.6h0" stroke="#28b028" stroke-width="0.5" stroke-linecap="round" fill="none"/>
<path d="M37.8 50.5h0M4.5 20.6h0M32.3 9.1h0M26.4 58.1h0M15.2 5.7h0M33.3 10.6h0" stroke="#1e961e" stroke-width="0.5" stroke-linecap="round" fill="none"/>
<text x="52.2" y="56" font-size="5.3" text-anchor="end" fill="#fff" font-weight="bold">5μm</text>
<rect x="40.9" y="57.1" width="11.8" height="1.1" fill="#fff" stroke="none" stroke-width="1"/>
</svg>
<svg x="441.8" y="734.5" width="54.4" height="59.6" overflow="hidden">
<rect x="0" y="0" width="54.4" height="59.6" fill="#000" stroke="none" stroke-width="1"/>
<ellipse cx="36" cy="37" rx="5.5" ry="9" transform="rotate(10 36 37)" fill="#16169a" opacity="0.22" filter="url(#b1)"/>
<ellipse cx="36" cy="37" rx="5.335" ry="8.73" transform="rotate(10 36 37)" fill="none" stroke="#2828e0" stroke-width="1.04" opacity="0.27" stroke-dasharray="3 1.5 1 2" filter="url(#b05)"/>
<g opacity="0.36">
<path d="M38.1 30.5h0M36.5 41.3h0M40.4 32.2h0M35.3 28.8h0M37 31.6h0M36.8 45.2h0M39.1 29.6h0M33.1 40.3h0M35.4 40.2h0M38.4 34.2h0M30.7 38.7h0M34.8 37h0M34.5 33.1h0M36.4 37.3h0M36 43h0M40.1 34.7h0M31.3 33.6h0M35.6 32.2h0M33.5 36.2h0M33.5 37h0M31.7 34.3h0M40.2 39h0M33.7 44.8h0M34.3 38.3h0" stroke="#2a2ad0" stroke-width="0.9" stroke-linecap="round" fill="none"/>
</g>
<path d="M37.3 39.8L38 39M33.7 32.5L32.9 34M37.7 39.9L35 42.1M33.6 32L35.9 32.4" stroke="#2c2ce8" stroke-width="0.8" opacity="0.3" fill="none" filter="url(#b05)"/>
<text x="52.2" y="56" font-size="5.3" text-anchor="end" fill="#fff" font-weight="bold">5μm</text>
<rect x="40.9" y="57.1" width="11.8" height="1.1" fill="#fff" stroke="none" stroke-width="1"/>
</svg>
<svg x="497.8" y="734.5" width="54.4" height="59.6" overflow="hidden">
<rect x="0" y="0" width="54.4" height="59.6" fill="#000" stroke="none" stroke-width="1"/>
<ellipse cx="36" cy="37" rx="5.5" ry="9" transform="rotate(10 36 37)" fill="#16169a" opacity="0.22" filter="url(#b1)"/>
<ellipse cx="36" cy="37" rx="5.335" ry="8.73" transform="rotate(10 36 37)" fill="none" stroke="#2020d0" stroke-width="0.72" opacity="0.27" stroke-dasharray="3 1.5 1 2" filter="url(#b05)"/>
<g opacity="0.36">
<path d="M32.5 35.8h0M40 33.7h0M39.6 36.1h0M30.8 36h0M31.8 42h0M37.1 42h0M32 41.1h0M34.8 31.8h0M38.7 30.2h0M39.1 28.9h0M32.5 42.4h0M36.3 44.6h0M37.3 43.6h0M41.3 37.7h0M36.9 44.9h0M34.5 37.2h0M35.5 32.7h0M36.8 31h0M38.2 28.6h0M36.1 32.2h0M34 36.2h0M35 39.1h0M38.9 40.2h0M39.9 32.5h0" stroke="#2a2ad0" stroke-width="0.9" stroke-linecap="round" fill="none"/>
</g>
<path d="M36.7 39.6L34.7 37.7M37.3 38.7L34.8 37.9M38.5 37.2L41.3 35.7M34.6 38.5L32.8 40.1" stroke="#2c2ce8" stroke-width="0.8" opacity="0.3" fill="none" filter="url(#b05)"/>
<path d="M6 21.3h0M33.9 50.4h0M50.4 28.1h0M48 22.3h0" stroke="#781010" stroke-width="1.5" stroke-linecap="round" fill="none"/>
<path d="M46.4 31.8h0M30 8h0M3.7 44.7h0M43.3 41.9h0M7.8 21.3h0M47.4 32.7h0M38.3 9.9h0M10.9 50h0M36 47.4h0M23.2 52.2h0M6.5 18.3h0M23.8 55.7h0M19.7 57.9h0M47.5 20.8h0M48.3 26.8h0" stroke="#e05020" stroke-width="1.0" stroke-linecap="round" fill="none"/>
<path d="M27.7 56.7h0M20.5 55h0M46.6 23.7h0" stroke="#f0d040" stroke-width="0.5" stroke-linecap="round" fill="none"/>
<path d="M12.7 14.3h0M38.5 54.6h0M21.9 8.4h0M16.4 54.5h0M7.1 34.9h0M25 52.8h0M6.9 37.4h0M33.5 11.4h0M23.4 3.4h0M14.9 10.6h0M24.9 6.1h0M45.9 40.1h0M11.7 12.8h0M45.3 41.4h0M45.3 28.5h0M13.8 14.5h0M26.5 52.5h0M47.8 25h0M8.6 42.4h0" stroke="#e08020" stroke-width="1.0" stroke-linecap="round" fill="none"/>
<path d="M41.6 20h0M21.9 54.5h0M44.8 38.5h0M10.7 17.9h0M47.7 25.8h0M43.3 46.6h0M3.5 16.6h0M25.2 55.5h0M33.8 7.8h0M22.2 54.9h0M47.9 38.4h0M48 26.4h0M52 30.7h0M18.8 10.7h0M5.1 46.4h0M6.8 32.8h0M47.4 22.6h0M13.6 14.3h0M45.8 31.8h0M15.4 7.8h0M27.3 55.3h0M46.5 19.3h0" stroke="#f0d040" stroke-width="1.0" stroke-linecap="round" fill="none"/>
<path d="M12.4 13.3h0M6.8 17h0M4.9 37.8h0M10.6 31h0M23.9 55.4h0M30 54.1h0M9.4 37.3h0M43.2 43h0M4.4 29.6h0M26.9 4.4h0M19.3 52.4h0M8.5 33.6h0M18.7 5.7h0" stroke="#781010" stroke-width="1.0" stroke-linecap="round" fill="none"/>
<path d="M8.2 40.2h0M39.1 44.3h0M26.3 51.2h0M11.7 13.8h0M13.2 14.8h0M45.3 31.3h0" stroke="#dc2828" stroke-width="0.5" stroke-linecap="round" fill="none"/>
<path d="M47.3 30.1h0M25.5 56.7h0M6.8 24.9h0M9.3 44.3h0M38.7 45.8h0M1.1 22.8h0M47.1 28.7h0M7.3 35.9h0M5.8 29.4h0M29.4 53.8h0M10.8 12.4h0M20.4 55.5h0M48.4 24.3h0M11.6 19.4h0M5.7 35.7h0M13.4 12h0M45.5 40.2h0M21 11.4h0M16.4 49.7h0M41.8 6.8h0M10.1 39h0M35 6.8h0M47 32.6h0M46.6 19.5h0M34.5 52.7h0" stroke="#c01c1c" stroke-width="1.0" stroke-linecap="round" fill="none"/>
<path d="M24.8 6.1h0M48.5 38.2h0M30.3 51.7h0M23 4.5h0M47.7 20.9h0M45 15.4h0M36.6 6.5h0M21.5 56.1h0M46.5 25.9h0M11.9 24h0M46.1 30.8h0M39.3 13h0M25.7 53.7h0M48.3 21.3h0M34.5 52.8h0M47.1 27h0M1.9 31.6h0M16.2 49h0M50.2 28.4h0M37.9 51.6h0M43.4 16.8h0M42.4 20.6h0" stroke="#f0b020" stroke-width="1.0" stroke-linecap="round" fill="none"/>
<path d="M11.9 14.8h0M45 44h0M21.7 52h0M19.4 8.9h0M49 35.6h0M8.3 39.1h0M45.2 41.2h0M41.6 49.5h0M21.9 2.6h0M7.4 14h0M47.5 33.9h0M42.1 46.2h0M42.2 20.5h0M23.8 47h0M33 5.6h0M28.9 2.4h0M5.9 36h0M8.7 13h0M35.9 8.6h0M19.2 6.8h0M44.8 22h0" stroke="#dc2828" stroke-width="1.0" stroke-linecap="round" fill="none"/>
<path d="M19.7 54.5h0M36.3 5.3h0M18.5 52.4h0" stroke="#e08020" stroke-width="1.5" stroke-linecap="round" fill="none"/>
<path d="M10.2 20.6h0M25.9 52.9h0M46.2 26.8h0M28.3 5.9h0M5.6 31.5h0" stroke="#f0b020" stroke-width="0.5" stroke-linecap="round" fill="none"/>
<path d="M37 48.9h0M12.8 12.3h0M36.6 51.4h0M40.7 17.2h0M43.3 44.7h0M36.2 50.8h0M3 37.2h0M8.8 43.8h0M45.7 45.4h0M38.5 47.3h0M15.8 9.7h0M44.6 42.8h0M35.2 10.7h0M3.7 32.1h0M13.4 11.4h0M45.1 20.3h0M29.9 56h0M36.8 52h0M4.9 31.2h0M15 51.7h0M46.6 29.6h0M5.4 34.8h0M41 45.9h0" stroke="#9a1414" stroke-width="1.0" stroke-linecap="round" fill="none"/>
<path d="M7.3 32.4h0M41.1 42.2h0" stroke="#e05020" stroke-width="1.5" stroke-linecap="round" fill="none"/>
<path d="M6.8 18.7h0M34.1 51.1h0" stroke="#f0b020" stroke-width="1.5" stroke-linecap="round" fill="none"/>
<path d="M40.3 45.2h0M10.4 12.7h0" stroke="#781010" stroke-width="0.5" stroke-linecap="round" fill="none"/>
<path d="M21.3 6.3h0M11.4 22.5h0M9.4 45.6h0" stroke="#c01c1c" stroke-width="0.5" stroke-linecap="round" fill="none"/>
<path d="M37.4 8.9h0M8.8 49.5h0M28.9 6.6h0" stroke="#dc2828" stroke-width="1.5" stroke-linecap="round" fill="none"/>
<path d="M12.6 50.3h0M27.9 6.5h0" stroke="#9a1414" stroke-width="1.5" stroke-linecap="round" fill="none"/>
<path d="M12.2 10.2h0" stroke="#e05020" stroke-width="0.5" stroke-linecap="round" fill="none"/>
<path d="M17.9 7h0" stroke="#e08020" stroke-width="0.5" stroke-linecap="round" fill="none"/>
<path d="M13.3 48.6h0M2.7 30.2h0" stroke="#c01c1c" stroke-width="1.5" stroke-linecap="round" fill="none"/>
<path d="M22.4 33.8h0M7.9 26.5h0M24.8 8.8h0M29.7 43.7h0M26.4 40.8h0M13.1 31.3h0M13.6 48.4h0M23.8 33.5h0M8.3 35.6h0M39.3 42.6h0" stroke="#781010" stroke-width="1.0" stroke-linecap="round" fill="none"/>
<path d="M18.2 52.3h0M43.2 38h0M27 14.3h0M29.7 38.5h0" stroke="#e08020" stroke-width="0.5" stroke-linecap="round" fill="none"/>
<path d="M46.3 31.4h0M43 18.9h0M14.3 39.5h0M23.2 26.4h0" stroke="#dc2828" stroke-width="0.5" stroke-linecap="round" fill="none"/>
<path d="M44 41.6h0M34.7 37.5h0M21.2 38.7h0M32.3 45.2h0M39 40.2h0M34.3 43h0M23 22h0" stroke="#187a18" stroke-width="1.0" stroke-linecap="round" fill="none"/>
<path d="M30.5 10.2h0M35 16.1h0M34.9 27.2h0M13.6 30.8h0M13.2 37h0M18.7 26.7h0M32.1 16.3h0M38.6 43.3h0M40.9 17h0M19.2 21.8h0M18.2 15.9h0" stroke="#9a1414" stroke-width="1.0" stroke-linecap="round" fill="none"/>
<path d="M42.6 30h0M22.7 44.4h0M17.9 45.8h0M30.7 10.6h0M6.2 31.9h0" stroke="#126012" stroke-width="1.0" stroke-linecap="round" fill="none"/>
<path d="M32.8 36.6h0M19.8 35h0M13.9 48h0M9.7 39.1h0M23.5 6.3h0M36.4 17.6h0M30.1 50.7h0M11.4 39.7h0M12.1 29.1h0" stroke="#f0d040" stroke-width="1.0" stroke-linecap="round" fill="none"/>
<path d="M13.6 24.7h0M23.6 35.8h0M17.8 45.4h0M16.3 36.1h0M39.3 11.8h0M30.5 21h0M25.3 13.2h0M45.2 23.2h0M16.7 22h0M41.9 26.2h0" stroke="#28b028" stroke-width="1.0" stroke-linecap="round" fill="none"/>
<path d="M46.9 25.4h0M16.8 43.3h0M30.4 37.4h0M16.9 10.9h0" stroke="#9a1414" stroke-width="0.5" stroke-linecap="round" fill="none"/>
<path d="M18.7 29.9h0M35.8 31.8h0M32.3 20.4h0M28.8 16.4h0M35.7 18.3h0M41.6 36.2h0M28.8 48.6h0M15 12.5h0M40.3 14.1h0" stroke="#f0b020" stroke-width="1.0" stroke-linecap="round" fill="none"/>
<path d="M16.9 33.8h0M34.4 10.2h0M28.9 15.2h0" stroke="#e08020" stroke-width="1.0" stroke-linecap="round" fill="none"/>
<path d="M34.1 51.2h0M17.3 20.2h0M20.4 38.4h0M41.3 27.5h0M27.4 43.4h0M35 23.4h0M35.6 15.8h0" stroke="#e05020" stroke-width="1.0" stroke-linecap="round" fill="none"/>
<path d="M9.9 39.2h0M23.3 39.2h0M29.9 6.1h0M44 17.8h0" stroke="#dc2828" stroke-width="1.0" stroke-linecap="round" fill="none"/>
<path d="M41.9 33.6h0M34.5 25.7h0M41.1 10.5h0M31.9 48.8h0M31.7 29.1h0M41.3 48.5h0" stroke="#126012" stroke-width="0.5" stroke-linecap="round" fill="none"/>
<path d="M24.8 42.8h0M26.6 45.7h0M33.6 18.8h0M38.7 37.7h0M21.3 34.9h0M10 40.9h0" stroke="#c01c1c" stroke-width="1.0" stroke-linecap="round" fill="none"/>
<path d="M32.5 47.6h0M31.3 27h0M19.4 21.7h0M36.4 52.6h0M14.7 45.1h0" stroke="#1e961e" stroke-width="1.0" stroke-linecap="round" fill="none"/>
<path d="M22 28.1h0" stroke="#781010" stroke-width="0.5" stroke-linecap="round" fill="none"/>
<path d="M35.2 44.8h0M34 17.1h0" stroke="#28b028" stroke-width="0.5" stroke-linecap="round" fill="none"/>
<path d="M42.8 29.8h0M31 41.6h0" stroke="#e05020" stroke-width="0.5" stroke-linecap="round" fill="none"/>
<path d="M29.4 53.5h0M34.9 20.1h0M15 35.2h0" stroke="#f0d040" stroke-width="0.5" stroke-linecap="round" fill="none"/>
<path d="M30.4 49.9h0M13.1 46.7h0M14.8 24.8h0M27.9 7.9h0" stroke="#f0b020" stroke-width="0.5" stroke-linecap="round" fill="none"/>
<path d="M7.4 23.1h0" stroke="#187a18" stroke-width="0.5" stroke-linecap="round" fill="none"/>
<path d="M13.6 35.9h0" stroke="#1e961e" stroke-width="0.5" stroke-linecap="round" fill="none"/>
<path d="M22.6 6.5h0M39.8 24h0" stroke="#c01c1c" stroke-width="0.5" stroke-linecap="round" fill="none"/>
<rect x="0" y="16" width="18.5" height="25.5" fill="none" stroke="#e8e8e8" stroke-width="0.9"/>
<text x="52.2" y="56" font-size="5.3" text-anchor="end" fill="#fff" font-weight="bold">5μm</text>
<rect x="40.9" y="57.1" width="11.8" height="1.1" fill="#fff" stroke="none" stroke-width="1"/>
</svg>
<svg x="554" y="734.5" width="54.4" height="59.6" overflow="hidden">
<rect x="0" y="0" width="54.4" height="59.6" fill="#000" stroke="none" stroke-width="1"/>
<ellipse cx="34" cy="28" rx="8" ry="6" transform="rotate(0 34 28)" fill="#16169a" opacity="0.3" filter="url(#b1)"/>
<ellipse cx="34" cy="28" rx="7.76" ry="5.82" transform="rotate(0 34 28)" fill="none" stroke="#2020b0" stroke-width="0.64" opacity="0.36" stroke-dasharray="3 1.5 1 2" filter="url(#b05)"/>
<g opacity="0.48">
<path d="M28.3 31.9h0M26.9 27.1h0M32.5 23.2h0M33.4 26.7h0M36.2 24.3h0M35 33.6h0M30.7 26.8h0M37.3 27.6h0M34.1 26.3h0M40.2 27.9h0M41.2 25.8h0M31.1 33.1h0M40.3 28.4h0M33.3 27.7h0M30 23.1h0M31.3 27.7h0M37.5 31.2h0M34.6 22.5h0M28.8 27.4h0M31.1 31.6h0M39.8 24.8h0M27.9 24.6h0M38.2 25.4h0M27.9 27.1h0" stroke="#2a2ad0" stroke-width="0.9" stroke-linecap="round" fill="none"/>
</g>
<path d="M31.3 29.8L27.7 29.3M31.3 26.8L34.1 27.9M30.1 28.6L31.3 29M32 27.7L28.7 29" stroke="#2c2ce8" stroke-width="0.8" opacity="0.4" fill="none" filter="url(#b05)"/>
<path d="M31.4 38.5h0M3.4 9.5h0M35.9 15.7h0M43.2 29.8h0M7.2 48.1h0M26.2 55.1h0" stroke="#28b028" stroke-width="1.0" stroke-linecap="round" fill="none"/>
<path d="M5.2 41.3h0M23 0.8h0M43.7 28.8h0M19.1 33.9h0M21.8 0.6h0M36 53h0M2 42.4h0" stroke="#9a1414" stroke-width="1.5" stroke-linecap="round" fill="none"/>
<path d="M28.4 37.1h0M13.8 16.4h0M43.4 8.4h0M21.1 38.5h0M48.6 3.3h0M18.4 35h0M1.2 47.1h0M46.4 2.1h0M37.7 46.2h0" stroke="#9a1414" stroke-width="1.0" stroke-linecap="round" fill="none"/>
<path d="M43.6 26.2h0M8.9 12.4h0M42.9 55.8h0M43.2 1.8h0M34 6.6h0M4.3 12.6h0M47.7 7.3h0" stroke="#dc2828" stroke-width="1.5" stroke-linecap="round" fill="none"/>
<path d="M3.6 35.4h0M15.4 29h0M28.4 50.4h0M49.3 15.5h0M27 0.7h0M20.3 10.7h0M32.7 18.8h0M53.2 15.2h0" stroke="#126012" stroke-width="1.5" stroke-linecap="round" fill="none"/>
<path d="M3 57.1h0M2.9 45.9h0M40.6 9.7h0M32.1 2.8h0M18.3 21.5h0M7.5 2.5h0M27.7 30.3h0M43 37.9h0M9.7 54.9h0" stroke="#187a18" stroke-width="1.5" stroke-linecap="round" fill="none"/>
<path d="M40.8 46.7h0M46.9 22.5h0M35.4 54h0M38.1 11.3h0M5.9 51h0M29.4 42.7h0M11.6 13.3h0" stroke="#dc2828" stroke-width="1.0" stroke-linecap="round" fill="none"/>
<path d="M18.8 47.7h0M12.5 58.4h0M43.7 27.3h0M15.1 27.3h0M48.3 44.6h0" stroke="#781010" stroke-width="1.5" stroke-linecap="round" fill="none"/>
<path d="M33.4 7.6h0M45.5 7.9h0M45.1 6.7h0M52.1 17.3h0M20.1 8h0M26.7 45.3h0M9.4 51.3h0" stroke="#1e961e" stroke-width="1.0" stroke-linecap="round" fill="none"/>
<path d="M42.8 45.9h0M51.4 45.7h0" stroke="#28b028" stroke-width="1.5" stroke-linecap="round" fill="none"/>
<path d="M38.1 26.5h0M34.9 23.4h0M52.6 27.2h0M29 23.7h0M39.9 10.1h0" stroke="#c01c1c" stroke-width="1.5" stroke-linecap="round" fill="none"/>
<path d="M49.1 35.7h0M5.3 29.2h0M5.4 28.3h0M31.9 51h0" stroke="#c01c1c" stroke-width="1.0" stroke-linecap="round" fill="none"/>
<path d="M43.2 8.4h0M41 41.1h0M50.6 58.8h0M30.2 27h0M45.3 13.5h0M27.7 17.8h0" stroke="#781010" stroke-width="1.0" stroke-linecap="round" fill="none"/>
<path d="M20.8 52.8h0M28.5 28.6h0" stroke="#187a18" stroke-width="1.0" stroke-linecap="round" fill="none"/>
<path d="M45.7 32.8h0M15.7 23.6h0M42.8 21h0" stroke="#1e961e" stroke-width="1.5" stroke-linecap="round" fill="none"/>
<path d="M15.4 22.4h0M31.3 55.5h0M19.7 2.2h0" stroke="#126012" stroke-width="1.0" stroke-linecap="round" fill="none"/>
<path d="M7.1 38.3h0" stroke="#f0b020" stroke-width="2.5" stroke-linecap="round" fill="none"/>
<path d="M47.5 8.3h0M13.7 48.4h0" stroke="#f08020" stroke-width="2.5" stroke-linecap="round" fill="none"/>
<path d="M15 40h0M31.2 30.2h0" stroke="#f0d040" stroke-width="2.0" stroke-linecap="round" fill="none"/>
<path d="M53.4 11.6h0M32.2 16.6h0M14.2 41.3h0M22.1 34.1h0M6 41.6h0M14.4 36.4h0" stroke="#f0b020" stroke-width="2.0" stroke-linecap="round" fill="none"/>
<path d="M29.6 27.8h0" stroke="#e05020" stroke-width="2.5" stroke-linecap="round" fill="none"/>
<path d="M36.1 19.1h0M45.9 22.4h0M12.2 37.5h0M26.7 28.2h0M13.1 36.9h0" stroke="#e05020" stroke-width="2.0" stroke-linecap="round" fill="none"/>
<path d="M12.6 36.2h0M4.3 47.3h0M30 17.2h0" stroke="#f08020" stroke-width="2.0" stroke-linecap="round" fill="none"/>
<path d="M38.8 7.4h0M38.9 20.5h0M3.7 48.9h0" stroke="#f0d040" stroke-width="2.5" stroke-linecap="round" fill="none"/>
<path d="M33.4 18.4h0" stroke="#f0d040" stroke-width="1.5" stroke-linecap="round" fill="none"/>
<path d="M19.4 35.7h0M41 17.5h0M33.5 18.8h0" stroke="#f08020" stroke-width="1.5" stroke-linecap="round" fill="none"/>
<path d="M32.6 28.1h0" stroke="#e05020" stroke-width="1.5" stroke-linecap="round" fill="none"/>
<path d="M27.9 50h0M4.9 15h0M20.6 24.3h0" stroke="#f0b020" stroke-width="2.5" stroke-linecap="round" fill="none"/>
<path d="M5.6 6.2h0M20 34.2h0" stroke="#f0d040" stroke-width="2.5" stroke-linecap="round" fill="none"/>
<path d="M31.4 35.9h0M22.3 50.7h0M15.4 58h0M42.8 33.3h0M11.1 3.3h0" stroke="#f0d040" stroke-width="2.0" stroke-linecap="round" fill="none"/>
<path d="M46.4 1.7h0M25 45.1h0" stroke="#f0b020" stroke-width="2.0" stroke-linecap="round" fill="none"/>
<path d="M36 12L33.8 9.8" stroke="#fff" stroke-width="1.3" fill="none"/>
<path d="M35.8 9.6L33 9L33.6 11.8" stroke="#fff" stroke-width="0.5" fill="#fff"/>
<path d="M14 30L11.8 27.8" stroke="#fff" stroke-width="1.3" fill="none"/>
<path d="M13.8 27.6L11 27L11.6 29.8" stroke="#fff" stroke-width="0.5" fill="#fff"/>
<path d="M16 26L18.2 23.8" stroke="#fff" stroke-width="1.3" fill="none"/>
<path d="M18.4 25.8L19 23L16.2 23.6" stroke="#fff" stroke-width="0.5" fill="#fff"/>
<path d="M40 29L42.2 26.8" stroke="#fff" stroke-width="1.3" fill="none"/>
<path d="M42.4 28.8L43 26L40.2 26.6" stroke="#fff" stroke-width="0.5" fill="#fff"/>
<path d="M0 46L2.2 43.8" stroke="#fff" stroke-width="1.3" fill="none"/>
<path d="M2.4 45.8L3 43L0.2 43.6" stroke="#fff" stroke-width="0.5" fill="#fff"/>
<path d="M10 49L12.2 46.8" stroke="#fff" stroke-width="1.3" fill="none"/>
<path d="M12.4 48.8L13 46L10.2 46.6" stroke="#fff" stroke-width="0.5" fill="#fff"/>
<path d="M15 46L17.2 43.8" stroke="#fff" stroke-width="1.3" fill="none"/>
<path d="M17.4 45.8L18 43L15.2 43.6" stroke="#fff" stroke-width="0.5" fill="#fff"/>
<path d="M29 44L31.2 41.8" stroke="#fff" stroke-width="1.3" fill="none"/>
<path d="M31.4 43.8L32 41L29.2 41.6" stroke="#fff" stroke-width="0.5" fill="#fff"/>
<path d="M35 50L37.2 47.8" stroke="#fff" stroke-width="1.3" fill="none"/>
<path d="M37.4 49.8L38 47L35.2 47.6" stroke="#fff" stroke-width="0.5" fill="#fff"/>
<path d="M31.2 7.2h0M9.2 25.2h0M20.8 21.2h0M44.8 24.2h0M4.8 41.2h0M14.8 44.2h0M19.8 41.2h0M33.8 39.2h0M39.8 45.2h0" stroke="#f0a020" stroke-width="2.6" stroke-linecap="round" fill="none"/>
<path d="M31.2 7.2h0M9.2 25.2h0M20.8 21.2h0M44.8 24.2h0M4.8 41.2h0M14.8 44.2h0M19.8 41.2h0M33.8 39.2h0M39.8 45.2h0" stroke="#f8e040" stroke-width="1.4" stroke-linecap="round" fill="none"/>
<text x="52.2" y="56" font-size="5.3" text-anchor="end" fill="#fff" font-weight="bold">2μm</text>
<rect x="40.9" y="57.1" width="11.8" height="1.1" fill="#fff" stroke="none" stroke-width="1"/>
</svg>
<svg x="330" y="796" width="54.4" height="58.3" overflow="hidden">
<rect x="0" y="0" width="54.4" height="58.3" fill="#000" stroke="none" stroke-width="1"/>
<path d="M48.5 27.1h0M27.8 43.6h0M32 38.3h0M21.9 28.3h0M27.9 48.2h0M29.5 32.1h0M18.7 40.3h0M28.8 57.6h0M15.3 20h0M46.4 34.9h0M43.2 5.5h0M13.4 22.4h0M7 40.3h0M44.6 15.6h0M11.1 32.7h0M19.1 38.8h0M43.2 49.4h0M24.4 44.8h0M50.7 17.1h0M27.6 19h0M42.5 23.6h0M13.9 30.5h0M45.7 39.4h0M11.1 29.8h0M43.2 34.2h0M14.8 20.7h0M17 39.8h0M34 19.9h0M41.7 11.6h0M51.1 38.9h0M1.9 29.6h0M3.3 27.1h0M29.3 24.4h0M15.3 32.6h0M18.2 32.8h0M34.1 41.1h0M33.9 33.1h0M30.4 1.6h0M45.1 9.1h0M21.3 48h0M11.6 32.3h0M21.4 38.7h0M39.5 16.8h0M5.1 32.9h0M27 33h0M28.8 15.9h0M29.6 42.3h0M29 8.5h0M14.4 27.6h0M26.5 8.3h0M19.4 35.1h0M11.9 13.9h0M47.2 29.9h0M28 5.5h0M47.1 45.4h0M37.9 31.3h0M6.2 43.5h0M46.1 49.2h0M15.9 40.8h0M36.3 33.6h0M38 2.8h0M18.3 47.9h0M30.3 45.9h0M30.5 35.8h0M3.5 36.8h0M8.7 10.7h0M15.7 28.6h0" stroke="#dc2828" stroke-width="1.0" stroke-linecap="round" fill="none"/>
<path d="M46 43.4h0M15.2 53.7h0M30.1 44h0M25.4 56.3h0M19.3 5.5h0M14.5 54.1h0M15 48.5h0M19 1.5h0M15.3 36.9h0M35.8 14h0M33.2 8.9h0M42.5 46.8h0M29.4 20.2h0M2.9 40.7h0M35.1 30.3h0M42 5.7h0M15.9 22.4h0M47.9 32.4h0M31.9 37.1h0M35.3 8.1h0M30.9 53.5h0M19.3 34.7h0M28.6 16.4h0M45.9 20.4h0M24.7 36.3h0M5.6 25.5h0M46.6 16.9h0M13.4 50.9h0M25.4 4.1h0M19.5 36.6h0M37.7 36.5h0M39.3 46.3h0M10.8 46.3h0M11.9 41.4h0M33.6 35.1h0M26 42.3h0M4.7 27.2h0M28.2 29.9h0M12.4 37.4h0M3.9 19.1h0M28.7 20.1h0M42.3 49.5h0M44.6 26h0M42.2 30.9h0M29.1 53.4h0M23.7 33h0M18.9 46h0M2.6 40.4h0M43.5 22.7h0M6.6 28.6h0M44.8 24.5h0M24.9 39.4h0M21.8 26.1h0M34.8 7.7h0M19 53.7h0M33 32.2h0M25.3 28h0M42.9 51.1h0M11.5 29.7h0M34.6 42.7h0M4.3 29.9h0M12.9 41.8h0M21.3 52.8h0M40.2 15.3h0M6.7 17.7h0M31 13.5h0M5.8 42.5h0" stroke="#9a1414" stroke-width="1.0" stroke-linecap="round" fill="none"/>
<path d="M43.6 32.1h0M37.2 39.5h0M32.5 6h0M34.6 36.3h0M15.3 34.9h0M8.2 16.4h0M19 36.5h0M53.1 27.5h0M42.6 24.1h0M51.9 21.1h0M47.7 16.3h0M3.9 36.5h0M1.9 19.8h0M27.7 52.6h0M33.6 55.6h0M12.2 39.9h0M20.9 16.1h0M32.1 19.3h0M13.8 31.2h0M18.5 29.6h0M23.6 32.6h0M34.7 5.5h0M41.2 23.1h0M14.7 17.8h0M42.1 26.8h0M41.3 15.7h0M34.1 55.9h0M34 48.6h0M12.8 49.4h0M49.8 38h0M19.4 55.6h0M7.3 44h0M20.6 36h0M28.2 12.4h0M25.1 30.7h0M19.9 27.7h0M23.8 38.7h0M30.1 51.9h0M43.6 24.3h0M13 6.4h0M39.3 23.9h0M22 53.7h0M35.9 53.5h0M38.6 47h0M16 18.5h0M31.6 43.3h0M19.1 27.5h0" stroke="#c01c1c" stroke-width="1.0" stroke-linecap="round" fill="none"/>
<path d="M44 47.7h0M22.1 44.5h0M12.9 4.2h0M7.1 21.9h0M42.4 15h0M29.3 42.9h0M9 20.7h0M14.2 22h0M46.6 18.9h0M9.2 43h0M44 24.5h0M16.7 4h0M14.1 6.7h0M48.6 10.1h0M24.8 40.2h0M15.5 27.3h0M19.3 29h0M36 4.6h0M41.7 34.5h0M26.7 43.3h0M22.8 14.4h0M47.7 15.2h0M47.1 40.9h0M17.8 46.4h0M3.9 18.9h0M5.1 28.2h0" stroke="#781010" stroke-width="0.5" stroke-linecap="round" fill="none"/>
<path d="M15.7 49.6h0M38.7 12.1h0M28 29.3h0M23.9 2.9h0M34.6 23.8h0M20.7 13.1h0M15 51.2h0M37.1 13.3h0M22.3 34.6h0M41.7 14.4h0M31.9 18.7h0M33.3 28.9h0M37.6 44.9h0M35.5 11.9h0M22.6 32.6h0M32.4 14.6h0M29.2 48.2h0M22.1 39.6h0M4.8 37.4h0M14.9 18.5h0M29.7 38h0M11.7 7.4h0M46.8 14.9h0M31.7 8.3h0M44.4 23.5h0M52.9 22.8h0" stroke="#c01c1c" stroke-width="0.5" stroke-linecap="round" fill="none"/>
<path d="M18 33.8h0M20.6 16.3h0M35.2 54h0M51 17.1h0M43.1 25.2h0M28 39.6h0M17.9 46.6h0M28.9 25.1h0M49.8 12.5h0M29.1 5.3h0M36.4 21.5h0M50.8 19.7h0M31.3 14.6h0M8.8 22.3h0M32 55.2h0M1.2 22.8h0M5.8 41.6h0M36.2 10.1h0M33.8 55.1h0M16.1 46.6h0M1.6 35.5h0M18.3 1.1h0" stroke="#9a1414" stroke-width="0.5" stroke-linecap="round" fill="none"/>
<path d="M21.8 25.5h0M30.3 7.6h0M30.8 2.4h0M29.5 37.6h0M39.8 4.4h0M7.5 33.4h0M40.5 39.7h0M20.5 4.9h0M7.4 45.1h0M41.4 35.9h0M38.9 47.2h0M29.2 53.7h0M53 31.4h0M41.7 37.4h0M12.7 52h0M30.8 25h0M25.7 17.4h0M19.4 56.2h0M39.9 4.1h0M15.8 31.7h0M34.3 6.8h0M13.2 20.7h0M21.4 45h0M37.8 16.3h0M42.2 14.3h0M31.4 8.9h0M46.8 18.7h0M26 7.3h0M17.1 47.6h0M20.1 49.4h0M24.7 15.7h0M15.7 29.6h0M13.4 43.3h0M19.8 8.2h0M34.9 11.1h0M3.9 29.6h0M45.3 18.9h0M19.8 51.2h0M15.2 5.8h0M12.1 50h0M32.4 25.3h0M40 30.1h0M52.1 21.2h0M46.9 38.5h0M13.3 24.9h0M53.8 31.2h0M25 6.3h0M37 35.7h0M27.3 46h0M6.7 29.5h0M17.1 22.7h0M45 15.4h0M43.9 19.9h0M30.6 6.4h0M13.6 38.6h0M48.9 40.7h0M51.3 28h0M22.8 10.8h0M36.4 31.8h0" stroke="#781010" stroke-width="1.0" stroke-linecap="round" fill="none"/>
<path d="M38.5 13.4h0M17.3 48.1h0M17.1 13.9h0M27.7 18.5h0M34.1 26h0M44.9 39.2h0M32.4 50.9h0M11.9 19.2h0M44.6 36.2h0M37.4 54.1h0M38.3 31.6h0M39.3 41.8h0M47.8 31.9h0M29.2 7h0M45.9 25.3h0M37 18.8h0M11.8 21.5h0M44.7 24.6h0" stroke="#dc2828" stroke-width="0.5" stroke-linecap="round" fill="none"/>
<path d="M49.9 7.9h0M25.2 19.7h0M31.1 5.7h0M17.9 38.1h0M51.6 32.9h0M49.2 44h0M2.7 43.3h0M51.9 9.6h0M34.6 7.7h0M22.8 6.9h0M46 7.1h0M28.1 20.2h0M44.4 44.1h0M32.6 46.7h0M22.7 10.9h0M16.5 1.3h0M25.9 26h0M51.5 39.3h0M38.1 36.2h0M40.1 2.5h0" stroke="#f03030" stroke-width="1.5" stroke-linecap="round" fill="none"/>
<text x="52.2" y="54.7" font-size="5.3" text-anchor="end" fill="#fff" font-weight="bold">5μm</text>
<rect x="40.9" y="55.8" width="11.8" height="1.1" fill="#fff" stroke="none" stroke-width="1"/>
</svg>
<svg x="386.1" y="796" width="54.4" height="58.3" overflow="hidden">
<rect x="0" y="0" width="54.4" height="58.3" fill="#000" stroke="none" stroke-width="1"/>
<path d="M15.7 22.1h0M26.7 35.4h0M28.5 42.5h0M25 11.7h0M25.5 35h0M33.3 42.6h0M13.8 36.3h0M1.6 20.8h0M35.2 8.3h0M37.9 3.3h0M33.2 51.4h0M27.2 44.7h0M23.7 31.4h0M16.7 26.9h0M48.4 10.2h0M49.2 28.1h0M20.4 31.4h0M31.5 10.1h0M41.9 47.9h0M12.1 47.4h0M16.7 22.3h0M8 40.5h0M42.7 46.8h0M6.2 12.6h0M32.8 15.2h0M41.6 26.8h0" stroke="#126012" stroke-width="0.5" stroke-linecap="round" fill="none"/>
<path d="M48.6 31.6h0M23.3 11.1h0M25.7 37.4h0M46.3 27.4h0M9.5 19.4h0M13.1 10.9h0M39.2 10.1h0M48 14.7h0M15 8.9h0M50.2 38.9h0M11.5 32.9h0M14.8 36.1h0M34.4 35.2h0M14.7 35.5h0M20.7 41.3h0M18.8 35.6h0M43.8 37.5h0M15.5 27.6h0M10.8 10.3h0M19.8 47.6h0M38.2 12.3h0M40.2 41.2h0M46.9 44h0M47.3 27.2h0M21.6 40.1h0M28.9 45.4h0M29 50.8h0M26.5 17.2h0M20.4 22.5h0M8.9 48.4h0M25.5 47.6h0M48.1 42.8h0M18.3 15.5h0M25.7 9.6h0M13.8 53.5h0M38.5 43.4h0M1.8 24.6h0M18.5 48.8h0M43.3 31.6h0M31.3 22.6h0M16.7 12.6h0M27.4 34.5h0M28.2 4.3h0M50.5 30.7h0M6.8 38.5h0M4.9 29.2h0M13.6 4.5h0M40.8 19.9h0M35.4 8.7h0M44.7 14.8h0M24.8 1h0M45.3 41.5h0M32.2 11h0" stroke="#28b028" stroke-width="1.0" stroke-linecap="round" fill="none"/>
<path d="M9.7 11.1h0M32.4 4.6h0M31.7 42.7h0M13.1 20.8h0M44 28h0M3.9 15.7h0M17.7 28.6h0M33.8 5.4h0M25.5 10.6h0M15.9 25.2h0M14.8 8.1h0M36.7 19h0M31.5 34.2h0M39.9 18.8h0M36.7 0h0M11.5 6.8h0M28 2.1h0M30.5 31.9h0M36 17.5h0M26.7 4.8h0M42.2 12.2h0M17.8 25.6h0M43.7 33.4h0M15 9.7h0M14.3 44h0M18.2 16h0M50.1 35.7h0M28 38.9h0M33.2 25.7h0" stroke="#28b028" stroke-width="0.5" stroke-linecap="round" fill="none"/>
<path d="M28.9 51.7h0M13.4 20.4h0M19.1 35.3h0M43.6 11.6h0M10.9 37.6h0M21.3 23h0M29.9 55.8h0M14.1 47.2h0M15 45.9h0M46.9 35.5h0M50.4 14.7h0M18.1 38.8h0M25 13.1h0M47.6 32.2h0M50 17h0M19.9 43.7h0M30.6 30.9h0M8.8 41.1h0M46.3 26h0M19.3 36.3h0M42.3 26.9h0M5.1 43.6h0M18.3 41.2h0M30.3 55.3h0M30.2 29.9h0M43.2 14.3h0M30.9 15.9h0M49.2 35.1h0M6.6 30.1h0M49.5 22.8h0M43 9.6h0M42.9 12.5h0M11 42.6h0M16.1 49.8h0M40.3 45.2h0M52.3 32.1h0M40.2 26.5h0M2.9 19.6h0M30 21.7h0M35 28.4h0M31.8 30.4h0M50.4 14.2h0M44 46.4h0M44 22.6h0M18.2 53h0M22.5 13.5h0M17.8 39.5h0M11.4 41.7h0M37.5 15.7h0M52.4 32h0" stroke="#1e961e" stroke-width="1.0" stroke-linecap="round" fill="none"/>
<path d="M9.1 8.1h0M13.7 33.9h0M21.8 54.6h0M10.2 41h0M23.5 6.7h0M16.3 23.8h0M21.1 4.8h0M14.1 48.2h0M12.6 27.7h0M45.6 28.5h0M8 24.5h0M48.1 18h0M6.9 15.6h0M26.8 55.2h0M44.3 36.2h0M33.7 55.5h0M22.7 43.2h0M18.3 4.5h0M47.2 29.9h0M14 22.5h0M47.6 43.4h0M13.6 2.8h0M52.6 36.4h0M40.6 18.4h0M18.9 1.9h0" stroke="#187a18" stroke-width="0.5" stroke-linecap="round" fill="none"/>
<path d="M3.4 39.5h0M48.3 28.7h0M20.8 1.8h0M22.3 24.2h0M22.4 10.2h0M38.6 52h0M4.2 26.8h0M19.4 38.4h0M33.4 27.5h0M12.1 29.1h0M8.8 45.2h0M8 25.1h0M24.1 49.8h0M40 16.5h0M18.3 16.4h0M9.1 39.3h0M21.1 46.1h0M22.2 17.1h0M19.9 43.6h0M29.6 13.8h0M2.6 32.1h0M17.8 40.5h0M20.5 40.7h0M11.1 44.4h0M6.9 11.5h0M27.3 40.9h0M38.3 30.4h0M38.5 46h0M16.1 42.8h0M15.1 24.8h0M51.9 35.3h0M26.1 3.9h0M39.3 38.3h0M42.1 8.1h0M15.8 3h0M37.7 43.4h0M26.2 7.1h0M30.7 37.7h0M28.8 24.3h0M40.7 28.7h0M18.2 29.8h0M36 2.3h0M7.7 11h0M17.3 37.4h0M21.8 19.4h0M29.9 43.4h0M27.1 22.8h0M46.6 15.7h0M30.3 7.9h0M35.1 21.4h0M38.1 15.1h0M1.8 35.7h0M51.4 27.6h0M37.5 25.8h0M33.7 17.1h0" stroke="#187a18" stroke-width="1.0" stroke-linecap="round" fill="none"/>
<path d="M18.3 37.4h0M24.7 54.9h0M1.8 27.1h0M6.1 20.2h0M18.7 39.5h0M28.8 0.8h0M30.1 27.2h0M15.1 39.4h0M19.4 32.1h0M21.4 42.3h0M9 30h0M27.7 15.6h0M25.5 48.2h0M29.3 4.6h0M20.2 14.5h0M29.1 23.9h0M50.5 18.5h0M27 25.9h0M34.5 13.9h0M29.2 41.4h0M31.5 46.1h0M12.5 52h0M10.4 43.2h0M22.6 15.6h0M39.4 37.5h0M30.4 33.8h0M40.6 41.7h0M7.1 10.9h0M16.9 28.6h0M19 53.7h0M53.1 30.5h0M25.1 20.5h0M14.3 14.4h0M3 29.1h0M7.8 32.8h0M46 33.6h0M21.6 54.7h0M7.9 37h0M3.4 37.1h0M20.5 3.5h0M31.3 22h0M10.5 44.7h0M17.8 55.5h0M12.2 13.6h0M15.5 50.5h0M1.2 32.3h0M50.7 30.3h0M42 40h0M40.8 32.1h0M38.2 53.3h0M39.3 52.8h0M19.8 28.1h0M14.3 4h0M17.7 43.7h0M24.9 49.3h0" stroke="#126012" stroke-width="1.0" stroke-linecap="round" fill="none"/>
<path d="M26.9 33.8h0M48.8 18.6h0M13.4 21.6h0M32 28.7h0M24.9 54.3h0M19.2 40.3h0M39.4 53.3h0M17.7 4.9h0M30.5 26.2h0M41.8 6.9h0M52.2 33.8h0M33 37.2h0M40.1 53.3h0M13 28.6h0M32.1 9.6h0M21.5 44.3h0M24 8.5h0M42.6 40.7h0M26.7 23.6h0M24.2 39.9h0M19.4 1.6h0M24.3 30.3h0M5.4 12.9h0M15.2 11.8h0" stroke="#1e961e" stroke-width="0.5" stroke-linecap="round" fill="none"/>
<path d="M16.9 49.6h0M46.3 47.3h0M31.1 23.4h0M7.3 17.1h0M38.9 12.8h0M15.5 40.9h0M14.5 2.4h0M48.2 26.3h0M3.3 39.5h0M18.6 30.1h0M34.4 10.9h0M35.5 26.7h0M45.1 6.9h0M32.7 44.5h0M27.6 40.5h0M5.8 8h0M27.4 8.5h0M19.7 27.9h0M5.4 16.1h0M11.5 18.9h0" stroke="#30d030" stroke-width="1.5" stroke-linecap="round" fill="none"/>
<text x="52.2" y="54.7" font-size="5.3" text-anchor="end" fill="#fff" font-weight="bold">5μm</text>
<rect x="40.9" y="55.8" width="11.8" height="1.1" fill="#fff" stroke="none" stroke-width="1"/>
</svg>
<svg x="441.8" y="796" width="54.4" height="58.3" overflow="hidden">
<rect x="0" y="0" width="54.4" height="58.3" fill="#000" stroke="none" stroke-width="1"/>
<ellipse cx="3" cy="1" rx="9" ry="4" transform="rotate(0 3 1)" fill="#16169a" opacity="0.41" filter="url(#b1)"/>
<ellipse cx="3" cy="1" rx="8.73" ry="3.88" transform="rotate(0 3 1)" fill="none" stroke="#3030ff" stroke-width="1.28" opacity="0.5" stroke-dasharray="3 1.5 1 2" filter="url(#b05)"/>
<g opacity="0.66">
<path d="M11.1 1.9h0M-3.4 -1.4h0M-1.1 1.9h0M-1 -1.6h0M3.8 3h0M5.1 0.4h0M2.3 -0.5h0M-1.7 3.8h0M5 0.8h0M-2.5 2.3h0M-4.3 2.9h0M7.2 2.5h0M-3.1 -0h0M1.9 -0.6h0M-1.9 3.5h0M-1.3 3.9h0M5.7 2.4h0M9.3 -1.2h0" stroke="#2a2ad0" stroke-width="0.9" stroke-linecap="round" fill="none"/>
</g>
<path d="M0.6 0.2L1.8 0.2M-0.1 -0.7L-0.9 -0.8M6.5 -0.2L2.6 0.3M2.1 2.2L3.7 2.3" stroke="#2c2ce8" stroke-width="0.8" opacity="0.55" fill="none" filter="url(#b05)"/>
<ellipse cx="20" cy="9" rx="9" ry="7" transform="rotate(0 20 9)" fill="#16169a" opacity="0.17" filter="url(#b1)"/>
<ellipse cx="20" cy="9" rx="8.73" ry="6.79" transform="rotate(0 20 9)" fill="none" stroke="#1818b0" stroke-width="0.72" opacity="0.2" stroke-dasharray="3 1.5 1 2" filter="url(#b05)"/>
<g opacity="0.26">
<path d="M22.4 13.4h0M16.4 11.9h0M19.5 6.4h0M20 5.4h0M23.3 9.1h0M20.9 2.6h0M25 7.3h0M19.6 3.1h0M21.4 5.9h0M21.8 14h0M27.8 10.8h0M18.7 2.5h0M28.2 9.9h0M25.3 11.8h0M23 12.2h0M19.6 8.9h0M21 8.2h0M25.3 9.8h0M12.3 11.8h0M22.9 10.9h0M23.8 14.3h0M21.7 12.8h0M19.4 3.8h0M18.4 6.3h0M11.5 10.2h0M16.4 12.9h0M17.7 6.3h0M19.7 10.9h0M13.5 7.6h0M17.3 7.4h0M21.1 3.1h0" stroke="#2a2ad0" stroke-width="0.9" stroke-linecap="round" fill="none"/>
</g>
<path d="M15.7 13L17.3 13M15.3 5.2L15.7 5.6M25.3 13.2L29.4 12.5M24.3 10.8L20.9 10.1" stroke="#2c2ce8" stroke-width="0.8" opacity="0.22" fill="none" filter="url(#b05)"/>
<ellipse cx="34" cy="40" rx="10" ry="10" transform="rotate(0 34 40)" fill="#16169a" opacity="0.17" filter="url(#b1)"/>
<ellipse cx="34" cy="40" rx="9.7" ry="9.7" transform="rotate(0 34 40)" fill="none" stroke="#1818b0" stroke-width="0.72" opacity="0.2" stroke-dasharray="3 1.5 1 2" filter="url(#b05)"/>
<g opacity="0.26">
<path d="M34.9 33h0M41.2 34h0M29.6 33h0M40.3 44.8h0M35.1 37.5h0M34.1 38.1h0M35.7 44.1h0M36.9 45.7h0M30.7 48.9h0M26.6 44.5h0M32.2 41.3h0M26.7 36.5h0M37.9 46.3h0M27.3 39.9h0M39.1 35.2h0M32 46.8h0M38.6 32.8h0M28.3 39.8h0M40.2 37.5h0M37.3 47.8h0M31.5 34.5h0M38.1 43.5h0M35.9 30.7h0M27.9 35.4h0M34.8 30.3h0M39.3 47.5h0M26.9 34.5h0M37.9 34.5h0M36.4 38.6h0M38 43h0M38.6 48.4h0M39.8 35.6h0M35.7 49.3h0M32.9 43.5h0M32.5 33.4h0M38.6 43.2h0M32.4 39.1h0M36.9 45.6h0M40.9 42.9h0M35 35.5h0M32.6 34.9h0M35.1 45.9h0M43.1 36h0M27.3 38.8h0M31.4 36.6h0M31.8 48.7h0M28.1 33.8h0M40 43h0M28.2 44.9h0M39.7 39.3h0" stroke="#2a2ad0" stroke-width="0.9" stroke-linecap="round" fill="none"/>
</g>
<path d="M28.7 35.3L30.8 37.7M38.7 41.2L42.9 42M34.8 36.1L32.3 37.3M35.4 42.2L39.4 39.6" stroke="#2c2ce8" stroke-width="0.8" opacity="0.22" fill="none" filter="url(#b05)"/>
<text x="52.2" y="54.7" font-size="5.3" text-anchor="end" fill="#fff" font-weight="bold">5μm</text>
<rect x="40.9" y="55.8" width="11.8" height="1.1" fill="#fff" stroke="none" stroke-width="1"/>
</svg>
<svg x="497.8" y="796" width="54.4" height="58.3" overflow="hidden">
<rect x="0" y="0" width="54.4" height="58.3" fill="#000" stroke="none" stroke-width="1"/>
<ellipse cx="3" cy="1" rx="9" ry="4" transform="rotate(0 3 1)" fill="#16169a" opacity="0.38" filter="url(#b1)"/>
<ellipse cx="3" cy="1" rx="8.73" ry="3.88" transform="rotate(0 3 1)" fill="none" stroke="#3030ff" stroke-width="1.12" opacity="0.45" stroke-dasharray="3 1.5 1 2" filter="url(#b05)"/>
<g opacity="0.6">
<path d="M3 -2.4h0M-5.2 1.1h0M2.7 -1.5h0M-2.1 1.9h0M4.6 -0.3h0M-3.4 -0.2h0M-0.6 -1.4h0M-2.2 2.1h0M-0.2 1.3h0M2.6 -0.6h0M-1.4 3.2h0M9.9 1.3h0M-2.5 -1.8h0M11.3 2h0M-0.6 0.9h0M-0.5 4.1h0M8.2 3.5h0M11.7 0.6h0" stroke="#2a2ad0" stroke-width="0.9" stroke-linecap="round" fill="none"/>
</g>
<path d="M1.6 3L4.8 2.2M7.4 1.9L5.5 1.3M1.6 3.3L-0.5 2.3M2.9 -0.4L-0 -1.4" stroke="#2c2ce8" stroke-width="0.8" opacity="0.5" fill="none" filter="url(#b05)"/>
<ellipse cx="20" cy="9" rx="9" ry="7" transform="rotate(0 20 9)" fill="#16169a" opacity="0.17" filter="url(#b1)"/>
<ellipse cx="20" cy="9" rx="8.73" ry="6.79" transform="rotate(0 20 9)" fill="none" stroke="#1818b0" stroke-width="0.64" opacity="0.2" stroke-dasharray="3 1.5 1 2" filter="url(#b05)"/>
<g opacity="0.26">
<path d="M28.3 10.4h0M22.5 8.7h0M21.8 7.8h0M20.8 9.7h0M13.2 13.4h0M14.5 7.4h0M25 13.9h0M16.1 8.8h0M21.9 12.1h0M23.8 2.7h0M17.3 9.5h0M11.5 9.4h0M20.1 8.3h0M21.8 11.5h0M16.8 8.6h0M16.2 7h0M25.1 11.5h0M23.9 11.3h0M23 6.6h0M18.4 10.7h0M18.4 12.7h0M20.6 13h0M19 6.4h0M19.4 6.8h0M20.2 8.4h0M21.6 9.2h0M22.8 11.9h0M20.6 12.2h0M13.1 8h0M17.7 14.2h0M16.5 9.2h0" stroke="#2a2ad0" stroke-width="0.9" stroke-linecap="round" fill="none"/>
</g>
<path d="M17.1 10.7L20.8 9.8M21 11.9L17.7 10.5M22.2 6.2L25.7 5.7M24 10.3L26.2 9.8" stroke="#2c2ce8" stroke-width="0.8" opacity="0.22" fill="none" filter="url(#b05)"/>
<ellipse cx="34" cy="40" rx="10" ry="10" transform="rotate(0 34 40)" fill="#16169a" opacity="0.17" filter="url(#b1)"/>
<ellipse cx="34" cy="40" rx="9.7" ry="9.7" transform="rotate(0 34 40)" fill="none" stroke="#1818b0" stroke-width="0.64" opacity="0.2" stroke-dasharray="3 1.5 1 2" filter="url(#b05)"/>
<g opacity="0.26">
<path d="M27.8 40.1h0M31.5 44.9h0M28.4 36.4h0M32.2 47.6h0M37.1 36.2h0M36.4 34.5h0M31.7 34.8h0M31.6 43h0M37.2 47.8h0M30.7 40.8h0M27.5 47.2h0M36.2 39.7h0M34.4 38.7h0M37.9 46.7h0M32 47.6h0M32.1 37.8h0M43.6 38.4h0M26.9 37.6h0M36.6 36.9h0M38 47.8h0M35 46.4h0M29.7 35.8h0M30.9 38.1h0M41.5 44.2h0M25.1 38.2h0M31.5 30.5h0M38.5 38.6h0M36.9 45.6h0M32.4 38.4h0M31.9 38.2h0M33.6 48.8h0M25.2 44.2h0M27.4 44.9h0M33.7 31.2h0M40.7 34.4h0M34.7 39.2h0M31.9 35.8h0M37.5 33.5h0M25 41h0M43.3 40.8h0M24.2 38.4h0M36.7 47.4h0M40.2 36.6h0M36.2 32.7h0M39.1 42.3h0M34.2 41.5h0M35.7 44.9h0M28.1 37h0M32.8 34.7h0M37 44.1h0" stroke="#2a2ad0" stroke-width="0.9" stroke-linecap="round" fill="none"/>
</g>
<path d="M39.6 42.8L40.6 45.3M40 41.3L40.6 39.7M31.1 40.2L26.8 39.7M32.8 44.3L32.1 44" stroke="#2c2ce8" stroke-width="0.8" opacity="0.22" fill="none" filter="url(#b05)"/>
<path d="M21.3 31.2h0M43.1 41.4h0M24.5 37.8h0M16.5 10.8h0M26.7 26.7h0M18.2 1.7h0M11.3 33.9h0M41.6 53.2h0" stroke="#c01c1c" stroke-width="1.5" stroke-linecap="round" fill="none"/>
<path d="M41.2 10.9h0M27.9 54.4h0M37.8 50.4h0M31.5 27.9h0M4.4 30.4h0M5.8 38.6h0M11.3 36.7h0M37.1 16.2h0M35.9 55h0M20.4 21.1h0M27.7 52.2h0M25 7.7h0M39.2 28h0M32 26.5h0M18 31.9h0M5.7 43.7h0M31.4 37.7h0M9.1 13.2h0M29.4 19.1h0M26.1 15.4h0" stroke="#e05020" stroke-width="1.0" stroke-linecap="round" fill="none"/>
<path d="M5.1 34.2h0M11.5 20.7h0M41.2 23.1h0M34.4 18.3h0M39.2 14.5h0M17.3 38.1h0M23.1 26.1h0M28.6 28.2h0M14.9 22.5h0M28 10.8h0M23.8 2.6h0M24.3 14.5h0M16.1 14.4h0M36.7 22.6h0M14.4 53.7h0M11.8 5.1h0M46 19h0" stroke="#781010" stroke-width="1.0" stroke-linecap="round" fill="none"/>
<path d="M12.9 8.7h0M29.1 22.7h0M23.1 12.4h0M35.8 23.3h0M46.1 14.1h0M28.1 6.7h0M31.9 44.9h0M30.4 27.3h0M9.5 43.6h0M44.2 17.6h0M37.5 45.4h0M52 19.2h0" stroke="#9a1414" stroke-width="1.0" stroke-linecap="round" fill="none"/>
<path d="M31.1 15.6h0" stroke="#dc2828" stroke-width="0.5" stroke-linecap="round" fill="none"/>
<path d="M25.1 34.4h0M32.9 21.7h0M36.3 6h0M21.7 57.3h0M32.5 16.9h0M37.1 46.6h0M18.3 42.8h0M9.6 29.3h0M10.1 27.7h0M12.6 12.2h0M6.2 16.8h0M26.7 19.4h0M9.3 47.6h0M41.2 27.7h0M13.1 10.2h0M39.8 31.8h0M18 17.1h0" stroke="#1e961e" stroke-width="1.0" stroke-linecap="round" fill="none"/>
<path d="M28.9 43.3h0M23.7 22.1h0M7.4 11.7h0M42.2 32.1h0M29.6 47.2h0M11.5 38.6h0M21.8 7.3h0M44.2 21.2h0M15.6 21.5h0M17.1 48.8h0" stroke="#28b028" stroke-width="1.0" stroke-linecap="round" fill="none"/>
<path d="M34.2 26.2h0M14.4 31h0M39 23.2h0" stroke="#e05020" stroke-width="0.5" stroke-linecap="round" fill="none"/>
<path d="M13.5 24.7h0M45.6 24.1h0M42.8 43.6h0M2.1 22.7h0M12.4 28.7h0" stroke="#9a1414" stroke-width="1.5" stroke-linecap="round" fill="none"/>
<path d="M6.9 44.2h0M10.8 17.2h0M18.5 14.3h0M32.2 15h0M36.1 21.4h0M38.3 9.6h0M42.9 40.9h0M36.6 5.3h0M50 42.1h0M8.3 7.7h0M40.4 13.3h0M27.8 51h0M45.7 9.1h0M36.2 55.3h0M17.6 1.8h0" stroke="#f0b020" stroke-width="1.0" stroke-linecap="round" fill="none"/>
<path d="M26.2 4.1h0M38.8 29.4h0M13.2 22.8h0M24.4 17.8h0M52 34.2h0M16.2 4h0M14.7 4.8h0M50.9 19.7h0M14.1 27.4h0M45.1 7.5h0M45.2 38.9h0M8.3 39.8h0M46.4 33.2h0M22.7 21.6h0M22.2 53.2h0M7.4 16.9h0M47.1 42.9h0M46.7 21.8h0M35.8 20.5h0M2.5 21.7h0M21.8 8.9h0M4.6 36.3h0M32.7 31.7h0" stroke="#126012" stroke-width="1.0" stroke-linecap="round" fill="none"/>
<path d="M28.4 51.7h0M19 14.8h0M10.2 43.5h0M36.2 33h0M49.9 21.8h0" stroke="#f0d040" stroke-width="1.5" stroke-linecap="round" fill="none"/>
<path d="M43.4 25.4h0M30.4 6.3h0" stroke="#dc2828" stroke-width="1.5" stroke-linecap="round" fill="none"/>
<path d="M4.3 12h0M15.4 11h0M22.4 9.3h0M34.5 23.4h0M31.3 45.8h0M14.6 25.4h0M36 51.3h0M32.4 16h0M28.2 43.8h0M26.3 44.5h0M51.9 23.8h0M50.3 22.8h0M29.8 37.6h0M27.7 37.1h0M3 39.7h0" stroke="#c01c1c" stroke-width="1.0" stroke-linecap="round" fill="none"/>
<path d="M28.8 37h0M10.8 48.7h0M49.3 35.6h0M28.5 7.2h0M26.8 28.7h0M45.5 25.1h0M42.6 16.4h0M8.7 39.1h0M37.3 32.9h0M17.9 21.4h0M7.4 22.9h0M35.1 15.8h0" stroke="#187a18" stroke-width="1.0" stroke-linecap="round" fill="none"/>
<path d="M30.5 6h0M17 55.7h0M25.2 46.5h0M45.6 29.5h0M36.6 53.2h0M26.2 7.8h0" stroke="#28b028" stroke-width="1.5" stroke-linecap="round" fill="none"/>
<path d="M13 43.6h0M51.6 29.6h0M24.8 44.3h0M28 15.2h0M11.6 3.6h0M13.4 49.2h0" stroke="#187a18" stroke-width="1.5" stroke-linecap="round" fill="none"/>
<path d="M47.5 38.5h0M40.2 24.7h0M19.6 39h0M33.3 44.5h0M41.9 12.5h0M8.8 31.5h0M36.1 39.3h0M19.5 25.9h0M30.4 12.8h0M27.7 5.4h0M35.7 53.8h0" stroke="#dc2828" stroke-width="1.0" stroke-linecap="round" fill="none"/>
<path d="M17.2 17.9h0M33.9 42.2h0M26.4 31.4h0M25.5 51.5h0M6.8 37.6h0M38.9 23.7h0M1.8 36.8h0M6.9 13.9h0M11 29.1h0M31.5 45.3h0M43.9 25.5h0M22.9 12.4h0M17.2 7.3h0M29.2 25h0M40.7 46.2h0M36.8 12.8h0" stroke="#e08020" stroke-width="1.0" stroke-linecap="round" fill="none"/>
<path d="M18.7 51.9h0" stroke="#28b028" stroke-width="0.5" stroke-linecap="round" fill="none"/>
<path d="M14.8 21.9h0M9.4 16.5h0M39.7 51.2h0M35.4 42.7h0M32.1 40h0M52.8 19.1h0M48.7 30.6h0M41.1 40.7h0M23.5 0.2h0M46.4 28.8h0M44.1 10.6h0M28.5 25.8h0M23 3.7h0M52.7 20.3h0" stroke="#f0d040" stroke-width="1.0" stroke-linecap="round" fill="none"/>
<path d="M28.2 36.9h0M35.7 0.7h0M31.9 31.3h0" stroke="#187a18" stroke-width="0.5" stroke-linecap="round" fill="none"/>
<path d="M8.4 34h0M24.2 4.7h0M37 45.3h0M13.3 8.6h0M40.1 14.7h0" stroke="#c01c1c" stroke-width="0.5" stroke-linecap="round" fill="none"/>
<path d="M9.7 8.6h0M45.3 20.1h0M43.6 4.6h0M27.5 36.1h0M39.7 40.8h0M13.6 11.8h0" stroke="#e08020" stroke-width="1.5" stroke-linecap="round" fill="none"/>
<path d="M39.8 46.4h0M26.8 15.9h0M29.6 16.1h0M33.7 20.5h0" stroke="#1e961e" stroke-width="1.5" stroke-linecap="round" fill="none"/>
<path d="M49.5 36.6h0" stroke="#781010" stroke-width="0.5" stroke-linecap="round" fill="none"/>
<path d="M46.8 9.8h0M40.9 39.1h0" stroke="#126012" stroke-width="1.5" stroke-linecap="round" fill="none"/>
<path d="M8.9 26.9h0M21.8 56.5h0" stroke="#f0b020" stroke-width="0.5" stroke-linecap="round" fill="none"/>
<path d="M21.7 9.1h0M8.3 31.6h0M47.3 14.3h0M6.9 28.9h0M7.1 22.3h0M37.8 50.7h0M50.9 24.6h0M21.1 5.5h0" stroke="#e05020" stroke-width="1.5" stroke-linecap="round" fill="none"/>
<path d="M17.2 21.6h0M37.8 26.2h0" stroke="#781010" stroke-width="1.5" stroke-linecap="round" fill="none"/>
<path d="M8.9 6.1h0M37.8 48.9h0" stroke="#f0d040" stroke-width="0.5" stroke-linecap="round" fill="none"/>
<path d="M47.1 45.1h0M39.7 27.3h0M46.6 10.5h0" stroke="#f0b020" stroke-width="1.5" stroke-linecap="round" fill="none"/>
<path d="M31.7 43.8h0" stroke="#1e961e" stroke-width="0.5" stroke-linecap="round" fill="none"/>
<path d="M26.4 41.1h0" stroke="#e08020" stroke-width="0.5" stroke-linecap="round" fill="none"/>
<rect x="25.8" y="4.2" width="24.4" height="25.3" fill="none" stroke="#e8e8e8" stroke-width="0.9"/>
<text x="52.2" y="54.7" font-size="5.3" text-anchor="end" fill="#fff" font-weight="bold">5μm</text>
<rect x="40.9" y="55.8" width="11.8" height="1.1" fill="#fff" stroke="none" stroke-width="1"/>
</svg>
<svg x="554" y="796" width="54.4" height="58.3" overflow="hidden">
<rect x="0" y="0" width="54.4" height="58.3" fill="#000" stroke="none" stroke-width="1"/>
<path d="M6.6 37h0M7.1 31.4h0" stroke="#c01c1c" stroke-width="1.0" stroke-linecap="round" fill="none"/>
<path d="M25.8 35.8h0M18.4 6.7h0M46.7 11.7h0" stroke="#126012" stroke-width="1.5" stroke-linecap="round" fill="none"/>
<path d="M44.4 3.7h0M51.8 52.3h0M10 19.5h0M12.6 42.8h0M17 49.1h0M13.8 33.8h0" stroke="#c01c1c" stroke-width="1.5" stroke-linecap="round" fill="none"/>
<path d="M18.2 41h0M40.7 48.6h0M25.6 46.5h0M39.3 19.4h0M3.1 3.6h0" stroke="#781010" stroke-width="1.5" stroke-linecap="round" fill="none"/>
<path d="M51.1 15.9h0M37.4 18.8h0M7.7 11.2h0M23.7 53.4h0M28.5 28.9h0" stroke="#1e961e" stroke-width="1.5" stroke-linecap="round" fill="none"/>
<path d="M0.6 21.6h0M22.7 29.5h0M7.5 32.2h0" stroke="#1e961e" stroke-width="1.0" stroke-linecap="round" fill="none"/>
<path d="M36.3 11.1h0" stroke="#126012" stroke-width="2.0" stroke-linecap="round" fill="none"/>
<path d="M48.2 45.1h0" stroke="#9a1414" stroke-width="2.0" stroke-linecap="round" fill="none"/>
<path d="M25.2 45.5h0M39.2 42.2h0M49.9 37.5h0" stroke="#dc2828" stroke-width="1.0" stroke-linecap="round" fill="none"/>
<path d="M25.1 23.1h0M5.7 4.4h0M46.1 54h0" stroke="#781010" stroke-width="1.0" stroke-linecap="round" fill="none"/>
<path d="M21.8 6.5h0M13.6 50.5h0M16.9 6.8h0" stroke="#9a1414" stroke-width="1.5" stroke-linecap="round" fill="none"/>
<path d="M48.5 28.3h0M18 45.4h0M31.1 33.6h0M1.6 39.7h0M36.5 10.5h0M34.7 56.2h0" stroke="#dc2828" stroke-width="1.5" stroke-linecap="round" fill="none"/>
<path d="M42.1 18.1h0" stroke="#9a1414" stroke-width="1.0" stroke-linecap="round" fill="none"/>
<path d="M31.5 17.1h0M11.4 7h0M22.1 32.4h0M34.1 44.7h0M23 51.8h0" stroke="#28b028" stroke-width="1.0" stroke-linecap="round" fill="none"/>
<path d="M6.9 33.6h0M52.3 30.5h0M4.1 35.6h0M13 24.2h0M43.6 21.3h0M13.3 22.3h0M14.7 48.1h0M2.1 34.9h0" stroke="#28b028" stroke-width="1.5" stroke-linecap="round" fill="none"/>
<path d="M31.1 41.9h0" stroke="#187a18" stroke-width="1.0" stroke-linecap="round" fill="none"/>
<path d="M52.9 24.7h0" stroke="#781010" stroke-width="2.0" stroke-linecap="round" fill="none"/>
<path d="M44.5 14h0" stroke="#187a18" stroke-width="1.5" stroke-linecap="round" fill="none"/>
<path d="M5.6 53.6h0M37.2 12.8h0" stroke="#126012" stroke-width="1.0" stroke-linecap="round" fill="none"/>
<path d="M20.7 47.7h0M9 23.8h0M27.9 31.6h0M44.7 17.1h0M50.1 21.6h0M46.4 21.7h0M17 49.1h0M38.3 25.2h0" stroke="#f05020" stroke-width="2.5" stroke-linecap="round" fill="none"/>
<path d="M16.9 19.3h0M42 24.3h0M48 21.7h0M21.7 7.5h0M22 47.6h0" stroke="#e03020" stroke-width="2.0" stroke-linecap="round" fill="none"/>
<path d="M23 23.9h0M35.6 45.6h0M7.5 22.7h0M44.9 45.4h0M31.2 9.6h0M10 17.2h0M34.5 43.5h0M35.7 6.1h0" stroke="#e03020" stroke-width="2.5" stroke-linecap="round" fill="none"/>
<path d="M6.1 32.7h0M6.2 44.1h0M24.7 38.5h0M10.3 40.3h0M39.6 9.4h0M14.5 23h0M47 42.6h0" stroke="#f08020" stroke-width="2.5" stroke-linecap="round" fill="none"/>
<path d="M35.3 22.1h0M48.9 39.7h0" stroke="#f0b020" stroke-width="2.5" stroke-linecap="round" fill="none"/>
<path d="M16 34.5h0M29.5 52.9h0M22.1 43.3h0M38.3 51.4h0M39.2 24.4h0" stroke="#f05020" stroke-width="2.0" stroke-linecap="round" fill="none"/>
<path d="M19.2 12.6h0M38.5 28.7h0M36.1 28.3h0M15 25.1h0" stroke="#f08020" stroke-width="2.0" stroke-linecap="round" fill="none"/>
<path d="M21.4 54.7h0M30.3 21.8h0M28.5 16.5h0M40.8 19.7h0" stroke="#f0b020" stroke-width="2.0" stroke-linecap="round" fill="none"/>
<path d="M34.2 48.7h0" stroke="#f08020" stroke-width="3.0" stroke-linecap="round" fill="none"/>
<path d="M29.7 34.8h0" stroke="#f05020" stroke-width="3.0" stroke-linecap="round" fill="none"/>
<path d="M30.5 14h0M40.8 1.5h0M51.3 14h0M48.8 40.6h0M42.5 33.9h0M50.1 44.1h0M11.7 19.1h0M1.6 15.1h0M29.7 39.6h0M49.1 53h0M22.4 55.3h0" stroke="#30d030" stroke-width="1.5" stroke-linecap="round" fill="none"/>
<path d="M25.2 9.1h0M4.8 56.1h0M23.4 14.7h0M36.8 11.1h0M23.6 19h0M49.6 9h0" stroke="#20c020" stroke-width="2.0" stroke-linecap="round" fill="none"/>
<path d="M49 44.4h0M5.3 50.3h0M11.6 15.9h0M17 13.3h0M9.7 33.8h0M23.6 32h0M48.5 53.3h0" stroke="#30d030" stroke-width="2.0" stroke-linecap="round" fill="none"/>
<path d="M33.7 30.4h0M17.8 3.7h0" stroke="#30d030" stroke-width="1.0" stroke-linecap="round" fill="none"/>
<path d="M18.8 46.3h0M1.1 2.4h0M45.7 54.9h0M2.7 18.8h0M14.7 42h0M48.3 0.8h0M49 45.1h0M3.2 7.5h0M18.7 40.9h0" stroke="#20c020" stroke-width="1.5" stroke-linecap="round" fill="none"/>
<path d="M19 12L21.2 9.8" stroke="#fff" stroke-width="1.3" fill="none"/>
<path d="M21.4 11.8L22 9L19.2 9.6" stroke="#fff" stroke-width="0.5" fill="#fff"/>
<path d="M33.9 16.6L35.4 14" stroke="#fff" stroke-width="1.3" fill="none"/>
<path d="M36.1 15.8L36 13L33.5 14.3" stroke="#fff" stroke-width="0.5" fill="#fff"/>
<path d="M46 31L43.8 28.8" stroke="#fff" stroke-width="1.3" fill="none"/>
<path d="M45.8 28.6L43 28L43.6 30.8" stroke="#fff" stroke-width="0.5" fill="#fff"/>
<path d="M19 48L21.2 45.8" stroke="#fff" stroke-width="1.3" fill="none"/>
<path d="M21.4 47.8L22 45L19.2 45.6" stroke="#fff" stroke-width="0.5" fill="#fff"/>
<path d="M40 45L37.8 42.8" stroke="#fff" stroke-width="1.3" fill="none"/>
<path d="M39.8 42.6L37 42L37.6 44.8" stroke="#fff" stroke-width="0.5" fill="#fff"/>
<path d="M23.8 7.2h0M37.3 10.7h0M41.2 26.2h0M23.8 43.2h0M35.2 40.2h0" stroke="#f0a020" stroke-width="2.6" stroke-linecap="round" fill="none"/>
<path d="M23.8 7.2h0M37.3 10.7h0M41.2 26.2h0M23.8 43.2h0M35.2 40.2h0" stroke="#f8e040" stroke-width="1.4" stroke-linecap="round" fill="none"/>
<text x="52.2" y="54.7" font-size="5.3" text-anchor="end" fill="#fff" font-weight="bold">2μm</text>
<rect x="40.9" y="55.8" width="11.8" height="1.1" fill="#fff" stroke="none" stroke-width="1"/>
</svg>
</svg></div></body></html>
